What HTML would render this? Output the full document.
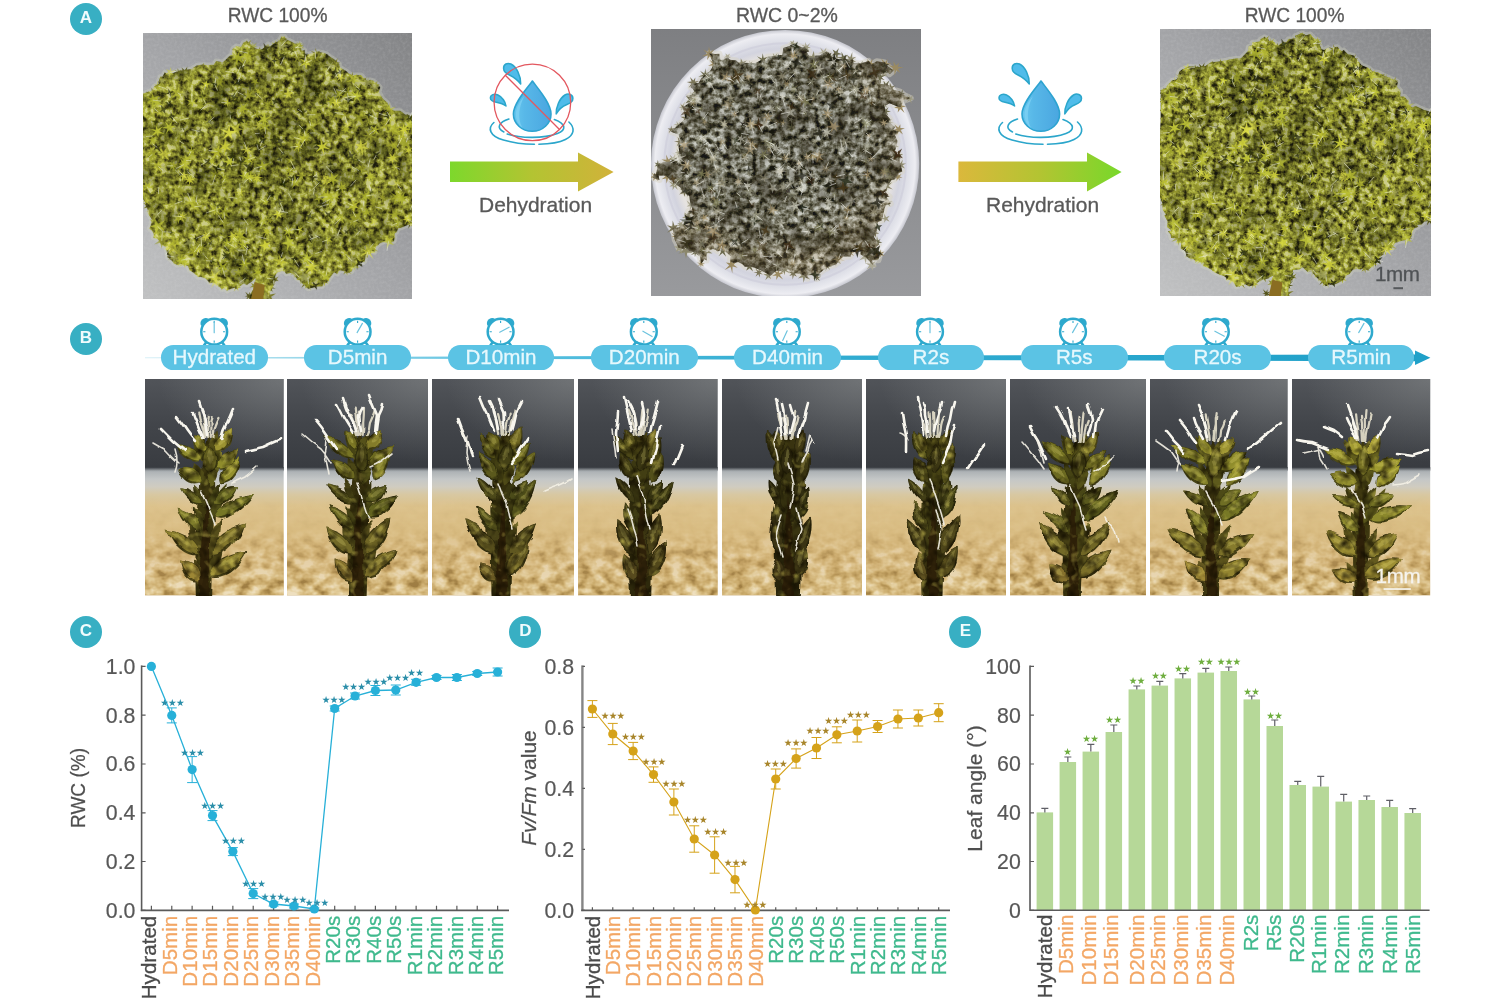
<!DOCTYPE html>
<html lang="en">
<head>
<meta charset="utf-8">
<title>Moss dehydration and rehydration figure</title>
<style>
html,body{margin:0;padding:0;background:#fff;}
body{width:1500px;height:1000px;overflow:hidden;font-family:"Liberation Sans",sans-serif;color:#555;}
#fig{position:relative;width:1500px;height:1000px;overflow:hidden;background:#fff;}
.panel{position:absolute;left:0;top:0;width:1500px;height:0;}
.badge{position:absolute;width:32px;height:32px;border-radius:50%;background:#38afc3;color:#f0fcfd;font-weight:bold;font-size:17px;line-height:30.6px;text-align:center;}
.cap{position:absolute;-webkit-text-stroke:0.3px #595959;font-size:20.6px;line-height:22px;color:#595959;white-space:nowrap;text-align:center;}
.photo{position:absolute;overflow:hidden;}
.photo svg{display:block;position:absolute;left:0;top:0;}
.cap span{display:inline-block;transform-origin:50% 50%;}
.pill{position:absolute;top:345.3px;height:24.6px;width:106.6px;border-radius:12.3px;background:#5bc3e4;color:#e6f8fd;-webkit-text-stroke:0.3px #e6f8fd;font-size:20.6px;line-height:24.4px;text-align:center;white-space:nowrap;}
.layer{position:absolute;left:0;top:0;}
svg text{font-family:"Liberation Sans",sans-serif;}
.star{font-family:"DejaVu Sans","Liberation Sans",sans-serif;}
</style>
</head>
<body>
<div id="fig">
<section class="panel" id="panel-a">
<div class="badge" style="left:69.8px;top:3px">A</div>
<div class="cap" style="left:177.7px;top:3.9px;width:200px"><span style="transform:scaleX(0.93)">RWC 100%</span></div>
<div class="cap" style="left:686.7px;top:3.9px;width:200px"><span style="transform:scaleX(0.945)">RWC 0~2%</span></div>
<div class="cap" style="left:1195px;top:3.9px;width:200px"><span style="transform:scaleX(0.93)">RWC 100%</span></div>
<div class="photo" style="left:143px;top:33px;width:269.4px;height:266px">
<svg width="269.4" height="266" viewBox="0 0 269.4 266" role="img" aria-label="moss cushion photograph">
<defs>
<linearGradient id="m1bg" x1="1" y1="0" x2="0" y2="1"><stop offset="0" stop-color="#838486"/><stop offset="0.5" stop-color="#a3a4a7"/><stop offset="1" stop-color="#c0c1c2"/></linearGradient>
<filter id="m1n" x="0" y="0" width="100%" height="100%" color-interpolation-filters="sRGB"><feTurbulence type="fractalNoise" baseFrequency="0.17 0.17" numOctaves="3" seed="3" result="n"/><feColorMatrix in="n" type="matrix" values="2.1 0 0 0 -0.46  2.1 0 0 0 -0.46  2.1 0 0 0 -0.46  0 0 0 0 1" result="g"/><feComponentTransfer in="g" result="c"><feFuncR type="table" tableValues="0.110 0.212 0.353 0.471 0.573 0.667 0.761 0.847"/><feFuncG type="table" tableValues="0.106 0.204 0.345 0.471 0.580 0.682 0.776 0.847"/><feFuncB type="table" tableValues="0.039 0.071 0.125 0.165 0.196 0.227 0.329 0.565"/></feComponentTransfer><feComposite in="c" in2="SourceAlpha" operator="in"/></filter>
<filter id="m1gr" x="0" y="0" width="100%" height="100%"><feTurbulence type="fractalNoise" baseFrequency="0.35" numOctaves="2" seed="5"/><feColorMatrix type="matrix" values="0 0 0 0 0.85  0 0 0 0 0.85  0 0 0 0 0.86  0.8 0 0 0 -0.3"/></filter>
<filter id="m1bl" x="-5%" y="-5%" width="110%" height="110%"><feGaussianBlur stdDeviation="0.7"/></filter>
<filter id="m1lf" x="0" y="0" width="100%" height="100%" color-interpolation-filters="sRGB"><feTurbulence type="fractalNoise" baseFrequency="0.045" numOctaves="2" seed="10"/><feColorMatrix type="matrix" values="0 0 0 0 0.08  0 0 0 0 0.09  0 0 0 0 0.02  3.2 0 0 0 -1.35"/><feComposite in2="SourceAlpha" operator="in"/></filter>
<radialGradient id="m1sh" cx="0.52" cy="0.42" r="0.6"><stop offset="0" stop-color="#0a0c00" stop-opacity="0.16"/><stop offset="0.55" stop-color="#0a0c00" stop-opacity="0.05"/><stop offset="1" stop-color="#e8ea40" stop-opacity="0.16"/></radialGradient>
</defs>
<rect width="269.4" height="266" fill="url(#m1bg)"/>
<rect width="269.4" height="266" filter="url(#m1gr)" opacity="0.3"/>
<g filter="url(#m1bl)">
<path d="M-0.3 60.8L5.6 58.5L9.4 57.4L11 53.5L15.8 50.8L15.4 48.8L17.3 43.5L19.4 43.8L21.8 39.2L24.3 41.5L29.6 40.3L35.4 37.9L39.7 37.2L42.6 36.7L48.5 36L53.6 32.5L59.5 31.6L63.9 31.9L70.7 31.8L73.1 27.9L79.5 29.2L82.2 27.2L86.4 23.1L88.8 21.8L89.7 15.8L93.4 13.1L98 14L100.4 9.6L103.8 8.1L106.6 11.6L109.9 13.6L113.4 16L117 16L118.8 16.5L125.2 11L126.8 13.7L130.8 10.4L133.1 9L136.2 7.9L138.4 3.4L141.3 3.3L142.8 6L150.1 9.6L151.2 10.6L157 10.7L156.6 11.3L158.5 18.1L161.5 16.8L162.4 22.3L164.2 21.6L169.8 19.9L173.2 19.4L174.9 18.7L180.3 19.8L184.1 21.2L186 23.1L191.3 26.4L196.3 31.1L196.4 33.1L197.8 34.9L203.1 37.9L205.7 40.4L209.4 42L218.1 41.9L220.5 44.8L224.9 48L227.1 46.8L230.4 47.8L233.9 50.8L237.2 54.3L235.9 58.7L238 62.9L240.5 66.6L242.2 67.7L244.4 69.8L247.4 75.8L250.9 77.7L257.2 77.8L262.4 81.7L264.6 81.5L271.4 85.3L270.4 109.5L273.2 138.9L269.6 166.9L271.9 190.6L267.5 193.2L266.3 191.2L257.3 194.9L255.5 194.9L253.4 199.2L251.6 200.6L251.7 205.1L250.9 208.3L245.6 209.1L242.7 207.7L236.4 210.5L234 212.9L233.3 213.2L231.7 219.1L227.6 218.1L225.5 220.2L223 221L221.7 228.5L216.8 229.5L215.8 231.1L213.1 231L210.3 235.1L208.6 238.6L204.4 239.9L202.7 237.9L196.5 237.3L194.4 240.9L191 239.3L187.3 244L187.6 243.9L183.6 249.8L180.8 249.7L179.5 253.2L174.2 253.4L166.8 255.3L165.1 255.8L160.5 251.5L156.8 247.2L153.8 245.5L148.8 239.7L143.1 240.7L141.5 238.6L138.8 238.1L134 239.5L130.2 245.9L130.5 252.4L126.6 259.8L125 268.3L120.4 271L116 270.3L113.4 269.3L105.6 269.1L107.6 260.4L110 256.8L112.2 249.5L112.7 244.8L108.5 248.8L103.8 251.8L100.4 250.6L93.6 256L91.3 254.8L84.9 257.1L84.3 257.7L80.8 254.9L79.1 256.2L73.9 251.4L70.8 249.5L66.4 249.4L62.7 245.4L57.7 243.7L55.1 244.1L50.9 240L46.4 237.2L45.6 234.5L45.1 233.3L39.5 230.8L34.3 232L31.2 230.4L28.4 227.3L26.3 225.4L24.6 224.4L23.9 219.5L22.8 213.7L21.4 213.2L17.7 211.2L16.3 208.1L14.7 206.1L10.4 204.7L10.8 201L9.1 197.7L6.3 195.6L8.5 190.7L8.8 186.5L4.7 179.8L6.3 179L2.5 172L2.3 169.2L-1.3 164.1L-1.7 165.2L-1.8 159L0 134.2L-1.8 108L-2 86.3Z" fill="none" stroke="#d4d6c0" stroke-width="5" stroke-linejoin="round" opacity="0.35"/>
<g><path d="M0.1 60.5L2.6 62.3L3.7 58L3.8 62.3L6.8 61.1L4.9 63.3L7.7 65.1L4.3 64.8L4.6 68.2L2.8 65.2L0.7 67.2L1.6 64.4L-2.6 64.1L1.5 63Z" fill="#55551c"/><path d="M8.8 62.7L8.6 60.2L5.6 59.2L8.7 58.4L8.4 54.5L10.4 57.8L14 56.3L11.3 59.3L13.8 62.1L10.3 60.6Z" fill="#7a7a2a"/><path d="M20.8 56L20.2 52.7L16.7 53.7L19.7 51.4L17 48.8L20.4 50.2L21.2 47.1L21.7 50.3L24.5 49.7L22.3 51.5L25.2 54.1L21.5 52.5Z" fill="#a0a236"/><path d="M31.5 42.2L28 43.8L29.8 46.8L26.9 44.6L25.2 48L25.6 44.3L22.7 44.3L25.5 43L23.3 39.7L26.3 41.8L27.7 39.8L27.8 42.3Z" fill="#6a6a26"/><path d="M38.3 36.4L36.9 38.9L39.6 40L36.8 40.5L37.9 43.6L35.5 41.4L33.4 45.3L34.2 40.7L29.6 41.6L33.8 39.4L31.6 37.3L34.4 38.1L34.8 35.3L35.8 38.1Z" fill="#6a6a26"/><path d="M39.3 45.5L40.3 40.5L36.4 39.9L40.3 38.5L38.4 34.4L41.8 37.2L44.4 33.6L43.5 38L48.1 38.4L44 40L45.6 43.9L42.2 41Z" fill="#55551c"/><path d="M47.5 38.5L51.6 38.4L50.8 34.6L52.9 37.5L55.3 35.8L54.3 38.6L58.1 39.9L53.8 40.1L54.8 44.2L52.5 40.8L49.3 43.6L51.2 39.8Z" fill="#55551c"/><path d="M65 33.7L61.7 35.6L63.1 39.9L59.9 36.6L56.6 39L58.4 35.3L55.1 32.9L59.1 33.3L60.5 29.7L61.2 33.6Z" fill="#8c8c30"/><path d="M70.8 31.1L73 33.1L75 30.3L74.3 33.6L76.7 34.1L74.4 35L75.9 38.5L73.2 35.8L71.4 37.9L71.8 35.2L68.1 34.8L72 33.9Z" fill="#55551c"/><path d="M83.2 29.6L83.5 32.4L86.8 32.5L84 34.3L86.1 37.5L82.7 35.7L81 38.7L80.9 35.2L77.9 35.2L80.5 33.5L78.2 30.2L81.7 32.3Z" fill="#b0b23c"/><path d="M91.8 23.5L92.2 19.6L88.7 20.5L91.7 18.5L88.7 16.3L92 17.2L92.1 13.6L93.5 17.1L96.3 14.8L94.7 17.8L98.4 18.7L94.2 19.2L96 22.4L93.4 20.3Z" fill="#55551c"/><path d="M108.5 6.7L106.6 10.3L109.1 11.6L106 11.8L106.3 14.7L104.6 12.6L101.8 14.7L103.6 11.4L99.4 9.9L103.7 9.9L103.5 7.1L105.2 9.4Z" fill="#8c8c30"/><path d="M122.8 20.9L117.6 19.8L118.2 23.5L116.3 20.9L113.4 23.7L114.7 19.8L111.6 19.3L114.9 18.1L112.9 15.1L115.8 16.7L117 13.7L117.4 17.3L121 15.8L118.6 18.5Z" fill="#7a7a2a"/><path d="M137 14L133.2 13.6L134 17.8L131.8 14.2L129 17.3L130.3 13.5L127.3 13L130.5 11.9L128.4 9L131.4 10.9L132.4 7.6L133.1 10.6L137.3 8.8L133.5 12.2Z" fill="#b0b23c"/><path d="M138.4 3.2L140.7 5.3L141.9 3L141.8 5.6L144.2 5.1L142.3 6.6L144.9 8.5L141.8 7.5L141.7 9.9L140.7 7.7L138.5 9.5L139.8 7.1L136.5 6.4L139.9 6Z" fill="#8c8c30"/><path d="M157.3 9.4L157.9 12.4L161 11.3L158.3 13.8L161.3 15.3L158.1 15L159 18.8L156.9 15.8L154.8 18L155.9 14.8L152.9 14.7L155.6 13.6L152.7 10.1L156.4 12.5Z" fill="#a0a236"/><path d="M156.7 19.1L160.1 23.2L162.3 20.1L161.9 23.9L165.5 23.8L162.1 25.7L166.3 29.5L161.1 26.9L160.6 31L159.6 27.1L154.7 30.5L158.4 25.9L154.8 24.5L158.3 24Z" fill="#8c8c30"/><path d="M167.6 17.8L172.1 19.4L172.6 14.7L173.6 19.1L177.7 17.6L174.3 20.5L177.9 23.3L173.8 22.2L172.9 25L172 22L168.2 23.4L170.9 20.6Z" fill="#7a7a2a"/><path d="M192 35.8L191.2 32.1L187.8 33.6L190.2 30.8L187.2 29.2L190.9 29.4L189.6 24.9L192.1 28.5L194.8 24.9L193.4 29.4L197.3 29.3L193.7 30.8L196.7 34.2L192.8 32Z" fill="#7a7a2a"/><path d="M196.7 41.7L199.8 40.8L199.4 36.9L201.5 40.3L205 38.7L202.2 41.6L204.9 44.4L201.4 42.8L199.7 45.8L199.8 42.6Z" fill="#55551c"/><path d="M204.7 41.7L208.6 43.2L209.2 38.4L210.3 43.4L213.6 41.4L211.7 44.5L214.9 45.8L211.3 46.1L212.3 49.7L209.8 46.9L207.3 51.2L208.3 46.3L203.7 46.9L207.7 44.8Z" fill="#7a7a2a"/><path d="M211.7 50L216.5 48L215.9 43.6L218.9 47L223.8 44.2L220.4 48.9L223.4 51.9L219.2 50.8L217.1 55.8L216.9 50.6Z" fill="#7a7a2a"/><path d="M235.9 55.5L233.1 53.5L231.6 55.5L231.6 53.1L229 52.7L231.7 51.6L230.3 49L232.6 50.8L234.5 47.4L233.8 51.2L236.9 51.3L234.4 52.6Z" fill="#8c8c30"/><path d="M241.5 69.8L237.3 70.1L236.8 73.8L235.2 70.5L230.3 71.5L234.3 68.5L232.6 65.1L235.9 67.1L239.3 62.9L237.6 68.1Z" fill="#6a6a26"/><path d="M238.6 79.1L243.9 78.7L244.6 74.1L246.5 78.5L251.7 77.3L247.7 80.7L250.8 85.8L245.8 82.6L242.9 85.3L243.3 81.4Z" fill="#a0a236"/><path d="M254.5 82.6L256.9 82.2L255.4 79.1L257.8 81.4L259.2 78.5L259 81.7L261.4 81.4L259.3 82.9L262.3 85.2L258.8 83.9L258.6 86.4L257.6 84.2L254.8 86.5L256.7 83.4Z" fill="#55551c"/><path d="M261.7 87.5L266.2 86.1L264.5 83.3L267.5 85.2L268.7 80.9L269.1 85.2L272.8 83.8L269.6 86.6L273.1 88.5L269.2 87.9L269.7 91.5L267.9 88.6L265.2 91.3L266.4 87.8Z" fill="#b0b23c"/><path d="M263.7 99.9L265.8 95.7L262.7 93.8L266.3 94.2L267.2 90.9L268.2 93.9L272.4 93.7L268.5 95.8L269.7 99L267.1 96.9Z" fill="#55551c"/><path d="M270.3 103.5L268.6 106.7L271 107.8L268.2 108L269 111.7L267.1 108.5L264.8 110.3L265.8 107.7L263.1 106.5L266.2 106.4L265.6 102.7L267.5 105.9Z" fill="#b0b23c"/><path d="M271.5 111.2L268.4 114.5L271.4 116.5L268.1 116.1L267.6 119.3L266.2 116.5L263 117.7L265.4 114.9L261.7 112.5L266 113.5L266.1 108.8L267.5 113.2Z" fill="#b0b23c"/><path d="M274 124.6L270.5 126.1L272.6 129.1L269.7 127.2L268.4 129.2L268.4 126.7L265.6 126.8L268.2 125.5L266.3 122.8L268.9 124.3L270.4 122L270.4 124.7Z" fill="#55551c"/><path d="M267 125.1L269.2 130.1L274.5 128.3L270.8 132.1L273.8 136.6L268.9 133.8L265.7 138.2L266.7 132.9L263 131.3L267.2 130.7Z" fill="#8c8c30"/><path d="M267.4 138.8L269.2 142.1L271.9 139.2L270.3 142.9L274 143.2L270.7 144.3L272.4 147.1L269.5 145L268.3 149.4L268.1 145.1L264.9 146.1L267.5 143.8L264.2 141.9L267.9 142.5Z" fill="#7a7a2a"/><path d="M272.4 157L269.7 154.7L268 157.3L268.5 154.2L265.1 154.1L268.3 152.9L267.1 150.4L269.3 152.1L271 149.6L270.7 152.5L273.4 152.8L270.7 153.9Z" fill="#6a6a26"/><path d="M262.2 163.1L265.4 159.9L260.7 156.8L266 158.4L266.5 154.7L267.8 158.1L271.3 156.8L269 159.6L272.1 162.2L267.9 161.2L267.4 164.8L266.1 161.7Z" fill="#a0a236"/><path d="M263.2 173.2L268.1 172L266.3 167.9L269.4 170.4L272.1 167.5L270.9 171.8L275.6 172.3L271.1 173.5L273.2 178.1L269.7 174.4L266.7 178.7L268.2 173.6Z" fill="#b0b23c"/><path d="M268 185.1L265.5 180.5L261.6 183.4L263.9 179.3L259.3 177.2L264.7 177.6L264.2 173.5L266.3 176.8L270.4 173.7L267.4 178.2L271.1 179.8L267.4 180.1Z" fill="#8c8c30"/><path d="M270.4 195.2L267.8 191.8L265.2 195.5L266.3 191.1L261.6 191.5L266.1 189.6L263.5 186.7L267 188.5L267.6 183.9L268.4 188.4L271.6 186.7L269.2 189.6L273.5 191.1L269.2 191Z" fill="#55551c"/><path d="M252.1 190.9L253.3 192.9L256.1 191L254.3 193.8L256.3 195L253.8 194.9L254.1 198.5L252.6 195.4L249.7 197.3L251.5 194.4L249.1 193L251.9 193Z" fill="#55551c"/><path d="M243.9 209.9L246.5 207.3L243.9 205.6L246.9 206.3L247.2 203.9L248.1 206L250.4 205.1L248.6 207.1L250.7 208.5L248.4 208.2L248 211.2L247.2 208.1Z" fill="#7a7a2a"/><path d="M223.4 209.1L229 208.4L226.3 203.5L230.2 207.1L232.3 203.2L232.1 207.6L235.5 207.1L232.9 209.3L236.5 212.3L232.1 211.1L231.7 214.6L230.1 211.6L226.9 213.7L229.1 210Z" fill="#6a6a26"/><path d="M223.1 213L223.5 217.9L227.5 216.1L224.4 219.1L227.4 220.8L224.2 220.8L224.9 224.9L222.5 221.5L220.1 223.9L221.1 220.5L217.1 220.3L220.8 218.9L219.1 216.2L222 217.8Z" fill="#6a6a26"/><path d="M208.9 233L212.4 230L209.9 227.3L213.6 228.5L214.7 223.2L215.3 228.6L219.5 227.4L216 230.2L218.9 232.9L215.2 231.6L214.1 236.9L213.3 231.8Z" fill="#55551c"/><path d="M200.2 241.5L201.8 238.6L198.2 237.5L201.8 236.9L199.8 232.6L203.2 236.2L205.1 232.5L204.5 236.8L209.4 235.5L204.9 238L208.9 241L204.3 239.1L204.3 242.6L203 239.6Z" fill="#8c8c30"/><path d="M185.6 234.7L189 233.6L187.7 229.9L190.6 232.3L193.1 229.7L192.3 233.4L197.6 234.1L192.4 235.3L193.6 239L190.8 236.4L187.6 240.4L189.2 235.4Z" fill="#6a6a26"/><path d="M176.4 250.4L180.1 247.8L176.9 244.6L181.1 246.7L182.2 242.2L182.5 246.8L185.4 246.2L183.2 248.1L185.5 250.7L182.4 249.6L181.2 253.4L180.6 249.5Z" fill="#b0b23c"/><path d="M164.7 254.2L162.2 251.8L158.4 254.7L160.7 250.6L156.5 247.7L161.4 248.6L163 243.9L163.4 249.2L167.1 249.2L163.7 250.8Z" fill="#6a6a26"/><path d="M153.2 246.9L156.3 244.7L154.8 240.7L158.1 243.3L161.2 240.9L159.5 244.8L162.6 246.7L159.4 247L158.1 250.2L156.9 246.9Z" fill="#b0b23c"/><path d="M141 234.4L146.1 233.8L144.5 230.2L147.5 233.1L149.2 229.9L149.2 233.3L154.3 232.1L150 234.9L153.1 237.7L149 236.5L149 241.8L147.2 236.9L143.6 239.5L146.1 235.5Z" fill="#b0b23c"/><path d="M138 235.2L134.9 236L135.9 238.7L133.9 236.7L131.7 239.5L132.7 236.1L129 235.7L132.8 234.9L131.7 232.2L133.7 234.1L135.6 231.9L135 234.6Z" fill="#6a6a26"/><path d="M128.7 246.4L131.2 245.4L130.6 241.9L132.6 245L135.6 243.4L133.6 246L135.8 248.2L132.9 247.5L131.3 250.6L131.3 247Z" fill="#7a7a2a"/><path d="M125.2 259.4L125.7 255.9L120.9 256.3L125.7 254.2L122.9 251.2L126.6 253L127.2 249.5L128.1 253L132.6 250.1L128.9 254.1L132.5 255.5L128.7 255.5L129.7 258.9L127.4 256.4Z" fill="#55551c"/><path d="M133 260.5L128.1 263.7L129.9 267.9L126.2 265.5L122.6 268.4L124.3 263.8L119.8 261.5L124.9 261.7L125.7 256.8L127 261.6Z" fill="#7a7a2a"/><path d="M114.5 258.6L117.7 261.5L119.9 256.1L119.3 261.9L123.6 260.8L120.5 263.4L124.9 266.9L119.2 264.8L119.6 271.1L117.5 265.5L113.9 268.3L116.3 264.1L111.5 263.2L115.8 262.2Z" fill="#a0a236"/><path d="M102.6 267.5L104.7 263.7L101.7 263.2L104.3 262.4L102.3 258.8L105.4 261.4L106.7 258.8L106.8 261.9L110.8 260.5L107.4 263.1L110.6 265.2L106.8 264.2L106.9 266.9L105.6 264.5Z" fill="#55551c"/><path d="M106.6 254.6L109.6 252.5L107.9 249.9L110.8 251.2L112.3 246.9L112.5 251.3L115.6 251.2L113.3 253.1L115.8 256.4L111.9 254.1L110.6 257.4L110.5 253.9Z" fill="#8c8c30"/><path d="M116.5 242.7L113.7 241.6L111.8 245.8L111.6 241.3L107.2 241.6L111.2 239.3L108.3 235.5L112.5 238.2L114.1 234L114.2 238.3L117.7 238L114.9 240Z" fill="#a0a236"/><path d="M101.5 240.7L103.8 244.8L107.1 242.8L105.3 246.2L108.7 248L105 248.2L105 251.9L103 248.4L99.3 251.2L101.8 247.3L96.8 245.3L101.9 245.4Z" fill="#7a7a2a"/><path d="M90.7 258.5L92.4 254.3L88.3 254.3L92.1 253L89.2 249.3L93.2 252.2L94.1 248.4L94.5 252L98.2 250.5L95.2 253.3L98.2 254.9L94.8 254.6L95.3 257.9L93.5 254.9Z" fill="#b0b23c"/><path d="M79.8 245.7L81.2 249.9L84.3 248.1L82.3 251.2L86.6 252.6L82.2 253L84.4 258.2L80.7 254.1L78.6 257.1L79 253.3L74.7 253.9L78.8 251.7L75.8 249L79.6 250.4Z" fill="#8c8c30"/><path d="M62.5 245L66.6 245.2L67.2 241.4L68.4 244.9L72.2 244.4L69.1 246.7L70.4 249.6L67.6 247.8L65.5 249.6L66 246.9Z" fill="#6a6a26"/><path d="M63 242.8L60.4 241.6L58.8 244.5L58.7 241.2L55.5 241.4L58.3 239.6L55.7 236.2L59.4 238.5L60.7 235.9L60.8 239L64.6 238.4L61.4 240.3Z" fill="#55551c"/><path d="M58.4 238L53.4 237.1L51.9 240.8L51 236.9L47.1 236.6L50.4 234.5L49.3 230.2L52.5 233.8L56.4 230.8L54.3 234.9Z" fill="#b0b23c"/><path d="M47.3 229.6L43 229.5L41.7 233.6L40.7 229.1L35.6 229.7L40.2 227.3L38 222.5L41.8 225.7L45.7 222.4L43.5 227.2Z" fill="#a0a236"/><path d="M27.1 221.7L30.8 222.4L31.4 218.3L32.5 222.4L36.3 220.9L33.4 223.8L37.3 226.6L32.8 225.4L32.1 229.8L31 225.5L27.3 226.9L29.9 224.1Z" fill="#a0a236"/><path d="M28.5 203.7L26.7 209.4L32.6 209.9L27 211.2L28.4 215.1L25.3 212.2L22.9 215.2L23.5 211.5L19.1 210.8L23.2 209.4L21.2 204.4L25.1 208.7Z" fill="#6a6a26"/><path d="M13.4 206.6L13 202.8L10.2 203.3L12.5 201.5L10.1 198.9L13.2 200.2L14.2 197.3L14.8 200.3L17.7 199.8L15.5 201.7L17.9 204.4L14.4 202.8Z" fill="#b0b23c"/><path d="M6.9 191.6L9.4 189.6L6.4 185.9L10.7 188.2L12.3 184.2L12.4 188.6L17.4 187.6L13.3 190.2L15.3 193.1L12.1 191.8L10.3 196.5L10.3 191.2Z" fill="#b0b23c"/><path d="M12.6 175.5L10.8 178.9L14.7 180.6L10.4 180.6L11 184.7L8.8 181.5L5.7 183.4L7.1 180.2L3.5 178.4L7.9 178.4L7.3 174.1L9.5 177.5Z" fill="#b0b23c"/><path d="M-0 169.8L4.2 171.3L5.1 167.5L5.9 171.2L10.6 169.6L6.9 172.7L10.5 175.9L5.9 174.2L5 178.3L4.1 174.4L0.4 175.4L3.4 172.7Z" fill="#7a7a2a"/><path d="M-0.7 154.5L0.8 158L4.4 154.5L2.1 158.8L6.1 159.5L2.1 160.3L4.5 164.5L0.9 161.3L-0.6 164.7L-0.7 161.1L-4.7 162.1L-1.4 159.6L-3.9 157.5L-0.7 158.1Z" fill="#8c8c30"/><path d="M-4.3 152.8L-1.8 149.6L-5.5 147L-1.3 147.4L-0.5 143.8L1.1 147.1L5.4 145.5L2.2 149.1L5.7 151.8L1.6 151.4L0.9 155.2L-0.7 151.4Z" fill="#b0b23c"/><path d="M5 135.5L4.9 139.1L7.5 139.3L5.2 140.8L7.3 143.9L4.1 141.6L2.6 144.8L2.5 141.6L-0.5 141.5L2.1 139.9L0.8 137.5L3.3 138.8Z" fill="#a0a236"/><path d="M3.9 122.2L5.1 126.7L9 124.6L6.4 128.1L10 129.9L5.9 130L7.3 134.7L4.2 130.7L2 133.7L2.8 129.9L-2.5 130.5L2.3 128.4L-1.6 124.5L3.2 126.9Z" fill="#7a7a2a"/><path d="M0.3 117.8L3.6 119.7L6.1 117.3L5.1 120.9L8.3 122.3L5.1 122.8L4.4 125.7L3.1 122.9L-0.3 123.5L2.5 121.3Z" fill="#a0a236"/><path d="M6.6 113.4L4.1 112.8L3.3 115.2L2.6 112.8L-0.6 113.7L2 111.4L-0.6 109L2.7 110.2L3.5 106.8L4.1 110.3L6.8 109.6L5 111.5Z" fill="#8c8c30"/><path d="M-0.3 106.4L0.7 102.9L-1.9 101.3L1.4 101.4L1.8 98.4L2.8 101.3L6.3 100.6L3.7 102.7L5.3 105.9L2.3 103.8Z" fill="#6a6a26"/><path d="M5.7 97.1L3.2 94.6L0.5 98.3L1.9 93.9L-2.1 93.4L1.8 92.5L0.8 89.6L3 91.6L5.4 88.6L4.3 92.4L7.9 92.9L4.5 93.8Z" fill="#55551c"/><path d="M-1.1 82.1L3.2 81.8L2.7 78.3L4.8 80.8L8.1 78.2L6 82.2L11.2 83.7L6.1 84L6.9 88.5L4.3 84.6L1.5 86.8L2.5 83.7Z" fill="#7a7a2a"/><path d="M-2 73L1.6 72.2L1 67.8L3.2 71.6L5.9 70.7L4.2 73L5.9 75.3L3.2 74.5L1.1 78.1L1.3 74Z" fill="#8c8c30"/></g>
<path d="M-0.3 60.8L5.6 58.5L9.4 57.4L11 53.5L15.8 50.8L15.4 48.8L17.3 43.5L19.4 43.8L21.8 39.2L24.3 41.5L29.6 40.3L35.4 37.9L39.7 37.2L42.6 36.7L48.5 36L53.6 32.5L59.5 31.6L63.9 31.9L70.7 31.8L73.1 27.9L79.5 29.2L82.2 27.2L86.4 23.1L88.8 21.8L89.7 15.8L93.4 13.1L98 14L100.4 9.6L103.8 8.1L106.6 11.6L109.9 13.6L113.4 16L117 16L118.8 16.5L125.2 11L126.8 13.7L130.8 10.4L133.1 9L136.2 7.9L138.4 3.4L141.3 3.3L142.8 6L150.1 9.6L151.2 10.6L157 10.7L156.6 11.3L158.5 18.1L161.5 16.8L162.4 22.3L164.2 21.6L169.8 19.9L173.2 19.4L174.9 18.7L180.3 19.8L184.1 21.2L186 23.1L191.3 26.4L196.3 31.1L196.4 33.1L197.8 34.9L203.1 37.9L205.7 40.4L209.4 42L218.1 41.9L220.5 44.8L224.9 48L227.1 46.8L230.4 47.8L233.9 50.8L237.2 54.3L235.9 58.7L238 62.9L240.5 66.6L242.2 67.7L244.4 69.8L247.4 75.8L250.9 77.7L257.2 77.8L262.4 81.7L264.6 81.5L271.4 85.3L270.4 109.5L273.2 138.9L269.6 166.9L271.9 190.6L267.5 193.2L266.3 191.2L257.3 194.9L255.5 194.9L253.4 199.2L251.6 200.6L251.7 205.1L250.9 208.3L245.6 209.1L242.7 207.7L236.4 210.5L234 212.9L233.3 213.2L231.7 219.1L227.6 218.1L225.5 220.2L223 221L221.7 228.5L216.8 229.5L215.8 231.1L213.1 231L210.3 235.1L208.6 238.6L204.4 239.9L202.7 237.9L196.5 237.3L194.4 240.9L191 239.3L187.3 244L187.6 243.9L183.6 249.8L180.8 249.7L179.5 253.2L174.2 253.4L166.8 255.3L165.1 255.8L160.5 251.5L156.8 247.2L153.8 245.5L148.8 239.7L143.1 240.7L141.5 238.6L138.8 238.1L134 239.5L130.2 245.9L130.5 252.4L126.6 259.8L125 268.3L120.4 271L116 270.3L113.4 269.3L105.6 269.1L107.6 260.4L110 256.8L112.2 249.5L112.7 244.8L108.5 248.8L103.8 251.8L100.4 250.6L93.6 256L91.3 254.8L84.9 257.1L84.3 257.7L80.8 254.9L79.1 256.2L73.9 251.4L70.8 249.5L66.4 249.4L62.7 245.4L57.7 243.7L55.1 244.1L50.9 240L46.4 237.2L45.6 234.5L45.1 233.3L39.5 230.8L34.3 232L31.2 230.4L28.4 227.3L26.3 225.4L24.6 224.4L23.9 219.5L22.8 213.7L21.4 213.2L17.7 211.2L16.3 208.1L14.7 206.1L10.4 204.7L10.8 201L9.1 197.7L6.3 195.6L8.5 190.7L8.8 186.5L4.7 179.8L6.3 179L2.5 172L2.3 169.2L-1.3 164.1L-1.7 165.2L-1.8 159L0 134.2L-1.8 108L-2 86.3Z" fill="#6d7420" filter="url(#m1n)"/>
<path d="M-0.3 60.8L5.6 58.5L9.4 57.4L11 53.5L15.8 50.8L15.4 48.8L17.3 43.5L19.4 43.8L21.8 39.2L24.3 41.5L29.6 40.3L35.4 37.9L39.7 37.2L42.6 36.7L48.5 36L53.6 32.5L59.5 31.6L63.9 31.9L70.7 31.8L73.1 27.9L79.5 29.2L82.2 27.2L86.4 23.1L88.8 21.8L89.7 15.8L93.4 13.1L98 14L100.4 9.6L103.8 8.1L106.6 11.6L109.9 13.6L113.4 16L117 16L118.8 16.5L125.2 11L126.8 13.7L130.8 10.4L133.1 9L136.2 7.9L138.4 3.4L141.3 3.3L142.8 6L150.1 9.6L151.2 10.6L157 10.7L156.6 11.3L158.5 18.1L161.5 16.8L162.4 22.3L164.2 21.6L169.8 19.9L173.2 19.4L174.9 18.7L180.3 19.8L184.1 21.2L186 23.1L191.3 26.4L196.3 31.1L196.4 33.1L197.8 34.9L203.1 37.9L205.7 40.4L209.4 42L218.1 41.9L220.5 44.8L224.9 48L227.1 46.8L230.4 47.8L233.9 50.8L237.2 54.3L235.9 58.7L238 62.9L240.5 66.6L242.2 67.7L244.4 69.8L247.4 75.8L250.9 77.7L257.2 77.8L262.4 81.7L264.6 81.5L271.4 85.3L270.4 109.5L273.2 138.9L269.6 166.9L271.9 190.6L267.5 193.2L266.3 191.2L257.3 194.9L255.5 194.9L253.4 199.2L251.6 200.6L251.7 205.1L250.9 208.3L245.6 209.1L242.7 207.7L236.4 210.5L234 212.9L233.3 213.2L231.7 219.1L227.6 218.1L225.5 220.2L223 221L221.7 228.5L216.8 229.5L215.8 231.1L213.1 231L210.3 235.1L208.6 238.6L204.4 239.9L202.7 237.9L196.5 237.3L194.4 240.9L191 239.3L187.3 244L187.6 243.9L183.6 249.8L180.8 249.7L179.5 253.2L174.2 253.4L166.8 255.3L165.1 255.8L160.5 251.5L156.8 247.2L153.8 245.5L148.8 239.7L143.1 240.7L141.5 238.6L138.8 238.1L134 239.5L130.2 245.9L130.5 252.4L126.6 259.8L125 268.3L120.4 271L116 270.3L113.4 269.3L105.6 269.1L107.6 260.4L110 256.8L112.2 249.5L112.7 244.8L108.5 248.8L103.8 251.8L100.4 250.6L93.6 256L91.3 254.8L84.9 257.1L84.3 257.7L80.8 254.9L79.1 256.2L73.9 251.4L70.8 249.5L66.4 249.4L62.7 245.4L57.7 243.7L55.1 244.1L50.9 240L46.4 237.2L45.6 234.5L45.1 233.3L39.5 230.8L34.3 232L31.2 230.4L28.4 227.3L26.3 225.4L24.6 224.4L23.9 219.5L22.8 213.7L21.4 213.2L17.7 211.2L16.3 208.1L14.7 206.1L10.4 204.7L10.8 201L9.1 197.7L6.3 195.6L8.5 190.7L8.8 186.5L4.7 179.8L6.3 179L2.5 172L2.3 169.2L-1.3 164.1L-1.7 165.2L-1.8 159L0 134.2L-1.8 108L-2 86.3Z" fill="url(#m1sh)"/>
<path d="M-0.3 60.8L5.6 58.5L9.4 57.4L11 53.5L15.8 50.8L15.4 48.8L17.3 43.5L19.4 43.8L21.8 39.2L24.3 41.5L29.6 40.3L35.4 37.9L39.7 37.2L42.6 36.7L48.5 36L53.6 32.5L59.5 31.6L63.9 31.9L70.7 31.8L73.1 27.9L79.5 29.2L82.2 27.2L86.4 23.1L88.8 21.8L89.7 15.8L93.4 13.1L98 14L100.4 9.6L103.8 8.1L106.6 11.6L109.9 13.6L113.4 16L117 16L118.8 16.5L125.2 11L126.8 13.7L130.8 10.4L133.1 9L136.2 7.9L138.4 3.4L141.3 3.3L142.8 6L150.1 9.6L151.2 10.6L157 10.7L156.6 11.3L158.5 18.1L161.5 16.8L162.4 22.3L164.2 21.6L169.8 19.9L173.2 19.4L174.9 18.7L180.3 19.8L184.1 21.2L186 23.1L191.3 26.4L196.3 31.1L196.4 33.1L197.8 34.9L203.1 37.9L205.7 40.4L209.4 42L218.1 41.9L220.5 44.8L224.9 48L227.1 46.8L230.4 47.8L233.9 50.8L237.2 54.3L235.9 58.7L238 62.9L240.5 66.6L242.2 67.7L244.4 69.8L247.4 75.8L250.9 77.7L257.2 77.8L262.4 81.7L264.6 81.5L271.4 85.3L270.4 109.5L273.2 138.9L269.6 166.9L271.9 190.6L267.5 193.2L266.3 191.2L257.3 194.9L255.5 194.9L253.4 199.2L251.6 200.6L251.7 205.1L250.9 208.3L245.6 209.1L242.7 207.7L236.4 210.5L234 212.9L233.3 213.2L231.7 219.1L227.6 218.1L225.5 220.2L223 221L221.7 228.5L216.8 229.5L215.8 231.1L213.1 231L210.3 235.1L208.6 238.6L204.4 239.9L202.7 237.9L196.5 237.3L194.4 240.9L191 239.3L187.3 244L187.6 243.9L183.6 249.8L180.8 249.7L179.5 253.2L174.2 253.4L166.8 255.3L165.1 255.8L160.5 251.5L156.8 247.2L153.8 245.5L148.8 239.7L143.1 240.7L141.5 238.6L138.8 238.1L134 239.5L130.2 245.9L130.5 252.4L126.6 259.8L125 268.3L120.4 271L116 270.3L113.4 269.3L105.6 269.1L107.6 260.4L110 256.8L112.2 249.5L112.7 244.8L108.5 248.8L103.8 251.8L100.4 250.6L93.6 256L91.3 254.8L84.9 257.1L84.3 257.7L80.8 254.9L79.1 256.2L73.9 251.4L70.8 249.5L66.4 249.4L62.7 245.4L57.7 243.7L55.1 244.1L50.9 240L46.4 237.2L45.6 234.5L45.1 233.3L39.5 230.8L34.3 232L31.2 230.4L28.4 227.3L26.3 225.4L24.6 224.4L23.9 219.5L22.8 213.7L21.4 213.2L17.7 211.2L16.3 208.1L14.7 206.1L10.4 204.7L10.8 201L9.1 197.7L6.3 195.6L8.5 190.7L8.8 186.5L4.7 179.8L6.3 179L2.5 172L2.3 169.2L-1.3 164.1L-1.7 165.2L-1.8 159L0 134.2L-1.8 108L-2 86.3Z" fill="#000" filter="url(#m1lf)" opacity="0.4"/>
<g filter="url(#m1bl)">
<g><path d="M177.7 67.3L180.9 68.3L182.9 66.6L182.3 69.2L184.9 71.7L181.5 70.7L179 73.1L180 69.7Z" fill="#3a3d14" opacity="0.9"/><path d="M81.9 218.6L83.2 216.4L82.7 213.8L84.9 215.5L88.3 214L85.8 216.8L87.1 219.9L84.5 218.1Z" fill="#2a2c10" opacity="0.7"/><path d="M190.7 152.8L189 150.2L186 150.4L188.2 148.6L188.2 145.6L189.9 148.3L192.8 148.1L190.6 149.8Z" fill="#1c1f08" opacity="0.7"/><path d="M130.1 188.7L126.8 187.2L124.6 188.4L125.2 186L123.9 183.6L126.6 184.8L128.9 183.1L127.7 185.8Z" fill="#1c1f08" opacity="0.8"/><path d="M190.2 84.8L190.3 80.1L186.4 78.1L190.7 78.1L192.5 75.2L192.9 78.5L196.5 80.6L192.4 80.8Z" fill="#3a3d14" opacity="0.8"/><path d="M53.3 173.1L52.2 169.8L48.7 169.3L52.1 168.2L52.6 165.3L53.7 168L56.7 168.6L54.1 169.9Z" fill="#1c1f08" opacity="0.6"/><path d="M11.4 110.3L14.5 112.7L18.2 111.4L15.9 114.6L17.6 119L13.9 115.7L9.7 117.5L12.5 114Z" fill="#2a2c10" opacity="0.8"/><path d="M92.1 156.4L93.9 153.1L91.4 149.2L95.3 151.3L99 149.4L96.9 153.1L98.6 156.3L95.4 154.9Z" fill="#3a3d14" opacity="0.5"/><path d="M111.1 118.6L114.1 116.3L114.1 113L116.2 115.6L120.9 115.1L116.8 117.6L117 121.1L114.8 118.6Z" fill="#1c1f08" opacity="0.7"/><path d="M136 122.7L137.4 124.9L139.7 124.8L137.9 126.1L138.2 129.5L136.4 126.7L133.3 126.9L135.9 125.1Z" fill="#2e3210" opacity="0.8"/><path d="M153.3 92.3L153.6 94.9L157 96.1L153.6 96.5L152.3 99.2L151.8 96.3L149.1 95L152.1 94.6Z" fill="#2a2c10" opacity="0.5"/><path d="M128.4 66.8L131.5 66.9L134.1 63.5L133.4 67.8L136.8 70.3L132.7 69.9L130.2 72.6L130.6 68.9Z" fill="#3a3d14" opacity="0.9"/><path d="M173.9 108.4L176.2 111.5L181.1 111.2L177.2 114L177.4 119.1L174.7 114.5L170.1 114.8L173.5 112.1Z" fill="#23260a" opacity="0.8"/><path d="M102.3 214.6L103.7 212.6L102.3 209.6L104.9 211.6L107.9 210.3L106 212.8L106.7 215.1L104.6 213.8Z" fill="#2a2c10" opacity="0.7"/><path d="M92 120.2L92.1 124.5L95.1 126.6L91.4 126.7L89.4 130L89.1 126.3L85.3 124L89.9 124.1Z" fill="#23260a" opacity="0.5"/><path d="M169.6 248.4L172.3 251L176.6 250.1L173.5 253.1L174 256.7L171.4 254.1L167.7 254.8L170.4 252.2Z" fill="#2a2c10" opacity="0.9"/><path d="M101.2 38.1L99 35.2L95.7 35.9L98.2 33.7L97.9 31L99.8 33L103 32.5L100.4 34.5Z" fill="#2a2c10" opacity="0.8"/><path d="M170.5 100.6L167.7 100.9L166.6 103.6L166.5 100.7L164.4 99.7L166.6 99.4L167.6 97.2L167.8 99.6Z" fill="#23260a" opacity="0.6"/><path d="M207.2 56.4L204.4 59.2L204.8 63.1L202.1 60.2L197.8 60.8L201.1 58L200.7 54.3L203.2 57.1Z" fill="#2a2c10" opacity="0.8"/><path d="M173.7 172.6L177.6 169.7L177.4 165.6L179.9 169.1L184.2 168.6L181 171.3L181.4 176.1L178.6 172Z" fill="#2a2c10" opacity="0.8"/><path d="M164.7 77.2L160.7 79.8L160.2 83.4L158.1 80.3L153 80.4L157.5 77.9L157.4 73L159.7 77.5Z" fill="#23260a" opacity="0.7"/><path d="M192.6 99.6L188.5 100.7L187 105L186 100.6L182.5 99.2L186.2 98.2L187.5 95.1L188.6 98.2Z" fill="#3a3d14" opacity="0.8"/><path d="M42 91.6L40.7 94.9L42.2 97.8L39.1 96.3L35.9 98.4L37.3 95.1L35.3 91.6L38.9 93.6Z" fill="#3a3d14" opacity="0.6"/><path d="M113.4 57L114.3 59.9L117.7 60.4L114.4 61.4L113.8 63.9L112.7 61.6L109.3 60.9L112.8 59.9Z" fill="#2a2c10" opacity="0.6"/><path d="M50.3 210.1L46.4 210.7L45 214.5L44.5 210.4L40.5 209.2L44.5 208.5L45.8 205.3L46.4 208.8Z" fill="#2a2c10" opacity="0.7"/><path d="M131.3 165.1L127.5 163.3L124 166.1L125.8 162.1L123.5 158.8L127.3 160.6L130.8 157.7L128.8 161.8Z" fill="#2e3210" opacity="0.8"/><path d="M102.4 90.4L102.2 87L98.2 84.9L102.8 85L104.6 82.2L105.1 85.4L108.3 87.6L104.2 87.5Z" fill="#2a2c10" opacity="0.7"/><path d="M60.5 79.2L57.9 78.4L55.4 80.6L56.4 77.5L55 75.5L57.4 76.1L59.9 74L58.7 77.1Z" fill="#23260a" opacity="0.7"/><path d="M151.7 94.9L153 91L149.8 87L154.5 88.8L158.5 85.8L156.7 90.5L160.1 94.8L155.1 92.5Z" fill="#2a2c10" opacity="0.5"/><path d="M175.9 64L174 62.6L171 63.9L173.1 61.5L172.4 59.4L174.2 60.6L176.9 59.6L175.2 61.8Z" fill="#2e3210" opacity="0.9"/><path d="M85.1 225.4L82.3 224.5L80 226.2L81 223.5L78.6 221L81.8 222.1L83.9 220.6L83.1 223.1Z" fill="#2e3210" opacity="0.9"/><path d="M123.8 104.9L121 108.1L121.8 111.8L118.9 109.5L114.9 110.4L117.9 107.4L116.1 102.6L119.6 106.3Z" fill="#23260a" opacity="0.8"/><path d="M83.7 204.1L82.4 206.6L83.8 209.4L81.1 207.8L78.2 209.2L79.8 206.5L78.9 204.1L81.2 205.5Z" fill="#2a2c10" opacity="0.6"/><path d="M221.2 57.9L217.4 57.7L215.2 61L215.1 57.2L212.1 54.9L216 55.1L218.5 50.8L218.1 55.7Z" fill="#23260a" opacity="0.7"/><path d="M169.2 210.7L166.4 208.1L163.4 208.8L165.4 206.5L163.9 202.4L167 205.3L170.4 204.3L168 207Z" fill="#2a2c10" opacity="0.8"/><path d="M154.6 147.3L150.3 147.2L147.5 150.4L147.9 146L144.2 143.1L149 143.9L151.3 140.9L151.5 144.5Z" fill="#3a3d14" opacity="0.9"/><path d="M103.4 139.3L104 134.5L100 131.1L105.1 131.8L108 129.1L107.4 133.2L111 136.1L106.5 135.5Z" fill="#1c1f08" opacity="0.7"/><path d="M93.3 231.5L91.2 228.2L88.5 228.4L90.4 226.7L90 223.2L92.1 226L95.1 225.8L92.8 227.8Z" fill="#2e3210" opacity="0.6"/><path d="M114.5 115.3L113.2 112.4L110.1 111.9L112.9 110.5L113.4 106.8L114.8 110.3L117.8 110.8L115.2 112.3Z" fill="#23260a" opacity="0.6"/><path d="M69.4 207.2L68.4 210L69.8 212L67.4 211.2L65.5 212.7L66.3 210.3L64.3 208L67.1 209Z" fill="#3a3d14" opacity="0.8"/><path d="M178.8 174.5L176 176.9L177 180.6L174.6 177.7L171.7 178.3L173.8 176.3L173 173L175.2 175.5Z" fill="#23260a" opacity="0.6"/><path d="M17.5 89.5L13.6 90L12 92.7L11.4 89.6L7.6 87.8L12 87.7L13.5 84L13.9 87.8Z" fill="#23260a" opacity="0.6"/><path d="M205.6 201.2L203.6 200.1L201.4 201.1L202.5 199L201.3 196.7L203.6 197.9L205.9 196.8L204.7 199.1Z" fill="#1c1f08" opacity="0.7"/><path d="M194.6 40.2L196.1 38.5L195.1 35.7L197.2 37.8L199.7 37L198.3 39L198.7 41.3L196.8 39.9Z" fill="#23260a" opacity="0.9"/><path d="M222.8 94.4L224.9 92.7L225.1 90L226.8 92.1L229.3 92.3L227.2 93.9L227.3 97.1L225.6 94.5Z" fill="#1c1f08" opacity="0.7"/><path d="M110.5 102.6L114.7 99.5L114.5 94.8L117.3 98.9L122.2 98.2L118 101L118.6 105.9L115.7 102.2Z" fill="#3a3d14" opacity="0.6"/><path d="M155.6 193.4L154.5 196.9L156.6 199.7L153.2 198.4L150.3 201L151.5 197.4L149.8 194.9L152.8 196Z" fill="#23260a" opacity="0.6"/><path d="M142.3 155L139.6 152.2L135.2 152.5L138.7 149.7L137.9 144.5L141.1 148.6L145.4 148.2L142 151Z" fill="#1c1f08" opacity="0.8"/><path d="M143.5 20.9L142.6 23.4L144.1 25.9L141.4 24.6L138.9 26.2L140.4 23.6L139 21.6L141.2 22.3Z" fill="#1c1f08" opacity="0.7"/><path d="M99.4 65.4L99.6 62.5L96.8 60.7L100.1 60.9L101.8 58.6L101.8 61.4L104.6 63.4L101.1 63.2Z" fill="#3a3d14" opacity="0.6"/><path d="M163.6 26.7L162.7 28.9L163.5 31.1L161.3 30.2L158.9 31.3L160.2 28.8L158.7 26.1L161.4 27.6Z" fill="#1c1f08" opacity="0.9"/><path d="M98.1 53.5L94.8 50.9L90.2 52.5L93.6 48.8L92.4 45L95.5 47.5L99.6 46.1L96.6 49.4Z" fill="#23260a" opacity="0.8"/><path d="M229.9 81.9L226.9 82.8L225.7 85.8L224.7 82.7L221.3 81.5L225 80.8L226 77.4L226.8 80.8Z" fill="#23260a" opacity="0.8"/><path d="M61.8 91L65.1 87.9L64.1 84.1L66.9 86.8L71.3 85.4L68.1 88.6L68.8 92L66.2 89.7Z" fill="#2e3210" opacity="0.5"/><path d="M55.2 70.5L59.3 69L59.6 64.2L61.1 68.7L65.5 69L61.5 70.6L61 74.9L59.5 70.9Z" fill="#2a2c10" opacity="0.6"/><path d="M76.1 53.2L72.6 52.6L70.3 54.9L70.4 51.8L68.4 49.4L71.7 50L74.3 46.7L73.4 50.8Z" fill="#1c1f08" opacity="0.8"/><path d="M52.3 201.6L53.8 204.4L56.5 204.8L54.1 206.1L53.8 209.2L52.4 206.5L49.7 206.1L52.1 204.8Z" fill="#23260a" opacity="0.8"/><path d="M95.1 30.6L97.5 31.9L100.3 31.1L98.6 33.6L100.1 36.9L97.2 34.7L93.5 36.6L95.8 33.3Z" fill="#3a3d14" opacity="0.7"/><path d="M202.5 113.9L200.1 114.5L199.5 116.9L198.5 114.8L195.4 113.9L198.7 113.1L199.4 109.9L200.1 113.2Z" fill="#2e3210" opacity="0.5"/><path d="M162.8 91.4L161.5 95.7L163.7 98.3L160.4 97.7L157.2 100.6L158.6 96.4L155.6 93.4L159.6 94.5Z" fill="#23260a" opacity="0.6"/><path d="M245.7 87L243.8 84.2L239.6 84L243.4 82L243.5 78.1L245.4 81.5L248.4 81.9L246 83.6Z" fill="#2e3210" opacity="0.9"/><path d="M89.6 128.4L88.1 124.7L83.8 123.5L88.1 122L89.2 117.4L90.5 122.1L94 123.1L90.8 124.6Z" fill="#2e3210" opacity="0.9"/><path d="M31.1 200L28.6 200.1L27.5 202L27.1 199.9L24.5 198.5L27.5 198.5L28.7 196.6L28.8 198.8Z" fill="#2e3210" opacity="0.6"/><path d="M201.1 65.6L204.9 65.2L206.7 62L207.3 65.5L211.4 67.7L206.9 68.2L204.7 71.8L204.1 67.7Z" fill="#23260a" opacity="0.8"/><path d="M20.6 94.8L23.7 95.7L26.7 93.5L25.3 97L27.2 99.6L24.1 98.4L21.2 101L22.6 97.5Z" fill="#2a2c10" opacity="0.7"/><path d="M22.7 81.6L19.8 78.3L15 79.4L18.5 76.1L17.8 71.5L20.9 75.1L24.6 74.7L21.9 77.3Z" fill="#3a3d14" opacity="0.8"/><path d="M269.7 88.9L266.3 86.3L262.5 87.6L265.2 84.4L263.9 81.1L266.7 83.3L270.3 81.7L267.8 84.8Z" fill="#3a3d14" opacity="0.9"/><path d="M136.4 117.9L139.4 118.7L141.6 116.5L140.8 119.5L143.3 122L140 121.1L137.4 123.6L138.3 120.1Z" fill="#2a2c10" opacity="0.6"/><path d="M160.5 181L165.6 181.9L168.5 178.4L167.6 182.9L171.5 185.8L166.9 185.2L163.7 189.3L164.9 184Z" fill="#2e3210" opacity="0.7"/><path d="M132.2 112.3L130.7 108L126.1 106.8L130.6 105.3L131.8 101.8L133.4 105L138.3 106.3L133.1 107.6Z" fill="#3a3d14" opacity="0.9"/><path d="M227 162.8L226.9 159.3L224.9 157.8L227.4 157.6L229.1 154.2L229.2 157.9L231.4 159.4L228.7 159.6Z" fill="#2e3210" opacity="0.5"/><path d="M173.9 106.7L175.2 109.3L179.4 110L175.5 111.5L174.6 114.2L173.3 111.6L170.3 110.9L173 109.4Z" fill="#1c1f08" opacity="0.8"/><path d="M85.3 130.6L82.8 132.7L83.2 135.9L81.1 133.5L77.4 134.1L80.1 131.7L79.4 127.4L82.2 130.6Z" fill="#2a2c10" opacity="0.6"/><path d="M212.2 120.4L209.6 123.3L211.2 128.2L207.6 124.7L203.7 125.5L206.5 122.5L204.8 117.6L208.4 121.3Z" fill="#2e3210" opacity="0.7"/><path d="M61.7 100.6L57.3 100.2L54.4 103.9L54.8 99.2L51.3 96.4L55.9 97L58.1 94.5L57.9 97.9Z" fill="#3a3d14" opacity="0.6"/><path d="M121.4 210.9L123.6 211.4L125.6 209.7L124.8 212.3L127 214.5L124 213.3L122.2 215L122.7 212.7Z" fill="#3a3d14" opacity="0.6"/><path d="M177.6 52.4L176.7 56.5L178.9 59.7L175 58.7L171.6 61.6L173.1 57.2L170.1 53.9L174.2 54.9Z" fill="#23260a" opacity="0.7"/><path d="M39.7 136.1L43.8 137.2L46.2 135.2L45.8 138.3L48.3 140.9L44.7 140.2L42 142.7L42.8 139.1Z" fill="#3a3d14" opacity="0.7"/><path d="M210 130.8L210 127.8L207.5 126.3L210.4 126.2L211.9 123.9L211.9 126.7L215.1 128.3L211.5 128.2Z" fill="#23260a" opacity="0.5"/><path d="M269.8 178.9L267.3 178.3L265.5 179.8L266 177.5L263.9 175.4L266.8 176.3L268.8 174.2L267.9 177Z" fill="#2e3210" opacity="0.5"/><path d="M31.1 73.2L26.8 72.7L24.3 75L24.7 71.4L21.5 68.7L25.7 69.5L28 67L27.5 70.4Z" fill="#2e3210" opacity="0.7"/><path d="M24.9 84.4L27.3 82.6L27.8 79L29.6 82.3L32.8 82.7L30.3 84.5L29.7 87.8L27.9 85Z" fill="#2a2c10" opacity="0.8"/><path d="M214.8 193.5L212.6 196.2L213.2 199L210.9 197.3L207.4 198.4L209.9 195.7L208.6 192.2L211.3 194.8Z" fill="#3a3d14" opacity="0.8"/><path d="M64.3 62.9L60.7 64.2L59.9 68.2L58.6 64.4L55 63.6L58.5 62.3L59.2 58.3L60.5 62.1Z" fill="#23260a" opacity="0.6"/><path d="M85.2 78.3L87.5 80.2L91.9 78.9L88.6 82.1L89.5 85.9L86.7 83.2L82.7 84.2L85.9 81.3Z" fill="#23260a" opacity="0.6"/><path d="M187.9 135.6L186.5 132.5L183.6 131.8L186.5 130.7L186.9 127.1L188.2 130.4L190.5 131L188.4 132.1Z" fill="#2a2c10" opacity="0.8"/><path d="M95.1 62.9L94.5 68.1L98.1 70.5L93.9 70.5L90.9 74.7L91.6 69.4L87.4 66.7L92.2 66.9Z" fill="#23260a" opacity="0.7"/><path d="M154.9 226.9L152 227.1L150.4 230.5L150.2 226.9L147.6 225.4L150.5 224.9L152.2 221.9L152.6 225.3Z" fill="#1c1f08" opacity="0.8"/><path d="M151 52L154 54.9L157.5 54.6L154.9 57.2L156 61.8L152.9 58.3L148.9 59L152 56.3Z" fill="#2e3210" opacity="0.6"/><path d="M107.4 46.8L108.7 51.4L112.6 52.9L108.4 54L107.1 59L106 54L101.7 52.6L105.8 51.2Z" fill="#2e3210" opacity="0.7"/><path d="M197.9 40.3L193.4 41.1L191.6 44.3L190.9 40.6L186.1 38.8L191 38L193 33.8L193.6 38.5Z" fill="#2e3210" opacity="0.7"/><path d="M172.7 204.5L169.8 206.6L169.8 209.2L168 207.2L164.5 207.6L167.2 205.4L167 201.9L169.1 204.9Z" fill="#1c1f08" opacity="0.5"/><path d="M210.5 153.4L208 154.1L207.2 156.8L206.5 154.1L204 153.3L206.6 152.6L207.3 150.2L208 152.6Z" fill="#2e3210" opacity="0.7"/><path d="M32.8 170.7L32.7 168.4L30.6 167L33.2 167L34.7 164.6L34.8 167.4L36.8 168.9L34.3 169Z" fill="#1c1f08" opacity="0.5"/><path d="M169.4 91.6L167 90.8L165.3 91.9L165.8 89.9L164.3 87.9L166.7 88.7L168.7 87.1L167.7 89.6Z" fill="#3a3d14" opacity="0.5"/><path d="M212.8 128.7L214 126.7L212.9 124.4L215 125.9L217.4 124.6L216 126.8L217.2 129.3L214.9 127.8Z" fill="#1c1f08" opacity="0.5"/><path d="M147.2 21.2L147.8 18L145.1 16.1L148.2 16.5L150.1 14.2L149.7 17.2L151.6 18.9L149.2 18.9Z" fill="#23260a" opacity="0.6"/><path d="M135.6 27.7L132.1 28.4L131.2 31.6L130.5 28.4L128 27.5L130.4 26.7L131.5 23.5L132.2 26.8Z" fill="#23260a" opacity="0.8"/><path d="M128 250.1L128.8 246.4L126.6 243.9L129.9 244.6L132.9 241.3L131.6 245.6L133.9 247.9L130.7 247.3Z" fill="#1c1f08" opacity="0.6"/><path d="M59.7 124.6L64.1 126.9L67.4 124.6L66 128.2L68.5 131.9L64.4 130.3L61.3 131.9L62.8 128.5Z" fill="#2a2c10" opacity="0.7"/><path d="M181.2 177.5L185.3 180.2L188.8 178.5L186.9 181.9L188.8 185.7L185.2 183.2L181.5 185.2L183.8 181.8Z" fill="#23260a" opacity="0.7"/><path d="M117.2 17.3L121.2 14.7L120.5 9.7L123.4 13.5L127.1 13.7L124.1 16L124.3 20.1L122 16.7Z" fill="#23260a" opacity="0.7"/><path d="M88.7 40.5L91 41.2L93.1 39.5L92.5 42L94 44.1L91.4 43.3L89.3 45.1L90 42.4Z" fill="#2a2c10" opacity="0.7"/><path d="M92.4 45.3L95.2 46.8L97.5 45.5L96.5 47.8L98.2 50.6L95.3 49.1L92.7 50.7L94.1 47.9Z" fill="#2a2c10" opacity="0.9"/><path d="M85.8 62.2L90 62.1L92 58.8L92.2 62.7L95.8 64.8L91.8 65.2L89.4 68.6L89.2 64.4Z" fill="#2a2c10" opacity="0.6"/><path d="M236.5 126.2L233 124L229.7 125.1L231.4 122.1L229.4 117.9L233.2 120.4L237.2 118.7L234.4 122.3Z" fill="#23260a" opacity="0.9"/><path d="M217.8 134.8L217.1 137.4L218.6 139.5L216.1 138.6L214 140.5L214.6 137.9L212.5 135.4L215.6 136.5Z" fill="#3a3d14" opacity="0.9"/><path d="M136.7 217.1L139.6 218.4L141.7 216.6L140.8 219.1L142.2 221.2L139.9 220.6L137.6 222.2L138.6 219.5Z" fill="#2e3210" opacity="0.6"/><path d="M135.7 19.2L138.4 21.3L141.8 20.3L139.3 23.1L140.6 26.6L137.8 24.3L134.9 25L136.9 22.6Z" fill="#2e3210" opacity="0.7"/><path d="M173.7 153.5L175.1 149.8L172.3 146.7L176.1 148L178.8 146.2L177.8 149.3L180 152.1L176.6 150.8Z" fill="#3a3d14" opacity="0.8"/><path d="M88 219.5L85.4 223.1L87.4 228L83.3 224.4L78.9 226.3L81.6 222.5L79.7 217.7L83.8 220.9Z" fill="#3a3d14" opacity="0.9"/><path d="M85.7 128.4L88.3 131.2L92.4 130.6L89.3 133.4L90.2 138.3L87.1 134.3L82.1 135.4L85.7 132Z" fill="#3a3d14" opacity="0.5"/><path d="M103.8 67.1L106.2 65.3L105.7 62.5L107.5 64.7L111 64L108.3 66.1L108.4 68.6L106.7 66.7Z" fill="#1c1f08" opacity="0.7"/><path d="M31.1 58.3L27.8 60.4L28 64.4L25.8 61L22.8 60.9L25.4 59.2L25.2 55.4L27.2 58.4Z" fill="#2a2c10" opacity="0.8"/><path d="M78.9 137.4L74.7 136.7L71.6 140.5L72.2 135.8L68.2 132.3L73.6 133.7L76.3 130.5L76.1 134.4Z" fill="#1c1f08" opacity="0.8"/><path d="M62.2 52.6L63.5 49.3L61.7 46.9L64.6 47.9L67.1 45.8L66.2 48.9L67.6 51.2L64.9 50.2Z" fill="#2e3210" opacity="0.9"/><path d="M190.7 56.7L193.6 59.6L197.8 58.2L194.8 61.3L196.2 65.7L192.9 62.4L188.5 63.9L192 60.6Z" fill="#3a3d14" opacity="0.5"/><path d="M94 127.5L97.2 126.9L98.7 123.4L99.1 127.3L102.9 128.7L99 129.2L97.5 132L96.9 128.9Z" fill="#2e3210" opacity="0.8"/><path d="M75.7 54.7L75.5 57.1L77.5 58.7L75 58.5L73.5 60.1L73.7 57.8L71.3 56.1L74.1 56.3Z" fill="#23260a" opacity="0.7"/><path d="M211.3 233.6L214.7 229.6L213.5 225.4L216.9 228.5L221.3 226.8L218.6 230.3L219.4 234.1L216.3 231.7Z" fill="#23260a" opacity="0.8"/><path d="M131.1 169.2L134.5 167.5L135.3 163L136.8 167.5L141.9 167.9L137.2 169.6L136.5 173.3L135 169.8Z" fill="#3a3d14" opacity="0.7"/><path d="M77.9 170.2L75.4 173.8L76.8 177.3L73.6 175.2L69.7 177L72.2 173.5L70.3 169.5L73.8 172.3Z" fill="#3a3d14" opacity="0.7"/><path d="M153.8 36.5L155.1 39.2L159.2 39.7L155.5 41.2L154.7 44.3L153.5 41.2L150.4 40.7L153.1 39.3Z" fill="#23260a" opacity="0.5"/><path d="M65.8 226.7L68.5 226.6L70.7 224L70.2 227.5L73.4 229.8L69.5 229.1L67.4 232.2L67.7 228.6Z" fill="#1c1f08" opacity="0.7"/><path d="M169.5 149.7L168.6 145.1L164.9 143.5L168.8 142.4L170.4 137.8L171 143L175.6 144.3L171.1 145.2Z" fill="#1c1f08" opacity="0.7"/><path d="M103.7 241L103.5 244.5L106.7 246.2L103.1 246L101.2 249.7L101.6 245.5L99.2 244L102 243.9Z" fill="#2e3210" opacity="0.8"/><path d="M99.6 83.3L99 87L101.5 90.2L97.4 89L94.3 91.9L95.2 87.9L92.1 84.4L96.6 85.6Z" fill="#2a2c10" opacity="0.9"/><path d="M164.6 24.8L162.4 23.3L159.8 24.7L161.4 22.3L160.1 19.7L162.5 21.1L164.7 20.3L163.6 22.4Z" fill="#1c1f08" opacity="0.6"/><path d="M42 142.1L39.2 143.4L38.9 146.5L37.5 143.8L34.3 143.4L37.4 142.1L37.7 139.1L39 141.7Z" fill="#1c1f08" opacity="0.8"/><path d="M139.3 114.2L136.1 110L131.4 110.9L135 107.9L134 102.8L137.4 106.5L141.9 106.1L138.5 109.2Z" fill="#2a2c10" opacity="0.7"/><path d="M80.4 56.4L81.8 60.4L84.6 61.1L82.1 62.5L81.3 65.7L80 62.6L76.3 62L80 60.8Z" fill="#1c1f08" opacity="0.7"/><path d="M195.8 160.9L195.2 157.2L191.3 155L195.9 154.8L198.1 149.7L198.2 155.2L202.5 157.3L198 157.9Z" fill="#1c1f08" opacity="0.7"/><path d="M139.8 182.1L139.8 179.2L136.4 177.5L140.1 177.5L141.9 174.1L141.7 178L144.1 179.5L141.4 179.8Z" fill="#23260a" opacity="0.8"/></g>
<g><path d="M257.2 109.9L255.4 103.7L250.2 106.5L253.9 102.2L250.3 99.6L254.7 100.1L255.2 95L257.1 99.5L262.5 97L258.5 101.6L263.6 105L257.7 104Z" fill="#a0a42c" opacity="0.8"/><path d="M156.9 19.6L155.8 23.6L161 24.2L156.1 25.4L157.4 29.2L154.4 26.5L151.7 29.6L152.7 25.6L148.5 24.8L152.8 23.7L150.6 18.8L154.2 22.4Z" fill="#9a9c30" opacity="0.8"/><path d="M215.7 175.1L219.1 173L216.3 169.3L220.5 172L222 168.1L222.2 171.9L226.2 171.6L222.6 173.7L225.3 177.3L221.4 174.7L219.8 179L219.8 174.7Z" fill="#9a9c30" opacity="0.6"/><path d="M189.3 241.6L185 243.7L186.3 248.9L182.6 245.4L178.2 247.7L180.9 243.1L175.3 239L182 240.8L184.2 233.7L184.7 241Z" fill="#b2b82e" opacity="0.8"/><path d="M76.4 174.6L80.4 177.2L83.3 171L83 177.3L89.5 177.1L83.7 180L86.6 185L81.7 182L78.7 187.3L79.1 181.1L73.6 181.2L79 178.7Z" fill="#b2b82e" opacity="0.6"/><path d="M235.3 170.3L230.9 168.7L229.2 174.1L228.4 168.5L224.8 168.8L227.8 166.2L223.7 162.1L229 164.4L230.6 158.8L231 164.9L235.1 164L232 166.6Z" fill="#a0a42c" opacity="0.6"/><path d="M255.5 118.7L251.2 114.3L247.3 119.8L249.1 113.4L242.9 112.6L248.7 110.9L246.4 105.2L250.9 109.9L254.2 105.6L253.3 110.6L258.1 111.6L253.4 113.2Z" fill="#b2b82e" opacity="0.6"/><path d="M167.7 257.3L165.1 253.3L161.4 256.1L163.4 251.9L158.2 249.9L163.7 249.7L163.1 244.5L165.8 249.4L169.9 245.9L167.5 250.5L172.8 252.5L166.8 252.3Z" fill="#a0a42c" opacity="0.7"/><path d="M210.4 196.1L215.8 196.4L214.3 191.5L217.3 195.5L220.3 191.3L219.1 196.1L222.6 196.3L219.7 198.1L222.6 201.7L218.2 199.3L217.4 203.9L216.6 199.2L212.9 201.3L215.1 198.1Z" fill="#a0a25a" opacity="0.5"/><path d="M98.2 226.9L101.2 229L104.1 224.5L103.3 229.6L108.5 230L103.5 231.8L105.1 235.6L101.7 232.6L99.3 236.4L100.2 232L94.7 232L99.8 230.4Z" fill="#bcc032" opacity="0.8"/><path d="M3.6 63.7L8.3 64.7L9.6 60.3L11.1 64.5L16.2 63.1L12.7 67L17.9 71.6L10.8 69L9.8 75L8.6 69.1L2 71.7L7.4 67.1Z" fill="#b2b82e" opacity="0.8"/><path d="M81.9 213.8L82.8 210.6L80.3 208.9L83.5 209L84 204.8L85 208.8L89.2 208.1L85.9 210.4L87.1 213.3L84.4 211.3Z" fill="#b2b82e" opacity="0.9"/><path d="M88.8 19.1L93.9 22.4L96.6 17.3L96.2 23.3L103.3 22.5L97.4 25.7L100.5 30.8L95.2 27.2L92.2 33.9L92.9 26.5L87.7 26.8L91.9 24.2Z" fill="#b2b82e" opacity="0.8"/><path d="M232.1 193L230.8 189.8L227.6 192.1L229.5 188.8L225.6 187.6L229.9 187.2L228.8 184.4L231 186.4L232.6 183.7L232.5 186.8L235.3 186.5L232.7 188.2L235.9 190.7L232.1 189.2Z" fill="#d4d63c" opacity="0.6"/><path d="M44.2 115.3L47.5 116.5L48.6 112.5L49.1 116.8L53 115.7L49.9 118.1L51.9 120.5L49 119.7L47.9 122.2L47.3 119.3L43.4 120.4L46.5 117.9Z" fill="#c4ca38" opacity="0.7"/><path d="M114.4 201.1L108.8 198.7L108.6 205L106.7 199.6L102.1 202.4L105.4 197.7L99.4 196L105.3 195.5L104 191.3L107.3 194.6L110 189.7L109.4 195.1L114.4 194.4L110.2 197.2Z" fill="#9a9c30" opacity="0.5"/><path d="M39.3 212.5L44.2 209L42 203.9L46.5 207.8L50.1 204.4L48.7 209L52.6 211.4L47.9 211.3L46.9 215.8L45.6 211.4Z" fill="#a0a25a" opacity="0.7"/><path d="M175.4 207.9L171.9 203.9L167.9 209L170.1 203L164.6 201.9L170.1 200.8L168.2 195.4L172 200L175.7 195.5L173.7 200.9L180.4 202L173.7 202.9Z" fill="#a0a25a" opacity="0.8"/><path d="M124.1 172.7L122.1 170.5L119.2 171.8L121.1 169.1L118.7 166.8L121.8 167.6L123.3 164.6L123.4 168L126.7 168.5L123.5 169.6Z" fill="#c4ca38" opacity="0.7"/><path d="M40.7 181.7L37.3 185.1L41.4 188.2L36.4 186.8L35.7 191.3L34.5 186.9L29.9 188.7L33.3 185.3L30.6 182.8L34.5 183.8L35 179.4L36.2 183.5Z" fill="#bcc032" opacity="0.7"/><path d="M232.4 61.7L230.9 56.3L227.2 58.8L229.4 55.2L224.7 53.6L229.8 53.3L227.8 48.4L231.3 52L233.8 48.1L233.3 52.7L237.2 52.4L234.1 54.7L236.4 57.4L232.8 56.3Z" fill="#a0a25a" opacity="0.6"/><path d="M181.2 183.1L181.5 187.1L183.9 186.2L182.1 188.2L184.4 189.5L181.8 189.3L182.5 192.8L180.7 189.7L178.7 192L179.7 189.1L176.5 189L179.4 187.9L177.3 185.1L180.2 186.8Z" fill="#b2b82e" opacity="0.7"/><path d="M99.3 148L99.5 143.9L95.7 142.4L99.8 141.4L100 137.5L102 141L106.7 139.3L103.6 142.8L106.1 146.6L101.8 144.3Z" fill="#bcc032" opacity="0.8"/><path d="M163.6 218.5L165.5 224L170.2 222.1L166.3 226.1L171.8 229.5L165.7 228L165.1 232.4L163.6 228.1L158.9 230.3L162 226.5L158.4 223.6L163.2 224.6Z" fill="#c4ca38" opacity="0.8"/><path d="M128.7 67L126.9 70.5L131.3 71.2L126.9 72.1L128.5 75.2L125.8 73.4L124 77.4L124.2 72.8L120.3 73.9L123.4 71.4L120.6 69.1L124.3 70.1L123.9 65.8L125.7 69.3Z" fill="#b2b82e" opacity="0.5"/><path d="M73.7 235.6L77.5 233.7L76.4 228.9L79.7 232.6L84.3 229.4L81.8 234.1L86.3 237.9L80.3 236.2L78.6 240.7L77.7 236.3Z" fill="#b2b82e" opacity="0.8"/><path d="M167.1 242.9L164.1 245.6L166.6 247.9L163.4 247L162.7 250.3L161.8 247.1L158.8 248L161.2 245.7L157.3 242.9L161.6 244.1L162.4 239.9L163.3 244.3Z" fill="#a0a25a" opacity="0.6"/><path d="M117.5 184.1L119.8 187L124 185L121.1 188.7L124.7 192.2L120 190.4L117.9 194.3L117.9 190L113.6 189.2L118 188Z" fill="#b2b82e" opacity="0.7"/><path d="M109.7 148.2L111.8 145.6L108 143.7L112.5 144.1L111.4 139.8L113.8 143.7L116.7 139.8L115.4 144L120.2 144L115.3 145.7L118.3 149.2L114.5 147.1L113.6 150.2L112.9 146.9Z" fill="#d4d63c" opacity="0.8"/><path d="M178.8 80.5L174.8 82.9L176.5 89.2L172.1 84.2L167.6 86.9L170.3 82.1L165.7 78.6L171.3 79.7L173.2 75L174.1 79.9Z" fill="#a0a42c" opacity="0.6"/><path d="M190.9 153.6L188.8 148.3L182.3 152.2L186.7 146.6L180.5 142.8L187.7 143.9L188.2 138.4L190.6 143.4L195.6 141L192 145.7L197.2 148.8L191.4 148.3Z" fill="#bcc032" opacity="0.8"/><path d="M110.7 193.5L106.4 193.2L106.7 197.2L104.9 193.5L101.4 195.9L103.5 192.5L99.4 190.4L104.1 190.8L104.1 187.5L105.8 190.1L109 188.3L106.7 191.7Z" fill="#9a9c30" opacity="0.6"/><path d="M56.6 71.9L58.8 67.2L53.8 65.6L58.9 65.1L58.5 61.4L60.9 64.3L64.2 61.8L62.4 65.7L67.4 67.2L62.1 67.5L62.8 71.4L60.5 68.2Z" fill="#b2b82e" opacity="0.5"/><path d="M78.2 35.9L81.5 36.8L82.4 33.8L83.4 36.8L87 35.8L84.3 38.5L87.2 41.3L83.1 39.7L82.3 43.2L81.6 39.8L77.7 41.1L80.4 38.4Z" fill="#9a9c30" opacity="0.6"/><path d="M187.6 175L185.7 172.4L182.7 173.9L184.3 171.2L182.1 168.7L185.4 169.7L187.1 166.1L187.1 170.1L191.3 170.6L187.4 171.9Z" fill="#c4ca38" opacity="0.6"/><path d="M249.6 147L253.7 149.2L255.4 144.7L255.7 149.2L259.7 148.9L256.2 151.2L259.2 154.9L255 152.8L253.5 156L253.2 152.2L248.7 153L252.2 150.5Z" fill="#e0e048" opacity="0.5"/><path d="M37.1 203.4L34.9 209.1L38.8 212.2L33.4 211.7L32.1 218.7L30.5 212.2L24.9 212.2L29.8 209.1L28.4 204.4L32.3 207.3Z" fill="#bcc032" opacity="0.7"/><path d="M254.3 185.1L254.9 189L258.7 186.8L255.9 189.9L259.3 191.4L255.4 191.1L256.7 195.2L254.3 191.7L252.1 194.7L252.9 191.3L249.1 191.4L253 189.9L251.1 187.6L253.7 189Z" fill="#b2b82e" opacity="0.7"/><path d="M22.6 43.6L20.5 46.8L23.7 47.5L20.7 48L21.7 50.8L19.5 48.7L18.1 51.1L18.2 48.4L15.4 48.8L17.9 47.1L14.9 44.8L18.6 46.2L18.7 43.6L19.7 45.9Z" fill="#a0a25a" opacity="0.7"/><path d="M106.8 76.8L101.4 77.1L101.6 81.1L99.2 77.9L95.3 80.6L97.4 76.3L93.6 74.4L97.7 73.9L97.4 69.3L100 73.1L104.4 69.8L101.7 74.8Z" fill="#b2b82e" opacity="0.8"/><path d="M78.1 124.7L73.8 121.1L70.4 125.8L71.4 120.2L66.5 119.4L71.3 117.6L69 112.5L73.3 116.5L76.9 110.8L75.8 116.9L81.3 117.7L75.7 119.6Z" fill="#bcc032" opacity="0.9"/><path d="M94.8 155.3L97.1 157.4L99.7 154.2L98.8 158L102.1 158.7L98.5 159.6L100.6 164.2L97.3 160.4L94.9 163.6L95.8 159.9L91 159.3L95.8 158.2Z" fill="#d4d63c" opacity="0.6"/><path d="M44.9 146.6L40.9 144.2L39 148.4L38.9 143.8L35.4 143.8L38.9 142L36 138.3L39.9 140.7L41.5 137.3L41.6 141L45.1 140.9L42 142.7Z" fill="#e0e048" opacity="0.8"/><path d="M226.7 156.6L225.4 161.4L229 162L225.2 163.6L229 168.2L224 164.9L222.8 171L222.1 165L218.3 166.5L220.9 163.4L217 161.3L221.6 161.6L220.9 157.4L223.3 161.1Z" fill="#b2b82e" opacity="0.8"/><path d="M209.7 177.4L213.3 181.3L219.4 177.7L215.6 183.6L219.2 187.3L213.8 185.9L211.2 193.3L210.9 185.9L205.5 185L210.4 182.7Z" fill="#a0a42c" opacity="0.7"/><path d="M233.8 219L227.4 220.3L230.5 225.9L225.4 221.1L223.5 225.4L223.6 220.7L217.5 222.8L222.6 219.1L218.7 216.2L223.6 217.4L223 211.3L225.5 216.4L230.3 212.1L227.2 218Z" fill="#e0e048" opacity="0.7"/><path d="M123 77.2L121.9 79.9L125.2 81L121.7 81.2L122.6 85.1L120.4 82L118.1 83.8L119.3 80.9L115.8 79.8L119.5 79.5L118.8 76.1L120.8 79.1Z" fill="#c4ca38" opacity="0.6"/><path d="M19.2 76L17.1 79L20.2 82.1L16.1 80.9L14.1 84L14 80.2L9.4 79.4L14.1 78.2L13.4 74L15.8 77.6Z" fill="#d4d63c" opacity="0.5"/><path d="M28.8 223.7L32.9 219.2L29.6 215.3L34.3 217L36.9 213.5L36.7 217.9L43.3 219.1L36.7 220.4L37.4 226.6L34.4 220.9Z" fill="#9a9c30" opacity="0.8"/><path d="M183.2 139.4L182.7 143.1L185.6 142.6L183.5 144.2L186.4 146.6L182.7 145.4L182.6 148.6L181.5 145.5L178.7 147.6L180.4 144.7L176.8 143.8L180.5 143.4L179.2 140.4L181.6 142.7Z" fill="#e0e048" opacity="0.5"/><path d="M114.8 243.3L114.3 240.2L110 241.4L113.3 238.9L110.6 235.9L114.5 237.7L115.5 234.6L115.9 237.8L120.4 236.5L116.5 239.1L119.4 241.9L115.8 240.4Z" fill="#b2b82e" opacity="0.9"/><path d="M99.8 123.2L104.1 124.5L105.6 120.3L106.3 125.1L110.3 124.1L107.5 126.8L110.5 130.1L106.1 128.4L104.9 132.4L103.9 128.7L99.7 129.5L102.8 126.5Z" fill="#bcc032" opacity="0.8"/><path d="M79.8 106.6L83.7 100.3L77.4 96.3L84.5 97.8L86.4 92.1L87.2 98L93 98.1L88.1 100.8L89.3 105.9L85.5 102.5Z" fill="#e0e048" opacity="0.9"/><path d="M160.7 99.5L162.9 104.2L167.4 101.1L164.2 105.6L168.8 107.8L163.6 107.3L164.2 113.1L161.8 108.1L158 110.3L160.5 106.5L156.7 104.5L161 104.7Z" fill="#c4ca38" opacity="0.6"/><path d="M28.2 65.5L32.1 60.1L27.9 55.8L33.7 57.6L36 53.9L36.5 58.3L42.2 59.2L36.4 60.9L37.4 66.3L34.2 61.9Z" fill="#c4ca38" opacity="0.6"/><path d="M18.7 127.1L19.1 122.6L14.1 122L19 120.1L16.9 115.5L20.8 118.4L24.2 113.5L22.8 119.7L27.7 120.1L23.4 121.9L26.3 127.6L21.5 123.6Z" fill="#e0e048" opacity="0.6"/><path d="M35.9 187.7L37.3 184.4L33.8 183.6L37.4 182.7L35.9 179.6L38.6 181.5L40.3 177.9L40.4 181.9L44 181.1L41.2 183.5L44.2 185.9L40.4 185.1L40.7 190.1L38.7 185.7Z" fill="#e0e048" opacity="0.7"/><path d="M56.2 176L57.6 173.2L54.7 170.8L58.3 171.4L59.9 167.6L60.4 171.6L63.1 172.2L60.7 173.6L61.3 176.8L59 174.4Z" fill="#a0a42c" opacity="0.5"/><path d="M161.5 90L166.7 90.7L168.6 85.3L169.8 90.6L177.2 90.6L170.5 93.8L172.9 100.9L167.7 95.3L163.2 98.2L165.1 93.4Z" fill="#bcc032" opacity="0.5"/><path d="M89.8 124L88.4 127.8L93.9 129.3L88.2 129.8L89.3 134.4L86.4 130.7L83.2 133.5L84.4 129.7L79 128L84.9 127.5L83.6 122.2L86.7 126.9Z" fill="#c4ca38" opacity="0.9"/><path d="M156.2 234L154.1 238.5L159.9 239.4L154.3 240.6L156.7 245.1L152.7 242.1L150.6 246.8L150.8 241.3L146.9 242.3L149.7 239.7L146.3 237.1L150.8 238.1L150.2 232.8L152.4 237.6Z" fill="#a0a25a" opacity="0.5"/><path d="M39.2 54.4L42.2 58.8L46.1 55.2L44.1 59.9L49.3 61.6L43.6 62L44.4 66.3L41.8 62.8L38.7 65.3L39.8 61.8L34.5 60L40.5 59.7Z" fill="#a0a25a" opacity="0.6"/><path d="M149.2 193.8L146.9 197.6L151.3 199.5L146.5 199.4L147.2 204.7L144.7 200.3L141.1 202.5L143.2 198.8L140.2 197.1L143.5 196.7L143.3 192.3L145.5 196.6Z" fill="#c4ca38" opacity="0.8"/><path d="M59.9 217.9L56.7 217.6L57.8 221.9L55.6 218.5L53 221.7L54.4 217.6L51.2 217.5L54.4 216.4L52.3 213.8L55.1 215.4L55.9 212L56.4 215.4L60 213.6L57.4 216.4Z" fill="#e0e048" opacity="0.8"/><path d="M175.8 238.8L169.7 236.2L169.2 241.5L167.4 236.8L162.2 240.2L165.7 235L160.9 233.3L166.5 232.9L164.4 227.8L168.1 231.3L171.3 225.7L170.1 232.4L176.5 231.3L170.7 234.4Z" fill="#d4d63c" opacity="0.8"/><path d="M208.9 182.7L211.1 186.3L215.3 184L212.2 188.3L218 191L211.8 190.2L212 195.4L209.8 190.6L205.3 193.6L208.2 189.3L202.9 186.5L208.6 186.8Z" fill="#9a9c30" opacity="0.8"/><path d="M82 155.8L83.2 151.1L79.1 148.9L83.8 148.8L84.6 145.1L86.1 148.5L89.6 148.2L87.3 150.7L88.4 153.8L85.3 151.8Z" fill="#9a9c30" opacity="0.5"/><path d="M254 129.8L253.3 133.3L257.5 133.5L253.6 134.8L255.4 138.6L252.3 135.7L250.3 138.2L250.8 135.1L247.4 134.7L251 133.6L249.7 130.8L251.9 132.4Z" fill="#c4ca38" opacity="0.6"/><path d="M175.3 185.5L171.8 190.8L175.4 194.5L170.2 193L167.8 199L167.4 192.9L162.9 191.9L167.2 189.9L166.5 185.1L169.7 189.2Z" fill="#a0a25a" opacity="0.6"/><path d="M134.3 20L136.4 14.1L129.7 12.9L136.6 11.9L134.2 5.5L138.4 10.1L142.5 6L140.7 11.6L147.6 13L140.3 14.1L141.7 18.8L138.4 15.5Z" fill="#a0a25a" opacity="0.8"/><path d="M197.8 56.1L197.5 59.8L201.6 59.1L198.3 61.4L201.1 64.1L197.2 62.7L197 66.9L195.7 62.8L191.7 66L194.6 61.8L191.2 60.8L194.8 60.4L192.8 56.1L195.9 59.1Z" fill="#a0a42c" opacity="0.9"/><path d="M66.7 138.3L71.5 139.9L72.7 135.8L73.6 140.2L77.7 139L74.9 141.9L77.7 145L73.7 143.9L72.4 148.2L71.4 143.7L67.9 144.4L70.5 141.8Z" fill="#b2b82e" opacity="0.5"/><path d="M210.3 53.6L208.8 48.6L203.3 49L208 45.9L205.9 41L210.1 44.3L214.3 40.6L212.2 45.8L217.1 48.6L211.9 48.8Z" fill="#c4ca38" opacity="0.7"/><path d="M121.4 89.6L118.4 92.2L121.8 94.7L117.6 93.8L117.6 97.4L116 93.9L112.3 97.5L114.8 93L109.4 92.4L114.3 91.3L112.7 87.9L115.8 90.2L117.6 86.2L117.3 90.9Z" fill="#e0e048" opacity="0.5"/><path d="M34.5 209.9L30.1 215.5L35.1 220.6L28.2 217.7L25.8 222.1L25.7 217.1L20.5 216L25 214.1L24.9 209L28.2 212.9Z" fill="#e0e048" opacity="0.5"/><path d="M142.2 136.7L145.3 136.6L144.3 132.5L146.8 136L149.5 132.4L148 136.9L152 136.7L148.2 138.2L151.3 141.5L147.6 139.5L146.7 142.7L146.1 139.2L142.7 141L144.9 138.2Z" fill="#bcc032" opacity="0.7"/><path d="M168.4 98L164.3 102.9L169.9 104.7L164.1 104.7L166.4 110.9L162.5 106.1L158.9 111.7L160.3 105.2L153.9 105.9L160.1 103L156.4 99.2L161.2 101.4L161.9 96.1L163.2 101.3Z" fill="#b2b82e" opacity="0.6"/><path d="M212.6 112.2L215.4 111.9L214.3 109.1L216.4 111.2L217.9 108.4L217.7 111.4L221.2 110.9L218.2 112.8L220.1 114.7L217.3 113.8L217.1 116.8L216.1 113.9L213.9 115.3L215.1 113.1Z" fill="#9a9c30" opacity="0.8"/><path d="M185.9 76.1L186.9 69.6L182.1 69.3L186.9 67.4L184.3 63L188.3 65.6L190.8 62.2L190.8 66.3L195.9 66.7L190.9 68.8L194.3 74.5L189.1 70.1Z" fill="#b2b82e" opacity="0.8"/><path d="M75.7 117L79.5 113.5L76.1 109.9L81 111.8L82.2 106.3L83.4 111.4L87.8 110.5L84.1 113.7L89.1 118.1L83 115.4L81.7 122.1L80.8 115.5Z" fill="#d4d63c" opacity="0.8"/><path d="M34.7 164.8L35.7 159.8L30.1 160.2L35.1 157.7L30.8 153.2L36.6 156.3L37.2 149.7L38.5 155.9L42.7 153.7L40 157.5L44.2 159.4L39.4 159.5L41.4 165.3L37.7 160.7Z" fill="#9a9c30" opacity="0.8"/><path d="M98 15.7L103.5 17.8L104.2 13.1L105.7 17.9L110.8 14.3L107.6 19.2L113 21.1L107.4 21.7L108.6 26.2L105.1 22.3L102.3 27.2L102.9 22L97.3 22.7L102.5 19.8Z" fill="#b2b82e" opacity="0.6"/><path d="M34.8 130.4L31.6 132.8L34.5 134.9L31.1 134.1L31.5 139L29.6 134.4L26.2 137.8L28.6 133.5L23.5 132.9L28.2 132L26.2 128.2L29.6 131.2L31.1 127.5L30.9 131.6Z" fill="#b2b82e" opacity="0.8"/><path d="M175 223.5L172.8 222L171.6 224.9L171.5 221.8L168.7 222.6L170.8 220.7L167.5 218.5L171.6 219.6L171.1 216L172.6 219.3L175.4 216.4L173.7 219.9L176.3 220.4L173.7 221.1Z" fill="#9a9c30" opacity="0.6"/><path d="M160.5 13.2L157.8 13.1L158.2 16.1L156.5 13.3L154 16.3L155.2 12.9L151.7 12.7L155.4 11.6L153.5 9.1L156 10.4L156.9 7.7L157.2 10.9L159.8 9.8L157.8 11.8Z" fill="#a0a42c" opacity="0.7"/><path d="M265.3 112.4L266.4 115.8L269.8 114.3L267.6 117L270.2 119.2L266.6 118.3L266.3 122.5L265 118.8L261.4 120.3L264.1 117.4L261.4 115.2L264.7 115.8Z" fill="#d4d63c" opacity="0.8"/><path d="M97.5 104.4L93.6 99.1L88.7 101.4L91.5 96.8L87.1 92.4L93.1 94.1L95.6 90L95.8 95.1L100.9 95.9L96.1 97.7Z" fill="#e0e048" opacity="0.6"/><path d="M77.6 115L75.7 118L79.7 119.6L75.5 119.4L75.7 122.3L74.1 119.8L71.1 122L73.2 118.8L70.4 117.5L73.5 117.6L73 113.9L74.8 117Z" fill="#a0a42c" opacity="0.8"/><path d="M155.2 10.6L153.3 13.8L156.4 15.2L153.1 15.4L153.3 18.4L151.6 15.6L148.2 18.5L150.2 14.9L147 13.3L150.6 13.2L150.6 10.6L152.2 12.7Z" fill="#9a9c30" opacity="0.7"/><path d="M126.3 130.3L122 133.8L123.7 138.3L119.5 135.5L115.6 139.2L117.4 134L112.9 131.6L117.9 131.5L118.7 126.4L120.7 130.9Z" fill="#b2b82e" opacity="0.8"/><path d="M244.2 98L241.5 94.9L237.4 96.1L239.9 92.4L236.7 88.5L241.4 89.9L244.5 85.3L244.3 90.9L250.2 92.2L244.1 93.7Z" fill="#d4d63c" opacity="0.5"/><path d="M55.1 169.7L50 170.2L49.1 174.7L47.1 170.5L41.4 171.7L46 168L43 162.9L47.9 165.6L52.4 160.8L50.3 167.4Z" fill="#bcc032" opacity="0.6"/><path d="M108.3 93.2L103.9 94.7L105.3 98.3L102.3 95.7L99.5 99.8L100.4 95.1L96.6 94.5L100.4 93.2L99.1 89.8L101.9 92L104.1 89.3L103.7 92.8Z" fill="#a0a42c" opacity="0.5"/><path d="M198.2 86L195.4 82.8L190.9 84.9L194 80.7L190.6 77.4L195 78.5L197.6 72.6L197.7 79L202.8 79.9L197.7 81.7Z" fill="#9a9c30" opacity="0.8"/><path d="M194.2 33.3L188.9 33.9L190.2 38.8L187.1 34.7L183.6 38.1L185.5 33.6L180.1 32.2L185.6 31.7L184.3 26.7L187.4 31.1L190.4 28.2L188.9 32Z" fill="#a0a25a" opacity="0.8"/><path d="M221.1 145.3L225.5 143.2L222.8 140.3L226.5 142.1L226.9 137.6L227.9 141.9L231.3 139.9L228.9 143L232.9 144.5L229.1 144.8L230.2 148.8L227.4 145.3L225 149L225.9 144.8Z" fill="#c4ca38" opacity="0.7"/><path d="M262.2 109.4L259 106.8L256 111.7L257.4 106.1L252.5 105.9L257.1 104.4L255.1 100.4L258.5 103.3L261 99.5L260.2 103.9L265.5 104.1L261 105.9Z" fill="#d4d63c" opacity="0.5"/><path d="M179.5 142.1L183.1 146L185.2 142.6L184.5 146.8L188.4 146.1L185.3 148.2L188.1 150.8L184.5 149.7L184.1 153.2L182.8 149.9L178.5 153.1L181.4 148.7L177 147.4L181.6 146.9Z" fill="#e0e048" opacity="0.6"/><path d="M68.1 50.6L64.6 52.1L64.9 55L62.7 52.9L59.4 54.8L61.4 51.5L58.2 48.7L62.4 50L63.7 47.2L64.1 50.2Z" fill="#d4d63c" opacity="0.9"/><path d="M30.2 91.7L34.6 87.4L28.9 84.8L34.6 85.1L34.1 80.5L36.9 84.9L40.2 80.9L38.9 85.6L45.3 85.7L39.6 87.9L43 92.6L37.8 89.6L36.3 96.1L35.5 89.5Z" fill="#9a9c30" opacity="0.5"/><path d="M104.6 140.7L106.4 143L108.5 140.8L107.5 143.9L111.6 143.9L107.5 145.1L110.4 148.5L106.8 146.1L106 148.7L105.6 146L102.8 147.1L104.9 145L101.7 143.4L105.1 143.7Z" fill="#d4d63c" opacity="0.8"/><path d="M35.8 175L32 172.6L30.3 176L30.2 172.4L26.3 172.6L29.7 170.6L27.1 166.9L30.8 168.8L32.9 164.9L32.8 169.6L36.8 169.4L33.3 171.4Z" fill="#9a9c30" opacity="0.6"/><path d="M18.2 138.9L15.4 136.2L12.3 140.3L13.3 135.1L7.4 135.6L12.7 133L10.3 129.8L14.3 131.6L15 126.5L16.3 131L21.3 128.3L17.3 132.9L21.5 134.6L17.4 135Z" fill="#d4d63c" opacity="0.5"/><path d="M1.7 106.1L2.8 103.5L-0.2 102L3.2 101.8L2.9 97.9L4.8 101.6L7.9 99.2L6.1 102.5L10.4 104.2L5.6 104L6.1 107.7L4.2 104.5Z" fill="#a0a42c" opacity="0.7"/><path d="M204.6 156.6L200.2 155.9L199.6 160.2L198 156L193.6 158.2L196.6 154.4L193.4 151.9L197.6 152.5L197.9 147.3L199.6 152.2L203.2 150.8L201.1 153.8Z" fill="#bcc032" opacity="0.7"/><path d="M178.4 166.7L182.1 163.7L178.4 159.5L183.5 161.5L185.3 156.7L185.9 162.1L192.6 160.3L187.3 164.2L191.3 168.7L185.7 166.2L183.9 171.7L183.2 165.9Z" fill="#bcc032" opacity="0.8"/><path d="M137.2 183.6L140.6 182.6L138.9 179.2L141.6 181.7L143.8 178.5L142.9 182.3L147.1 182.5L143.1 183.7L144.8 187.3L141.9 184.6L140 187L140.6 183.9Z" fill="#9a9c30" opacity="0.6"/><path d="M7 66.8L13 68.1L13.6 63.1L15.3 67.9L20.8 65.2L16.3 69.8L20.8 72.8L15.6 71.6L15.3 77.4L13.7 71.8L8.7 74.2L12.4 70.3Z" fill="#bcc032" opacity="0.7"/><path d="M139.7 235.2L137.2 230.3L132.7 233.5L135.4 228.9L129.8 226.3L136.1 226.6L135.6 220.6L138.4 225.6L142.8 223L140.4 227.5L146.1 230.4L139.8 230.3Z" fill="#d4d63c" opacity="0.7"/><path d="M225.3 44.3L225.7 48.1L230.9 47.3L226.2 50.1L229.3 53.9L225.1 51.8L223.3 55.3L223 51.3L219.2 51.6L222.6 49.4L220.1 46.2L223.6 47.6Z" fill="#a0a25a" opacity="0.6"/><path d="M40.9 94.7L37.4 96.9L41 101.4L36.1 98.4L34.2 102.7L34 98.2L28.2 98.8L33.5 96L30.2 91.6L34.9 94.5L36.9 90L37 94.8Z" fill="#a0a25a" opacity="0.6"/><path d="M8.1 180L12.8 179.9L13.8 175.7L15.3 179.8L19.1 179.5L15.8 181.9L17.9 185.9L14.3 183L11.1 186.6L12.4 182.3Z" fill="#a0a25a" opacity="0.9"/><path d="M115.3 205.6L120.2 206.2L121.5 200.6L122.4 206.3L126.5 206.2L123 208.4L125.3 213.6L121.2 209.8L117.7 212.4L119.6 208.2Z" fill="#b2b82e" opacity="0.5"/><path d="M125.9 90.6L121.7 88.7L120 92.7L119.7 88.1L113.9 89.4L118.8 86.3L116 82.8L120 84.3L122 78.7L122.3 84.7L127.7 83.8L122.9 86.9Z" fill="#c4ca38" opacity="0.8"/><path d="M148.7 65.4L145.3 63.2L142.2 65.7L143.5 61.8L139.1 59.5L143.9 59.6L144.8 54.2L146.4 59.2L151.1 58.8L147.2 61.7Z" fill="#e0e048" opacity="0.7"/><path d="M170.1 32.1L171 26.7L166.1 25.5L171.1 24.8L170.8 20.4L172.9 24.2L176.8 22.7L174.2 25.8L176.9 29.2L172.9 27.6Z" fill="#a0a42c" opacity="0.5"/><path d="M18.2 215.5L17.7 209.5L11.1 211.5L16.1 207.6L11.8 203.1L17.7 205.6L19.2 201.4L20.2 205.8L25.6 204.5L21.4 208L24.8 212L19.9 210.2Z" fill="#9a9c30" opacity="0.7"/><path d="M71.9 227.3L66.4 227.3L68.3 232L65.1 228.3L62.5 232.6L63.3 227.8L58.5 228.3L63 226L59.6 222.6L64.1 224.7L64.4 219.2L65.6 224.6L69.2 222.2L66.8 225.7Z" fill="#9a9c30" opacity="0.7"/><path d="M94.6 223.9L94.1 218.4L90.4 218.4L93.1 216.4L92 212.2L95.3 215.4L99.2 212.5L96.7 216.9L101.1 219.8L96 218.7Z" fill="#a0a25a" opacity="0.6"/><path d="M-1 168.7L2 167.4L-0.2 163.9L3 166.5L4.8 163.1L4.4 166.8L8.8 166.6L4.8 168.2L6.6 171.4L3.7 169.4L2 172L2.1 168.8Z" fill="#d4d63c" opacity="0.6"/><path d="M241.5 79.3L244.4 76.7L241.7 73.7L245.3 74.6L246.8 69.3L247.4 75.2L252.8 73.5L248.9 76.9L252.4 80.6L247.5 78.8L246.1 83.5L245.3 78.5Z" fill="#bcc032" opacity="0.6"/><path d="M162.1 103L159.4 105.2L162.5 107.9L158.8 106.5L157.9 109.2L157.5 106.1L154.5 107L156.6 105.1L154.5 102.9L157.4 103.9L158.2 101.4L158.9 103.7Z" fill="#a0a42c" opacity="0.8"/><path d="M6.4 153.7L3.5 150.8L1.3 154L2.1 149.8L-3.2 150.8L1.2 148.4L-1.7 145.4L2.3 147L2.8 143.5L4 146.7L8.1 144L4.8 148.1L9.4 149.4L5.1 149.8Z" fill="#a0a25a" opacity="0.6"/><path d="M161 148L158.1 144.7L155.1 147.4L156.7 143.3L152 142.3L156.7 141.6L156 138.4L158.3 140.5L160.8 138.4L159.9 141.7L163.2 142.8L159.7 143.5Z" fill="#c4ca38" opacity="0.6"/><path d="M195.7 80.3L200 80.6L199.8 76.5L201.6 80.4L204.5 78.4L202.8 81.3L206.9 83.3L202.3 82.9L202.5 86.8L200.8 83.3L198 84.9L199.7 82.2Z" fill="#a0a42c" opacity="0.6"/><path d="M214.9 228.4L213.4 232.7L216.8 234.7L212.8 234.7L211.9 237.8L210.7 234.8L206 235.5L210 232.9L208.3 229L211.6 231.5Z" fill="#b2b82e" opacity="0.5"/><path d="M220.3 62.3L215.3 64.2L217.4 68.9L213.4 65.4L210.8 69L211.5 64.5L205.8 64.3L211 62.4L208.4 57.2L212.8 61L216 56.2L214.9 61.9Z" fill="#c4ca38" opacity="0.8"/><path d="M53.6 172.5L52.5 169.3L49.7 170.9L51.8 168L47.9 166.9L51.8 166.7L50.4 163.1L53 166L54.7 163.3L54.1 166.7L57.6 166.1L54.7 167.8L57.5 170.5L53.9 168.8Z" fill="#9a9c30" opacity="0.5"/><path d="M128.1 191L126.3 188.9L123.6 190.9L125.2 187.7L122.2 186.6L125.2 186.1L124.7 182.8L126.7 185.7L129.6 183.2L127.8 186.6L131 187.8L127.9 188.2Z" fill="#bcc032" opacity="0.6"/><path d="M212.7 119.5L215.6 122.2L217.2 118.5L216.8 122.6L221.4 121.3L217.4 123.7L220.2 126L216.9 125L217 129.4L215.4 125.5L212.7 127.5L214.4 124.3L210.5 123.5L214.4 123Z" fill="#a0a25a" opacity="0.5"/><path d="M261 165.7L255.9 165.6L257.6 170.9L254.2 166.5L250.3 172.9L252.2 166L246.1 166.5L251.6 163.9L247.2 159.2L253 162.3L253.8 156.1L255.3 161.6L260 159.3L256.2 163.8Z" fill="#b2b82e" opacity="0.7"/><path d="M75.1 192.7L77.9 189.4L76 185.9L79.7 187.3L83.2 182.7L82.3 188.3L87.2 190.1L81.8 190.9L81.8 195.9L79.5 191.3Z" fill="#9a9c30" opacity="0.8"/><path d="M69.9 49.9L73.4 47.6L69.2 43L75.3 46.2L76 39.2L77.5 45.5L81.9 43.3L78.8 47.5L82.8 49.4L78.3 49.6L79.7 54.5L76.4 51.1L72.9 56.1L74.6 49.7Z" fill="#b2b82e" opacity="0.5"/><path d="M187.4 165.4L190.8 163L188.2 159.5L192.2 161.7L193.7 157.8L194.1 161.8L197.7 161.4L194.6 163.6L197.1 166.7L193.5 164.9L192.1 168.3L191.6 164.9Z" fill="#bcc032" opacity="0.6"/><path d="M78.8 142.5L81.4 143.8L83 141.2L83 144.4L86.1 144.4L83.2 145.9L85.2 148.9L82.3 147.1L80.4 151L80.9 146.5L78 146.6L80.6 145.2Z" fill="#b2b82e" opacity="0.8"/><path d="M107.8 49.7L110.7 48.1L109.3 44L112.3 46.9L115 45.4L113.7 48.3L116.1 50.3L113 49.9L111.8 53.6L111.3 49.8Z" fill="#a0a42c" opacity="0.8"/><path d="M185.5 127L184.8 131.9L191.2 132.2L185.3 134.3L188.6 140.5L183.3 135.7L180.5 139.6L180.8 135.1L175.3 134.5L180.6 132.4L178.6 127.8L182.6 130.4Z" fill="#a0a25a" opacity="0.6"/><path d="M35.8 113L35.1 109.2L31.9 109.9L34.1 107.6L31.8 105L35.2 106.2L36.3 101.6L36.9 106.4L39.8 105.7L37.6 107.7L39.8 110L36.7 108.9Z" fill="#a0a42c" opacity="0.7"/><path d="M110 114L106 116.6L109.6 119.4L105.4 118.2L105.1 122L103.6 118.3L99.6 121.7L102.1 117.4L97.4 116.2L102.2 115.5L99.9 110.7L103.8 114.5L105.6 111.2L105.4 115Z" fill="#e0e048" opacity="0.7"/><path d="M115.8 143.4L112.7 139.6L109.6 143.2L111.3 138.7L108.2 137.9L111.4 137.2L110 133.2L112.7 136L115.6 133.1L114 137.2L118.6 138L114.2 138.9Z" fill="#a0a25a" opacity="0.5"/><path d="M103.4 144.7L102.5 148.4L104.8 149.1L102.3 149.9L104.1 153.5L101.3 150.5L99.6 152.8L100.2 150.1L97.4 149.7L99.7 148.7L98.8 145.9L101.1 148Z" fill="#a0a25a" opacity="0.8"/><path d="M228.7 166.9L232.1 171.8L234.7 168.2L233.6 172.6L238.6 172.2L234.5 174.3L238.6 178.7L233.2 175.8L232.3 181.5L231.1 176.1L227.2 177.9L229.9 174.3L224.3 172.2L230.5 172.5Z" fill="#a0a42c" opacity="0.6"/><path d="M210.8 89.1L214.7 84.6L210.8 79.8L216.5 82.5L219.7 77.4L219.4 83.1L224.3 84.7L219.1 86.1L219.7 92.7L216.3 87.1Z" fill="#b2b82e" opacity="0.5"/><path d="M32.6 93.5L28.6 95.2L30.7 100.4L26.4 96.5L23.1 101L24.4 95.5L17.8 95L24.2 93.3L21.7 87.9L26 92.2L29 87.8L28.2 92.7Z" fill="#c4ca38" opacity="0.8"/><path d="M8.3 102L10.4 105.1L14 102.6L11.7 106.6L15.1 108.1L11.3 108.2L12 112.8L9.7 109L5.5 112.3L8.3 107.7L4 106L8.4 105.7Z" fill="#b2b82e" opacity="0.8"/><path d="M227.9 183.2L224.2 180.7L223.4 183.7L222.8 180.9L219.6 182.1L221.9 179.6L218.2 177.7L222.6 178.3L221.6 174.3L223.8 177.4L226.1 175L224.9 178.4L228.6 178.5L225.5 179.8Z" fill="#b2b82e" opacity="0.8"/><path d="M20.2 53.2L16.8 53.9L18.2 56.9L15.6 55L14.1 57.8L14.2 54.4L11 55.2L13.6 53.1L10.8 51L14.1 51.7L14 47.5L15.6 51.7L18.3 49.3L17 52.3Z" fill="#bcc032" opacity="0.6"/><path d="M123.6 269.7L122.4 265.6L118.7 266.9L121.7 264L118.9 261.8L122.3 262.5L122.8 258.4L124 262.2L127.3 261.1L125 263.7L128.3 266.4L124.1 265.2Z" fill="#a0a25a" opacity="0.6"/><path d="M67.4 208.3L63.8 204.7L61.7 209.3L62.2 204.2L56.8 205.7L61.2 202.7L58.4 200.2L62.3 201.3L62.4 197.4L64 200.7L67.8 197.7L65.1 202.1L69.8 203.1L65.1 203.7Z" fill="#e0e048" opacity="0.7"/><path d="M161 198.9L157.5 198.2L155.7 201.9L155.8 197.5L152.4 197.1L155.4 195.8L155 192.9L157 195.1L160.3 193.2L158.1 196.4Z" fill="#bcc032" opacity="0.9"/><path d="M240.3 160.1L240.1 163.2L243.6 162.5L240.3 164.4L243.7 166.9L239.8 165.4L239.9 169.4L238.6 165.9L236.2 167.5L237.5 165L233.9 164L237.8 163.6L236 159.9L238.8 163Z" fill="#a0a42c" opacity="0.8"/><path d="M22.2 59L20.8 56.3L18.1 57.8L19.7 55.2L16.3 53.4L20.2 53.8L20.1 50.5L21.6 53.4L24.2 51.9L22.7 54.4L25.6 56L22.1 55.7Z" fill="#a0a42c" opacity="0.6"/><path d="M89.2 170.2L91.3 166.1L86.3 163.2L92.2 163.4L91.6 156.1L94.7 163L100.2 159.3L96.4 164.7L103.3 167.9L96.3 167.5L96.1 172.9L93.3 168.3Z" fill="#a0a42c" opacity="0.7"/><path d="M171.2 168.5L169.4 164L165 165.8L168.4 162L164.6 159.4L169.1 160.3L169.4 155.6L171.1 159.6L175.9 157.3L172.3 161.4L175.4 163.8L171.6 163.5Z" fill="#a0a25a" opacity="0.5"/><path d="M4.3 116.5L7.6 117.2L7.4 113.9L9 116.5L12.5 113.2L10.4 117.5L14.1 118.2L10.4 119.2L12.3 122.8L9 119.8L7.7 123L7.4 119.9L3.6 121L6.7 118.4Z" fill="#e0e048" opacity="0.5"/><path d="M204.3 87.3L205.4 90L208.5 89.1L206.2 91.6L208.9 93.8L205.4 92.9L204.9 96.1L204 93L200.2 94.6L203.1 91.8L199.7 89.3L203.6 90.3Z" fill="#e0e048" opacity="0.6"/><path d="M140.2 172.7L137.6 177.1L144.2 179.9L137.3 179.5L137.7 185.6L134.7 180.6L129.5 183.9L133.3 178.3L126.7 175.6L133.7 176.1L132.9 169.1L136 175.1Z" fill="#a0a25a" opacity="0.9"/><path d="M146.2 165.3L144.8 161.5L141.9 162.6L144 160.1L140.3 157.7L144.7 158.8L144.8 154.1L146.2 158.3L149.2 157.1L147.4 159.7L150 161.8L146.6 161.3Z" fill="#a0a25a" opacity="0.8"/><path d="M90.5 199.3L95.6 200.4L96.4 193.7L98 200.6L102.5 198.7L99.5 202.3L104.2 205.9L98.6 204.7L97.7 210L95.9 205L89.8 207.5L94.3 202.7Z" fill="#bcc032" opacity="0.8"/><path d="M177.3 104.7L179.8 111.7L184.6 108.8L181.9 113.1L187.8 116.4L180.7 115.3L181 122.1L178.5 115.7L172.7 119.5L176.8 114.1L172.5 111.5L177.8 112Z" fill="#d4d63c" opacity="0.9"/><path d="M91.7 243.7L93.5 240.2L90.3 237.8L94 238L95.5 234.7L96.3 238.4L100.1 238.6L96.5 240.4L97.9 244.5L94.9 241.7Z" fill="#bcc032" opacity="0.5"/><path d="M41.9 120.4L43.7 125.1L48.3 121.6L45.4 126.4L48.9 127.8L44.9 128.4L46.9 133L43.3 129.4L41 134.2L41.5 129L35.8 130.3L40.8 127.2L36 123.4L41.6 125.3Z" fill="#bcc032" opacity="0.6"/><path d="M76.5 231.3L75.1 236.6L79.1 236.9L75.4 238.7L78.6 242.7L74.1 240.3L73 244.3L72.2 240.1L67.8 242.3L70.9 238.6L65.5 236.4L71.1 236.5L70.2 231.9L73.1 236.2Z" fill="#a0a25a" opacity="0.7"/><path d="M48.8 142L47.9 145.8L53.3 145.3L48.4 147.4L51.1 150.7L47.3 148.7L46.5 153L45.8 148.5L42 150.6L44.3 147.5L39.8 145.5L45.1 145.9L43.6 141.2L46.4 144.8Z" fill="#d4d63c" opacity="0.8"/><path d="M265.5 163.5L261 165.6L264.1 169.3L259.8 167.4L258.7 171.9L257.5 167.5L251.9 170.5L256.6 165.6L250.9 163.4L257.1 163.9L255.9 159.5L258.6 163L261.8 158.4L260.7 163.4Z" fill="#b2b82e" opacity="0.8"/><path d="M199.4 57L203.8 58L206.1 52.7L206 58.7L210.9 59.2L206.3 60.9L207.7 66.5L204.3 61.8L199.1 65.1L202.5 60.2Z" fill="#b2b82e" opacity="0.6"/><path d="M235.4 218.5L228.6 216.8L227.8 222.1L226.1 216.8L220.7 219.1L224.8 214.8L220.8 211.7L225.7 212.6L226.5 207.3L228.4 212.1L233.6 210.1L229.7 214.4Z" fill="#a0a42c" opacity="0.7"/><path d="M243.2 202.5L246.1 206.1L251.3 203.7L247.6 208.3L250.9 211.9L246.4 210.8L243.6 215.8L244 209.7L238.6 208.8L243.7 207.2Z" fill="#bcc032" opacity="0.7"/><path d="M151.7 142.1L153.4 147.7L159.3 146.5L154.4 149.9L156 153.6L152.6 151.6L148.7 155.7L150.4 150.3L145.5 148L150.9 147.8Z" fill="#bcc032" opacity="0.7"/><path d="M206 217.6L204.4 220.7L207.3 223.5L203.3 222.6L201.7 226L201.2 222.3L197.9 221.7L201.1 220.3L199.7 215.5L202.8 219.1Z" fill="#b2b82e" opacity="0.6"/><path d="M265.6 102L261.6 98.1L259.3 103.6L259.8 97.9L253.7 99.6L259.2 96.2L254.8 92.9L260 94.7L259.7 89.1L261.6 94.4L265.3 91.2L263.3 95.3L267.8 96.4L262.9 97.1Z" fill="#d4d63c" opacity="0.9"/><path d="M113 141L109.2 143.7L112.1 147L108.3 145.5L106.8 149.9L106.3 145.1L101.6 146.2L105.5 143.4L101.7 139.5L106.7 142L108.1 137L108.4 142.2Z" fill="#bcc032" opacity="0.8"/><path d="M42.4 192.8L46.2 189.1L42.8 186.8L46.8 187.7L47 182.5L48.5 187.2L52.5 185.4L49.5 188.7L52.5 191L48.6 190.1L48.3 194.3L47 190.5Z" fill="#a0a25a" opacity="0.7"/><path d="M265.4 99.4L265.4 94L261.6 94.2L264.6 92L261.1 87.4L266.1 90.4L268 86.1L268.2 90.8L274.1 89.9L269 92.8L272.3 97.3L267.5 94.6Z" fill="#c4ca38" opacity="0.7"/><path d="M97.5 213.5L92.4 216.2L95.9 219.7L91.2 217.5L90.7 221.9L89.3 218.2L84.6 221.2L87.9 216.6L82 214.7L88.5 214.7L86.1 208.8L90 213.4L92.3 210.4L91.9 214.3Z" fill="#b2b82e" opacity="0.6"/><path d="M115.2 97L119.5 93.7L116.6 90.2L121.1 92.2L122.6 86.4L123 92.3L128.3 91.1L124.1 94.2L126.3 97.1L122.8 96.1L121.3 99.4L120.8 95.4Z" fill="#b2b82e" opacity="0.7"/><path d="M268.9 106.4L264.4 110.6L268.6 116L262.8 113L259.6 116.4L260.1 111.6L254.3 109.7L260.4 108.8L260.4 102.6L262.9 108.7Z" fill="#a0a42c" opacity="0.9"/><path d="M246.5 186.1L249.2 182.5L243.7 180.3L249.9 180.7L248.7 176.4L251.4 179.4L254.3 175.8L253.5 180.3L258.3 180.3L253.4 182.4L257.8 186.9L252.3 183.6L251.6 189L250.4 184.2Z" fill="#b2b82e" opacity="0.6"/><path d="M201.7 101L201.5 97.6L197.4 98L201.4 96L198.9 92.8L202.2 94.8L203.7 91.8L203.7 95.2L206.9 95L204.4 96.7L207 100.2L203.2 97.8Z" fill="#bcc032" opacity="0.8"/><path d="M220.3 130.9L220.5 134.1L225.6 133.6L221 135.9L222.9 138.9L219.7 137.1L217.8 141.5L218 136.7L213.8 137.1L217.6 135.1L214.6 131L218.7 133.7Z" fill="#b2b82e" opacity="0.6"/><path d="M2.1 148.1L4.5 151.4L8.4 148.3L6.3 152.7L11.3 154.7L5.8 154.9L6.1 158.9L3.8 155.6L-0.1 158.6L2.5 154.1L-1.7 152.5L2.4 152.1Z" fill="#bcc032" opacity="0.8"/><path d="M144.5 130.5L145.8 127.8L142.8 125L146.9 126.3L148.4 122.4L148.8 126.2L152.2 126.8L148.9 128.2L150 132.4L147.2 129.2Z" fill="#bcc032" opacity="0.6"/><path d="M101.1 217.8L99.5 214.7L95.7 216.1L98.7 212.7L95.3 210.2L99.1 210.7L99.6 205.5L101.3 210.6L105.6 208.6L102.4 212.2L107.4 215.4L101.5 213.9Z" fill="#b2b82e" opacity="0.8"/><path d="M44.2 123.7L42.6 130.1L48.7 129.4L43.6 132.1L48.1 136.7L42.3 134L41.4 138.8L39.9 134.2L35.4 136.6L38.4 132.4L34.7 130.6L38.9 130.2L37 124.6L40.8 128.9Z" fill="#bcc032" opacity="0.8"/><path d="M62 73.8L58.7 72.9L58 76.2L57 73L53.2 74.3L56.2 71.5L53.9 69.3L56.9 69.9L57.7 65.8L58.7 69.9L62.4 68.7L59.5 71.5Z" fill="#a0a42c" opacity="0.7"/><path d="M238.7 159.8L235.9 162.8L240 166.5L234.5 164.5L233.6 169.7L232.4 164.7L227.6 166.2L231.6 162.8L228.6 160L232.7 161.3L233.5 157.3L234.7 160.8Z" fill="#a0a25a" opacity="0.6"/><path d="M224.9 108.4L221.4 113L226 116.6L219.8 115.2L219.5 122.3L217.5 115.4L212 118.2L215.7 113.7L211.4 110.4L216.9 111.4L217.4 105.8L219.3 111.3Z" fill="#e0e048" opacity="0.7"/><path d="M142.8 201.4L146.8 207.1L151.4 205.6L148.3 209.8L153.6 214.8L146.9 212.1L143.6 218.8L144 211.5L137.9 210.2L144 208.5Z" fill="#c4ca38" opacity="0.8"/><path d="M233.4 91.6L233.4 95.6L236.9 95.8L233.4 97.6L236.6 101.9L232.5 99.3L230.5 102.5L230.6 98.5L225.9 98.9L230 96.7L227.4 92.8L231.3 95Z" fill="#c4ca38" opacity="0.8"/><path d="M4 121.6L7.5 120.1L6.8 114.6L9.9 119.5L14.8 117L11.7 121.2L14.4 124.5L10.1 123.2L7.5 128.4L7.5 122.8Z" fill="#a0a42c" opacity="0.9"/><path d="M73.5 170.9L73.6 175.3L79.4 174.5L74.5 177.3L77.4 181.4L72.9 178.7L70.9 183.2L70.8 178.5L64.7 179.2L69.8 176.3L66.6 171.7L71.6 174.6Z" fill="#c4ca38" opacity="0.7"/><path d="M111.5 16.8L110 14.5L106.9 16.5L108.8 13.5L105.6 11.8L109.5 12.1L109.3 9.1L110.7 11.7L113.8 9.5L112 12.6L114.6 14.1L111.6 14.2Z" fill="#a0a42c" opacity="0.6"/><path d="M104.4 240.3L100.7 237.9L99.2 241.8L98.6 238L94.1 239.4L98 236L93.1 233.3L98.6 234.4L97.7 229.2L100.3 233.3L104.2 229.2L102.2 234.5L107.8 235L102 236.5Z" fill="#9a9c30" opacity="0.7"/><path d="M52.4 212.6L52.5 217.5L58.1 216.4L53 219.3L55.9 222.8L52.1 221.1L50.3 225L50 220.5L44.2 221.6L49 218.6L46.1 214.6L50.5 216.8Z" fill="#bcc032" opacity="0.7"/><path d="M252.2 89.3L248.7 87.2L246.7 91.4L247.2 86.5L242.5 87.1L246.7 85.1L244.7 82.2L247.7 83.9L249.3 80.8L249.2 84.4L252.7 84.1L249.8 85.8Z" fill="#bcc032" opacity="0.6"/><path d="M92.4 202.3L94.4 206.8L98.5 205.1L95.5 208.8L100 211.6L95 211L94.4 215L92.8 211L87.5 214L91.5 209.4L87.7 206.8L92.1 207.4Z" fill="#c4ca38" opacity="0.5"/><path d="M208 234.4L207.4 228.7L202.9 229.6L206.3 226.7L203.4 223.2L207.7 224.9L209.2 220.3L209.9 225.1L214.1 224.3L210.7 227.1L214.4 230.9L209.7 229.1Z" fill="#a0a25a" opacity="0.8"/><path d="M192.3 43.3L195.6 42.9L195.7 39.9L197.5 42.6L200.2 40.9L198.6 43.9L203 45.6L198.5 45.5L198.8 49.3L196.8 46.2L194.1 47.7L195.6 44.8Z" fill="#e0e048" opacity="0.8"/><path d="M99.9 18.2L103.4 22.1L106.2 16.7L105.3 22.4L110.4 21.7L106.2 24.4L109.9 27.9L105.1 26.4L104.4 30.5L103 26L98.5 29.2L101.6 24.8L95 23.1L101.5 22.7Z" fill="#bcc032" opacity="0.6"/><path d="M86.8 210L88.4 204.8L84 203.6L88.6 202.5L87.3 198L90.5 201.6L93.3 198.8L92.6 202.4L96.4 203.6L92.1 204.5L93.7 209.1L90.5 205.5Z" fill="#d4d63c" opacity="0.7"/><path d="M171.5 159.9L175.8 163.4L178.7 161L177.4 164.7L182.3 167.1L176.9 166.6L176.1 171.1L174.8 166.9L170.6 167.3L173.7 164.7Z" fill="#b2b82e" opacity="0.7"/><path d="M109.4 268.7L111.9 265.9L109.1 262.7L113 264.6L115 261.4L114.5 265.2L118 266.1L114.7 267L114.6 270.1L112.8 267.5Z" fill="#9a9c30" opacity="0.7"/><path d="M157 25.7L162 27.4L163.4 23.6L164.4 27.8L168.4 26.9L165.4 29.7L168.4 32.9L164.3 31.7L162.9 37.4L162.1 31.3L156.5 33.2L160.7 29.6Z" fill="#d4d63c" opacity="0.8"/><path d="M57.3 178L53.1 174.9L51.3 179.5L50.9 174.8L45.3 176.5L49.7 172.7L46.1 169.9L50.5 170.3L50.6 165.8L53 169.6L57.5 165.5L54.6 171.4L60.5 172.1L55.2 173.7Z" fill="#bcc032" opacity="0.6"/><path d="M131.9 64.9L134.8 61.3L132.1 59.1L135.9 59.7L136.1 55.4L137.6 59.2L140.6 58.1L139 60.8L141.3 62.8L137.9 62.3L137.8 67.3L136.2 62.8Z" fill="#a0a42c" opacity="0.6"/><path d="M119.4 206.2L116.2 205.1L116 209.2L114.8 205.3L112.4 206.7L113.9 204.3L110.2 203.2L114 202.9L112.8 199.8L115.2 202.2L117.2 198.2L116.5 202.6L120.7 201.8L116.9 203.9Z" fill="#a0a25a" opacity="0.8"/><path d="M71 118.9L69.4 114.9L65.2 116.6L68.4 113.1L65.3 110.7L69.2 111.4L69.8 107.9L71.2 110.9L74.4 109.9L72.4 112.6L75.1 114.9L71.5 114.4Z" fill="#a0a25a" opacity="0.7"/><path d="M120.9 206.8L123.5 210.3L127.7 208.8L124.9 212.4L127.6 215.9L123.4 214.4L120.9 218.1L120.7 213.9L115.5 212.4L120.8 211Z" fill="#d4d63c" opacity="0.9"/><path d="M177.8 156L183.3 160.3L185.3 153.4L185.2 160.8L190.8 158.4L187 162.2L191.6 165.3L185.8 164.3L186.3 169.2L183.7 165.2L179.6 169.4L182.1 163.7L175.1 163.4L182 161.8Z" fill="#bcc032" opacity="0.8"/><path d="M182.5 202.5L185.1 205.4L188.3 203.2L186.5 206.5L190.2 209.3L185.7 208.3L184.2 212.4L183.9 207.9L180.3 207.7L183.4 206.2Z" fill="#bcc032" opacity="0.8"/><path d="M27.5 129.8L30.3 131.1L31.3 128.1L31.8 131L34.8 130.6L32.2 132.5L34.5 135.2L31.3 133.7L30.2 136.2L30 133.3L26.5 134L29.1 132.1Z" fill="#9a9c30" opacity="0.8"/><path d="M255.1 129L250.4 126.8L250 131.8L248.6 127.4L244.9 129.4L247.5 125.8L243.2 124.2L247.7 123.9L245.9 118.9L249.4 123.2L251.9 119.1L251.2 123.6L255.9 123.2L251.5 125.5Z" fill="#d4d63c" opacity="0.8"/><path d="M110.8 57L107.6 61.7L112.8 63.9L107.3 63.6L107.4 67.6L105.2 64.6L101.4 66.8L104.1 62.7L99.5 60.6L104.2 60.6L103.7 54.8L106.3 60.4Z" fill="#a0a42c" opacity="0.8"/><path d="M7.8 103.8L12.3 98.6L7.1 95.9L12.7 96.7L12.9 92.2L14.9 96.1L19.8 93.3L16.1 97.9L21.8 100.9L15.7 100.1L15.4 104.7L13.4 100.3Z" fill="#c4ca38" opacity="0.9"/><path d="M5.7 107.6L2.9 105L0.2 107L1.6 103.9L-2.2 101.6L2.2 102.3L3.2 98.9L3.8 102.5L8.2 102.1L4.3 104Z" fill="#9a9c30" opacity="0.5"/><path d="M150.2 105L156.8 105.1L156.2 100.6L158.8 103.8L162.5 101.4L160.9 105.5L164.8 107.5L160.4 108.1L161.3 114.1L158.1 108.4L153.1 112.8L156.2 107.2Z" fill="#d4d63c" opacity="0.5"/><path d="M194.7 191.5L196 186.6L191.6 185.8L196.1 184.6L194.1 179.8L197.7 183.7L200.4 180.3L199.8 184.2L203.7 185.1L199.6 186.4L201.8 191.7L197.9 187.3Z" fill="#c4ca38" opacity="0.6"/><path d="M110.2 129.8L108.9 127.1L105.1 129.1L108 125.7L105.7 124L108.7 124.4L108.9 121.2L110.1 124.1L113 122.7L111.4 125.2L114.2 127.3L110.4 126.6Z" fill="#bcc032" opacity="0.6"/><path d="M44.3 223.3L40.6 226.9L44.4 229.1L40.2 228.9L40.6 232.9L38.2 229.3L34.9 233.1L36.6 228.3L31.1 228.2L36.3 226.5L34 222.9L37.7 225.1L39 221.1L39.6 225.2Z" fill="#b2b82e" opacity="0.8"/><path d="M15.9 196.5L18.5 198.1L20.7 196.3L20.2 199L22.6 200.6L19.4 200.6L19 205.1L17.8 200.9L14.9 201.1L17.3 199.3Z" fill="#a0a42c" opacity="0.5"/><path d="M11.2 184.7L15.2 190.5L21.8 187.3L17.5 193.1L21.6 197.8L15.4 195.5L12.2 201.9L12.3 195L6.9 193.7L12.2 191.7Z" fill="#c4ca38" opacity="0.7"/><path d="M41.4 125.4L46.5 122.8L43.8 118.1L48.5 121.4L50.9 116.9L50.8 121.8L55.8 121.8L51.4 124.2L53.4 128L49.6 125.8L47 130.6L47.3 125.2Z" fill="#b2b82e" opacity="0.6"/><path d="M53 65.9L50.9 68.7L53.6 70.9L50.2 70.6L49.6 73.8L48.3 70.6L43.7 73L47 69.2L42.7 66.3L47.8 67.4L48.3 63.2L49.7 67.4Z" fill="#c4ca38" opacity="0.7"/><path d="M32.8 37.2L28.6 39.5L30.6 42.1L27.8 40.9L26.2 45.2L26 40.8L21.6 41.4L25.4 39L23.1 36L26.5 37.5L28 33.9L28.3 38Z" fill="#d4d63c" opacity="0.6"/><path d="M72.1 131.8L69.4 129.7L67.5 133.1L68.2 129.2L64.6 129.2L67.7 127.9L66.4 125.1L68.9 126.8L70.9 123.4L70.1 127.6L74 127.5L70.7 128.9Z" fill="#bcc032" opacity="0.8"/><path d="M58.6 219.9L57.5 215L52.8 216.7L56.9 213.3L52.5 209.9L57.4 211.5L58.4 208.3L59.4 211.6L63.4 210.4L60.2 213.2L63.1 215.8L59.6 215.2Z" fill="#b2b82e" opacity="0.5"/><path d="M118.9 200L121.9 198.5L120.2 196L123 197.1L123.9 194.5L124.7 197.2L128.3 195.4L125.3 198.6L129 200.1L125.1 200L126.1 203.6L123.9 200.4L121.4 204.1L122.7 199.8Z" fill="#bcc032" opacity="0.9"/><path d="M159.7 111.4L156.6 113.5L160.9 116.7L156 114.9L156 119.4L154.4 115.3L150.4 118.4L152.9 114.2L148.1 113L153.4 112.5L151.8 109L154.6 111.7L156.8 106.8L156.3 111.8Z" fill="#d4d63c" opacity="0.7"/><path d="M203.7 177.3L208 172.8L202.6 169L209.2 170.9L209.7 164.8L211.3 170.7L217.2 167.9L212.4 172.5L217 175.8L211.8 174.8L211 180.4L209.4 174.6Z" fill="#bcc032" opacity="0.9"/><path d="M249.4 103.8L249.1 98.4L243 99.2L248 95.9L244.5 91L249.8 93.7L252.1 89.2L252.4 94.5L259.2 93.4L253 96.8L256.6 101.4L251.7 99.1Z" fill="#bcc032" opacity="0.7"/><path d="M42 235.3L40.5 231.8L35.8 233.8L39.7 230L34.7 226.8L40 227.9L40.8 224.3L42.1 228.1L46.1 226.4L43.6 229.6L48 232.7L42.6 231.4Z" fill="#c4ca38" opacity="0.5"/><path d="M80.7 245.5L73.2 245.8L74.3 251.8L70.9 246.6L66 250.9L68.4 245.4L63 243.1L69.2 242.7L67.7 235.5L71.5 242L76.2 237.8L74 243.1Z" fill="#e0e048" opacity="0.6"/><path d="M115.9 85.7L113.1 83.2L111.1 85.9L112 82.4L109 82L111.6 81L110.5 78.1L112.8 80.1L114.8 77.6L114.2 80.7L117.6 81.2L114.5 82.3Z" fill="#a0a42c" opacity="0.9"/><path d="M65.8 248.7L70.3 248L69.5 244.4L72 247.1L75.4 243.6L73.6 248.2L78.1 249.3L73.8 250.2L74.3 253.8L71.8 251.1L68 255.1L69.9 250Z" fill="#e0e048" opacity="0.5"/><path d="M188 69.7L191.5 68.6L190.7 65.4L193.2 67.9L196.1 64.2L194.6 68.7L198.9 69.3L195.1 70.5L196.2 74.1L193.4 71.1L190.8 74.2L191.6 70.6Z" fill="#e0e048" opacity="0.8"/><path d="M11.8 157.9L15.1 159.4L16.6 154.7L17 159.3L20.2 159.1L17.9 161.2L20.5 164.6L16.4 162.5L14.8 167.7L14.5 162.5L10 163.3L13.8 160.7Z" fill="#9a9c30" opacity="0.7"/><path d="M132.5 176.8L135.4 178.9L138 175.8L136.9 180.2L142 180.5L137.4 181.9L138.5 185.1L135.8 182.9L132.9 187.2L133.8 182.4L129.3 181.8L133.6 180.3Z" fill="#d4d63c" opacity="0.9"/><path d="M225.5 142.3L223.9 136.4L219.9 137.4L223.2 134.1L219.1 130.9L223.9 132L224.8 126.3L226.2 131.9L231.5 129.9L227.7 133.9L232.3 137.7L226.2 135.6Z" fill="#a0a25a" opacity="0.8"/><path d="M107.9 199.1L104.2 196.5L101.5 201L102.3 195.7L96.7 195.8L101.8 193.7L99.5 189.5L103.4 192.6L106.1 187.5L105.4 193L109.4 193.2L105.8 195.1Z" fill="#a0a25a" opacity="0.5"/><path d="M80.8 67.5L83.4 68.5L85.6 65L84.9 69.1L88.6 70L85.1 70.8L85.1 74.2L83.4 71.1L79.9 72.6L82.7 69.8Z" fill="#d4d63c" opacity="0.7"/><path d="M159.2 236.4L161.7 241.3L167 240.3L163.4 244.1L167.2 250.1L161 246.4L157 251.2L158.2 245L153.3 242.8L158.9 242.2Z" fill="#a0a25a" opacity="0.7"/><path d="M190.3 206.9L192.4 203.3L187.7 201.9L192.7 201.5L191.4 197.8L194.2 200.5L196.4 196.8L195.6 201.4L199.7 200.7L196.1 202.8L199.2 205.5L195.6 204.4L195.2 208.5L193.7 204.8Z" fill="#a0a25a" opacity="0.9"/><path d="M261.7 191.8L263 187.1L258.8 186.7L262.6 185.4L261.5 182.3L264.1 184.4L266.8 180.7L265.5 185.4L269.8 185.7L265.8 186.9L267.3 190.6L264.4 187.8Z" fill="#d4d63c" opacity="0.8"/><path d="M232.6 99.2L229 102.3L234.4 105.7L228.3 104.3L228.8 109.9L226.3 104.8L222.1 108.8L224.6 103.6L218.9 102.8L224.5 101.5L222.1 97.2L225.9 99.5L227.9 95.9L228.1 100.6Z" fill="#9a9c30" opacity="0.8"/><path d="M36 227.2L32.3 226L30.7 231.3L29.9 226L24.2 227.3L28.9 223.8L25 219.6L30.4 221.9L32 216.3L32.7 222.1L37.4 221.1L33.2 224.1Z" fill="#a0a25a" opacity="0.6"/><path d="M260.4 105.9L263.4 104.5L260.7 101.7L264.1 103.5L264.6 100.3L265.4 103.5L268.4 101.6L266.3 104.4L269 105.6L266 105.6L267.2 109.3L264.8 106.4L263 108.8L263.7 105.7Z" fill="#a0a25a" opacity="0.8"/><path d="M112.3 55L114.8 56.7L116.7 54.1L116 57.5L118.7 57.7L116.6 58.9L118.4 62.3L115.3 59.7L113.7 61.9L113.9 59.3L110.1 59.1L113.8 57.9Z" fill="#d4d63c" opacity="0.6"/></g>
</g>
<path d="M256.2 101.9l-0.2 6.3M154.3 24.5l-2.2 -6M220.9 173.3l-0.2 -4.8M84.7 216.6l-3.5 -4.2M183 242.7l1.4 -6.3M81 179.3l0.6 6.4M165.5 251.2l-0.5 -6.5M217.3 197.6l-5.1 4.8M191.5 79.4l8.5 0.8M101.5 231l-2.3 -9.6M9.7 67.1l8.1 0.9M84.3 210l7.8 4.6M52.9 168.9l1.2 -6.5M48.2 118l-2.3 4.7M171.9 201.9l4.9 2.9M14.2 114.3l-4.5 -3.4M122.4 168.9l-4.9 -3.1M115.6 117l7.3 -4.2M101.4 142.7l2 -4M164.5 226.3l5.6 4.5M104.8 212.7l-2.1 9.4M90.6 125.4l-0.8 5.3M99.4 34.2l3.1 -7.1M79.4 234.6l2.6 9M167.1 100.1l4.6 -0.3M119.3 188.8l-1.7 4.6M202.7 58.6l-9.2 -1.9M172.4 81.7l-8.3 0.1M179.3 170.5l7.4 -4M158.9 78.8l-3.7 -2.5M105.3 192l-4.5 -6.7M60.7 66.4l2.4 4.9M82.4 38.4l8.7 1.3M186 171l-9.5 2.9M254.3 150.9l4.1 6.7M254.3 190.2l-4.2 1.6M39 95l1.4 3.8M113.6 60.6l5.9 5.5M97.2 159l-0.4 -9M40.3 142.3l-3.2 -2.8M223.2 163l7.3 -1.3M127.4 161.9l-3.6 6M212.9 184l-3.1 -5.5M224.9 219.1l-1.7 3.9M57.7 77.3l4.2 -4.2M15.4 79.1l-4.1 -3.5M105.2 126.7l7.2 -2.7M162.4 106.1l-5.1 8.3M34.7 59.8l3.4 2.4M39.1 183.5l-9.7 -0.6M82 223.3l-2.2 3.4M59.2 172.9l-7.7 0.8M167.9 92.8l-1.4 -4.9M119.3 107.7l-2.1 5.3M152 239.6l4 4.5M216.7 56.4l-7.3 -6.4M145.1 198.2l-2.3 -3.7M55.7 216.7l-1.6 5.6M166.7 206.7l8.4 -3.5M210.4 188.7l5 -2M149.6 145.3l-0.4 7.2M252.1 134.1l4.8 2.2M169.3 191.1l-5.7 -2.4M138.4 12.9l5.7 -6.6M196.2 61.2l6.5 -5.7M114 111.3l1.3 5.2M72.6 141.8l-2.9 9M27.5 215.6l-4.9 5.8M197 38.7l-5.3 5.1M146.8 137.8l4 -3.3M162.3 103.4l-1.2 -6M116.6 100.3l-4.7 0.2M140.3 150.4l1.9 -4.9M104.9 20.1l-8.6 -2M30 132.8l-6.1 0.1M172.4 220.6l6.4 -2.2M156.6 12l-4 3.2M141.3 23.5l-3.8 8.4M100.6 62l-6.1 -2.9M161.4 28.9l1 -4.6M74.5 118.4l-8.9 -0.9M151.9 14.3l7.2 0M119.3 133.2l-8.1 2.2M242.3 92.4l4.2 -6.5M95.2 49.1l1.5 -4.6M225.9 81.7l8.2 4.2M48.2 168.4l-3.6 -8.5M66.6 88.2l4.7 -4.2M187.3 32.8l-3.6 5.3M258.8 105l-4.5 8.7M63 51.3l-1.7 5.4M72.1 51.2l0.6 -6.2M36.8 87.1l9.3 -2.2M106.3 144.7l2.7 3.4M31.5 171l8.1 -2.8M15.3 133.5l5 4.2M53.1 205.4l8.2 -3.4M184.6 163.9l-9.6 0.2M137.7 228.3l4 -3.2M97.4 33.5l-3.2 7.1M160 96.1l-4.3 -4.3M244.6 82.8l-8.6 -2.5M14.2 181.5l4.6 -4.2M172.4 25.7l0 -8M18.8 207.8l0.5 -9.2M65 226.3l-3.2 -3.7M95.1 217.3l7.5 -0.2M28.1 199.3l-7.7 -0.6M205.8 66.5l6.3 -3.1M266.5 84.6l2.7 -5.9M139.7 119.8l-4.2 -5.1M201.2 81.8l-7.5 -1.2M213.1 63.3l-8 0.3M53.1 167.6l2 4.3M228 158.6l-1.6 -6.1M80.3 189.6l-4.9 -7.2M81.9 145.6l-2.4 4M183 133.4l7 6.9M36 107.7l4.7 3M104.1 116.5l-3.1 -7.7M112.7 138l4.3 0.4M101.2 149.4l4 -3.4M232.2 173.8l6.7 1.8M56.5 98.5l-7.8 -1.9M15.2 53.1l7.5 2.4M63.4 202.8l3.1 -2.9M156.7 196.6l-8.3 -0.7M44.3 138.7l7.1 5.6M267 177.3l2.5 -5.9M94.1 165.3l-8 -1M170.3 161.7l1.3 -6.1M26.2 70.9l-2.4 -3.4M204.6 91.7l-2.5 -8.4M135.4 177.7l9.6 1.8M145.5 159.9l4.4 8.6M28.8 83.5l5.4 6.7M87.1 81.6l0.4 4.1M43 127.4l5.2 0.3M151.3 226.1l4.7 7.5M204.7 60l0.3 8.5M227.2 214.6l3.3 -4.2M192.3 39.6l2.3 5.2M168.6 206l-2.3 -3.8M245.5 208.4l-1.5 9.3M152.4 149.5l2.9 -5.2M202.5 221l6.7 7M207.3 153.3l5.9 -6.5M121.9 94l0.8 6.9M4.1 153.5l3.6 6.4M147.5 127.5l4.6 8.8M100.5 212.5l4.2 4.2M215 126.7l5.7 3.3M40.9 131.6l-8 4M231.9 97.2l-5.6 4.3M9.4 121.3l-3.9 3.2M72.3 176.8l-9 3M130.3 245.9l-6.4 -0.8M64.2 128.3l-6.5 3.9M51.3 219l5.8 -8M248.2 85.4l-4.1 -6.4M93.5 209.1l-3.7 -4.1M197.2 44.3l-0.2 -9.6M90.8 63.5l3.9 -6.1M233.1 122.2l-2.3 4.5M90.5 203.6l3.2 3.5M215.9 137.6l-7.1 -4.1M139.7 219.3l-1.9 5.2M176.4 149.6l-7.1 6.8M163.2 29.7l5.5 -2.2M115.4 203.7l8.1 2M87.7 132.8l7.8 -1M26.5 59.8l0.8 4.9M184.9 206.8l-5.8 2M74.1 135.1l7.8 1.7M193.3 60.9l-2.6 -6.2M98.1 128l-1.8 -4.2M3 103.5l6.7 -0.6M158.4 106.4l-7.2 -2M197.8 185.5l-6.1 5.5M38.4 227.2l8.3 -1.7M14.5 193.2l5.8 5.7M74.6 57.5l-3 -6.2M216.7 230l5 1.3M73.7 173.7l0.5 5.5M49 69l-0.2 -9.2M27.2 39.3l7.7 -1.3M58.5 213.3l-0.4 -9M154.9 113.4l-7.5 0.7M210.4 172.6l-5.7 -2.2M71.2 244.2l-6.9 -0.2M69.1 228l-6.1 -0.3M170 143.9l3.9 -2.7M113 81.6l-4.4 1.7M193.3 69.5l0.1 -4.1M15.7 161l-0.5 -7M135.6 181.1l2.6 -5.9M225.1 134l2.2 -8.5M103.7 194.4l-0.6 7M102.6 245l-6 4.5M83.8 69.8l-5.5 -0.4M162.5 22.3l0.5 6M38.2 142.7l-5.8 -5.6M194.5 202.6l3.2 -8.1M264.3 186.2l8.9 4.3M31.3 224l-7.6 -1.5M196.8 156.1l-3.8 1.4M264.8 104.8l-1.5 4.5M140.8 178.6l-3.2 -8.4" stroke="#eceee0" stroke-width="0.9" fill="none" opacity="0.6"/>
<path d="M107.8 267l4 -18l10 3l-2 16z" fill="#8a6d22"/>
</g>
</svg>
</div>
<div class="photo" style="left:651px;top:28.7px;width:270px;height:267.6px">
<svg width="270" height="267.6" viewBox="0 0 270 267.6" role="img" aria-label="dehydrated moss in dish photograph">
<defs>
<filter id="d1n" x="0" y="0" width="100%" height="100%" color-interpolation-filters="sRGB"><feTurbulence type="fractalNoise" baseFrequency="0.16 0.16" numOctaves="3" seed="11" result="n"/><feColorMatrix in="n" type="matrix" values="2.1 0 0 0 -0.53  2.1 0 0 0 -0.53  2.1 0 0 0 -0.53  0 0 0 0 1" result="g"/><feComponentTransfer in="g" result="c"><feFuncR type="table" tableValues="0.094 0.173 0.275 0.376 0.471 0.557 0.651 0.753 0.839"/><feFuncG type="table" tableValues="0.098 0.169 0.267 0.369 0.463 0.557 0.655 0.757 0.843"/><feFuncB type="table" tableValues="0.078 0.125 0.196 0.290 0.392 0.494 0.604 0.714 0.808"/></feComponentTransfer><feComposite in="c" in2="SourceAlpha" operator="in"/></filter>
<radialGradient id="d1d" cx="0.5" cy="0.5" r="0.5"><stop offset="0" stop-color="#e4e1da"/><stop offset="0.80" stop-color="#e6e3e0"/><stop offset="0.86" stop-color="#d2d3de"/><stop offset="0.93" stop-color="#e2e3ea"/><stop offset="0.97" stop-color="#ededf2"/><stop offset="1" stop-color="#c4c5cd"/></radialGradient>
<filter id="d1bl" x="-5%" y="-5%" width="110%" height="110%"><feGaussianBlur stdDeviation="0.7"/></filter>
<filter id="d1lf" x="0" y="0" width="100%" height="100%" color-interpolation-filters="sRGB"><feTurbulence type="fractalNoise" baseFrequency="0.04" numOctaves="2" seed="14"/><feColorMatrix type="matrix" values="0 0 0 0 0.16  0 0 0 0 0.14  0 0 0 0 0.08  3.4 0 0 0 -1.4"/><feComposite in2="SourceAlpha" operator="in"/></filter>
<radialGradient id="d1sh" cx="0.48" cy="0.42" r="0.5"><stop offset="0" stop-color="#000" stop-opacity="0.12"/><stop offset="0.6" stop-color="#000" stop-opacity="0.04"/><stop offset="1" stop-color="#a08050" stop-opacity="0.2"/></radialGradient>
</defs>
<linearGradient id="d1bg" x1="0" y1="0" x2="0" y2="1"><stop offset="0" stop-color="#7e7f82"/><stop offset="1" stop-color="#999a9d"/></linearGradient>
<rect width="270" height="267.6" fill="url(#d1bg)"/>
<g filter="url(#d1bl)">
<circle cx="134.1" cy="135" r="134.1" fill="url(#d1d)"/>
<circle cx="134.1" cy="135" r="120.7" fill="none" stroke="#cfd0dc" stroke-width="2" opacity="0.8"/>
<path d="M58.1 24.1L64 25.1L68.4 24.7L69.7 30.9L77 28.3L78.8 30.7L85.1 31.4L89.4 35.4L91.4 34L93.1 33.7L103 34.3L104.2 34L110.7 31.1L115 31.5L116.5 27.7L124 27.2L126.2 26.3L131.4 25.9L132.3 19L138.6 17.1L140.1 15.4L143 15.6L144.7 15.6L151.1 18.5L153.6 17.7L158.2 22.4L155.8 23L158.8 28.2L164.3 28.8L163.3 26.7L169.3 26.5L170.2 25.4L175.6 22.6L177.3 23.4L182 28L188.3 30.2L191.1 29.9L199.2 30.7L202 30.6L202.4 33.7L208.6 34.8L217.7 31.9L220.4 35.7L225.6 32.2L233.9 33.4L234.2 35.4L238.9 38.8L242.1 41.4L243 41.5L238.5 45.2L235.8 42.1L228.9 46.1L227.6 49.4L229.3 55.2L235.1 54.9L236.8 55.5L241.9 61.2L244.9 61.4L249.1 62.6L253.5 66.3L259.7 69.3L255.8 70.7L253.4 70.4L252.2 72.4L249.3 78L247.9 78.1L238.7 74.3L234.6 76.4L233 75.1L234.1 82.5L235.7 85.9L239.5 90.4L237.6 92.6L243.3 97.4L244.7 97.4L242.2 100.8L247.7 102.6L244 105.9L245 108.5L246.5 112L245.6 117.1L243.6 122.6L248.8 125.9L248.6 133.4L250.3 136.2L249.8 136.6L251.3 142.4L247.8 143.9L246.3 147L243.4 150.5L240.5 151L239.4 152.7L235.7 156.9L233.8 163.9L238.7 167.9L235.6 168L239.7 174.9L235 175.5L233.4 180L232.9 183.2L231.7 188.3L230.8 191.4L226.7 193.1L225.9 199.5L225.2 202.6L222.9 207.9L227.8 215.6L224.8 218.4L227.4 224.4L229.5 223.8L227.5 231.2L221.1 231.3L222.3 236.3L216.6 230.3L214.9 228.6L209.7 225.4L209.5 220.6L202.8 223L201.1 222.4L199.3 227.8L192.3 227.6L187.8 231.3L186.1 234.3L184 236.1L177 237.4L176.4 239L172.4 241.1L167.6 245.3L165.7 250L161.3 246L156.2 246.5L156.5 249.7L152.2 246.1L144.6 243.9L142.1 244.5L137.2 240.2L133.2 240L129.9 241.9L125.4 241.6L118.8 247.6L117.8 245.8L113.2 243L107.9 240.6L103.1 238.6L99.6 237.7L93.9 237.8L91.5 235.2L87.2 233L82.1 234L78.9 232.1L79.7 227.2L74 221.9L74.1 221.3L66.4 222.3L64.2 220.4L61.8 219.9L54.6 223.8L55.8 229.4L55.5 231.6L53.5 230.2L50.4 234.4L49.6 232.1L48.7 226.7L44.3 223.6L44.8 223.4L38.2 222.3L33.1 218L34.1 220.1L27.4 218.8L25.4 213.9L23.8 211L22.4 202.3L21.6 199.1L27.3 198.6L29.9 197L32.8 194.4L35.4 189.6L36.5 183.7L37.5 182.1L41.8 182.3L40.3 176.9L39.4 176.3L38.5 167.4L37.7 166.6L31.5 162L29.9 159L24.1 154.4L20.1 152.2L17.9 149.2L14.5 146.4L7.6 146.6L8.4 151L2 148.7L3.5 144.3L4.9 145.8L6.6 137.4L7.2 135.8L12.5 132.7L16.5 132.8L18.2 132.8L23.6 130.6L27.7 126.5L28.3 123.6L27.5 116.4L28.9 113.3L28.4 109.8L27.6 105.6L26 104.9L20 102.8L27.1 96.3L28.9 94.4L32.4 91.2L34.4 90.7L34 88L33 81.9L32.1 81.5L31.7 78.1L34.4 76.7L39.4 72.4L38.4 66.7L45.2 63.9L43.6 63.1L41.9 60.1L39.6 58.5L40.9 54.6L47.6 54.1L50.5 49.1L53.7 46L55 45.5L58.7 42.6L60.8 38.9L60.6 39.6L62.6 35.2L60.1 29.8L60.5 27.3L58.8 25.6Z" fill="none" stroke="#d8d4c4" stroke-width="6" stroke-linejoin="round" opacity="0.5"/>
<g><path d="M50.9 27.3L56.5 24.6L52 20.5L57.3 23L57.9 17.6L59.2 23L63.5 20.2L60.3 24.3L65.5 25.9L60.6 26.4L62.2 31.3L58.6 27.2L56 31.3L56.8 26.4Z" fill="#9a8a62"/><path d="M79.8 28.9L77.1 28.6L76.3 30.9L75.7 28.6L72.8 28.6L75.2 27.1L74.4 24.3L76.6 26.3L79 24.6L77.8 27.3Z" fill="#aca994"/><path d="M89.8 29.3L91.8 32.9L95.7 31.5L92.8 34.5L96.1 38.4L91.7 36.2L88.9 40.5L89.7 35.4L84.5 34.2L89.6 33.2Z" fill="#8b876c"/><path d="M103.5 34.6L100.6 35.4L102.7 38.1L100.1 36.4L99.2 38.8L99 36L96.4 37.2L98.1 35.3L95.4 33.7L98.8 34.3L98.3 31.6L99.7 34L101.4 32.2L100.8 34.3Z" fill="#9d9a80"/><path d="M106.9 33.3L109.9 30.7L105.9 27.3L110.9 29.4L111.7 24.3L112.7 28.9L116.7 27.9L113.8 30.7L115.6 33.1L112.4 32.1L111.5 37.3L110.7 32.3Z" fill="#6c6a4e"/><path d="M128.6 28.4L125.2 29L125.8 32.1L123.7 29.3L121.5 31.5L122.4 28.8L120 27.9L122.6 27.3L121.7 23.8L123.9 26.8L126.5 24.1L125.3 27.3Z" fill="#9d9a80"/><path d="M143.1 11L142.4 14L146.2 14.2L142.9 15.4L143.7 17.9L141.6 16.3L139.3 19.3L140.2 15.6L137.1 15.1L140.3 14.2L139.2 11.7L141.2 13.1Z" fill="#9d9a80"/><path d="M154.1 23L154.2 19.8L151.3 20.2L153.9 18.4L150.6 15.8L154.3 16.9L154.4 13L155.8 16.9L159.5 13.8L156.8 17.8L159.8 18.6L156.8 19.2L158.5 22.7L155.7 19.9Z" fill="#9d9a80"/><path d="M157 35.4L159.7 29.8L155.2 26.3L161 27.1L162.8 21.7L163.6 27.6L168.1 27.7L164.1 29.9L166.6 36.2L162.1 31.6Z" fill="#8b876c"/><path d="M170.1 29.7L171.6 24.6L167.2 24.3L171.1 23L169.2 18.6L172.7 21.9L175.4 18.4L174.5 22.6L179.2 23.2L174.4 24.5L176.3 28.6L173 25.8Z" fill="#aca994"/><path d="M181.5 20.5L185 22.4L187.9 19.1L186.6 23.6L191.1 25.2L186.8 25.7L186.3 30.5L184.4 26L180.5 26.7L183.3 24Z" fill="#6c6a4e"/><path d="M190.2 33.4L190.7 29.7L185.3 28.5L190.8 27.9L190.5 22.8L192.7 27.1L196.9 25.8L194.1 29L196.2 32.4L192.4 30.4Z" fill="#6c6a4e"/><path d="M193.4 30.7L197.8 29.7L195.7 25.7L199.2 28.3L201.3 23L201.2 28.7L205.3 27.8L201.7 30.6L205.4 33.3L201.3 32.6L201.2 36.7L199.3 32.5L195.7 35.8L197.4 31.8Z" fill="#8b876c"/><path d="M214.1 39.8L211.1 38.3L209.5 42L209.5 37.8L205.9 38.3L208.8 36.3L206.5 33.2L209.9 35L211.4 31.7L211.4 35.5L215.6 34.8L211.9 36.9Z" fill="#6c6a4e"/><path d="M215.8 30.1L219.2 33L221.7 29.8L220.7 34L225.8 34.2L221 35.6L223.2 40.1L219.6 37L216.6 41.2L218.1 35.9L214.4 35.5L217.7 34.2Z" fill="#9a8a62"/><path d="M236.6 30.1L235.9 34L240.9 34.8L235.9 36.1L236.9 39.6L234.2 37L231 41.4L232.4 36.3L226.8 35.7L232.3 34.3L230 29.1L234 33.5Z" fill="#9a8a62"/><path d="M249.4 44.1L245.3 41.3L243.5 47L243.4 40.8L238.4 42.7L242.1 39.2L237.3 36.2L242.8 37.1L242.5 32.3L245 36.6L248.2 33.7L246.7 37.8L252.5 38.3L246.8 39.8Z" fill="#9a8a62"/><path d="M238.8 43.2L235.1 44.8L235.7 48.4L233.2 45.9L229.3 48.1L231.9 44.2L229.6 41.9L232.8 42.5L234.4 38.7L234.8 42.7Z" fill="#aca994"/><path d="M230.6 42.5L230.1 46.7L235.8 45.5L230.6 48.4L233.9 51.3L229.9 50.1L229.7 55.6L228 50.6L223.7 53.5L226.3 49.1L221.9 47.6L226.5 46.9L225.5 43.4L228.4 46.3Z" fill="#6c6a4e"/><path d="M228.1 55.6L233 55.3L232.5 51.5L234.8 54.7L238.6 51.3L236.5 55.7L239.7 57.2L236.2 57.8L237.1 62.8L234.3 58.3L230.8 61.2L233 57.1Z" fill="#6c6a4e"/><path d="M235 58.5L238.6 57.8L238.9 53.8L240.7 57.5L244.8 56.2L241.4 59.1L243.9 62.5L240.3 60.6L237.6 64.5L238.4 60Z" fill="#7a7458"/><path d="M245.7 64.6L248.7 64.4L247.9 61.6L249.9 63.8L252 60.3L251.4 64L254 64.1L251.4 65.5L253.4 67.7L250.7 66.6L250.3 70.7L249.4 66.7L246.2 68.7L248.4 65.8Z" fill="#6c6a4e"/><path d="M257.3 64.6L259.2 68.5L262.3 66L260.5 69.2L263.7 70.8L260.1 70.8L260.5 74.8L258.6 71.2L256 72.9L257.6 70.1L254.2 68.7L257.8 68.7Z" fill="#9d9a80"/><path d="M246.7 83.6L247.2 79.4L243.2 78.6L246.9 76.9L244.7 71.8L249 76.1L251.6 72.4L251 76.5L255.2 77.2L250.9 78.6L253.6 83.9L249.4 80Z" fill="#9a8a62"/><path d="M236.6 78.7L232 76.9L229.4 81.8L229.8 76.2L224.6 75.3L229.6 73.9L229.4 69.5L232 72.8L236.9 70.8L233.6 75Z" fill="#aca994"/><path d="M237.3 86.4L234.5 84L232.6 88.6L232.8 84L228.1 85.1L232.6 82.3L229.8 80.1L232.9 80.6L233 76.8L234.7 80.4L237.6 78.2L235.8 81.6L240 82.5L235.8 83.2Z" fill="#6c6a4e"/><path d="M239.8 97L238 94.8L235.9 96.6L237.1 93.9L234.6 93.1L237.1 92.7L236.7 90.4L238.3 92L240.7 89.8L239.4 92.9L242.7 93.9L239.2 94.2Z" fill="#aca994"/><path d="M249.4 95.3L249.3 99L253.9 99.2L249.6 101.1L251.9 105.4L248 102.2L245.4 106.7L246 101.8L241.4 101.5L245.7 99.7L243.4 95.5L247.3 98.6Z" fill="#9a8a62"/><path d="M247.9 117.6L244.5 118.4L244.5 122.3L242.7 118.6L238.4 120.4L241.5 117.2L239.6 114.3L242.8 115.7L245.1 112.6L244.5 116.5Z" fill="#aca994"/><path d="M247.8 120.9L248.2 125.3L252.1 125.1L248.9 126.9L249.6 129.9L247.3 127.7L244.9 129.2L246.1 126.6L243.3 124.6L246.7 125.2Z" fill="#7a7458"/><path d="M255.1 134.6L251.5 136.3L254 139.6L250.2 137.7L249.3 140.7L248.5 137.5L244.4 139.7L247.9 136.1L242.9 134.2L248.1 134.8L247 130.7L249.4 134.2L251.9 130.7L250.9 134.6Z" fill="#8b876c"/><path d="M243.3 145.4L246.4 146.8L246.8 142.9L247.7 146.6L250.4 145L248.7 147.6L251.5 148.8L248.1 148.8L249.2 151.9L247.2 149.3L245.5 152L245.8 149.2L242.6 149.4L245.3 147.8Z" fill="#9a8a62"/><path d="M241.9 160.4L236.4 158.8L235.7 163.4L234.3 159.2L230.5 160.3L233.3 157.2L228.7 153.8L234.1 155.3L234.9 150.8L236.4 155L241.2 153.2L237.4 157Z" fill="#8b876c"/><path d="M234.5 176.8L235.6 174.2L233.3 172.6L236.1 172.8L237 169.4L237.7 172.7L241.3 172.6L238.1 174.3L239.4 177.8L236.8 175.4Z" fill="#9d9a80"/><path d="M230.3 189.6L233.4 188.7L233.1 184.6L235.1 188.3L238.7 186.8L236.3 189.7L238.7 192.7L235 190.9L233.2 193.8L233.5 190.4Z" fill="#9d9a80"/><path d="M221.5 201.1L224 202.5L225.9 200.5L225.2 203.3L228.2 204.6L225.1 204.8L224.8 208.8L223.3 205.3L220.5 205.6L222.8 203.6Z" fill="#7a7458"/><path d="M226 207.1L226.8 211.5L229.6 210L228 212.3L231.4 213.8L227.7 213.9L228.4 216.8L226.3 214.4L224.4 217L224.9 214L221.6 214L224.6 212.5L221.5 209.3L225.5 211.5Z" fill="#6c6a4e"/><path d="M225.6 222.7L228.8 223.7L229.4 220.3L230.2 223.6L233.5 222.5L231.1 224.8L233.4 227L230.4 226.2L229.6 228.6L228.9 226L225.1 227.5L228 224.9Z" fill="#9a8a62"/><path d="M224.6 232.2L222.5 235.6L226.1 237.8L222 237.7L221.7 241.8L219.9 237.9L215.7 240.5L218.2 236.6L214.1 234.1L219.2 234.7L219 229.9L221.1 233.8Z" fill="#aca994"/><path d="M221.5 231.5L215.6 229.1L214.6 235L213.5 229.5L207.9 231.4L212.2 227.5L208.9 224.1L213.6 225.6L214.7 221.3L215.9 225.5L220.1 224.4L216.6 227.5Z" fill="#aca994"/><path d="M207.2 218.7L210.2 218.6L211 215.6L211.9 218.6L214.3 218.6L212.4 220.1L213.8 223.2L211.2 220.9L209.3 222.6L209.8 220.2Z" fill="#7a7458"/><path d="M199.4 228L198.6 225.5L195.9 226.9L197.8 224.5L195.1 223.3L198.2 223.3L196.9 219.5L199.2 222.6L201 220.1L200.3 223.2L203.8 222.9L200.7 224.4L203.3 227.1L199.9 225.3Z" fill="#9a8a62"/><path d="M196.2 220.6L193.3 224.3L196 227.2L192.3 226.1L190.2 230.1L190.4 225.5L186.6 224.8L190.4 223.7L189.5 219.2L192.1 222.6Z" fill="#aca994"/><path d="M184.8 237.4L184.6 232.8L180.4 233.6L184.1 231.3L182.1 228.7L185 229.7L186.6 225.6L186.8 230.1L189.7 230L187.3 231.8L190.2 235.2L186.2 233Z" fill="#9d9a80"/><path d="M172.9 234.6L175.7 235.8L176.1 232.6L176.9 235.7L180.2 233.4L177.8 236.5L181.2 237.6L177.8 237.9L178.8 241L176.5 238.3L174.5 241.9L175.2 238.1L172.2 238.3L174.9 236.7Z" fill="#8b876c"/><path d="M167.2 244.9L167 247.7L170 247.7L167.1 248.9L169.2 252.1L166.3 249.9L164.8 252.1L165.2 249.3L162 249.4L164.8 248.2L163 245.2L165.7 247.2Z" fill="#6c6a4e"/><path d="M152.6 253.8L151.9 248.2L146.9 249.5L150.6 246.3L148 243.1L152.1 244.5L153.4 240.7L154.3 244.5L157.8 244L155.4 246.6L159.2 250.5L154.1 248.5Z" fill="#8b876c"/><path d="M140.6 239.8L142.4 242.4L145.2 239.4L143.8 243.3L146.9 243.7L143.8 244.8L145.9 247.8L142.9 246.2L141.7 250.6L141.3 245.9L138.3 246.9L140.5 244.6L136.8 242.6L140.7 242.9Z" fill="#7a7458"/><path d="M130.9 236.3L133.3 239L135.2 235.9L134.8 239.3L139.3 238.8L135.4 240.9L138.7 244.2L134.2 242L133.8 246.3L132.6 242.5L128.8 244.8L131.6 241.1L128.1 239.8L132.1 239.7Z" fill="#8b876c"/><path d="M125.3 251.1L125.4 246.7L121.2 246.8L125 244.8L122.5 241L126.3 243.2L128.3 239.6L128.1 244L133.5 243.4L128.7 245.7L132.1 250.4L127.4 247.3Z" fill="#9a8a62"/><path d="M120.1 250L117.4 248.3L114.3 251.3L115.9 247.1L112.4 245.3L116.1 245.1L117 241.2L118 245.4L121.6 244.9L118.7 246.9Z" fill="#8b876c"/><path d="M111.7 241.5L109.2 243.5L111.7 245.4L108.8 244.8L108.9 248.4L107.3 245.3L104.5 247.7L106.2 244.3L102.5 243.6L106.4 242.9L104.2 239.2L107.4 242.1L109 237.7L108.7 242.2Z" fill="#7a7458"/><path d="M93.5 235.5L97.6 235.9L98.9 231.8L99.7 236.1L105 235.7L100.3 238.1L102 242.6L98.5 239.2L95.2 241.8L96.7 238Z" fill="#6c6a4e"/><path d="M74.9 233.5L79 234L79.6 228.1L81.3 234.2L86.3 231.8L82.7 235.8L86.7 238.8L81.6 237.6L81.3 244.2L79.6 238L73.7 240.9L78.2 236.2Z" fill="#9a8a62"/><path d="M66.8 220.3L70.6 220.5L72.1 215.5L73 220.7L77.5 220.8L73.2 222.8L75.1 227.7L71.6 224L67.5 227.3L70.1 222.7Z" fill="#6c6a4e"/><path d="M49.7 223.8L53.2 221.5L51.3 216.6L55.3 220L58.3 218.1L57.2 221.6L61.5 224.4L56.4 224L55 228.4L54 223.8Z" fill="#8b876c"/><path d="M52.9 237.4L50.5 235.9L49.8 238.3L49.4 235.8L46.2 237.4L49 235L45.8 233.5L49 233.9L48.4 230.7L50.1 233.6L52 231.3L50.9 234.2L53.8 234.2L51.4 235.2Z" fill="#9a8a62"/><path d="M47.3 218.5L45.7 222.4L49.1 222.6L45.9 223.7L48.4 227.1L44.9 224.7L43.9 228.1L43.6 224.5L39.7 226.2L42.9 223.4L40.5 221.9L43.2 222L42.5 217.9L44.6 221.5Z" fill="#6c6a4e"/><path d="M35 229.6L33.6 223.5L27.3 224.5L32.2 221.1L30.5 216.4L34.6 219.9L39.1 215.2L36.8 221L41.7 223.8L36.3 223.8Z" fill="#8b876c"/><path d="M33.2 213.7L31 217.9L34.8 219.9L30.5 220.3L30.9 225.4L28.2 221.1L24.8 223.1L26.4 219.4L22.9 217.5L27 217.2L26.2 211.1L29.1 216.9Z" fill="#9d9a80"/><path d="M28.7 204.1L26.1 206.8L28.9 208.1L25.9 208.1L26.3 210.5L24.7 208.3L22.4 211.7L23.7 207.9L20.3 208.1L23.1 206.7L20.6 203.8L24.1 205.8L24.8 203.1L25.3 205.9Z" fill="#9a8a62"/><path d="M27 195.8L24.7 198.9L29.1 202L23.8 200.9L23.3 205.9L21.7 200.9L16.2 203.8L20 199.4L16 196.3L21.3 197.5L21.7 191.6L23.5 196.8Z" fill="#7a7458"/><path d="M26.3 197.3L28.1 195.5L26.1 194L28.6 194.3L28.4 191.6L29.8 193.9L32.1 191.7L30.8 194.7L33.6 195L31.1 195.9L32.7 198.6L30 196.5L29 199.7L28.7 196.7Z" fill="#9d9a80"/><path d="M31.1 189L34 187L33.4 183.4L36.3 185.6L39.3 184L38 187.3L41.8 190.2L37.1 189.4L35.6 194L35 189.1Z" fill="#9d9a80"/><path d="M41.5 171.3L41.7 174.7L46 174.6L42.3 176.7L44.5 180.4L40.6 177.7L38.6 182.6L39.1 177.3L35.5 177.5L38.2 175.7L35.5 171.6L39.7 174.5Z" fill="#aca994"/><path d="M28.5 159.2L33 161.3L34 157.2L34.7 161.1L38.8 160.1L35.3 162.8L38.7 166L34.5 164.4L33.3 167.8L32.6 164.2L28 165.5L31.8 162.5Z" fill="#7a7458"/><path d="M27.3 151.7L25.1 155.1L28.6 156.2L25.1 156.8L26.8 160.9L23.7 157.7L21.6 161.2L21.8 157.3L18.4 157.6L21.1 155.5L17.8 152.3L22.3 154L22.5 148.8L24 154Z" fill="#9d9a80"/><path d="M16.8 141.5L17.4 146L21.9 145.1L18.1 147.9L20.9 151.1L17.1 149.6L15.6 154.4L15 149.5L10.6 150.3L14.3 147.6L11.2 144.2L15.3 145.8Z" fill="#9a8a62"/><path d="M7.3 152L4.2 149.6L2.2 152L2.6 148.7L-2.4 148.6L2.5 147.1L0.6 143.5L3.7 146L5.9 142.7L5.1 146.8L8.5 147L5.9 148.5Z" fill="#9a8a62"/><path d="M3.6 137.4L5.6 135.6L3.4 133.6L6.1 134.2L6.9 130.7L7.5 134.6L10.1 133.8L8.3 135.6L11.2 138.2L7.6 136.9L6.8 140L6 137Z" fill="#6c6a4e"/><path d="M11.3 137.4L14.9 132.7L10.6 130.4L15.5 130.8L15.2 125.5L17.4 130.4L21.3 128.1L18.7 131.8L23.2 134.2L18.2 133.8L18.3 138.8L16 134.7Z" fill="#9a8a62"/><path d="M28 133.3L23.6 132L23.7 135.7L22.2 132.1L19.3 134.5L21 131.3L17 130.5L20.6 129.7L18.7 125.7L22.2 128.9L23.8 125.3L23.5 129.3L28.5 127.8L24.3 130.6Z" fill="#9d9a80"/><path d="M29.7 120.3L28.9 122.9L31.4 123.7L28.6 124.2L29.7 127.5L27.6 124.9L25.7 126.7L26.4 124.2L23.7 123.4L26.6 123L25.7 120L27.6 122.5Z" fill="#9d9a80"/><path d="M23 112.3L27.5 111.9L26.6 107.8L29 111.2L32.7 107.6L30.7 112.1L34.7 113.5L30.3 114L30.9 117.5L28.7 114.8L25.7 117.3L27.4 113.6Z" fill="#7a7458"/><path d="M20.2 96.5L20.9 99.6L24.5 99L21.6 100.9L22.9 103.9L20.3 101.6L17.7 104.2L19 100.9L16.6 99.4L19.6 99.6Z" fill="#7a7458"/><path d="M30.2 99.2L27.6 97.6L26.7 101.2L26.5 97.4L23.4 98.9L25.9 96.5L22.5 94.9L26.2 95.5L25.4 92L27.2 95.1L29.4 92.4L28.2 95.6L31.6 95.7L28.6 96.8Z" fill="#9d9a80"/><path d="M33.6 83.7L35.8 87L39.7 84.2L37.1 88.5L41.8 90.4L36.7 90.3L37.4 95.5L34.9 91.2L30.8 94L33.4 89.7L29.3 87.7L34 87.8Z" fill="#7a7458"/><path d="M28.9 74.2L31.6 76.4L33.8 72.6L32.8 77.1L37 77.1L33.1 78.4L34.4 81.1L32 79.2L30 82.5L30.5 78.9L27.7 78.5L30.6 77.4Z" fill="#aca994"/><path d="M42.3 63.6L41.5 69.5L46.8 70.8L41.6 72L41.5 76.2L39.1 72.9L34.6 74.3L37.8 70.6L34.8 66.8L39.2 68.5Z" fill="#6c6a4e"/><path d="M41.9 57.7L45.7 59.8L49.1 55.9L47.6 61.1L51.4 62.7L47.5 63.4L46.9 67.2L45.2 63.7L40.6 64.7L44.1 61.6Z" fill="#9d9a80"/><path d="M44.4 48.5L43.9 52.5L47.9 51.9L44.6 54L47.6 57L43.6 55.5L43.1 59.5L41.8 55.7L37.6 58.7L40.5 54.5L35.7 53L40.6 52.6L39 48.1L42.3 51.6Z" fill="#7a7458"/><path d="M60.8 48L55.7 47.6L56.8 52.2L54.1 48.2L51.3 51.8L52.4 47.6L47.3 47.6L52.3 45.8L49 41.8L53.4 44.4L54.4 39.3L55 44.6L60.1 41.8L56 45.9Z" fill="#6c6a4e"/><path d="M58.6 30.9L62.3 33.3L64 30.6L64 33.9L68.3 33.6L64.4 35.5L66.3 38.4L63.2 36.5L61.5 40.4L61.5 36.5L56.9 36.8L61.4 34.7Z" fill="#9a8a62"/></g>
<path d="M58.1 24.1L64 25.1L68.4 24.7L69.7 30.9L77 28.3L78.8 30.7L85.1 31.4L89.4 35.4L91.4 34L93.1 33.7L103 34.3L104.2 34L110.7 31.1L115 31.5L116.5 27.7L124 27.2L126.2 26.3L131.4 25.9L132.3 19L138.6 17.1L140.1 15.4L143 15.6L144.7 15.6L151.1 18.5L153.6 17.7L158.2 22.4L155.8 23L158.8 28.2L164.3 28.8L163.3 26.7L169.3 26.5L170.2 25.4L175.6 22.6L177.3 23.4L182 28L188.3 30.2L191.1 29.9L199.2 30.7L202 30.6L202.4 33.7L208.6 34.8L217.7 31.9L220.4 35.7L225.6 32.2L233.9 33.4L234.2 35.4L238.9 38.8L242.1 41.4L243 41.5L238.5 45.2L235.8 42.1L228.9 46.1L227.6 49.4L229.3 55.2L235.1 54.9L236.8 55.5L241.9 61.2L244.9 61.4L249.1 62.6L253.5 66.3L259.7 69.3L255.8 70.7L253.4 70.4L252.2 72.4L249.3 78L247.9 78.1L238.7 74.3L234.6 76.4L233 75.1L234.1 82.5L235.7 85.9L239.5 90.4L237.6 92.6L243.3 97.4L244.7 97.4L242.2 100.8L247.7 102.6L244 105.9L245 108.5L246.5 112L245.6 117.1L243.6 122.6L248.8 125.9L248.6 133.4L250.3 136.2L249.8 136.6L251.3 142.4L247.8 143.9L246.3 147L243.4 150.5L240.5 151L239.4 152.7L235.7 156.9L233.8 163.9L238.7 167.9L235.6 168L239.7 174.9L235 175.5L233.4 180L232.9 183.2L231.7 188.3L230.8 191.4L226.7 193.1L225.9 199.5L225.2 202.6L222.9 207.9L227.8 215.6L224.8 218.4L227.4 224.4L229.5 223.8L227.5 231.2L221.1 231.3L222.3 236.3L216.6 230.3L214.9 228.6L209.7 225.4L209.5 220.6L202.8 223L201.1 222.4L199.3 227.8L192.3 227.6L187.8 231.3L186.1 234.3L184 236.1L177 237.4L176.4 239L172.4 241.1L167.6 245.3L165.7 250L161.3 246L156.2 246.5L156.5 249.7L152.2 246.1L144.6 243.9L142.1 244.5L137.2 240.2L133.2 240L129.9 241.9L125.4 241.6L118.8 247.6L117.8 245.8L113.2 243L107.9 240.6L103.1 238.6L99.6 237.7L93.9 237.8L91.5 235.2L87.2 233L82.1 234L78.9 232.1L79.7 227.2L74 221.9L74.1 221.3L66.4 222.3L64.2 220.4L61.8 219.9L54.6 223.8L55.8 229.4L55.5 231.6L53.5 230.2L50.4 234.4L49.6 232.1L48.7 226.7L44.3 223.6L44.8 223.4L38.2 222.3L33.1 218L34.1 220.1L27.4 218.8L25.4 213.9L23.8 211L22.4 202.3L21.6 199.1L27.3 198.6L29.9 197L32.8 194.4L35.4 189.6L36.5 183.7L37.5 182.1L41.8 182.3L40.3 176.9L39.4 176.3L38.5 167.4L37.7 166.6L31.5 162L29.9 159L24.1 154.4L20.1 152.2L17.9 149.2L14.5 146.4L7.6 146.6L8.4 151L2 148.7L3.5 144.3L4.9 145.8L6.6 137.4L7.2 135.8L12.5 132.7L16.5 132.8L18.2 132.8L23.6 130.6L27.7 126.5L28.3 123.6L27.5 116.4L28.9 113.3L28.4 109.8L27.6 105.6L26 104.9L20 102.8L27.1 96.3L28.9 94.4L32.4 91.2L34.4 90.7L34 88L33 81.9L32.1 81.5L31.7 78.1L34.4 76.7L39.4 72.4L38.4 66.7L45.2 63.9L43.6 63.1L41.9 60.1L39.6 58.5L40.9 54.6L47.6 54.1L50.5 49.1L53.7 46L55 45.5L58.7 42.6L60.8 38.9L60.6 39.6L62.6 35.2L60.1 29.8L60.5 27.3L58.8 25.6Z" fill="#77705a" filter="url(#d1n)"/>
<path d="M58.1 24.1L64 25.1L68.4 24.7L69.7 30.9L77 28.3L78.8 30.7L85.1 31.4L89.4 35.4L91.4 34L93.1 33.7L103 34.3L104.2 34L110.7 31.1L115 31.5L116.5 27.7L124 27.2L126.2 26.3L131.4 25.9L132.3 19L138.6 17.1L140.1 15.4L143 15.6L144.7 15.6L151.1 18.5L153.6 17.7L158.2 22.4L155.8 23L158.8 28.2L164.3 28.8L163.3 26.7L169.3 26.5L170.2 25.4L175.6 22.6L177.3 23.4L182 28L188.3 30.2L191.1 29.9L199.2 30.7L202 30.6L202.4 33.7L208.6 34.8L217.7 31.9L220.4 35.7L225.6 32.2L233.9 33.4L234.2 35.4L238.9 38.8L242.1 41.4L243 41.5L238.5 45.2L235.8 42.1L228.9 46.1L227.6 49.4L229.3 55.2L235.1 54.9L236.8 55.5L241.9 61.2L244.9 61.4L249.1 62.6L253.5 66.3L259.7 69.3L255.8 70.7L253.4 70.4L252.2 72.4L249.3 78L247.9 78.1L238.7 74.3L234.6 76.4L233 75.1L234.1 82.5L235.7 85.9L239.5 90.4L237.6 92.6L243.3 97.4L244.7 97.4L242.2 100.8L247.7 102.6L244 105.9L245 108.5L246.5 112L245.6 117.1L243.6 122.6L248.8 125.9L248.6 133.4L250.3 136.2L249.8 136.6L251.3 142.4L247.8 143.9L246.3 147L243.4 150.5L240.5 151L239.4 152.7L235.7 156.9L233.8 163.9L238.7 167.9L235.6 168L239.7 174.9L235 175.5L233.4 180L232.9 183.2L231.7 188.3L230.8 191.4L226.7 193.1L225.9 199.5L225.2 202.6L222.9 207.9L227.8 215.6L224.8 218.4L227.4 224.4L229.5 223.8L227.5 231.2L221.1 231.3L222.3 236.3L216.6 230.3L214.9 228.6L209.7 225.4L209.5 220.6L202.8 223L201.1 222.4L199.3 227.8L192.3 227.6L187.8 231.3L186.1 234.3L184 236.1L177 237.4L176.4 239L172.4 241.1L167.6 245.3L165.7 250L161.3 246L156.2 246.5L156.5 249.7L152.2 246.1L144.6 243.9L142.1 244.5L137.2 240.2L133.2 240L129.9 241.9L125.4 241.6L118.8 247.6L117.8 245.8L113.2 243L107.9 240.6L103.1 238.6L99.6 237.7L93.9 237.8L91.5 235.2L87.2 233L82.1 234L78.9 232.1L79.7 227.2L74 221.9L74.1 221.3L66.4 222.3L64.2 220.4L61.8 219.9L54.6 223.8L55.8 229.4L55.5 231.6L53.5 230.2L50.4 234.4L49.6 232.1L48.7 226.7L44.3 223.6L44.8 223.4L38.2 222.3L33.1 218L34.1 220.1L27.4 218.8L25.4 213.9L23.8 211L22.4 202.3L21.6 199.1L27.3 198.6L29.9 197L32.8 194.4L35.4 189.6L36.5 183.7L37.5 182.1L41.8 182.3L40.3 176.9L39.4 176.3L38.5 167.4L37.7 166.6L31.5 162L29.9 159L24.1 154.4L20.1 152.2L17.9 149.2L14.5 146.4L7.6 146.6L8.4 151L2 148.7L3.5 144.3L4.9 145.8L6.6 137.4L7.2 135.8L12.5 132.7L16.5 132.8L18.2 132.8L23.6 130.6L27.7 126.5L28.3 123.6L27.5 116.4L28.9 113.3L28.4 109.8L27.6 105.6L26 104.9L20 102.8L27.1 96.3L28.9 94.4L32.4 91.2L34.4 90.7L34 88L33 81.9L32.1 81.5L31.7 78.1L34.4 76.7L39.4 72.4L38.4 66.7L45.2 63.9L43.6 63.1L41.9 60.1L39.6 58.5L40.9 54.6L47.6 54.1L50.5 49.1L53.7 46L55 45.5L58.7 42.6L60.8 38.9L60.6 39.6L62.6 35.2L60.1 29.8L60.5 27.3L58.8 25.6Z" fill="url(#d1sh)"/>
<path d="M58.1 24.1L64 25.1L68.4 24.7L69.7 30.9L77 28.3L78.8 30.7L85.1 31.4L89.4 35.4L91.4 34L93.1 33.7L103 34.3L104.2 34L110.7 31.1L115 31.5L116.5 27.7L124 27.2L126.2 26.3L131.4 25.9L132.3 19L138.6 17.1L140.1 15.4L143 15.6L144.7 15.6L151.1 18.5L153.6 17.7L158.2 22.4L155.8 23L158.8 28.2L164.3 28.8L163.3 26.7L169.3 26.5L170.2 25.4L175.6 22.6L177.3 23.4L182 28L188.3 30.2L191.1 29.9L199.2 30.7L202 30.6L202.4 33.7L208.6 34.8L217.7 31.9L220.4 35.7L225.6 32.2L233.9 33.4L234.2 35.4L238.9 38.8L242.1 41.4L243 41.5L238.5 45.2L235.8 42.1L228.9 46.1L227.6 49.4L229.3 55.2L235.1 54.9L236.8 55.5L241.9 61.2L244.9 61.4L249.1 62.6L253.5 66.3L259.7 69.3L255.8 70.7L253.4 70.4L252.2 72.4L249.3 78L247.9 78.1L238.7 74.3L234.6 76.4L233 75.1L234.1 82.5L235.7 85.9L239.5 90.4L237.6 92.6L243.3 97.4L244.7 97.4L242.2 100.8L247.7 102.6L244 105.9L245 108.5L246.5 112L245.6 117.1L243.6 122.6L248.8 125.9L248.6 133.4L250.3 136.2L249.8 136.6L251.3 142.4L247.8 143.9L246.3 147L243.4 150.5L240.5 151L239.4 152.7L235.7 156.9L233.8 163.9L238.7 167.9L235.6 168L239.7 174.9L235 175.5L233.4 180L232.9 183.2L231.7 188.3L230.8 191.4L226.7 193.1L225.9 199.5L225.2 202.6L222.9 207.9L227.8 215.6L224.8 218.4L227.4 224.4L229.5 223.8L227.5 231.2L221.1 231.3L222.3 236.3L216.6 230.3L214.9 228.6L209.7 225.4L209.5 220.6L202.8 223L201.1 222.4L199.3 227.8L192.3 227.6L187.8 231.3L186.1 234.3L184 236.1L177 237.4L176.4 239L172.4 241.1L167.6 245.3L165.7 250L161.3 246L156.2 246.5L156.5 249.7L152.2 246.1L144.6 243.9L142.1 244.5L137.2 240.2L133.2 240L129.9 241.9L125.4 241.6L118.8 247.6L117.8 245.8L113.2 243L107.9 240.6L103.1 238.6L99.6 237.7L93.9 237.8L91.5 235.2L87.2 233L82.1 234L78.9 232.1L79.7 227.2L74 221.9L74.1 221.3L66.4 222.3L64.2 220.4L61.8 219.9L54.6 223.8L55.8 229.4L55.5 231.6L53.5 230.2L50.4 234.4L49.6 232.1L48.7 226.7L44.3 223.6L44.8 223.4L38.2 222.3L33.1 218L34.1 220.1L27.4 218.8L25.4 213.9L23.8 211L22.4 202.3L21.6 199.1L27.3 198.6L29.9 197L32.8 194.4L35.4 189.6L36.5 183.7L37.5 182.1L41.8 182.3L40.3 176.9L39.4 176.3L38.5 167.4L37.7 166.6L31.5 162L29.9 159L24.1 154.4L20.1 152.2L17.9 149.2L14.5 146.4L7.6 146.6L8.4 151L2 148.7L3.5 144.3L4.9 145.8L6.6 137.4L7.2 135.8L12.5 132.7L16.5 132.8L18.2 132.8L23.6 130.6L27.7 126.5L28.3 123.6L27.5 116.4L28.9 113.3L28.4 109.8L27.6 105.6L26 104.9L20 102.8L27.1 96.3L28.9 94.4L32.4 91.2L34.4 90.7L34 88L33 81.9L32.1 81.5L31.7 78.1L34.4 76.7L39.4 72.4L38.4 66.7L45.2 63.9L43.6 63.1L41.9 60.1L39.6 58.5L40.9 54.6L47.6 54.1L50.5 49.1L53.7 46L55 45.5L58.7 42.6L60.8 38.9L60.6 39.6L62.6 35.2L60.1 29.8L60.5 27.3L58.8 25.6Z" fill="#000" filter="url(#d1lf)" opacity="0.55"/>
<g filter="url(#d1bl)">
<g><path d="M184.6 78.9L180.9 78.6L177.2 82.7L178.7 77.2L175.3 74.1L179.7 74.7L183 71.4L181.9 76.2Z" fill="#1d1c12" opacity="0.7"/><path d="M102.4 65.7L105.3 61.9L104.2 58.9L106.9 60.6L110.9 58.7L108.4 62.3L109.7 65.7L106.6 63.8Z" fill="#3f2f18" opacity="0.6"/><path d="M43.6 197.3L38.1 194L32.1 196.6L35.5 191L33.4 185.6L38.4 188.9L43.2 186.9L40.5 191.4Z" fill="#1d1c12" opacity="0.9"/><path d="M104.4 172.5L102.3 175.9L103.7 178.4L101.1 177L98.7 178.4L99.7 175.9L97.9 172.8L101.1 174.7Z" fill="#3f2f18" opacity="0.5"/><path d="M91.4 161.9L90.9 166.5L94.2 169.2L89.8 168.4L87.1 172.5L87.6 167.9L85 165.4L88.6 165.7Z" fill="#33301c" opacity="0.6"/><path d="M165.9 231.3L162.7 231.6L161.6 234.1L161 231.5L158.1 230.2L161.4 229.9L162.5 227.1L162.9 230.1Z" fill="#262a1c" opacity="0.5"/><path d="M100.2 114.5L98 112.8L95.2 113.4L97 111.1L95.9 107.4L98.7 110L102.3 109L99.6 111.8Z" fill="#4a3a1c" opacity="0.7"/><path d="M196.5 199.9L196.4 202.4L198.4 203.8L196 203.8L194.5 206.4L194.3 203.6L192.2 201.9L195 202Z" fill="#4a3a1c" opacity="0.6"/><path d="M98.1 192.2L102.1 190.8L103.2 187.3L104.4 190.9L110 191.6L104.7 193.1L103.7 197.2L102.4 193.1Z" fill="#262a1c" opacity="0.8"/><path d="M132.3 166.2L134.7 162L133.2 158.4L136.7 160.1L141.1 157.9L138.6 162.1L140.6 166.2L136.6 163.9Z" fill="#1d1c12" opacity="0.5"/><path d="M242.5 126.5L240.2 129.3L241.9 132.5L239.1 130.4L236.1 131.7L237.8 129.1L237 126.7L239.3 127.8Z" fill="#33301c" opacity="0.8"/><path d="M199.2 221.9L204.4 220.1L205.8 213.6L208 219.7L213.3 221.5L207.7 223.1L206.4 229L204.7 223.2Z" fill="#1d1c12" opacity="0.8"/><path d="M56.3 162.2L59.7 161.1L61 157.3L62 161.2L65.8 162.5L61.8 163.3L60.7 166.4L59.6 163.5Z" fill="#3f2f18" opacity="0.8"/><path d="M149.9 78.5L150 72.7L145.5 70.4L150.4 70L153.2 64.5L153 70.9L158.6 73.5L152.6 73.6Z" fill="#4a3a1c" opacity="0.5"/><path d="M121.7 207L126.6 206.4L129 201.4L129.5 206.9L134.1 209.3L129 210L126.4 215.1L126.3 209.1Z" fill="#2a2819" opacity="0.8"/><path d="M180.6 23.8L179 26.7L180.3 29.2L177.8 28.1L174.9 29.6L176.7 26.7L175.1 24.1L177.7 25.2Z" fill="#33301c" opacity="0.9"/><path d="M192.5 197.4L190.4 199.2L190.2 201.8L188.6 199.5L185 199.8L188 198L187.8 194.5L189.7 197.4Z" fill="#4a3a1c" opacity="0.5"/><path d="M225.2 220.6L226.5 223.2L229.9 223.7L226.6 224.9L226.1 228L224.9 225.2L221.8 224.7L224.8 223.5Z" fill="#4a3a1c" opacity="0.9"/><path d="M44.3 79L47 80.5L50.5 79L48.2 82.2L49.1 84.7L46.7 83.4L43.7 84.7L45.7 82Z" fill="#3f2f18" opacity="0.7"/><path d="M235.6 159.2L234.8 163.3L237.6 166.3L233.5 165.5L230.4 168.6L231.2 164.3L228.7 161.4L232.5 162.1Z" fill="#3f2f18" opacity="0.8"/><path d="M146.6 12.5L146 16.9L149.1 19.5L145.1 19.2L142.3 22.4L143.2 18L140.5 15.8L143.8 15.9Z" fill="#262a1c" opacity="0.8"/><path d="M35.5 187.3L36.1 190.9L40.4 193.6L35.2 193.5L32.8 197.3L32.9 192.7L28.3 190.3L33.5 190.6Z" fill="#262a1c" opacity="0.5"/><path d="M95.8 107.6L90.9 107L86.7 110.2L87.7 104.9L83.7 100.5L89.6 101.8L94.7 96.7L92.5 103.7Z" fill="#2a2819" opacity="0.7"/><path d="M65 99.1L61.1 97.6L58.5 99.5L59.3 96.4L56.6 93.1L60.7 94.8L63.7 92.2L62.3 95.9Z" fill="#2a2819" opacity="0.8"/><path d="M222.1 226.7L223 222.3L219.7 218L224.9 219.3L229 216.6L227.6 221.5L231.9 226.3L225.9 224.4Z" fill="#2a2819" opacity="0.9"/><path d="M196.6 52.4L194.9 47.5L189.8 47L194.5 45.2L195.1 39.3L197.1 44.8L201.1 45.7L197.6 47.6Z" fill="#4a3a1c" opacity="0.5"/><path d="M217 73.9L220.3 73.1L220.9 70.6L221.6 73.1L224 73.7L221.8 74.5L221.1 77.3L220.1 74.7Z" fill="#4a3a1c" opacity="0.8"/><path d="M216.9 71.4L212.1 68.4L207.1 71.3L210.1 66.4L206.6 60.7L212.2 64.3L217.6 61.2L214.7 66.5Z" fill="#3f2f18" opacity="0.6"/><path d="M55.4 208L61.4 206.7L63.3 201.6L64.4 207.1L68.7 208.7L64.2 209.8L62.6 215.2L61.3 209.9Z" fill="#3f2f18" opacity="0.7"/><path d="M31.6 122.2L36.9 123.7L39.9 119.9L39.3 124.4L42.5 127.7L37.9 126.7L34.6 130.4L35.6 125.6Z" fill="#33301c" opacity="0.6"/><path d="M193.1 159.2L193 153.3L186.9 149.9L193.8 150L196.7 146.2L197.4 150.8L202 154L196.1 153.9Z" fill="#262a1c" opacity="0.8"/><path d="M56.5 118.9L52.9 117.5L49.8 119.5L51.2 116L49.1 112.9L52.6 114.4L56.2 111.7L54.3 115.7Z" fill="#33301c" opacity="0.6"/><path d="M121.9 39.4L117.8 37.6L114.4 40.4L116.2 36.3L114.7 33.8L117.5 34.7L120.7 32.1L119.1 36Z" fill="#33301c" opacity="0.6"/><path d="M144.5 79.3L141.3 79.5L138.4 83.1L139 78.4L135 75.5L139.9 76.2L142.6 72.6L141.9 77.2Z" fill="#3f2f18" opacity="0.8"/><path d="M223.1 199.5L225.7 197.2L225.5 193.8L227.8 196.4L231.2 196.1L228.8 198.5L229.2 202.6L226.5 199.4Z" fill="#262a1c" opacity="0.8"/><path d="M218.4 174.7L224.9 171.9L225.9 166.3L228.4 171.5L233.7 172.4L229 175L228.1 181.3L225.5 175.4Z" fill="#1d1c12" opacity="0.7"/><path d="M165.7 192.5L169.9 195.2L173.5 193.4L171.3 196.9L173 200.2L169.8 198.5L165.9 200.6L167.8 196.8Z" fill="#262a1c" opacity="0.6"/><path d="M143.8 52.2L146.3 55.1L150.9 55.2L146.8 57.7L146.9 62.2L144.3 58.7L140.4 58.5L143.3 55.9Z" fill="#2a2819" opacity="0.8"/><path d="M223 218.8L218.9 219.3L217 222.1L216.5 218.7L213.4 216.8L217 216.4L218.9 212.6L219.1 217Z" fill="#3f2f18" opacity="0.9"/><path d="M79.7 45.1L81.8 49.6L85.9 49.7L82.6 51.9L82.2 56.1L80 52.5L75.6 52.1L79.7 50.1Z" fill="#4a3a1c" opacity="0.7"/><path d="M221 36.6L224.3 41.6L230.1 40.7L225.4 44L226.2 49.9L222.7 45.3L216.8 45.9L222.1 42.6Z" fill="#3f2f18" opacity="0.8"/><path d="M195.7 78.9L195 75.7L192.5 74.8L195.2 74.2L196.1 70.9L196.9 74.1L199.2 75.2L196.7 75.9Z" fill="#33301c" opacity="0.6"/><path d="M89.5 113.2L85.5 112.7L82.6 115.5L83.2 111.5L81.1 109L84.4 109.4L87 106.8L86.6 110.4Z" fill="#262a1c" opacity="0.8"/><path d="M47.1 181.2L42.8 182.2L42.2 186.4L41 182.5L37.7 181.6L40.9 180.5L41.8 177.6L42.8 180.5Z" fill="#3f2f18" opacity="0.5"/><path d="M188.3 30.4L192.4 29.9L194.5 25.5L195.1 30.3L199.8 32.6L194.7 33.3L192.3 37.1L191.9 32.5Z" fill="#2a2819" opacity="0.6"/><path d="M211 42.7L206.3 43.5L203.4 48.3L203.2 42.5L196.7 39.5L203.9 39.7L206.4 35.3L207.3 39.9Z" fill="#2a2819" opacity="0.7"/><path d="M80.1 49.2L84.1 46L82.9 39L87 44.5L93.2 43.9L88 47.7L89.1 54.6L85 49.2Z" fill="#4a3a1c" opacity="0.8"/><path d="M90.4 218.5L89.6 215.1L86.6 213.8L89.7 213L91.1 209.5L91.6 213.4L95.2 214.5L91.6 215.2Z" fill="#1d1c12" opacity="0.6"/><path d="M69.1 198.1L65.9 195.3L61.2 196.4L64.7 192.9L63 187.6L66.9 191.3L71.9 190.1L68.2 193.8Z" fill="#2a2819" opacity="0.9"/><path d="M242 131.2L244.7 125.4L240.8 120.6L246.4 122.9L251.1 119.4L248.5 124.9L251.9 129.2L247 127.7Z" fill="#3f2f18" opacity="0.9"/><path d="M36.8 138.9L35.4 143.4L37.7 146.3L34 145.3L30.6 148.6L32.1 144.1L28.7 140.6L33.3 142.1Z" fill="#2a2819" opacity="0.8"/><path d="M97 130.7L93.3 128.8L89.8 130.8L92.1 127.2L90.5 124.5L93.2 125.6L95.8 124.6L94.5 127.1Z" fill="#4a3a1c" opacity="0.7"/><path d="M21 144.9L22.8 148.5L25.9 149.1L23.3 150.8L22.9 155.4L21 151.1L17.9 150.5L20.7 149Z" fill="#4a3a1c" opacity="0.8"/><path d="M107.4 114.6L106 117.3L107.5 119.6L105 118.6L102.9 119.6L103.9 117.4L102.2 114.8L104.9 116.2Z" fill="#4a3a1c" opacity="0.8"/><path d="M174 49.5L173.5 45.7L170.1 43.8L174.1 43.4L175.9 39.6L176.2 43.9L179.5 45.6L175.8 46Z" fill="#2a2819" opacity="0.5"/><path d="M93 142L96.8 140.3L97.1 136.1L98.9 139.8L103.1 140.3L99.4 142.2L98.7 146.1L97.1 142.3Z" fill="#1d1c12" opacity="0.7"/><path d="M185.1 156.6L180.1 158.2L178.6 165.6L176.8 158.5L170.9 156.7L176.6 154.7L178.5 148.1L180.6 154.6Z" fill="#1d1c12" opacity="0.8"/><path d="M182.7 44.5L182.2 48.6L186.3 52.5L180.7 50.9L177.5 54.1L178.1 49.8L175.3 46.6L179.5 47.1Z" fill="#3f2f18" opacity="0.7"/><path d="M190.6 207.5L188 212L189.7 215.6L186.1 213.8L181.7 216.3L184.4 211.9L182.1 207.9L186.1 210.3Z" fill="#33301c" opacity="0.8"/><path d="M129.1 122.9L128.1 126.4L130.5 129.3L126.8 128L124.1 130.4L125.3 126.9L122.7 124.1L126.3 125.3Z" fill="#33301c" opacity="0.7"/><path d="M105.7 211.1L111.4 215.4L117.5 212.6L113.2 218L115.7 223.5L110.9 220L105.4 222.4L108.4 217.5Z" fill="#4a3a1c" opacity="0.6"/><path d="M182.3 67.4L185.9 65.1L185.9 62.1L187.8 64.5L191.3 64.3L188.3 66.3L188.8 70.5L186.4 67.2Z" fill="#1d1c12" opacity="0.9"/><path d="M183.1 24.1L184.9 29.8L191.5 30.7L185.3 32.7L184.2 39.9L182.2 32.9L175.6 31.8L181.8 29.7Z" fill="#1d1c12" opacity="0.9"/><path d="M204.2 225.1L205.5 219.5L202.2 215.7L207.2 216.7L211.7 211.9L210 218.2L213.7 222.2L208.3 220.8Z" fill="#4a3a1c" opacity="0.7"/><path d="M103.1 56.5L100.4 57.9L100 61L98.6 58.3L94.5 58L98.3 56.4L98.6 52.8L100.1 56.1Z" fill="#1d1c12" opacity="0.8"/><path d="M36.4 203.5L36.8 198.9L32.8 195.6L38 196.5L40.8 193.1L40.6 197.4L44 200.4L39.5 200.1Z" fill="#2a2819" opacity="0.8"/><path d="M30.3 75.7L35.5 79.8L40.6 78.3L37.3 82.6L40 89L34.8 84.7L29.5 86.4L33.2 82Z" fill="#3f2f18" opacity="0.6"/><path d="M201.7 40.4L199.1 39.9L196.9 42L197.6 39L195.1 36.4L198.6 37.5L201.2 34.9L199.9 38.5Z" fill="#262a1c" opacity="0.9"/><path d="M233.2 32.6L235.2 35.1L238.2 35.1L235.9 37L236 40.1L234.1 37.6L230.5 38L233.2 35.8Z" fill="#2a2819" opacity="0.7"/><path d="M235 37.5L234.6 41.7L237.5 44L233.8 43.7L231.8 45.9L231.7 43L228.4 40.6L232.6 41Z" fill="#2a2819" opacity="0.5"/><path d="M32.8 207.5L35.7 211L41.6 211.1L36.7 214.4L36.6 219.9L33.6 215.1L29.2 214.9L32.7 212.3Z" fill="#33301c" opacity="0.8"/><path d="M156.9 178.5L152.5 180L151.8 184.8L150.1 180.5L146.1 179.5L149.9 177.9L150.9 174.1L152.7 177.4Z" fill="#262a1c" opacity="0.9"/><path d="M113.4 95.9L109.5 97.7L108 102.4L106.6 97.4L101.5 96.3L106.1 94.6L107.5 88.6L109.1 94.6Z" fill="#3f2f18" opacity="0.9"/><path d="M40.7 160.3L36.4 162.6L36.9 167.8L34.3 163.5L29.4 163.6L33.5 161L33.8 157.4L35.9 160.5Z" fill="#2a2819" opacity="0.7"/><path d="M66.8 117.9L68.8 120.2L71.8 120L69.5 121.9L70 125.7L67.7 122.5L64.5 122.9L67.1 120.9Z" fill="#1d1c12" opacity="0.5"/><path d="M149.9 139.1L151.9 145L156.6 145.9L152.7 148.1L151.5 153.3L149.3 148.4L143.4 147.4L149.3 145.4Z" fill="#1d1c12" opacity="0.7"/><path d="M161 105.6L167.1 102.8L167.4 97.2L169.8 102.3L174.7 102.6L170.8 105.2L170.4 111.8L167.5 105.9Z" fill="#1d1c12" opacity="0.7"/><path d="M130.1 93.2L126.8 94L126.2 97.5L125.2 94.2L123.1 93.5L125.1 92.5L125.9 90.2L126.7 92.6Z" fill="#4a3a1c" opacity="0.6"/><path d="M216 217.1L220.8 220.4L225.3 218.4L222.9 222.6L224.8 227.1L220.6 224.5L214.8 227.7L218.4 222.3Z" fill="#2a2819" opacity="0.7"/><path d="M203.7 121L199.6 124L199.5 128.5L196.7 124.8L191.4 125.1L195.9 122.2L195.5 116.7L198.4 121.4Z" fill="#262a1c" opacity="0.6"/><path d="M160.5 121.2L159.6 124.9L161.8 128.4L157.8 127L153.9 129.9L155.8 125.4L152.7 121.6L157.3 123.6Z" fill="#33301c" opacity="0.5"/><path d="M202.4 43.4L203.8 48.7L208.4 49.8L203.8 51.1L202.8 56.2L201.3 51.4L197.7 50.1L201.2 48.6Z" fill="#2a2819" opacity="0.7"/><path d="M184.4 152.9L184 148.5L179.5 146.8L184.1 146.2L185.7 143.4L186.1 146.9L190.5 148.4L185.9 148.7Z" fill="#4a3a1c" opacity="0.5"/><path d="M148.9 134.9L146.7 138.1L147.6 140.8L145.1 139.3L142.5 140.3L144 137.9L142.4 134.5L145.4 136.5Z" fill="#1d1c12" opacity="0.8"/><path d="M116.3 196.6L115.9 201L119.3 203.8L115 203.5L111.8 207.6L112.9 202.2L108.8 199.4L113.6 200Z" fill="#4a3a1c" opacity="0.8"/><path d="M53.9 56L54.6 51.7L51.5 48.2L56.2 49.4L59.9 45.6L58.7 50.6L62.4 54.4L57.1 52.6Z" fill="#262a1c" opacity="0.8"/><path d="M172.1 131.1L168.1 130.9L165.5 133.9L165.5 130L162.5 127.2L166.8 127.8L169.7 123.6L169.2 128.4Z" fill="#4a3a1c" opacity="0.8"/><path d="M123.5 28.9L126.7 27.9L127.1 24.6L128.1 27.8L131.6 28.2L128.4 29.3L127.7 31.6L126.6 29.6Z" fill="#262a1c" opacity="0.7"/><path d="M149.5 141.5L150.9 138.6L149.2 136L152 137.3L155 135.2L153.5 138.4L155.7 141.6L152.2 140Z" fill="#2a2819" opacity="0.9"/><path d="M143.4 219.8L137.6 218.2L133.6 222.4L134.8 216.9L132 213.4L136.6 214.5L140 210.9L139.4 215.6Z" fill="#3f2f18" opacity="0.9"/><path d="M79 209.3L83.3 211.6L87.4 209L85.3 213.3L87.3 217L83.5 215.2L79.5 217.5L81.9 213.4Z" fill="#262a1c" opacity="0.7"/><path d="M187.3 37L184.5 39.3L184.7 42.5L182.6 39.9L179.3 40.2L181.7 38.1L181.3 34.3L183.7 37.4Z" fill="#1d1c12" opacity="0.8"/><path d="M59.3 170.1L64.1 167.8L65 162.1L67.3 167.6L74.4 168.1L67.9 170.7L67 177L64.6 171.1Z" fill="#2a2819" opacity="0.6"/><path d="M158.3 245.3L162.4 243.9L164.2 238.9L165.1 244.4L170.2 245.9L165.2 247.1L163.5 252.2L162.6 246.7Z" fill="#262a1c" opacity="0.8"/><path d="M165.7 148.5L161.4 152.2L163.1 158.5L159 153.6L153.5 154.8L157.5 151L156.2 145.1L160.2 149.8Z" fill="#3f2f18" opacity="0.6"/><path d="M89.6 177.2L87.4 179.5L87.9 182.3L85.7 180.4L82.6 181.2L84.8 178.9L84.2 176.1L86.4 178.1Z" fill="#262a1c" opacity="0.7"/><path d="M89.8 98L91 95.4L89.4 93.1L91.9 94.1L94.2 92.9L93.3 95.3L95.1 97.9L92.1 96.4Z" fill="#1d1c12" opacity="0.8"/><path d="M166.6 50.8L160.9 47.4L155.9 50L158.9 45L155.1 39.2L160.9 42.6L166.7 39.4L163.1 45.1Z" fill="#3f2f18" opacity="0.8"/><path d="M198.8 158.3L193.9 160.3L192.8 164.6L191.1 160.4L184.5 159.8L190.8 157.8L191.6 152.2L193.8 157.2Z" fill="#4a3a1c" opacity="0.8"/><path d="M163.6 41.4L166.3 40.4L167.1 38.3L168 40.4L171.4 41.2L168.1 42.1L167.3 44.4L166.4 42.1Z" fill="#33301c" opacity="0.6"/><path d="M152 35.8L146.5 35.7L143.2 40.6L143.3 34.8L140 31.9L144.3 31.5L147.8 26.5L147.5 32.6Z" fill="#1d1c12" opacity="0.8"/></g>
<g opacity="0.8"><path d="M72 70.5L76.2 73.1L77.9 68.2L78.1 74L83.9 71.2L79.5 75.3L83.9 77.9L78.4 76.9L79.6 82.7L76.8 77.7L73.1 81.9L74.9 77L69.1 76.5L75.3 74.9Z" fill="#b8a070" opacity="0.4"/><path d="M35.2 208.2L36.6 203.5L33 203.7L35.8 202.1L33 198.8L37 200.9L37.8 197.6L38.5 201.1L42 199.2L39.9 202.1L43.5 203.8L39.5 203.9L40.1 207.2L37.8 204.3Z" fill="#a9a78e" opacity="0.5"/><path d="M43.4 78.1L41.7 74.8L39.3 77.1L40.4 74.2L37.2 73.7L40.5 72.8L38.6 69.9L41.4 71.7L42.6 68.2L42.6 72.2L45.2 71.4L43.5 73.2L46.5 75.1L42.9 74.4Z" fill="#b8a070" opacity="0.6"/><path d="M100.9 158.9L97.5 157.7L96.5 160.9L95.9 157.5L93 158.1L94.9 156.2L92.1 153.3L96.1 154.9L96.9 151.7L97.5 155L101.8 153.6L98.1 156.3Z" fill="#dcdacc" opacity="0.8"/><path d="M121.3 126.7L123.3 129.2L126.5 127L124.3 130.1L126.1 131.9L123.6 131.4L122.3 134.2L122.2 131.1L118.4 130.9L122 129.7Z" fill="#bdb79a" opacity="0.4"/><path d="M61.4 57.3L58.9 54.8L55 58L57.5 53.7L54.5 51.4L58.3 52.1L59.5 47.6L60.2 51.9L64.2 52.1L60.7 54Z" fill="#bdb79a" opacity="0.4"/><path d="M142.1 182.7L142.5 178.1L137.4 177.8L142.3 175.8L140.1 171.5L143.9 174.3L146.5 170.7L145.8 175.4L151.3 175.4L146.2 177.3L149 182.2L144.7 179Z" fill="#cfcdbd" opacity="0.8"/><path d="M25.7 153.8L26.3 151.8L23.8 150.8L26.8 150.7L26.2 148.1L27.7 150.3L30 148.1L28.8 150.8L31.7 151.8L28.6 152.1L28.9 154.6L27.4 152.4Z" fill="#8b8a5e" opacity="0.5"/><path d="M52 185L53.8 187L57.6 185.3L54.6 188.6L57.8 191.7L53.8 190L52.2 192.8L52.2 189.5L49.2 188.9L52.1 187.8Z" fill="#b8a070" opacity="0.8"/><path d="M136.7 156L134.1 158.2L137.7 162L132.8 159.5L131.7 163L131 159.8L126.1 160.8L130.7 157.9L128.3 155.2L131.4 156.2L132.8 151.9L133.3 156.5Z" fill="#a9a78e" opacity="0.7"/><path d="M208.2 86.8L211 87.9L211.8 85.8L212.3 88.1L214.6 87.6L212.9 89.2L215.2 91.5L212.1 90.1L211.3 92.4L210.9 90L208.5 90.6L210.2 89Z" fill="#a9a78e" opacity="0.5"/><path d="M106.6 95.4L102.1 96.4L103.9 100.1L100.7 97.8L98.8 101.2L98.6 97.3L94 98.4L97.6 95.4L95 93L98.5 93.4L98.4 87.9L100.5 93.6L103.5 91L102.3 94.3Z" fill="#c9b48a" opacity="0.8"/><path d="M178.3 32.2L181.5 32L181 28.5L182.8 31.6L185.8 29.1L183.7 32.5L186.5 33.6L183.5 33.7L184 36.7L182.4 34.4L179.4 36.8L181.3 33.4Z" fill="#dcdacc" opacity="0.8"/><path d="M22.4 125L27.5 127.5L29 123.6L29.8 127.5L35.4 126.4L30 129.6L34.1 133.8L29.1 131.3L27.6 134.9L27.2 130.9L22.9 131.7L26 129.1Z" fill="#dcdacc" opacity="0.8"/><path d="M87.4 223.4L90.5 225.4L92.4 221.1L92.1 225.7L95.8 225.5L92.5 227.3L94.6 230.6L91.3 228.4L89.4 232.8L89.8 228L85 228.5L89 226.4Z" fill="#8b8a5e" opacity="0.5"/><path d="M45 190L46.5 192.3L49 190.5L47.2 193.3L50 194.4L47 194.3L47.5 197.7L45.8 195L43.3 196.7L44.9 194L42 192.7L45.3 192.7Z" fill="#c9b48a" opacity="0.6"/><path d="M129.8 127.8L133.1 127.8L133 124.4L134.8 127.1L138.1 125L135.8 128.5L139.2 130.1L135.7 130.2L135.7 133.5L133.9 130.6L131.1 132.3L132.9 129.4Z" fill="#b8a070" opacity="0.6"/><path d="M96.9 52L93.7 53.1L95.1 56L92.7 53.9L90.8 56.6L91.4 53.4L89 53.1L91.2 52.1L90.2 49.7L92.3 51.5L94.2 48.4L93.3 51.9Z" fill="#a9a78e" opacity="0.7"/><path d="M44.9 73.6L43 71L40.2 73.4L41.8 70L39.5 69.1L42 68.6L41.7 66.2L43.3 68L45.9 65.8L44.5 68.9L47.9 70.1L44.2 70.3Z" fill="#c9b48a" opacity="0.7"/><path d="M209.6 60.7L213.5 60.2L212.8 56.6L215 59.3L218.3 56.3L216.7 60.3L220.1 61.7L216.5 62.4L217.5 67.1L214.7 62.9L211 66.5L213.1 62Z" fill="#c9b48a" opacity="0.7"/><path d="M231.5 148.8L231.8 144.4L228.2 144.6L231.4 142.9L229.5 140.1L232.4 141.5L234 138.8L234.1 142L238.2 141.7L234.4 143.7L236.1 146.4L233.4 145Z" fill="#b8a070" opacity="0.6"/><path d="M28.1 113L32.2 114.5L33 110.9L33.8 114.5L38.9 112.6L34.9 115.9L37.3 118.5L34 117.8L32.8 122.2L31.9 117.5L27.1 119.1L31.2 115.8Z" fill="#b8a070" opacity="0.7"/><path d="M125.5 113.8L124.2 115.6L126.3 116.8L124.1 116.6L123.9 119.1L123 116.6L120.7 117.9L122.2 115.9L119.7 114.4L122.6 114.9L122.6 112.1L123.7 114.6Z" fill="#a9a78e" opacity="0.6"/><path d="M151 105L153.5 106.5L154.3 102.8L154.8 106.3L158.3 104.8L155.7 107.5L158.6 109.2L155 108.7L155.4 111.3L153.9 109.4L151.5 112L152.7 108.6L149.1 108.5L152.4 107.3Z" fill="#dcdacc" opacity="0.5"/><path d="M187.5 121.6L190 119.9L186.7 117.6L190.3 118.8L190.5 116.2L191.6 118.5L194.3 116.4L192.5 119.4L196 120.2L192.5 120.7L193.9 123.6L191.5 121.6L189.8 125L190.1 121.2Z" fill="#cfcdbd" opacity="0.7"/><path d="M173.8 176.6L176.4 177.5L177.6 173.8L178 177.7L181.3 177.1L178.8 179.2L180.7 181.6L177.7 180.3L176.6 183L176.2 180.2L172.1 181.2L175.6 178.8Z" fill="#dcdacc" opacity="0.7"/><path d="M58.1 171.1L58.6 173.7L61.2 172.7L59.3 174.5L61.1 176.2L58.8 175.6L58.2 177.4L57.6 175.6L55.5 176.2L57 174.6L54.8 172.7L57.7 173.7Z" fill="#a9a78e" opacity="0.5"/><path d="M212.3 128.5L214.2 131L216.3 127.8L215.5 131.3L219 131.1L215.5 132.6L217.9 135.1L214.9 133.7L214.3 136.5L213.7 133.5L210.3 135.6L212.9 132.7L209.6 131.3L213.1 131.4Z" fill="#8b8a5e" opacity="0.5"/><path d="M112.3 116.5L117 114.7L114.4 110L118.5 113.5L121.3 108.7L120.4 114.1L124.1 114.5L120.7 116.1L123.1 120.5L119.2 117.6L116.4 121.9L117.1 116.8Z" fill="#8b8a5e" opacity="0.6"/><path d="M125.5 146.2L125.4 142.7L121.3 143.2L125.2 141.2L122.8 138.1L126 139.9L127.6 136.7L127.8 140.1L131.6 140L128.1 141.9L130.2 144.9L127.1 143.4Z" fill="#cfcdbd" opacity="0.6"/><path d="M133.5 81.8L137.4 81.2L138.2 75.8L140.1 81L145.4 80L141 83.3L144.2 88.5L139.3 85.3L135.7 88.7L137.1 83.8Z" fill="#cfcdbd" opacity="0.6"/><path d="M187.6 57.6L183.5 58.7L184.3 61.3L182.1 59.7L179.6 63L180.7 58.9L177.7 58.3L180.7 57.4L179.6 54.5L181.9 56.3L184.2 53.6L183.5 57Z" fill="#dcdacc" opacity="0.5"/><path d="M99.7 222.6L102.3 220.4L99.7 218.3L102.8 219.4L103.3 216.8L103.9 219.4L106.6 218.5L104.8 220.4L106.8 222.3L104.1 221.7L103.4 224.7L102.8 221.4Z" fill="#8b8a5e" opacity="0.7"/><path d="M176.9 167.8L178.3 170.5L180.8 169L179.2 171.8L183.2 172.7L179.4 173.4L181 177.1L178 174.3L176 178.2L176.4 173.8L173.4 174.1L175.7 172.3L173.5 170L176.8 171.1Z" fill="#cfcdbd" opacity="0.8"/><path d="M189.2 34.9L192.1 36L193.7 32.9L193.7 36.3L196.3 36.9L193.8 37.9L193.9 40.6L192.2 38.6L188.8 40.2L191.2 37.2Z" fill="#c9b48a" opacity="0.6"/><path d="M51.5 92.6L51.5 90.7L49.7 91L51.1 89.8L49.1 88.2L51.5 88.9L51.7 87.2L52.5 88.8L54 87.7L53.1 89.5L55 89.9L53.3 90.4L53.8 92L52.4 90.9Z" fill="#8b8a5e" opacity="0.5"/><path d="M105.5 161.9L99.8 163.2L101.8 168.9L97.8 163.9L94.5 167.8L95.8 163.2L91.8 162.1L95.7 160.8L94.8 157L97.7 159.7L100.9 156.5L99.5 161Z" fill="#a9a78e" opacity="0.6"/><path d="M62.1 134.9L61.8 130.3L57.3 132.3L60.7 129.1L57.1 126.9L61.4 127.5L60.5 122.4L63 126.9L66.4 123L64.2 128L68.9 128.2L64.7 129.5L66.8 132.9L63.5 130.9Z" fill="#a9a78e" opacity="0.7"/><path d="M226.7 181.4L224.4 183.2L226.7 186.2L223.1 184.3L221.8 188.3L221.4 184.5L218.3 184.7L221 182.7L219.1 180.2L222 181.3L223.5 177.1L223.8 181.5Z" fill="#bdb79a" opacity="0.7"/><path d="M237.3 154L237.4 149.6L233.6 149.8L237.3 148L234.8 144.6L238.2 146.8L240 142.9L239.9 147L243.8 146.7L240.1 148.6L242.1 151.5L239.2 150Z" fill="#8b8a5e" opacity="0.4"/><path d="M168.3 110.5L165.8 112.4L167.5 113.9L165 113.3L165.3 116.8L164 113.7L161.2 116.2L162.9 113.1L160.2 112.4L163.1 111.8L162.1 109.6L164 111.2L165.1 108.8L165.2 111.3Z" fill="#bdb79a" opacity="0.5"/><path d="M136.1 42.8L135.3 38.8L132.1 39.8L134.3 37.5L131.1 34.6L135.3 36.1L136.1 32.4L137 35.9L141 34.6L137.8 37.4L140 39.7L136.8 38.7Z" fill="#dcdacc" opacity="0.5"/><path d="M211.7 57.9L207.4 60.6L211.2 64.1L206 62.1L205.9 66.9L204.4 62.2L200.4 65.3L202.8 61.3L198.5 59.9L203.5 59.6L201.4 55.2L204.7 58.7L207.1 53.7L206.4 58.9Z" fill="#dcdacc" opacity="0.6"/><path d="M119.1 100.1L114 96.5L110.4 100.9L112 95.5L107.8 93.7L112.2 93.1L112.8 88.6L114.9 92.3L120 91.4L116.2 95Z" fill="#cfcdbd" opacity="0.7"/><path d="M49.1 148.5L47 153.1L51 155.2L46.5 154.8L45.8 159.9L44.8 154.9L40.8 155.3L43.7 153.1L42.1 149.1L45.6 151.7Z" fill="#c9b48a" opacity="0.5"/><path d="M154.2 159.7L149.6 160.5L151 163.6L148.2 161.1L146.5 165.3L146.6 161.1L143.7 161.6L146.1 159.6L142.6 156.9L146.7 158L146.9 154.9L148.3 158.2L150.9 156L149.3 159Z" fill="#cfcdbd" opacity="0.8"/><path d="M69.9 172.3L67.2 173.9L70.3 177.4L66 175.2L65.3 180.4L64.2 175.5L59.8 178L63.1 174L60 172.5L63.6 172.4L62.3 168.1L65 171.3L67.6 168L66.8 172.1Z" fill="#8b8a5e" opacity="0.8"/><path d="M97.9 86L98.6 83.9L96 83.7L98.3 82.9L97.2 81L99.1 82L99.9 79.1L100.1 82.4L102.4 81.4L100.7 83.1L102.5 84.2L100.5 84.2L100.6 86.1L99.4 84.4Z" fill="#cfcdbd" opacity="0.6"/><path d="M74.4 223.8L70.4 218.8L65.5 222.3L68.8 217.2L65 214.2L69.7 215L71.7 209.4L72.2 215.2L76.6 215.8L72.9 217.9Z" fill="#b8a070" opacity="0.7"/><path d="M220.5 108L218.5 107.6L218.5 109.8L217.6 107.6L216 108.9L217 107.1L214.5 106.7L216.8 106.2L215.7 104.1L217.5 105.6L218.5 103.6L218.3 106L221 105.1L218.8 106.7Z" fill="#c9b48a" opacity="0.7"/><path d="M204.4 38.7L205.3 41.1L208.5 40.4L205.8 42.3L207.3 44.9L204.9 43.3L202.5 45.9L203.5 42.6L201.4 41.3L203.9 41.1Z" fill="#bdb79a" opacity="0.6"/><path d="M198.7 175.6L197.4 179.7L200.9 181.4L197.2 181.7L196.5 185.4L195.3 181.5L192.3 182L194.4 180L192.2 176.2L195.8 178.9Z" fill="#b8a070" opacity="0.7"/><path d="M122.7 86.2L118.5 88.4L121.8 93.3L117 89.9L114.6 94.6L115.2 89.1L110.2 89.4L114.6 87.3L112.4 83.7L115.9 85.7L118.2 81.7L118 86.4Z" fill="#b8a070" opacity="0.6"/><path d="M95.3 107.7L91.8 110.1L94.4 113.2L90.6 111.1L89.4 114.2L89.1 111L85.2 111.7L88.4 109.6L86.4 106.9L89.4 108.1L90.7 105.2L90.9 108.8Z" fill="#cfcdbd" opacity="0.8"/><path d="M97.5 193L100.8 191.2L99.3 188.8L101.9 190.3L103.2 187.1L103.2 190.5L106.3 190.2L103.6 191.8L105.6 194.5L102.8 193L101.1 196.7L101.2 192.7Z" fill="#cfcdbd" opacity="0.7"/><path d="M153.7 81L154.3 83.8L156.7 82.9L154.9 84.6L156.3 85.9L154.5 85.6L154 88.2L153.4 85.6L151.3 86.3L152.9 84.7L150.9 83.1L153.3 83.8Z" fill="#8b8a5e" opacity="0.5"/><path d="M169.5 38.4L164.8 37.9L164.4 43.4L162.6 37.7L158.7 39.7L161.3 36.3L156.9 33.5L161.9 34.3L162.1 28.3L164.2 33.6L168.8 31.6L165.2 35.7Z" fill="#8b8a5e" opacity="0.8"/><path d="M42.5 114L45.9 111L42.8 108.3L46.5 109.1L47.5 105.3L48.6 109.1L52.4 108L49.3 110.9L51.9 113.3L48.8 112.8L47.7 117.4L46.5 112.9Z" fill="#a9a78e" opacity="0.6"/><path d="M189.7 67.3L188.5 64.1L183.9 65.7L187.4 62.3L184.4 59.5L188.7 60.9L189.4 56.7L190.6 60.3L193.7 59.6L191.3 62.2L193.8 64.5L190.7 64Z" fill="#bdb79a" opacity="0.7"/><path d="M188.3 64.3L187.1 61L184.7 62.1L186.1 60.1L183.9 58.5L186.9 59L186.8 55.8L187.9 58.7L190.7 57.2L188.9 59.6L190.8 61L188.2 60.6Z" fill="#c9b48a" opacity="0.8"/><path d="M163 130.3L163 128.3L159.8 128.7L162.4 127.2L160.9 125L163.3 126.4L164.4 124.1L164.4 126.7L167 126.4L164.8 127.7L166 129.6L164.1 128.7Z" fill="#8b8a5e" opacity="0.6"/><path d="M70.2 163.9L72.7 164.3L72.6 161.2L73.7 164L75.9 162.9L74.3 164.9L76 166L74 165.8L73.9 168.3L72.9 166.2L70.4 167.5L72.4 165.2Z" fill="#a9a78e" opacity="0.6"/><path d="M109.5 34.9L113.4 35.4L112.4 30L115 34.7L118.3 31.1L116.5 35.6L120 36.1L116.4 37.3L119.1 41.1L115.5 38.9L113.9 44L113.6 38.5L109.8 39.8L113 36.9Z" fill="#a9a78e" opacity="0.5"/><path d="M139.8 121.5L139.2 125L141.5 125.8L139.3 126.4L139.2 129L137.8 126.8L134.5 128.1L136.9 125.6L135.5 123.4L137.9 124.4Z" fill="#bdb79a" opacity="0.5"/><path d="M56.9 151.1L56.4 148.1L54 148.1L56.2 146.8L55 144L57.2 146.1L59.1 144.7L58.4 146.9L60.2 148.3L57.8 148.3Z" fill="#bdb79a" opacity="0.5"/><path d="M142.5 136.6L146.7 137.4L146.9 133.9L148.3 137L152.5 134.7L149.7 138.3L152.4 140.4L148.8 140L148.6 144L147.1 140.2L144 141.7L145.8 138.9Z" fill="#cfcdbd" opacity="0.7"/><path d="M173.5 48.9L176.7 47.4L174 44L177.8 46.2L178.7 42.5L179.3 46.5L184 43.9L180.2 47.6L183.7 49.4L180.1 49.3L180.6 52.8L178.4 49.7L175.5 53.6L177 49Z" fill="#8b8a5e" opacity="0.6"/><path d="M143.8 91L141 91.5L140.8 94.4L139.5 91.8L136.9 92.4L138.8 90.5L137.2 88L139.8 89.4L141.6 87.2L141.1 90Z" fill="#a9a78e" opacity="0.5"/><path d="M128.1 199.3L128.4 195.7L123.1 196.1L128 194.1L125.4 190.1L129.2 192.9L131.3 189.3L131.1 193.2L135.4 193.3L131.5 195.2L133.3 198.5L130.1 196.7Z" fill="#cfcdbd" opacity="0.7"/><path d="M120.3 230.1L120 232L122.4 231.9L120.1 232.9L122.4 235.2L119.7 233.8L119.2 236.1L118.6 233.8L116.3 235.1L117.8 233.1L116 232.1L118.3 232.1L117.5 229.6L119.1 231.6Z" fill="#dcdacc" opacity="0.6"/><path d="M162.6 122.2L166.8 124.6L168.7 120.9L168.7 125.3L174.4 124.5L169.3 127.1L172.8 131.7L168 128.7L166 133L166.1 128.1L160.4 128.8L165.5 126.3Z" fill="#c9b48a" opacity="0.6"/><path d="M165.6 125.2L162.9 127.2L165.8 129L162.7 128.4L162.7 131.2L161.4 128.7L159.4 130.3L160.5 127.8L157.7 127.3L160.3 126.6L158.5 123.6L161.3 126L162.6 122.5L162.5 126Z" fill="#b8a070" opacity="0.8"/><path d="M55.1 165L54 167.5L56.1 168.9L53.8 169L52.8 172.3L52.1 168.8L49.3 168.8L51.8 167.3L50.4 164L53 166.4Z" fill="#dcdacc" opacity="0.6"/><path d="M105.3 206L108.4 205.7L108.6 201.9L109.9 205.6L113.2 204.7L110.8 206.9L112.1 209.4L109.6 208.2L107.6 210.2L108.2 207.3Z" fill="#dcdacc" opacity="0.5"/><path d="M140.7 92.9L141.5 97L144.9 96.3L142.3 98.7L145.6 101.9L141.5 100.6L140.3 104.3L139.4 100.5L134.8 101.7L138.8 98.6L135.4 95.5L139.6 97.1Z" fill="#8b8a5e" opacity="0.4"/><path d="M160.4 124.1L157.9 127.7L161.4 129.6L157.4 129.3L157.4 132.9L155.8 129.4L153.2 130.9L154.6 128.4L152 126.8L155.1 126.9L155.1 123.2L156.7 126.5Z" fill="#c9b48a" opacity="0.8"/><path d="M114.8 144L114.2 148.1L118.5 149.4L113.9 149.9L114.3 154.9L112.3 150.3L108.2 152L111 148.9L108.6 145.6L112.5 147.6Z" fill="#bdb79a" opacity="0.5"/><path d="M141.5 159.6L142.5 164.2L148.4 163.7L143.5 166.6L145.7 172.3L141.2 167.9L136.7 171.7L138.8 166.5L134.6 163.4L140 163.9Z" fill="#a9a78e" opacity="0.6"/><path d="M144.3 66.9L147.7 67.1L148 64.1L149.3 66.9L152.7 64.9L150.4 68.1L153.9 70.1L150 69.7L149.7 72.6L148.4 69.8L145.4 71.4L147.2 68.7Z" fill="#bdb79a" opacity="0.7"/><path d="M24.5 134.9L27.1 132.8L24.5 131.3L27.3 131.8L26.8 128.6L28.3 131.6L30.6 128.9L29.1 132.1L32.2 132.3L29.4 133.1L31.4 136L28.6 134L27.7 136.3L27.4 133.9Z" fill="#dcdacc" opacity="0.7"/><path d="M65.8 147.7L64.5 143.2L59.3 145.2L63.8 141.3L60.2 138.4L64.3 139.4L65.2 134.8L66.5 139.3L71.3 137.5L67.3 141.1L70.3 143.7L66.5 142.8Z" fill="#bdb79a" opacity="0.5"/><path d="M188.2 204.8L184.3 203.8L184.2 208.2L182.5 204.3L178.7 207.1L181.1 202.9L176.7 201.7L181.5 201.2L178.7 196L182.7 200L185.1 194.8L184.3 200.7L189.1 199.5L185.3 202.1Z" fill="#dcdacc" opacity="0.7"/><path d="M116.1 179.9L119.9 179.6L118.9 174.4L121.6 179L125.3 175.9L123.6 179.9L127.8 181.8L123 182.2L123.8 187.3L121 183.1L117.5 185.5L119.5 181.5Z" fill="#b8a070" opacity="0.6"/><path d="M192.4 41.8L189.9 41.1L189.8 43.6L188.9 41.2L187 42.7L188.2 40.5L186.2 40L188.4 39.7L187 37.1L189 39.1L190 37.4L190 39.3L192.7 38.6L190.4 40.2Z" fill="#dcdacc" opacity="0.6"/><path d="M62 123.8L58.1 123.6L58.1 126.8L56.4 124.2L53.5 125.9L55.4 122.8L51.3 120.9L55.7 121.2L55.6 117.6L57.4 120.7L60.8 118.5L58.4 122Z" fill="#cfcdbd" opacity="0.5"/><path d="M47.8 77.5L49.4 78.6L50.7 76.3L50.2 79L52.2 79.1L50.5 79.9L51.9 82.3L49.8 80.6L48.6 82.3L48.9 80.1L46 80.2L48.5 79.2Z" fill="#8b8a5e" opacity="0.7"/><path d="M129.5 117.5L126.7 119.5L130.2 122.5L125.6 120.8L125.4 124L124.1 121.1L120.7 123.6L122.8 120.1L119 118.9L123 118.4L121.2 114.3L124.5 117.8L126.4 113.7L125.9 118.1Z" fill="#dcdacc" opacity="0.7"/><path d="M151.6 156.5L149.9 153.9L147.1 156.4L148.7 153.2L146.1 152L149.2 151.9L148.6 148.7L150.4 151.3L153 149.2L151.3 152.3L153.9 153.3L151 153.4Z" fill="#bdb79a" opacity="0.7"/><path d="M172.4 108.9L174.2 104.6L170 104.2L173.4 102.8L171.4 99.2L175.2 101.9L176.7 95.8L176.8 101.9L182 99.7L177.8 103.4L183.1 106.3L177 104.9L177.9 109.9L175.5 105.9Z" fill="#cfcdbd" opacity="0.8"/><path d="M60.6 153.9L60.7 157.8L63.6 158L61 159.6L63.6 163.2L59.7 160.6L58 164.7L58.3 160.3L54 160.8L57.7 158.8L55.6 155.7L58.9 157.8Z" fill="#8b8a5e" opacity="0.6"/><path d="M169 44.9L171.7 47.1L174 43.3L173.2 47.6L176.5 47.9L173.8 49.3L176 53.4L172.3 50.5L169.9 54.4L170.8 49.6L167 49.5L170.3 48Z" fill="#a9a78e" opacity="0.6"/><path d="M134.6 67.1L132.6 68.4L134.2 71.1L131.3 69.1L130 71.9L130.2 68.9L127.3 69L130 67.7L128.4 65.3L130.8 66.9L132.1 64L132 67.1Z" fill="#dcdacc" opacity="0.7"/><path d="M66.2 132.2L62 131.5L60.6 135.3L59.7 131.5L54.7 131.3L59.3 129.1L58.2 124.9L61.3 128.1L65.5 125L63.4 129.4Z" fill="#bdb79a" opacity="0.7"/><path d="M193.2 91.5L197.3 90.6L197.3 86.3L199.4 90.3L203.7 88.5L200.1 91.9L202.3 94.6L199.2 93.2L197 96.5L197.4 92.7Z" fill="#cfcdbd" opacity="0.6"/><path d="M88.6 130.1L92.8 128.5L90.8 124.9L94 127.2L95.9 124.6L95.7 127.9L99.3 128.2L95.9 129.6L97.7 133.1L94.6 130.6L92.4 134.5L93.2 130Z" fill="#dcdacc" opacity="0.7"/><path d="M80.9 47.3L76.4 48.6L77.2 52.4L74.7 49.9L70.6 51.9L73.2 48L70.1 44.9L74.6 46.5L76.5 41.6L76.4 46.7Z" fill="#b8a070" opacity="0.7"/><path d="M167 59.6L167.2 64.9L171.9 65.9L167.5 67.6L167.7 71.8L164.9 68.8L159.9 71.2L163 66.6L158.9 62.5L164.6 64.5Z" fill="#a9a78e" opacity="0.6"/><path d="M217.6 112.1L217.8 116.3L222.1 117.6L217.7 119L217.9 123.2L215.3 119.7L210.4 122L213.5 117.8L210.5 114.1L215.2 115.8Z" fill="#a9a78e" opacity="0.6"/><path d="M99.1 94.6L100.3 97L103.2 94.8L101.4 97.6L104.2 99.1L100.9 98.9L101.1 101.8L99.7 99.4L97.7 100.5L98.7 98.4L95.9 97L99.2 97.2Z" fill="#bdb79a" opacity="0.7"/><path d="M55.4 105.3L53.8 108.6L57 109.8L53.4 109.9L54.1 113L52.3 110.5L50.3 112.1L51 109.8L48.4 108.7L51.5 108.5L51 105.9L52.6 107.8Z" fill="#bdb79a" opacity="0.5"/><path d="M122.9 75.5L125.9 77L127.5 73L127.5 77.3L132.3 76.6L128.4 79L131.2 82.8L126.9 80L125.2 84.1L125 80.1L121.4 80.2L124.8 78.2Z" fill="#8b8a5e" opacity="0.4"/><path d="M199.5 61.8L202.6 59.6L201 56.1L204.1 58.4L207.5 54.9L205.7 59.4L210.1 61.6L205.2 61.3L204.5 66.6L203.3 61.3Z" fill="#8b8a5e" opacity="0.4"/><path d="M239.6 136.6L237.2 141.4L240.3 143.5L236.8 143.6L235.5 148.6L234.6 143.3L229.1 143.9L233.6 141.2L232.6 137.6L235.6 140.2Z" fill="#8b8a5e" opacity="0.5"/><path d="M136.3 171L134.6 172.5L136.3 173.6L134.4 173.4L134.5 175.4L133.5 173.8L132.2 174.8L132.7 173.2L131 172.8L132.6 172.2L131.1 170L133.4 171.7L134.1 169.4L134.2 171.8Z" fill="#cfcdbd" opacity="0.6"/><path d="M95.1 123.6L94.3 125.7L96.2 127.3L93.8 127.1L92.9 129.8L92.5 126.8L89.7 127L92.1 125.7L91.2 123.1L93.1 124.9Z" fill="#8b8a5e" opacity="0.5"/><path d="M61.4 145.8L57.5 146.1L57.7 149.4L55.7 146.4L52 149.5L54.5 145.3L51.3 144L54.8 143.8L54.2 139.8L56.3 143.2L59.4 140.7L57.3 144.3Z" fill="#b8a070" opacity="0.6"/><path d="M146 40.6L144.8 43.7L147.2 43.9L144.8 44.7L146.3 46.7L144.3 45.5L143.5 48.6L143.3 45.3L140.4 46.7L142.6 44.6L140 43.2L142.9 43.5L142.5 41L143.9 43.3Z" fill="#a9a78e" opacity="0.7"/><path d="M92.8 154.5L88.7 154.9L90.3 158.9L87.3 155.7L84.9 160.1L85.9 155L82 155.6L85.2 153.6L83.2 151.3L86.2 152.3L86.6 148.5L87.9 151.9L91.4 149.7L89.1 153.2Z" fill="#cfcdbd" opacity="0.6"/><path d="M216.8 139.4L217 144.1L221.1 143.4L217.5 145.7L220.1 148.7L216.7 147.3L215.2 150.9L215 146.8L211.3 147.3L214.4 145.2L211.8 142.2L215.4 144.1Z" fill="#b8a070" opacity="0.7"/><path d="M171.8 144.2L173.1 140.9L168.9 140.3L173 139.2L170.8 135.6L174.2 138.1L175.8 133.6L175.9 138.3L180.2 136.8L176.9 139.8L180.1 142.1L176.1 141.4L176.2 144.7L174.5 141.5Z" fill="#c9b48a" opacity="0.4"/><path d="M138.1 58.5L135.8 56.4L133.5 59L134.6 55.5L132 55L134.4 54.1L133.5 51.3L135.6 53.3L137.8 50.7L136.7 54.1L139.7 54.6L136.8 55.4Z" fill="#b8a070" opacity="0.6"/><path d="M105.3 180.2L106.2 184.5L110.7 183.5L106.7 186.5L111 190.4L106 188.4L104.5 193.6L103.9 187.9L98.7 189.5L103.2 186.3L99.6 182.9L104.1 184.7Z" fill="#a9a78e" opacity="0.8"/><path d="M59.4 195.8L57.3 198L60.1 200L56.9 199.3L56.4 202.1L55.5 199.3L52.1 200.7L54.5 198.2L52 196.1L55.3 196.9L55.8 193.8L56.6 197Z" fill="#c9b48a" opacity="0.8"/><path d="M67.7 202.1L64.9 199.4L62 202.8L63.1 198.5L59.3 197.6L63 196.4L61.6 192.1L64.9 195.4L67.9 192L66.4 196.5L71 197.3L66.9 198.5Z" fill="#cfcdbd" opacity="0.7"/><path d="M131.2 240.4L126.6 238.3L125.1 242.9L124.7 237.8L119.2 239.3L124.2 236.3L120.9 232.9L125.1 234.9L126.4 230.7L127 234.7L130.8 234.2L127.6 236.6Z" fill="#a9a78e" opacity="0.7"/><path d="M128.4 138.9L130 141L132.1 139.3L131 141.8L133.4 142.8L130.8 143.1L131.4 146.2L129.6 143.8L127.5 145.2L128.6 142.8L125.7 141.8L128.6 141.4Z" fill="#c9b48a" opacity="0.6"/><path d="M136.4 25.7L140.9 25.5L139.4 21.8L142.1 24.9L144.3 20.6L143.7 25L148.1 24.4L144.4 26.6L147.5 29.7L143.1 27.7L142.9 31.6L141.6 28.3L138.9 29.8L140.4 27.1Z" fill="#b8a070" opacity="0.8"/><path d="M113.3 236.7L115.6 236.6L115.5 234.3L116.8 236L119.5 234.1L117.7 237L119.6 238.1L117.5 238.4L117.5 240.8L116.1 238.7L113.5 240.5L115.2 237.8Z" fill="#cfcdbd" opacity="0.7"/><path d="M214.2 210.1L219 211.7L220.1 207.8L221 211.9L226.6 209.9L222 213.6L225.4 216.9L220.8 215.1L219.8 220.3L219 215.1L215.1 216.2L217.8 213.5Z" fill="#a9a78e" opacity="0.4"/><path d="M73 204.9L69.8 206.4L70.9 208.8L68.6 207.1L66.8 210.4L67.3 206.7L63.4 206.8L67 205.4L65.5 202.6L68.1 204.6L69.9 201.2L69.3 205Z" fill="#c9b48a" opacity="0.4"/><path d="M195.5 185.8L195.8 188.9L199.9 189.4L196 190.7L196.5 194L194.4 191.2L191.2 193.1L193.2 190.1L191.1 187.9L194 188.6Z" fill="#a9a78e" opacity="0.5"/><path d="M231.7 89L233.5 92.4L236.8 90.2L234.2 93.6L238 95.3L233.9 94.8L234 97.8L232.7 95.3L230.2 96.7L231.8 94.3L228 92.6L231.9 92.8Z" fill="#c9b48a" opacity="0.8"/><path d="M162 197.2L166.1 197.1L165.8 192.7L168 196.5L172.7 192.9L169.7 197.8L173.8 199.9L169.3 200.2L169.3 204.2L167.1 200.3L162.8 203.5L165.3 199.1Z" fill="#8b8a5e" opacity="0.6"/><path d="M172.1 203.7L177.4 201.4L175.7 195.9L179.4 200.4L183.5 197.7L181.2 201.9L185 204.9L180.3 204.2L178.4 209.2L178 203.6Z" fill="#8b8a5e" opacity="0.5"/><path d="M125.1 46L129.5 46L129.4 41.9L131.4 45.8L135.1 43.1L133.1 46.8L137.3 48.9L132.2 48.5L133 53.8L130.7 49L126.9 51.8L129.4 47.9Z" fill="#bdb79a" opacity="0.5"/><path d="M156.5 77.3L154.8 80.2L158.4 81.4L154.6 81.9L156.3 85.8L153.3 82.7L151 87.1L151.9 82L148.5 82.6L151.4 80.7L149 78.5L152 79.4L152.2 74.6L153.6 79.3Z" fill="#dcdacc" opacity="0.5"/><path d="M49.1 224.5L50.1 221.9L47.1 221.7L50.1 220.8L48.4 218.5L50.8 220.1L51.7 216.8L51.9 220.1L54.9 218.9L52.7 221.1L54.9 222.5L52.2 222.3L52.8 225.7L51.1 222.4Z" fill="#8b8a5e" opacity="0.6"/><path d="M55.1 90.4L54.7 92.4L57.2 93.6L54.3 93.6L54.1 97L53.1 93.9L50.9 94.2L52.5 92.7L51.7 90.8L53.5 91.7Z" fill="#b8a070" opacity="0.6"/><path d="M147.1 71.4L142.6 68.7L141.2 72.6L141 68.6L137.2 69.2L140.2 67L138.2 64.3L141.2 65.3L142.8 62.2L143.2 65.7L147.1 65.3L144.1 67.6Z" fill="#a9a78e" opacity="0.4"/><path d="M189.5 97.1L184.9 98.7L186.1 102.7L182.9 99.8L179.5 104.2L181 98.8L174.5 98.3L180.3 96.5L178.6 91.6L182.5 95.3L185.5 91.9L184.7 96.3Z" fill="#b8a070" opacity="0.7"/><path d="M179.5 143.1L180 149.3L185.9 149.8L180.5 152.2L181.1 156.5L178 153L173.1 156.4L176.4 151.4L171.1 147.5L177.2 149Z" fill="#dcdacc" opacity="0.5"/><path d="M105 118.8L101.8 117.2L100.2 121.9L100.3 116.9L96.3 117.5L99.5 115.4L97.8 112.8L100.6 114L102 111.2L102.3 114.5L106 114L103.3 116.1Z" fill="#c9b48a" opacity="0.8"/><path d="M119.2 122.7L117.8 119.1L114.5 119.7L117.3 117.5L114.9 113.8L118.4 116.3L121.1 113.2L120 117.1L122.6 118.5L119.5 118.8Z" fill="#a9a78e" opacity="0.7"/><path d="M55.8 53.8L55.8 49.5L52.5 48.5L55.5 47.1L55 42.2L57.8 46.4L61.5 44.9L59.4 48.2L62.4 51.6L58 50.1Z" fill="#a9a78e" opacity="0.7"/><path d="M163.5 34.1L167.7 37.7L170.6 33.6L169.6 38.8L173.2 39.2L170.2 40.8L171.3 44.1L168.3 41.6L165.6 46L166.2 41.4L161.9 40.8L166.4 39.3Z" fill="#cfcdbd" opacity="0.8"/><path d="M186.1 163.1L184.7 165L187.4 166.2L184.5 166.3L185.2 168.9L183.4 166.6L181.5 169.5L182.4 166.1L178.9 166.5L182.2 165.1L180.3 163.1L182.7 164.1L183.2 161L183.8 164.3Z" fill="#8b8a5e" opacity="0.5"/><path d="M118 223.6L121.2 225.3L123.5 223.2L123.1 226.3L126 227.8L122.8 228.4L122.4 232.9L120.8 228.5L117.5 229.1L120 226.8Z" fill="#dcdacc" opacity="0.6"/><path d="M115.8 123.2L117.3 121.1L115.5 119.2L118 120L119.1 118L119.3 120.3L121.7 120.8L119.5 121.7L120 124.9L118.2 122Z" fill="#b8a070" opacity="0.6"/><path d="M154.9 53.2L158.5 52L157.3 48.4L160.2 51L162.9 47.7L161.8 51.9L165 52.6L161.6 53.6L163 57.1L160.3 54.4L158.2 56.9L158.6 54Z" fill="#a9a78e" opacity="0.6"/><path d="M126.9 149L127.7 143.5L123.8 143.9L127.3 141.7L122.8 138.1L127.9 139.9L128.4 136.2L129.8 140.2L133.5 137.4L131 141.3L136.4 142.6L130.7 142.8L132.3 146.7L129.5 144.4Z" fill="#dcdacc" opacity="0.8"/><path d="M103.3 146.4L100 145.3L99.9 148.2L98.7 145.8L95.8 147.9L97.8 144.7L93.7 143.8L97.9 143.5L96.2 139.9L98.9 142.7L100.4 139.8L100.3 142.9L103.6 142.3L100.9 144.3Z" fill="#a9a78e" opacity="0.6"/><path d="M51.9 53.7L52.2 51.1L49.5 50.9L52.1 49.9L50.5 47L52.9 48.9L54.4 46.9L54.1 49.5L57.1 49.6L54.5 50.8L56 53.7L53.4 51.7Z" fill="#cfcdbd" opacity="0.7"/><path d="M92.6 46.9L96 47L95.8 43.6L97.4 46.5L100.6 44.4L98.9 47.5L101.6 49.1L98.1 49L98.6 53.3L96.6 49.8L93.9 51.3L95.6 48.4Z" fill="#c9b48a" opacity="0.7"/><path d="M123.2 59.5L123 55.6L119.6 55.9L122.6 54L120 50.8L123.6 52.8L125 49.3L125.3 52.9L129 52.5L125.5 54.5L128.1 57.6L124.6 55.6Z" fill="#cfcdbd" opacity="0.4"/><path d="M121.2 164.5L120.5 160.6L116.1 160.2L120.2 158.4L118.6 153.2L122.1 157.3L126.5 154.2L123.6 158.8L127.9 162L122.9 161.1Z" fill="#cfcdbd" opacity="0.6"/><path d="M191.9 193.4L196.2 191.6L194.3 187.6L197.8 190.1L200.6 186.1L199.8 191.1L204.7 191.3L200.3 193.2L202.9 198.1L198.6 194.7L195.7 199L196.7 193.6Z" fill="#cfcdbd" opacity="0.4"/><path d="M38.9 74.1L43.9 71L40.8 67.2L45.2 69.5L46.8 65.6L47.3 69.6L51.3 69.2L47.8 71.6L50.8 75.2L46.8 73.5L44.8 79L44.8 72.8Z" fill="#dcdacc" opacity="0.6"/><path d="M104.7 70.4L107.2 68.4L105.6 66L108.6 67.4L109.9 63L109.9 67.7L113.3 67.1L110.7 69L112.7 71.6L109.7 70.2L108.5 72.9L108 70.1Z" fill="#cfcdbd" opacity="0.5"/><path d="M118.3 125L114.9 126.7L118.5 131.1L113.4 127.8L112.4 131.6L111.5 128.1L108 129.5L110.6 126.4L106.4 124.4L111.3 124.9L109.8 119.6L112.7 123.8L116.1 119.5L114.2 124.9Z" fill="#8b8a5e" opacity="0.7"/><path d="M199.7 177.5L200.1 172.7L195.2 171.7L199.8 170.5L199.6 166L202.1 170L206.7 167.9L203.1 171.7L206 174.8L202.1 173.2Z" fill="#cfcdbd" opacity="0.5"/><path d="M47.5 212.5L46.8 215.1L49.7 216.4L46.7 216.7L46.3 219.5L45.2 216.6L42.7 217.1L44.7 215.4L43.1 212.8L45.6 214.4Z" fill="#dcdacc" opacity="0.6"/><path d="M87.4 107.4L84.3 111.1L87.3 112.5L84.1 112.7L85 116.3L82.6 113.6L80 117.4L81.4 112.5L78.1 112.7L81.1 111.3L77.9 108.1L81.7 110L82.3 105.8L83.2 110.1Z" fill="#a9a78e" opacity="0.5"/><path d="M193.4 226.4L189.8 229.7L194.4 232.3L188.9 231.1L189.4 234.7L187.5 231.7L185 234.4L185.8 231.2L180.9 230.7L185.8 229.3L183.1 225.3L187 228L188.3 224.7L188.8 228.3Z" fill="#b8a070" opacity="0.5"/><path d="M43.8 195.9L46.6 198L48.2 195.3L48 198.4L50.7 198.5L48.2 199.8L50.2 202.9L47.3 201L45.7 203.4L45.8 200.5L43 200.3L45.7 199Z" fill="#8b8a5e" opacity="0.7"/><path d="M34 65.6L39.8 66.8L38.9 61.4L41.4 65.9L45 62.3L43.1 67.1L47.9 67.6L43.2 69L46.4 73.8L41.8 70.2L40.1 76.2L40.1 69.8L35.4 71.7L39 68.5Z" fill="#a9a78e" opacity="0.7"/><path d="M218.7 123.9L215.1 122.6L214.6 125.5L214 122.6L210.6 123.9L213.3 121.6L211.5 119.9L213.9 120.5L214.5 116.8L215.3 120.3L218 119.5L215.9 121.6Z" fill="#cfcdbd" opacity="0.7"/><path d="M47.2 142L50.1 143.2L52 139.1L51.9 143.9L56.7 143.1L52.4 145.4L54.4 148.2L51.4 146.9L49.9 150L49.6 146.5L45.2 147.1L48.7 144.7Z" fill="#8b8a5e" opacity="0.8"/><path d="M191.5 106.4L194.5 110.5L198.5 106.7L196.6 111.5L201.4 113.3L196.1 113.9L197.2 119.1L194.1 114.4L190.8 117.4L192.3 113.5L187.2 111.9L192.3 111.2Z" fill="#a9a78e" opacity="0.7"/><path d="M58.7 172.9L61 170L58.2 168.1L61.6 168.6L61.8 165.6L62.9 168.6L65.8 167L63.7 169.5L67 171.3L63.5 170.8L63.2 173.6L62.1 170.9Z" fill="#b8a070" opacity="0.5"/><path d="M54.2 204.4L59.8 201.6L58.7 196.9L62.3 200.2L66.9 197.2L64.1 202.1L69.3 205.7L63.2 204.5L61.5 209.1L60.8 204.1Z" fill="#b8a070" opacity="0.7"/><path d="M66.4 112.9L69.7 112L69.3 108L71.3 111.5L75 109.8L72.6 112.9L74.4 115.3L71.3 114.2L69.2 118.4L69.5 114Z" fill="#b8a070" opacity="0.5"/><path d="M147.1 156.8L151 157.2L150.8 152.2L152.7 156.7L156.2 154.8L153.6 158.1L157.6 160.2L153.1 159.5L153.3 163.7L151.7 159.9L148.3 161.9L150.6 158.8Z" fill="#dcdacc" opacity="0.6"/><path d="M74 90.2L74.3 94L77.4 93.6L74.8 95.5L78.2 99.1L74 96.9L72.6 100.5L72.2 96.7L69 97L71.8 95.1L68.5 91.5L72.6 93.6Z" fill="#bdb79a" opacity="0.8"/><path d="M118.8 47.3L116.9 48.4L118.2 50L116.4 49.2L115.5 51.5L115.4 49L113.4 49.2L115.1 48.1L113.3 45.9L115.8 47.4L116.7 44.7L116.7 47.5Z" fill="#dcdacc" opacity="0.5"/><path d="M129.6 96.2L130.8 94.1L129.3 92.4L131.5 92.9L132.8 90.2L132.9 93.2L135.3 93.6L133 94.5L133.4 97L131.8 95.1Z" fill="#b8a070" opacity="0.6"/><path d="M142.8 145L143.9 142.4L141 141.8L143.6 141.3L143.3 139.2L144.8 141L146.6 139.1L145.8 141.4L148.6 142.2L145.9 142.7L146.2 144.9L144.7 143.3Z" fill="#dcdacc" opacity="0.4"/><path d="M164.8 72.5L162.6 71L161.4 73.7L161.5 70.9L158.9 70.9L161.2 69.7L159.5 67.1L162.1 68.8L163.5 66.2L163.2 69.3L165.5 69.2L163.7 70.4Z" fill="#b8a070" opacity="0.5"/><path d="M182.2 41.9L184.9 39.9L181 37.2L185.2 38.3L185.3 34.2L186.9 38.3L189.8 35.9L188.1 39.2L192.7 40.1L188.3 40.9L189.5 43.8L186.9 41.7L185 46L185.5 41.2Z" fill="#a9a78e" opacity="0.5"/><path d="M55.2 220L51.1 216.8L47.9 221.4L49.3 215.5L45.3 215.1L49.2 213.7L47.4 210L50.5 212.5L53.6 207.4L52.5 213L56.4 213.6L52.6 215.1Z" fill="#a9a78e" opacity="0.6"/><path d="M38.7 71.7L41.1 70.7L39.6 68L42 70L43.6 67.2L43.2 70.3L45.4 70.5L43.3 71.5L44.9 74.3L42.4 72.2L40.7 75.1L41.3 71.9Z" fill="#8b8a5e" opacity="0.6"/><path d="M66.1 193.1L66.6 190.1L63.5 189.8L66.6 188.8L65.5 186.4L67.5 188L69.1 185.8L68.6 188.5L71.6 188.8L68.9 189.8L69.7 191.9L67.8 190.4Z" fill="#dcdacc" opacity="0.5"/><path d="M134.8 160.3L137.2 155.3L133.6 153.1L137.7 153.2L138.8 149.2L139.8 153.3L143.6 153.2L140.6 155.3L142.6 159.9L138.8 156.5Z" fill="#cfcdbd" opacity="0.6"/><path d="M31 125.5L27 127.1L28.2 131.3L25.4 128.1L22 130L23.8 126.6L20.3 123.6L24.8 124.6L26.6 120.3L27 125.1Z" fill="#cfcdbd" opacity="0.6"/><path d="M87.6 84.9L85 85.5L86.9 88.6L84.2 86.4L82.8 90L82.9 86.1L79.5 87.1L82.4 85L79.5 82.9L83 83.9L83 81.3L84.2 83.4L86.2 82L85 84.4Z" fill="#c9b48a" opacity="0.7"/><path d="M138.1 232.7L140.9 233.3L140.7 229.7L142.1 232.8L144.3 231.2L143.4 233.6L145.8 234.4L143 235L144.8 238L142.1 235.7L140.6 239.8L140.9 235.5L137.9 236.3L140.3 234.4Z" fill="#b8a070" opacity="0.5"/><path d="M122 86L119.9 82.6L116.5 84.7L118.6 81.2L114.9 79.3L119 79.4L118.8 75.4L120.8 78.7L124.5 76.3L122.1 80.1L125.9 81.9L121.8 82Z" fill="#cfcdbd" opacity="0.7"/><path d="M114.8 106.8L115.6 110.3L118.5 108.7L116.5 111.4L119.7 112.7L116.2 112.8L117 115.8L115 113.2L113.2 115.7L113.7 112.9L110.5 113L113.3 111.5L111.9 109.5L114.2 110.4Z" fill="#8b8a5e" opacity="0.5"/><path d="M159.4 151.3L159.2 147.7L155.2 148.6L158.8 146.4L155.7 143.3L159.5 145.3L160.7 141.3L161.1 145.2L165.2 144.4L161.6 146.8L163.6 149.3L160.6 147.9Z" fill="#cfcdbd" opacity="0.6"/><path d="M184.3 53.5L179.6 55.8L182.9 60.3L178.3 57.2L176.5 60.9L176.2 57.1L170.6 57.5L175.9 55L172.8 50.7L177.1 53L179.5 48.3L179.1 54.1Z" fill="#c9b48a" opacity="0.7"/><path d="M90.7 151.1L88.6 152.7L91 155.5L87.8 154L86.5 157.2L86.4 153.5L83.7 153.9L85.9 152.3L83.6 149.7L86.6 151L87.9 147.9L88.1 151.3Z" fill="#c9b48a" opacity="0.6"/><path d="M67.6 176L67.5 180.9L72.5 180.1L68.5 182.7L71.8 186.9L67 183.8L65.1 188.9L65.1 183.8L59.6 184.7L64.3 181.9L61.3 177.9L65.7 180.2Z" fill="#bdb79a" opacity="0.5"/><path d="M219.7 74.2L219 71.1L215.9 72.4L218.2 70.2L216.4 68.5L219 69.2L219.4 67L220.1 69L222.6 68.2L220.7 70.1L223.1 72L220.2 71.2Z" fill="#a9a78e" opacity="0.7"/><path d="M172.1 80.9L175.8 83.1L177.2 78.2L177.7 83.5L181.6 81.9L178.3 85L182.3 87L178 86.5L178.8 91.2L176.4 87.1L173.8 89.9L175.2 86.1L170.1 86.1L174.7 84.6Z" fill="#b8a070" opacity="0.7"/><path d="M117.3 214.9L114.6 212.9L112.5 215.7L113.2 212.1L110.1 211.6L112.9 210.5L110.7 206.1L114.2 209.5L116.3 206.7L115.7 210.1L119.9 210.5L115.7 211.7Z" fill="#dcdacc" opacity="0.6"/><path d="M94.5 126.4L97.4 121.1L92.4 117.8L98.1 118.7L99.8 113.7L100.6 119.1L105.9 119L101 121.3L103 126.5L99.2 122.8Z" fill="#c9b48a" opacity="0.6"/><path d="M150.6 136.6L148.1 135.3L146.5 137.9L147.1 134.8L144.4 134.1L147.2 133.7L146.9 130.5L148.4 133.1L151.2 132.3L149 134.4Z" fill="#c9b48a" opacity="0.6"/><path d="M75.1 158.9L70.6 155.9L68.2 160.8L68.6 155.4L62.8 155.8L67.9 153.3L66.1 149.9L69.6 151.9L72.1 146.6L71.6 152.4L77.5 152L72.5 154.6Z" fill="#bdb79a" opacity="0.7"/><path d="M79.9 64L80.6 68.4L84.8 67.6L81.1 70.2L84.6 73.7L80.4 72.1L78.9 76.3L78.1 72L74 72.6L77.6 69.9L74.9 67L78.6 68.3Z" fill="#bdb79a" opacity="0.6"/><path d="M56 154.6L53.4 153L52.1 156.2L52.1 153L48.9 153.1L52 151.6L50.2 149.1L52.8 150.8L54.1 147.6L54.1 150.8L56.7 150.8L54.5 152.2Z" fill="#cfcdbd" opacity="0.5"/><path d="M157.8 207.7L156.6 204.1L153.1 206.8L155.7 203.2L151.5 202.2L155.6 201.8L154.4 198.9L156.8 201L158.8 197.2L158 201.6L162.6 200.5L158.9 202.8L160.7 204.8L158 204.2Z" fill="#dcdacc" opacity="0.5"/><path d="M122.6 220.7L126.2 222.4L126.6 219.6L127.3 222.4L130.5 220.2L128 223.2L130.9 224.2L128.2 224.5L128.7 226.8L127 225.1L125.3 227.6L125.9 224.4L121.9 225.1L125.3 223.3Z" fill="#dcdacc" opacity="0.6"/><path d="M216.5 128.8L219 128.9L220 126L220.6 128.9L224.2 128.9L221 130.6L221.8 133.4L219.6 131.3L217 133.3L218.5 130.4Z" fill="#c9b48a" opacity="0.6"/><path d="M209.6 93.7L213.1 93.1L211.9 89.5L214.7 92.5L216.8 88.9L216.3 92.9L221.9 91.8L217.3 94.5L220.5 97.7L216.2 96.3L215.7 101.4L214.2 96.4L209.9 99.3L213 94.9Z" fill="#8b8a5e" opacity="0.6"/><path d="M147.7 61.5L144 61.3L144.4 65.8L142.4 61.9L138.6 64.5L140.9 60.8L137.5 58.8L141.5 58.9L141 53.6L143.3 58.2L147.5 55.4L144.5 59.7Z" fill="#8b8a5e" opacity="0.5"/><path d="M168.1 151.6L165.9 155.9L168.9 156.7L165.7 157.5L167.1 160.5L164.6 158.7L163 161.9L163.1 158L158.4 159.6L162.1 156.8L159.2 154.5L163.1 155.6L163 152.2L164.5 155.1Z" fill="#cfcdbd" opacity="0.6"/><path d="M39.2 131.8L37.6 135.5L41.5 137.1L37.3 137.5L38.4 143L35.4 138.5L31.6 141.5L33.7 137.1L29 135.3L34.2 135.1L33.5 130.6L36 134.5Z" fill="#c9b48a" opacity="0.8"/><path d="M195.1 191.8L194.8 189.7L192.1 190.6L194.3 188.9L192.3 187L194.8 187.9L195.4 185.7L195.8 188.2L198.3 187.4L196.5 189L198.1 190.7L195.7 189.8Z" fill="#b8a070" opacity="0.8"/><path d="M152.5 66.1L155.5 70.9L159.9 68.8L157.1 72.6L161.5 76.9L155.8 74.8L153.4 78.8L153.3 74.1L148.7 73L152.9 71.3Z" fill="#8b8a5e" opacity="0.7"/><path d="M123.1 69.2L121.6 71.7L123.7 72.4L121.4 72.8L122.4 75L120.6 73.3L119.4 76.1L119.7 73.1L116.8 73.8L119.3 72.2L117.3 70.6L119.6 71.2L119.6 67.7L120.8 71Z" fill="#a9a78e" opacity="0.8"/></g>
</g>
<path d="M41.9 73.3l-8.1 -4.1M59 53.3l4.4 8.2M144.3 176.6l7.4 -2.9M27.5 151.3l-4.3 5.6M106.8 62.1l-0.1 6.9M211.6 89.1l-8.5 5.1M100.1 95.4l2.6 8.9M28.3 129.4l-8.7 4.5M90.9 226.9l5.7 -0.6M134.3 128.9l3.8 -5.9M92.5 52.6l-5 -6.3M43.1 69.5l-4.6 4.1M214.8 61.2l-1.3 7M123.3 115.7l-5 -2.1M191.2 120l-1.6 -9.6M177.1 179l-4.3 0.1M214.2 132.3l-4 -1M101.1 175.9l-2.9 -5M89.3 167.2l-3.6 -3.3M118.8 115.4l3.5 2.4M162 230.7l9.5 0.2M98.3 111.4l-5.4 4.5M126.5 141.5l7.3 -6.8M139 82.9l-9.2 2.1M177.7 172.4l-2.9 -3.9M192.6 37.1l-5.2 4.4M52.2 89.9l5.2 -6.9M97.8 162l-4.5 -8M62.8 128.9l-4.5 -8.7M239.2 129.2l6.5 3.3M136.1 37.4l3.9 -5.7M60.8 162.3l-0 6.8M151.5 71.8l-6.1 -7.1M205 60.4l-1.8 3.8M147.9 159.6l4.3 4.4M70.7 216.9l-2.7 9.1M217.8 106.7l-2.9 -2.8M196 180.3l-6 -6.6M116.5 87.8l-2.2 -4.1M46.9 82.1l-5.9 -5.1M233 163.8l3.8 -2.2M153.9 84.6l-5.5 -0.8M144.4 17.5l-7.1 -3.2M163.3 36l2 -4.1M34.2 191.9l6 -0M47.6 110.9l6.8 -4.6M90.2 104.3l7.5 1.4M187.5 59.8l4.8 0.1M73.3 165l-4.2 1.1M138.3 125.6l-0.4 -8.9M195.9 46.3l-8.3 3.7M178.5 47.9l4.3 5.6M129.6 194.6l3.2 5.3M119.1 232.7l-4.5 -3.3M167.4 126.7l-7 -2.2M221 73.7l3.3 2.6M161.7 127.2l0.4 6.9M53 167.8l-2.7 -8.6M212.1 66.4l5.5 -0.6M109.4 206.7l-1.6 -7.1M156.2 128.1l3.3 -2.3M52.8 115.9l4.6 -2.4M28.2 132.7l-7.5 -3.9M65.5 141.2l-2.1 -5.9M183.1 202l3.2 -4.6M189.2 40.1l3.3 -3.8M56.9 122.4l-1.7 -4M49.6 79.6l-8.9 1.1M227 173.4l4.1 2.5M150.1 152.7l2 4.1M169.8 196.9l-5.2 2.4M59.3 159.2l4.6 5.4M172 48.6l6 -2.3M131.1 68l3.1 9.5M217.9 217.7l-3.9 -6.2M81 50.9l-6.4 -1.7M195.9 75l1.5 -3.8M205 41.4l-2.8 3.9M86 46.8l-3.8 2.6M75.2 47.8l8 5M165.4 66.4l2.7 -5.4M52.5 109.2l6.6 6.8M90.7 214.2l6.8 -4.2M66.4 193.4l6.8 -4.5M126.4 78.6l5 3.6M246.7 125.2l-2 -8.7M33.7 143.8l-4.1 -0.3M204.2 60l-7.1 5.1M133.6 172.6l2.2 -5.6M143.8 44.4l-5.5 5.2M216 145.4l-5.7 -0.3M174.8 139.9l2.8 -7.2M178.6 156.7l6.5 -2.4M104.9 186.4l6.8 5.1M56.1 198l4.6 0.5M64.9 197.4l0.2 -10M125.8 236.4l-4 -1.5M142.3 26.4l-1.4 -8.4M126.6 126.7l5.6 -5.1M194.7 190l2.1 -3.5M179.2 202.3l7 -6M207.8 218.8l-5.9 1.9M99.3 57.2l-4.2 -0M51.2 221.2l5.5 1.1M38.7 198.2l-5.3 3.6M35.1 82.3l-5 -0.7M178.2 151.1l4.5 1.6M101.3 115.7l4.1 5.1M118.6 117.8l4.4 8.9M57.3 48.3l-3.1 -3.1M168 39.9l-0.2 4.5M198.9 38.7l-4.3 -7.4M183.3 165.4l-0.1 5.7M121.5 227.1l-9.1 0.4M118.4 121l3.7 3M160.3 52.9l-3.6 3.1M53.2 50.3l7.1 -2.9M34.6 213.3l-8.1 -2.6M124.1 54.3l-3.6 -4.8M151.3 179l9.3 2.5M107.8 96.1l3.8 7.3M109.1 68.7l1.3 -3.9M68.2 121.4l-4.1 -6.9M112.6 126.1l6.3 5M187.7 230l1.9 -5.3M47 199.4l-6.2 -1.5M41.1 68.3l4.3 -0.2M126 93.3l-8.6 3.8M214.5 121.6l6.2 3.8M197.6 123l4 5M194.3 112.6l1.7 6.9M70.9 112.9l5.4 7.6M152.1 158.4l-2.1 8.1M116.1 48.2l5 -2M132 94l-0.2 4.1M144.7 142l-8.3 -5.3M162.4 70.1l-7.4 1.4M186.5 40l3.9 5M185.1 147.6l9.3 -2.4M67.7 189.3l0.5 8.9M138.8 154.7l-3.8 4.2M25.7 126.4l1.3 5M83.9 84.9l4.2 -2.4M141.8 234.4l2.1 -8.9M114.9 111.8l8.9 4.5M160 146.6l-3.2 -5.7M177.8 55.4l-8 1.5M152.1 138.5l-5.2 -8M137 216.2l-1.6 7.6M66.4 182.3l7.5 2.7M219.5 70.1l-1.1 -8.9M176.6 85.2l4.8 5M83.4 213.3l-4.5 5.3M114.4 211.1l-5.3 4.5M66 169.2l3.3 -9.1M99.3 120.6l-0.3 -8.1M70.1 153.9l-4.5 0.6M53.1 151.9l-7.6 4.4M157 202.7l-6.5 -0.5M126.8 223.6l4.8 4.8M219.7 130l7 -6.2M159.6 151.7l-3.6 -3.8M86.1 179.2l-1.8 -6.7M214.9 94.3l5.6 -3.3M92 95.4l4.1 1.6M35.7 136.3l2.2 -5.3M195.3 188.9l2.5 -7.2" stroke="#ecece6" stroke-width="0.9" fill="none" opacity="0.65"/>
</g>
</svg>
</div>
<div class="photo" style="left:1159.7px;top:28.7px;width:271px;height:267.5px">
<svg width="271" height="267.5" viewBox="0 0 271 267.5" role="img" aria-label="moss cushion photograph">
<defs>
<linearGradient id="m2bg" x1="1" y1="0" x2="0" y2="1"><stop offset="0" stop-color="#838486"/><stop offset="0.5" stop-color="#a3a4a7"/><stop offset="1" stop-color="#c0c1c2"/></linearGradient>
<filter id="m2n" x="0" y="0" width="100%" height="100%" color-interpolation-filters="sRGB"><feTurbulence type="fractalNoise" baseFrequency="0.17 0.17" numOctaves="3" seed="3" result="n"/><feColorMatrix in="n" type="matrix" values="2.1 0 0 0 -0.46  2.1 0 0 0 -0.46  2.1 0 0 0 -0.46  0 0 0 0 1" result="g"/><feComponentTransfer in="g" result="c"><feFuncR type="table" tableValues="0.110 0.212 0.353 0.471 0.573 0.667 0.761 0.847"/><feFuncG type="table" tableValues="0.106 0.204 0.345 0.471 0.580 0.682 0.776 0.847"/><feFuncB type="table" tableValues="0.039 0.071 0.125 0.165 0.196 0.227 0.329 0.565"/></feComponentTransfer><feComposite in="c" in2="SourceAlpha" operator="in"/></filter>
<filter id="m2gr" x="0" y="0" width="100%" height="100%"><feTurbulence type="fractalNoise" baseFrequency="0.35" numOctaves="2" seed="5"/><feColorMatrix type="matrix" values="0 0 0 0 0.85  0 0 0 0 0.85  0 0 0 0 0.86  0.8 0 0 0 -0.3"/></filter>
<filter id="m2bl" x="-5%" y="-5%" width="110%" height="110%"><feGaussianBlur stdDeviation="0.7"/></filter>
<filter id="m2lf" x="0" y="0" width="100%" height="100%" color-interpolation-filters="sRGB"><feTurbulence type="fractalNoise" baseFrequency="0.045" numOctaves="2" seed="10"/><feColorMatrix type="matrix" values="0 0 0 0 0.08  0 0 0 0 0.09  0 0 0 0 0.02  3.2 0 0 0 -1.35"/><feComposite in2="SourceAlpha" operator="in"/></filter>
<radialGradient id="m2sh" cx="0.52" cy="0.42" r="0.6"><stop offset="0" stop-color="#0a0c00" stop-opacity="0.16"/><stop offset="0.55" stop-color="#0a0c00" stop-opacity="0.05"/><stop offset="1" stop-color="#e8ea40" stop-opacity="0.16"/></radialGradient>
</defs>
<rect width="271" height="267.5" fill="url(#m2bg)"/>
<rect width="271" height="267.5" filter="url(#m2gr)" opacity="0.3"/>
<g filter="url(#m2bl)">
<path d="M0.9 61.1L5.8 58.9L8 55.5L12.1 51.4L16.4 50.5L18.8 47.8L18 47.7L19.2 42.7L21.7 40.7L27.4 38L28.8 37.6L35.4 37.7L40.7 37.9L45.4 36.9L52.1 32.5L53.8 32.9L58.6 32.4L66.4 31.2L69.4 30.4L75.4 29.5L81.1 29.2L84.7 25.6L87.8 22.2L88.6 17.6L91.9 16.6L92.1 13.6L99.6 12.6L100.7 9.9L104.5 8.1L108.5 9.9L109 12.3L112.9 11.7L118.1 16.4L123.6 12.7L126.2 12.9L128.1 10.1L130.6 10.1L136.1 9.3L134.8 7L141.8 4L142.4 4.3L146.1 6.3L150.2 5L154.4 9.5L157.8 10.8L158.1 11.5L159.3 14.6L161.6 20.5L164.3 21.1L168.1 18.7L170.5 21.4L175.2 17.9L177.4 17.7L181.7 22.3L183.7 21L187.9 25.2L193.6 26.4L194.6 28.6L196.9 30.6L201.7 36.2L203.6 37L208.6 38.9L213.5 43.1L217.9 43.2L221.9 45.2L223.8 46.4L230.5 49.2L234 50.9L235.4 51.3L237.8 52.9L236.9 58L240.4 61.5L240.3 67.4L244.5 67.4L248.6 72.5L246.9 74.6L252.4 78.6L255.7 77.1L264.1 80.9L269.8 82.5L274.1 85L273.2 112.2L274.4 140.3L275.6 165L273.5 192.7L266.9 191.1L264.4 192.6L261.5 195.4L256.7 195.7L258.3 197.7L254 199.5L251.9 204.5L251 208.9L250.4 208.3L244.6 211.3L239.1 212.6L234.9 213.9L233.5 216.8L233.1 216.1L231.2 220.8L227.2 221.2L223.1 223.9L224 225.1L219.5 228.2L217.9 233.2L213.6 234.5L214.2 235.8L208.2 241L207.1 241.2L203.8 238.3L201 240.4L197.4 240L193 240.6L190.2 244L189.7 245.1L185.6 246.7L182.8 251.5L177.4 254.3L172.9 256.2L170.4 254.4L165.9 257.3L160.5 252.2L156.6 248.2L153.1 244.5L151 240.8L147.7 242.9L142.7 238.3L139.2 240.5L133.1 241L132.2 249.7L128.8 257.4L128.2 264L126.5 270.7L123 272.7L114.5 271.1L113.5 271.6L107 269.5L110.3 265.2L112.2 260.2L110.1 254.6L113.5 246.4L106.6 249.7L101.3 250.8L97 254.2L93 256.5L89.5 257.3L89.2 257.5L85.2 255.2L80.3 256.9L76.1 257.9L73.6 252.8L68.9 250.5L67.8 250.6L64.6 247.2L58.8 245.2L53.3 242.7L51.6 240.7L48.3 238.9L43.1 237L43.8 233.8L40.3 232.8L36.1 232.8L32.8 229.4L29.9 229.6L26.6 227.3L25 221.6L24.9 222.1L20.7 219.4L21.3 213.7L16.3 214.3L17.6 209.5L11.1 208.9L10.6 205.5L7.9 202.3L11.6 201.5L7.1 198L7.7 192.4L4.3 186.6L5.9 185.6L2.7 180.8L2.4 174.3L0.3 168.8L-0.7 168.4L-2.6 162.1L-3.2 159.8L-0.1 138.2L-0 111.2L0.9 86Z" fill="none" stroke="#d4d6c0" stroke-width="5" stroke-linejoin="round" opacity="0.35"/>
<g><path d="M0.1 60.9L2.6 62.6L3.7 58.3L3.8 62.6L6.9 61.5L4.9 63.7L7.7 65.5L4.3 65.1L4.7 68.5L2.9 65.5L0.7 67.5L1.6 64.7L-2.6 64.5L1.5 63.3Z" fill="#55551c"/><path d="M8.8 63L8.7 60.5L5.7 59.5L8.8 58.7L8.5 54.9L10.5 58.2L14.1 56.7L11.3 59.6L13.9 62.4L10.4 60.9Z" fill="#7a7a2a"/><path d="M20.9 56.3L20.3 53L16.8 54L19.8 51.7L17.1 49.1L20.5 50.5L21.4 47.4L21.9 50.6L24.6 50L22.4 51.8L25.3 54.4L21.7 52.8Z" fill="#a0a236"/><path d="M31.7 42.5L28.1 44L30 47.1L27.1 44.8L25.3 48.3L25.7 44.6L22.8 44.5L25.6 43.3L23.4 40L26.4 42L27.9 40L27.9 42.5Z" fill="#6a6a26"/><path d="M38.5 36.7L37.1 39.2L39.8 40.2L37 40.7L38.1 43.8L35.7 41.6L33.6 45.5L34.4 41L29.8 41.9L34 39.6L31.8 37.5L34.6 38.3L35 35.5L36 38.4Z" fill="#6a6a26"/><path d="M39.6 45.8L40.5 40.7L36.6 40.1L40.5 38.7L38.7 34.7L42 37.4L44.6 33.8L43.8 38.3L48.4 38.7L44.3 40.3L45.8 44.2L42.5 41.3Z" fill="#55551c"/><path d="M47.8 38.7L51.9 38.6L51.1 34.8L53.2 37.7L55.6 36L54.6 38.8L58.4 40.1L54.1 40.3L55.1 44.4L52.8 41.1L49.6 43.8L51.6 40Z" fill="#55551c"/><path d="M65.4 33.9L62 35.8L63.4 40.1L60.3 36.8L56.9 39.2L58.8 35.5L55.5 33L59.4 33.5L60.8 29.9L61.5 33.8Z" fill="#8c8c30"/><path d="M71.3 31.3L73.4 33.3L75.4 30.4L74.7 33.7L77.1 34.3L74.8 35.2L76.3 38.7L73.6 36L71.9 38.1L72.2 35.4L68.5 35L72.4 34.1Z" fill="#55551c"/><path d="M83.6 29.8L84 32.6L87.3 32.6L84.5 34.5L86.6 37.7L83.2 35.9L81.5 38.8L81.4 35.4L78.4 35.3L81 33.7L78.7 30.4L82.2 32.5Z" fill="#b0b23c"/><path d="M92.3 23.6L92.8 19.7L89.3 20.6L92.2 18.7L89.3 16.5L92.6 17.3L92.6 13.7L94 17.2L96.8 14.9L95.3 17.9L98.9 18.8L94.8 19.3L96.5 22.6L93.9 20.4Z" fill="#55551c"/><path d="M109.1 6.7L107.3 10.4L109.7 11.7L106.6 11.9L106.9 14.8L105.2 12.7L102.4 14.7L104.2 11.5L100.1 10L104.4 10L104.1 7.1L105.8 9.4Z" fill="#8c8c30"/><path d="M123.5 21L118.3 19.9L118.9 23.6L117 21L114.1 23.8L115.4 19.9L112.3 19.4L115.6 18.3L113.6 15.2L116.5 16.8L117.7 13.8L118.1 17.4L121.7 15.9L119.3 18.6Z" fill="#7a7a2a"/><path d="M137.7 14.1L133.9 13.6L134.8 17.9L132.6 14.3L129.8 17.4L131 13.6L128.1 13.1L131.3 12L129.1 9L132.2 11L133.2 7.7L133.8 10.6L138.1 8.9L134.3 12.3Z" fill="#b0b23c"/><path d="M139.3 3.2L141.6 5.3L142.7 3L142.6 5.6L145.1 5.1L143.2 6.6L145.8 8.6L142.6 7.6L142.5 10L141.5 7.7L139.3 9.6L140.6 7.1L137.3 6.5L140.7 6Z" fill="#8c8c30"/><path d="M158.2 9.5L158.9 12.5L161.9 11.3L159.3 13.9L162.3 15.4L159 15.1L159.9 18.9L157.8 15.9L155.8 18.1L156.8 14.9L153.9 14.8L156.5 13.7L153.6 10.2L157.3 12.6Z" fill="#a0a236"/><path d="M157.6 19.3L161 23.3L163.3 20.2L162.8 24L166.4 23.9L163 25.8L167.2 29.6L162.1 27.1L161.6 31.2L160.5 27.2L155.6 30.6L159.4 26.1L155.8 24.7L159.2 24.2Z" fill="#8c8c30"/><path d="M168.7 17.9L173.1 19.5L173.7 14.9L174.6 19.2L178.7 17.7L175.3 20.6L178.9 23.4L174.9 22.4L174 25.2L173.1 22.1L169.2 23.5L171.9 20.7Z" fill="#7a7a2a"/><path d="M193.1 35.9L192.3 32.3L189 33.8L191.3 30.9L188.4 29.3L192 29.6L190.7 25L193.2 28.6L195.9 25.1L194.5 29.5L198.4 29.4L194.9 30.9L197.8 34.4L194 32.1Z" fill="#7a7a2a"/><path d="M197.9 41.9L201 41L200.6 37.1L202.6 40.5L206.1 38.9L203.4 41.9L206.1 44.6L202.6 43L200.9 46L200.9 42.8Z" fill="#55551c"/><path d="M205.9 41.9L209.8 43.4L210.4 38.7L211.6 43.7L214.9 41.7L212.9 44.7L216.1 46.1L212.5 46.4L213.6 49.9L211.1 47.2L208.5 51.5L209.6 46.6L204.9 47.2L208.9 45Z" fill="#7a7a2a"/><path d="M213 50.2L217.8 48.3L217.2 43.9L220.2 47.3L225.1 44.4L221.7 49.2L224.7 52.2L220.5 51.1L218.4 56.1L218.2 50.9Z" fill="#7a7a2a"/><path d="M237.3 55.8L234.5 53.8L233 55.8L233 53.4L230.4 53L233.1 51.9L231.7 49.3L234 51.1L235.9 47.7L235.2 51.5L238.3 51.6L235.8 52.9Z" fill="#8c8c30"/><path d="M242.9 70.2L238.8 70.5L238.2 74.1L236.6 70.9L231.7 71.9L235.7 68.8L234 65.5L237.3 67.4L240.7 63.3L239 68.5Z" fill="#6a6a26"/><path d="M240 79.6L245.4 79.2L246.1 74.6L247.9 78.9L253.2 77.7L249.2 81.1L252.3 86.2L247.3 83.1L244.3 85.7L244.8 81.8Z" fill="#a0a236"/><path d="M256 83.1L258.4 82.7L256.9 79.6L259.3 81.8L260.8 79L260.5 82.2L263 81.9L260.8 83.4L263.8 85.6L260.3 84.4L260.2 86.9L259.2 84.6L256.3 86.9L258.2 83.8Z" fill="#55551c"/><path d="M263.3 88L267.8 86.6L266.1 83.7L269.1 85.7L270.3 81.4L270.7 85.6L274.4 84.3L271.2 87.1L274.7 89L270.8 88.4L271.3 92L269.4 89.1L266.8 91.8L268 88.3Z" fill="#b0b23c"/><path d="M265.3 100.4L267.4 96.2L264.3 94.3L267.9 94.7L268.8 91.5L269.8 94.4L274 94.2L270.1 96.3L271.3 99.5L268.7 97.4Z" fill="#55551c"/><path d="M271.8 104.1L270.2 107.3L272.6 108.4L269.8 108.6L270.6 112.3L268.6 109.1L266.3 110.9L267.4 108.3L264.7 107.1L267.8 107L267.2 103.3L269.1 106.5Z" fill="#b0b23c"/><path d="M273.1 111.8L270 115.1L273 117.2L269.7 116.8L269.2 120L267.8 117.1L264.6 118.4L267 115.5L263.3 113.2L267.6 114.1L267.7 109.4L269.1 113.9Z" fill="#b0b23c"/><path d="M275.6 125.3L272.1 126.8L274.2 129.8L271.3 127.9L270 129.9L270 127.4L267.2 127.5L269.8 126.2L267.9 123.5L270.5 125L272 122.7L272 125.4Z" fill="#55551c"/><path d="M268.5 125.9L270.8 130.8L276.1 129L272.4 132.8L275.4 137.4L270.5 134.5L267.2 139L268.3 133.6L264.6 132.1L268.8 131.5Z" fill="#8c8c30"/><path d="M269 139.6L270.8 142.9L273.5 140L271.9 143.7L275.6 144L272.3 145.1L274 148L271.1 145.8L269.9 150.2L269.7 145.9L266.5 146.9L269.1 144.6L265.8 142.7L269.5 143.3Z" fill="#7a7a2a"/><path d="M273.9 157.9L271.3 155.6L269.6 158.2L270.1 155.1L266.6 154.9L269.9 153.8L268.7 151.2L270.9 153L272.6 150.5L272.3 153.4L275 153.7L272.2 154.7Z" fill="#6a6a26"/><path d="M263.8 164L267 160.9L262.2 157.7L267.6 159.3L268.1 155.6L269.4 159L272.9 157.7L270.6 160.5L273.7 163.1L269.5 162.1L269 165.7L267.7 162.6Z" fill="#a0a236"/><path d="M264.8 174.1L269.7 173L267.9 168.8L271 171.3L273.7 168.5L272.5 172.7L277.2 173.2L272.7 174.4L274.8 179L271.3 175.4L268.3 179.6L269.8 174.6Z" fill="#b0b23c"/><path d="M269.6 186.1L267.1 181.5L263.1 184.4L265.4 180.3L260.9 178.2L266.3 178.6L265.8 174.5L267.9 177.8L272 174.7L269 179.2L272.7 180.8L269 181.1Z" fill="#8c8c30"/><path d="M272 196.3L269.4 192.9L266.8 196.6L267.9 192.2L263.2 192.6L267.7 190.7L265.1 187.8L268.6 189.6L269.2 185L270 189.4L273.1 187.8L270.8 190.6L275.1 192.2L270.8 192.1Z" fill="#55551c"/><path d="M253.6 191.9L254.8 193.9L257.6 192.1L255.8 194.8L257.8 196.1L255.3 196L255.6 199.6L254.1 196.5L251.2 198.4L253 195.5L250.6 194.1L253.4 194.1Z" fill="#55551c"/><path d="M245.4 211L248 208.4L245.4 206.7L248.4 207.5L248.7 205L249.6 207.1L251.9 206.2L250.1 208.2L252.2 209.7L249.8 209.4L249.5 212.3L248.6 209.3Z" fill="#7a7a2a"/><path d="M224.7 210.2L230.4 209.6L227.7 204.7L231.6 208.3L233.6 204.4L233.4 208.8L236.9 208.3L234.3 210.5L237.9 213.5L233.4 212.3L233.1 215.8L231.5 212.8L228.3 214.9L230.4 211.2Z" fill="#6a6a26"/><path d="M224.4 214.2L224.9 219.2L228.9 217.3L225.8 220.4L228.7 222.1L225.5 222L226.2 226.1L223.9 222.7L221.5 225.1L222.5 221.7L218.4 221.5L222.1 220.1L220.4 217.4L223.4 219.1Z" fill="#6a6a26"/><path d="M210.2 234.3L213.7 231.3L211.2 228.6L214.8 229.8L215.9 224.4L216.6 229.9L220.8 228.7L217.3 231.5L220.2 234.2L216.4 232.9L215.4 238.2L214.6 233.1Z" fill="#55551c"/><path d="M201.4 242.8L203 239.9L199.4 238.9L203 238.2L201 233.9L204.4 237.5L206.3 233.8L205.7 238.1L210.6 236.8L206.2 239.3L210.1 242.3L205.5 240.4L205.5 243.9L204.2 240.9Z" fill="#8c8c30"/><path d="M186.7 236L190.1 234.9L188.9 231.2L191.7 233.6L194.2 231L193.4 234.7L198.8 235.4L193.5 236.6L194.8 240.3L191.9 237.7L188.8 241.8L190.3 236.7Z" fill="#6a6a26"/><path d="M177.5 251.8L181.2 249.2L177.9 246L182.1 248.1L183.3 243.6L183.6 248.2L186.5 247.6L184.3 249.5L186.6 252.1L183.5 251L182.2 254.8L181.7 250.9Z" fill="#b0b23c"/><path d="M165.7 255.6L163.2 253.2L159.4 256.1L161.7 252L157.5 249.1L162.4 250L164 245.3L164.3 250.6L168.1 250.6L164.7 252.3Z" fill="#6a6a26"/><path d="M154.1 248.2L157.2 246L155.7 242L159 244.7L162.2 242.3L160.5 246.2L163.5 248.1L160.3 248.4L159 251.6L157.9 248.2Z" fill="#b0b23c"/><path d="M141.9 235.8L146.9 235.2L145.4 231.5L148.4 234.4L150.1 231.3L150.1 234.6L155.1 233.4L150.9 236.2L154 239L149.9 237.8L149.9 243.1L148.1 238.2L144.5 240.9L146.9 236.9Z" fill="#b0b23c"/><path d="M138.8 236.5L135.7 237.3L136.7 240L134.7 238L132.5 240.8L133.5 237.4L129.8 237L133.6 236.2L132.5 233.5L134.5 235.4L136.4 233.2L135.8 235.9Z" fill="#6a6a26"/><path d="M129.5 247.8L132 246.8L131.4 243.3L133.4 246.4L136.4 244.7L134.4 247.4L136.6 249.6L133.7 248.8L132.1 252L132.1 248.4Z" fill="#7a7a2a"/><path d="M126 260.9L126.5 257.4L121.6 257.7L126.4 255.6L123.7 252.6L127.3 254.5L128 250.9L128.8 254.4L133.3 251.5L129.7 255.6L133.3 257L129.5 257L130.4 260.3L128.2 257.8Z" fill="#55551c"/><path d="M133.7 262L128.9 265.2L130.7 269.4L126.9 267L123.4 269.9L125 265.3L120.5 262.9L125.7 263.2L126.5 258.3L127.8 263.1Z" fill="#7a7a2a"/><path d="M115.2 260.1L118.4 263L120.6 257.6L120 263.4L124.2 262.3L121.2 264.9L125.6 268.3L119.8 266.3L120.3 272.6L118.2 267L114.6 269.8L117 265.6L112.2 264.7L116.5 263.7Z" fill="#a0a236"/><path d="M103.3 269L105.4 265.2L102.3 264.7L104.9 263.9L102.9 260.3L106.1 262.9L107.4 260.3L107.4 263.4L111.4 262L108 264.5L111.2 266.7L107.5 265.7L107.5 268.4L106.3 266Z" fill="#55551c"/><path d="M107.2 256L110.2 253.9L108.5 251.3L111.4 252.6L113 248.4L113.2 252.8L116.3 252.6L113.9 254.5L116.5 257.8L112.6 255.5L111.3 258.8L111.1 255.3Z" fill="#8c8c30"/><path d="M117.2 244.1L114.3 243L112.4 247.2L112.3 242.6L107.9 243L111.9 240.7L109 236.9L113.2 239.5L114.8 235.3L114.8 239.7L118.4 239.4L115.5 241.4Z" fill="#a0a236"/><path d="M102.1 242.1L104.4 246.2L107.7 244.2L105.9 247.6L109.3 249.4L105.6 249.6L105.6 253.3L103.6 249.8L99.9 252.6L102.4 248.7L97.4 246.7L102.5 246.8Z" fill="#7a7a2a"/><path d="M91.3 259.9L93 255.7L88.8 255.7L92.6 254.4L89.7 250.7L93.7 253.6L94.6 249.9L95.1 253.5L98.7 251.9L95.8 254.7L98.7 256.3L95.4 256L95.9 259.3L94.1 256.3Z" fill="#b0b23c"/><path d="M80.3 247.1L81.7 251.3L84.7 249.5L82.8 252.6L87.1 254L82.7 254.4L84.9 259.6L81.2 255.5L79.1 258.6L79.5 254.8L75.2 255.3L79.3 253.1L76.3 250.4L80.1 251.9Z" fill="#8c8c30"/><path d="M62.9 246.4L67 246.6L67.6 242.8L68.8 246.3L72.6 245.8L69.5 248.1L70.8 251L68 249.2L65.9 251L66.4 248.3Z" fill="#6a6a26"/><path d="M63.3 244.2L60.7 243L59.2 245.9L59.1 242.6L55.8 242.7L58.7 241L56 237.5L59.7 239.9L61.1 237.2L61.1 240.3L65 239.8L61.7 241.7Z" fill="#55551c"/><path d="M58.7 239.3L53.7 238.4L52.2 242.1L51.3 238.3L47.4 237.9L50.7 235.9L49.6 231.5L52.8 235.1L56.7 232.1L54.6 236.3Z" fill="#b0b23c"/><path d="M47.5 230.9L43.2 230.8L41.9 234.9L41 230.4L35.8 231L40.4 228.5L38.3 223.8L42 227L46 223.7L43.7 228.5Z" fill="#a0a236"/><path d="M27.3 222.9L30.9 223.7L31.6 219.6L32.7 223.7L36.5 222.1L33.6 225.1L37.5 227.9L32.9 226.7L32.3 231.1L31.2 226.8L27.5 228.2L30.1 225.3Z" fill="#a0a236"/><path d="M28.6 204.9L26.8 210.6L32.7 211.1L27.1 212.4L28.6 216.3L25.5 213.4L23 216.4L23.7 212.7L19.3 212L23.3 210.6L21.4 205.6L25.3 209.8Z" fill="#6a6a26"/><path d="M13.5 207.8L13.1 203.9L10.3 204.5L12.6 202.6L10.1 200.1L13.3 201.3L14.3 198.4L14.9 201.4L17.8 200.9L15.6 202.9L18 205.5L14.5 203.9Z" fill="#b0b23c"/><path d="M7 192.7L9.5 190.7L6.5 187L10.8 189.3L12.4 185.3L12.5 189.7L17.5 188.7L13.4 191.3L15.4 194.2L12.2 192.9L10.4 197.5L10.4 192.3Z" fill="#b0b23c"/><path d="M12.6 176.6L10.9 179.9L14.8 181.6L10.5 181.6L11 185.8L8.8 182.5L5.8 184.5L7.1 181.2L3.6 179.4L8 179.5L7.4 175.1L9.6 178.5Z" fill="#b0b23c"/><path d="M0 170.7L4.3 172.3L5.1 168.5L5.9 172.2L10.6 170.5L6.9 173.7L10.6 176.9L5.9 175.2L5.1 179.3L4.1 175.4L0.4 176.4L3.4 173.7Z" fill="#7a7a2a"/><path d="M-0.7 155.4L0.8 158.9L4.4 155.4L2.1 159.7L6.1 160.4L2.1 161.2L4.5 165.4L0.9 162.2L-0.6 165.6L-0.7 162L-4.7 163L-1.4 160.5L-3.9 158.4L-0.7 159Z" fill="#8c8c30"/><path d="M-4.3 154.5L-1.8 151.4L-5.5 148.7L-1.3 149.2L-0.5 145.5L1.1 148.9L5.4 147.2L2.2 150.9L5.7 153.5L1.6 153.1L0.9 156.9L-0.7 153.1Z" fill="#b0b23c"/><path d="M4.9 138L4.9 141.7L7.5 141.8L5.2 143.3L7.3 146.4L4 144.2L2.5 147.3L2.5 144.1L-0.5 144L2.1 142.5L0.8 140L3.3 141.4Z" fill="#a0a236"/><path d="M3.9 125.6L5 130L8.9 128L6.3 131.5L10 133.2L5.8 133.4L7.2 138.1L4.2 134.1L1.9 137.1L2.7 133.3L-2.5 133.8L2.3 131.7L-1.6 127.8L3.1 130.2Z" fill="#7a7a2a"/><path d="M0.2 122L3.5 123.8L6 121.5L5 125.1L8.2 126.5L5 127L4.3 129.9L3 127L-0.4 127.7L2.4 125.4Z" fill="#a0a236"/><path d="M6.5 118.4L4 117.8L3.2 120.2L2.5 117.7L-0.7 118.7L1.9 116.4L-0.7 114L2.6 115.2L3.4 111.8L4 115.3L6.7 114.6L4.9 116.5Z" fill="#8c8c30"/><path d="M-0.4 112.2L0.6 108.7L-2 107.2L1.3 107.2L1.7 104.2L2.6 107.1L6.1 106.4L3.6 108.5L5.1 111.7L2.2 109.6Z" fill="#6a6a26"/><path d="M5.5 103.7L3 101.3L0.3 104.9L1.8 100.5L-2.3 100.1L1.7 99.1L0.6 96.3L2.8 98.3L5.2 95.2L4.1 99L7.8 99.5L4.3 100.5Z" fill="#55551c"/><path d="M-1.3 89.5L3 89.2L2.5 85.7L4.6 88.2L7.9 85.6L5.9 89.7L11 91.2L5.9 91.4L6.7 95.9L4.1 92.1L1.3 94.3L2.3 91.1Z" fill="#7a7a2a"/><path d="M-2.2 81.3L1.4 80.4L0.8 76L3 79.8L5.7 78.9L4 81.2L5.7 83.5L3 82.8L0.9 86.4L1.1 82.3Z" fill="#8c8c30"/><path d="M1.4 77.2L2 72.9L-2.9 73.9L1.5 71.5L-3.1 67.9L2.3 70.2L2.3 64.4L3.8 69.9L6.9 67.8L5.3 70.9L9.6 72.2L5.1 72.8L6.7 76.9L3.5 73.7Z" fill="#8c8c30"/></g>
<path d="M0.9 61.1L5.8 58.9L8 55.5L12.1 51.4L16.4 50.5L18.8 47.8L18 47.7L19.2 42.7L21.7 40.7L27.4 38L28.8 37.6L35.4 37.7L40.7 37.9L45.4 36.9L52.1 32.5L53.8 32.9L58.6 32.4L66.4 31.2L69.4 30.4L75.4 29.5L81.1 29.2L84.7 25.6L87.8 22.2L88.6 17.6L91.9 16.6L92.1 13.6L99.6 12.6L100.7 9.9L104.5 8.1L108.5 9.9L109 12.3L112.9 11.7L118.1 16.4L123.6 12.7L126.2 12.9L128.1 10.1L130.6 10.1L136.1 9.3L134.8 7L141.8 4L142.4 4.3L146.1 6.3L150.2 5L154.4 9.5L157.8 10.8L158.1 11.5L159.3 14.6L161.6 20.5L164.3 21.1L168.1 18.7L170.5 21.4L175.2 17.9L177.4 17.7L181.7 22.3L183.7 21L187.9 25.2L193.6 26.4L194.6 28.6L196.9 30.6L201.7 36.2L203.6 37L208.6 38.9L213.5 43.1L217.9 43.2L221.9 45.2L223.8 46.4L230.5 49.2L234 50.9L235.4 51.3L237.8 52.9L236.9 58L240.4 61.5L240.3 67.4L244.5 67.4L248.6 72.5L246.9 74.6L252.4 78.6L255.7 77.1L264.1 80.9L269.8 82.5L274.1 85L273.2 112.2L274.4 140.3L275.6 165L273.5 192.7L266.9 191.1L264.4 192.6L261.5 195.4L256.7 195.7L258.3 197.7L254 199.5L251.9 204.5L251 208.9L250.4 208.3L244.6 211.3L239.1 212.6L234.9 213.9L233.5 216.8L233.1 216.1L231.2 220.8L227.2 221.2L223.1 223.9L224 225.1L219.5 228.2L217.9 233.2L213.6 234.5L214.2 235.8L208.2 241L207.1 241.2L203.8 238.3L201 240.4L197.4 240L193 240.6L190.2 244L189.7 245.1L185.6 246.7L182.8 251.5L177.4 254.3L172.9 256.2L170.4 254.4L165.9 257.3L160.5 252.2L156.6 248.2L153.1 244.5L151 240.8L147.7 242.9L142.7 238.3L139.2 240.5L133.1 241L132.2 249.7L128.8 257.4L128.2 264L126.5 270.7L123 272.7L114.5 271.1L113.5 271.6L107 269.5L110.3 265.2L112.2 260.2L110.1 254.6L113.5 246.4L106.6 249.7L101.3 250.8L97 254.2L93 256.5L89.5 257.3L89.2 257.5L85.2 255.2L80.3 256.9L76.1 257.9L73.6 252.8L68.9 250.5L67.8 250.6L64.6 247.2L58.8 245.2L53.3 242.7L51.6 240.7L48.3 238.9L43.1 237L43.8 233.8L40.3 232.8L36.1 232.8L32.8 229.4L29.9 229.6L26.6 227.3L25 221.6L24.9 222.1L20.7 219.4L21.3 213.7L16.3 214.3L17.6 209.5L11.1 208.9L10.6 205.5L7.9 202.3L11.6 201.5L7.1 198L7.7 192.4L4.3 186.6L5.9 185.6L2.7 180.8L2.4 174.3L0.3 168.8L-0.7 168.4L-2.6 162.1L-3.2 159.8L-0.1 138.2L-0 111.2L0.9 86Z" fill="#6d7420" filter="url(#m2n)"/>
<path d="M0.9 61.1L5.8 58.9L8 55.5L12.1 51.4L16.4 50.5L18.8 47.8L18 47.7L19.2 42.7L21.7 40.7L27.4 38L28.8 37.6L35.4 37.7L40.7 37.9L45.4 36.9L52.1 32.5L53.8 32.9L58.6 32.4L66.4 31.2L69.4 30.4L75.4 29.5L81.1 29.2L84.7 25.6L87.8 22.2L88.6 17.6L91.9 16.6L92.1 13.6L99.6 12.6L100.7 9.9L104.5 8.1L108.5 9.9L109 12.3L112.9 11.7L118.1 16.4L123.6 12.7L126.2 12.9L128.1 10.1L130.6 10.1L136.1 9.3L134.8 7L141.8 4L142.4 4.3L146.1 6.3L150.2 5L154.4 9.5L157.8 10.8L158.1 11.5L159.3 14.6L161.6 20.5L164.3 21.1L168.1 18.7L170.5 21.4L175.2 17.9L177.4 17.7L181.7 22.3L183.7 21L187.9 25.2L193.6 26.4L194.6 28.6L196.9 30.6L201.7 36.2L203.6 37L208.6 38.9L213.5 43.1L217.9 43.2L221.9 45.2L223.8 46.4L230.5 49.2L234 50.9L235.4 51.3L237.8 52.9L236.9 58L240.4 61.5L240.3 67.4L244.5 67.4L248.6 72.5L246.9 74.6L252.4 78.6L255.7 77.1L264.1 80.9L269.8 82.5L274.1 85L273.2 112.2L274.4 140.3L275.6 165L273.5 192.7L266.9 191.1L264.4 192.6L261.5 195.4L256.7 195.7L258.3 197.7L254 199.5L251.9 204.5L251 208.9L250.4 208.3L244.6 211.3L239.1 212.6L234.9 213.9L233.5 216.8L233.1 216.1L231.2 220.8L227.2 221.2L223.1 223.9L224 225.1L219.5 228.2L217.9 233.2L213.6 234.5L214.2 235.8L208.2 241L207.1 241.2L203.8 238.3L201 240.4L197.4 240L193 240.6L190.2 244L189.7 245.1L185.6 246.7L182.8 251.5L177.4 254.3L172.9 256.2L170.4 254.4L165.9 257.3L160.5 252.2L156.6 248.2L153.1 244.5L151 240.8L147.7 242.9L142.7 238.3L139.2 240.5L133.1 241L132.2 249.7L128.8 257.4L128.2 264L126.5 270.7L123 272.7L114.5 271.1L113.5 271.6L107 269.5L110.3 265.2L112.2 260.2L110.1 254.6L113.5 246.4L106.6 249.7L101.3 250.8L97 254.2L93 256.5L89.5 257.3L89.2 257.5L85.2 255.2L80.3 256.9L76.1 257.9L73.6 252.8L68.9 250.5L67.8 250.6L64.6 247.2L58.8 245.2L53.3 242.7L51.6 240.7L48.3 238.9L43.1 237L43.8 233.8L40.3 232.8L36.1 232.8L32.8 229.4L29.9 229.6L26.6 227.3L25 221.6L24.9 222.1L20.7 219.4L21.3 213.7L16.3 214.3L17.6 209.5L11.1 208.9L10.6 205.5L7.9 202.3L11.6 201.5L7.1 198L7.7 192.4L4.3 186.6L5.9 185.6L2.7 180.8L2.4 174.3L0.3 168.8L-0.7 168.4L-2.6 162.1L-3.2 159.8L-0.1 138.2L-0 111.2L0.9 86Z" fill="url(#m2sh)"/>
<path d="M0.9 61.1L5.8 58.9L8 55.5L12.1 51.4L16.4 50.5L18.8 47.8L18 47.7L19.2 42.7L21.7 40.7L27.4 38L28.8 37.6L35.4 37.7L40.7 37.9L45.4 36.9L52.1 32.5L53.8 32.9L58.6 32.4L66.4 31.2L69.4 30.4L75.4 29.5L81.1 29.2L84.7 25.6L87.8 22.2L88.6 17.6L91.9 16.6L92.1 13.6L99.6 12.6L100.7 9.9L104.5 8.1L108.5 9.9L109 12.3L112.9 11.7L118.1 16.4L123.6 12.7L126.2 12.9L128.1 10.1L130.6 10.1L136.1 9.3L134.8 7L141.8 4L142.4 4.3L146.1 6.3L150.2 5L154.4 9.5L157.8 10.8L158.1 11.5L159.3 14.6L161.6 20.5L164.3 21.1L168.1 18.7L170.5 21.4L175.2 17.9L177.4 17.7L181.7 22.3L183.7 21L187.9 25.2L193.6 26.4L194.6 28.6L196.9 30.6L201.7 36.2L203.6 37L208.6 38.9L213.5 43.1L217.9 43.2L221.9 45.2L223.8 46.4L230.5 49.2L234 50.9L235.4 51.3L237.8 52.9L236.9 58L240.4 61.5L240.3 67.4L244.5 67.4L248.6 72.5L246.9 74.6L252.4 78.6L255.7 77.1L264.1 80.9L269.8 82.5L274.1 85L273.2 112.2L274.4 140.3L275.6 165L273.5 192.7L266.9 191.1L264.4 192.6L261.5 195.4L256.7 195.7L258.3 197.7L254 199.5L251.9 204.5L251 208.9L250.4 208.3L244.6 211.3L239.1 212.6L234.9 213.9L233.5 216.8L233.1 216.1L231.2 220.8L227.2 221.2L223.1 223.9L224 225.1L219.5 228.2L217.9 233.2L213.6 234.5L214.2 235.8L208.2 241L207.1 241.2L203.8 238.3L201 240.4L197.4 240L193 240.6L190.2 244L189.7 245.1L185.6 246.7L182.8 251.5L177.4 254.3L172.9 256.2L170.4 254.4L165.9 257.3L160.5 252.2L156.6 248.2L153.1 244.5L151 240.8L147.7 242.9L142.7 238.3L139.2 240.5L133.1 241L132.2 249.7L128.8 257.4L128.2 264L126.5 270.7L123 272.7L114.5 271.1L113.5 271.6L107 269.5L110.3 265.2L112.2 260.2L110.1 254.6L113.5 246.4L106.6 249.7L101.3 250.8L97 254.2L93 256.5L89.5 257.3L89.2 257.5L85.2 255.2L80.3 256.9L76.1 257.9L73.6 252.8L68.9 250.5L67.8 250.6L64.6 247.2L58.8 245.2L53.3 242.7L51.6 240.7L48.3 238.9L43.1 237L43.8 233.8L40.3 232.8L36.1 232.8L32.8 229.4L29.9 229.6L26.6 227.3L25 221.6L24.9 222.1L20.7 219.4L21.3 213.7L16.3 214.3L17.6 209.5L11.1 208.9L10.6 205.5L7.9 202.3L11.6 201.5L7.1 198L7.7 192.4L4.3 186.6L5.9 185.6L2.7 180.8L2.4 174.3L0.3 168.8L-0.7 168.4L-2.6 162.1L-3.2 159.8L-0.1 138.2L-0 111.2L0.9 86Z" fill="#000" filter="url(#m2lf)" opacity="0.4"/>
<g filter="url(#m2bl)">
<g><path d="M207.3 71L206.6 74.1L209.1 76.1L206 75.5L204.1 77.5L204.5 74.8L202.4 72.9L205.2 73.3Z" fill="#23260a" opacity="0.9"/><path d="M191.8 153.7L190.1 151L187.1 151.3L189.3 149.5L189.3 146.4L191 149.1L193.9 148.9L191.7 150.7Z" fill="#1c1f08" opacity="0.7"/><path d="M130.8 189.7L127.6 188.2L125.4 189.5L126 187.1L124.6 184.6L127.3 185.9L129.7 184.2L128.4 186.8Z" fill="#1c1f08" opacity="0.8"/><path d="M191.3 85.2L191.5 80.5L187.5 78.5L191.9 78.6L193.7 75.7L194 79L197.6 81L193.5 81.2Z" fill="#3a3d14" opacity="0.8"/><path d="M53.6 174L52.5 170.7L49 170.2L52.4 169.1L53 166.2L54 169L57 169.6L54.4 170.8Z" fill="#1c1f08" opacity="0.6"/><path d="M11.5 111L14.5 113.3L18.3 112L15.9 115.2L17.7 119.7L14 116.4L9.8 118.1L12.6 114.6Z" fill="#2a2c10" opacity="0.8"/><path d="M92.7 157.2L94.5 154L92 150.1L95.9 152.2L99.6 150.3L97.4 154L99.2 157.2L95.9 155.7Z" fill="#3a3d14" opacity="0.5"/><path d="M111.8 119.3L114.8 117L114.8 113.7L116.9 116.3L121.6 115.7L117.5 118.2L117.7 121.7L115.5 119.3Z" fill="#1c1f08" opacity="0.7"/><path d="M136.8 123.4L138.2 125.6L140.5 125.5L138.7 126.8L139 130.2L137.2 127.4L134.1 127.6L136.7 125.8Z" fill="#2e3210" opacity="0.8"/><path d="M154.2 92.9L154.5 95.4L157.9 96.6L154.5 97.1L153.2 99.7L152.7 96.8L150 95.6L153 95.2Z" fill="#2a2c10" opacity="0.5"/><path d="M129.1 67.1L132.3 67.3L134.9 63.9L134.2 68.2L137.5 70.7L133.5 70.3L131 73L131.4 69.3Z" fill="#3a3d14" opacity="0.9"/><path d="M174.9 109.1L177.2 112.1L182.1 111.8L178.3 114.6L178.4 119.8L175.7 115.2L171.1 115.5L174.6 112.8Z" fill="#23260a" opacity="0.8"/><path d="M103 215.8L104.3 213.8L103 210.8L105.5 212.8L108.5 211.5L106.6 214L107.3 216.3L105.2 215Z" fill="#2a2c10" opacity="0.7"/><path d="M92.5 120.9L92.7 125.2L95.6 127.3L92 127.5L90 130.7L89.6 127L85.8 124.7L90.4 124.8Z" fill="#23260a" opacity="0.5"/><path d="M170.6 249.8L173.3 252.4L177.6 251.5L174.5 254.6L175 258.2L172.4 255.5L168.7 256.2L171.4 253.6Z" fill="#2a2c10" opacity="0.9"/><path d="M101.8 38.3L99.6 35.4L96.3 36.1L98.7 33.9L98.5 31.2L100.4 33.2L103.6 32.7L101 34.7Z" fill="#2a2c10" opacity="0.8"/><path d="M171.5 101.2L168.7 101.5L167.6 104.2L167.4 101.2L165.4 100.3L167.6 100L168.6 97.7L168.8 100.2Z" fill="#23260a" opacity="0.6"/><path d="M208.4 56.8L205.6 59.6L206 63.5L203.3 60.6L199.1 61.2L202.3 58.3L201.9 54.7L204.4 57.4Z" fill="#2a2c10" opacity="0.8"/><path d="M174.7 173.6L178.6 170.7L178.5 166.6L181 170L185.3 169.6L182.1 172.2L182.5 177.1L179.7 172.9Z" fill="#2a2c10" opacity="0.8"/><path d="M165.6 77.6L161.7 80.2L161.2 83.8L159 80.7L153.9 80.9L158.4 78.4L158.3 73.5L160.6 77.9Z" fill="#23260a" opacity="0.7"/><path d="M193.7 100.2L189.6 101.3L188.1 105.5L187.1 101.2L183.6 99.7L187.3 98.7L188.6 95.7L189.7 98.8Z" fill="#3a3d14" opacity="0.8"/><path d="M42.2 92.1L40.9 95.4L42.4 98.3L39.3 96.9L36.1 99L37.6 95.6L35.5 92.2L39.2 94.1Z" fill="#3a3d14" opacity="0.6"/><path d="M114.1 57.3L114.9 60.2L118.4 60.8L115.1 61.7L114.4 64.2L113.4 62L110 61.2L113.5 60.2Z" fill="#2a2c10" opacity="0.6"/><path d="M50.6 211.2L46.6 211.9L45.2 215.7L44.7 211.6L40.7 210.3L44.7 209.7L46.1 206.4L46.7 210Z" fill="#2a2c10" opacity="0.7"/><path d="M132.1 166L128.3 164.2L124.7 167L126.6 163L124.3 159.7L128 161.5L131.5 158.7L129.5 162.7Z" fill="#2e3210" opacity="0.8"/><path d="M103 90.9L102.9 87.5L98.8 85.3L103.4 85.4L105.2 82.7L105.7 85.9L108.9 88L104.8 88Z" fill="#2a2c10" opacity="0.7"/><path d="M60.8 79.6L58.2 78.9L55.8 81L56.8 77.9L55.4 75.9L57.8 76.6L60.3 74.4L59 77.5Z" fill="#23260a" opacity="0.7"/><path d="M152.7 95.4L153.9 91.5L150.7 87.5L155.5 89.3L159.5 86.3L157.6 91L161.1 95.3L156 93.1Z" fill="#2a2c10" opacity="0.5"/><path d="M176.9 64.4L175 62.9L172.1 64.3L174.1 61.8L173.4 59.7L175.3 61L177.9 59.9L176.2 62.1Z" fill="#2e3210" opacity="0.9"/><path d="M85.6 226.6L82.7 225.8L80.5 227.5L81.5 224.8L79.1 222.2L82.3 223.3L84.4 221.8L83.6 224.4Z" fill="#2e3210" opacity="0.9"/><path d="M124.5 105.5L121.7 108.7L122.5 112.4L119.6 110.1L115.7 111L118.6 108L116.8 103.2L120.3 107Z" fill="#23260a" opacity="0.8"/><path d="M84.2 205.3L82.9 207.8L84.3 210.6L81.5 209L78.7 210.4L80.2 207.7L79.3 205.3L81.6 206.6Z" fill="#2a2c10" opacity="0.6"/><path d="M222.5 58.2L218.7 58L216.5 61.4L216.4 57.5L213.4 55.2L217.3 55.4L219.8 51.2L219.4 56Z" fill="#23260a" opacity="0.7"/><path d="M170.2 211.8L167.3 209.3L164.4 210L166.4 207.6L164.9 203.6L168 206.4L171.3 205.5L169 208.2Z" fill="#2a2c10" opacity="0.8"/><path d="M155.5 148.2L151.2 148L148.4 151.2L148.8 146.8L145.1 143.9L149.9 144.7L152.2 141.7L152.4 145.3Z" fill="#3a3d14" opacity="0.9"/><path d="M104 140.1L104.6 135.3L100.6 131.9L105.8 132.6L108.6 129.9L108 134L111.6 136.9L107.2 136.3Z" fill="#1c1f08" opacity="0.7"/><path d="M93.8 232.7L91.7 229.5L89.1 229.7L91 228L90.6 224.5L92.7 227.3L95.7 227.1L93.4 229Z" fill="#2e3210" opacity="0.6"/><path d="M115.2 115.9L113.9 113L110.8 112.5L113.6 111.1L114 107.4L115.4 110.9L118.5 111.4L115.9 112.9Z" fill="#23260a" opacity="0.6"/><path d="M69.8 208.4L68.8 211.2L70.2 213.2L67.8 212.4L65.9 213.9L66.7 211.5L64.7 209.2L67.5 210.2Z" fill="#3a3d14" opacity="0.8"/><path d="M179.9 175.5L177 177.9L178 181.6L175.6 178.7L172.8 179.3L174.9 177.3L174.1 174L176.3 176.5Z" fill="#23260a" opacity="0.6"/><path d="M17.5 90L13.7 90.5L12.1 93.2L11.5 90.1L7.7 88.3L12.1 88.2L13.6 84.5L13.9 88.3Z" fill="#23260a" opacity="0.6"/><path d="M206.8 202.3L204.8 201.3L202.6 202.2L203.8 200.1L202.6 197.8L204.8 199.1L207.1 197.9L205.9 200.2Z" fill="#1c1f08" opacity="0.7"/><path d="M195.8 40.5L197.3 38.7L196.3 35.9L198.4 38L200.8 37.2L199.4 39.2L199.9 41.5L198 40.1Z" fill="#23260a" opacity="0.9"/><path d="M224.1 94.9L226.2 93.2L226.4 90.5L228.1 92.6L230.7 92.9L228.6 94.4L228.7 97.6L226.9 95Z" fill="#1c1f08" opacity="0.7"/><path d="M111.2 103.2L115.4 100L115.2 95.4L117.9 99.4L122.9 98.8L118.7 101.5L119.3 106.4L116.4 102.8Z" fill="#3a3d14" opacity="0.6"/><path d="M156.5 194.5L155.4 198L157.6 200.8L154.1 199.5L151.2 202.1L152.4 198.5L150.7 196L153.7 197.1Z" fill="#23260a" opacity="0.6"/><path d="M143.1 155.8L140.4 153.1L136 153.4L139.5 150.5L138.7 145.3L141.9 149.4L146.3 149.1L142.8 151.9Z" fill="#1c1f08" opacity="0.8"/><path d="M144.4 21L143.4 23.5L145 26.1L142.2 24.8L139.8 26.4L141.2 23.7L139.9 21.7L142 22.4Z" fill="#1c1f08" opacity="0.7"/><path d="M100 65.7L100.2 62.9L97.4 61L100.7 61.3L102.4 58.9L102.4 61.8L105.2 63.8L101.7 63.5Z" fill="#3a3d14" opacity="0.6"/><path d="M164.5 26.9L163.7 29.1L164.5 31.3L162.3 30.4L159.8 31.4L161.2 29L159.7 26.3L162.3 27.8Z" fill="#1c1f08" opacity="0.9"/><path d="M98.7 53.7L95.4 51.2L90.8 52.7L94.2 49.1L92.9 45.3L96 47.8L100.1 46.3L97.2 49.6Z" fill="#23260a" opacity="0.8"/><path d="M231.2 82.3L228.2 83.3L227 86.3L226.1 83.2L222.6 82L226.4 81.2L227.4 77.9L228.2 81.3Z" fill="#23260a" opacity="0.8"/><path d="M62.2 91.5L65.5 88.4L64.5 84.6L67.3 87.2L71.7 85.9L68.5 89.1L69.2 92.5L66.6 90.2Z" fill="#2e3210" opacity="0.5"/><path d="M55.6 70.9L59.6 69.4L59.9 64.6L61.5 69.1L65.8 69.4L61.8 71L61.4 75.3L59.9 71.3Z" fill="#2a2c10" opacity="0.6"/><path d="M76.5 53.5L73 52.9L70.7 55.1L70.8 52.1L68.8 49.7L72.1 50.3L74.8 47L73.9 51.1Z" fill="#1c1f08" opacity="0.8"/><path d="M52.7 202.7L54.1 205.5L56.8 206L54.4 207.3L54.1 210.3L52.7 207.6L50 207.2L52.5 205.9Z" fill="#23260a" opacity="0.8"/><path d="M95.6 30.8L98.1 32.1L100.9 31.3L99.2 33.8L100.7 37.1L97.8 34.8L94.1 36.8L96.4 33.5Z" fill="#3a3d14" opacity="0.7"/><path d="M203.7 114.5L201.3 115.2L200.7 117.5L199.7 115.5L196.6 114.6L199.9 113.8L200.6 110.6L201.3 113.9Z" fill="#2e3210" opacity="0.5"/><path d="M163.7 92L162.5 96.2L164.6 98.8L161.3 98.2L158.2 101.2L159.5 96.9L156.6 93.9L160.6 95Z" fill="#23260a" opacity="0.6"/><path d="M247.1 87.5L245.2 84.6L241 84.4L244.9 82.5L245 78.5L246.9 82L249.8 82.3L247.5 84.1Z" fill="#2e3210" opacity="0.9"/><path d="M90.2 129.1L88.6 125.4L84.4 124.2L88.6 122.7L89.7 118.1L91.1 122.8L94.5 123.8L91.4 125.3Z" fill="#2e3210" opacity="0.9"/><path d="M31.3 201.1L28.7 201.2L27.6 203.1L27.3 201L24.7 199.6L27.7 199.6L28.8 197.7L28.9 200Z" fill="#2e3210" opacity="0.6"/><path d="M202.3 66L206.1 65.5L208 62.4L208.6 65.9L212.7 68.1L208.1 68.5L206 72.1L205.3 68Z" fill="#23260a" opacity="0.8"/><path d="M20.8 95.3L23.9 96.3L26.8 94L25.4 97.6L27.3 100.1L24.3 99L21.4 101.5L22.7 98Z" fill="#2a2c10" opacity="0.7"/><path d="M22.8 82L19.9 78.7L15.1 79.8L18.6 76.6L17.9 71.9L21 75.6L24.7 75.1L22.1 77.8Z" fill="#3a3d14" opacity="0.8"/><path d="M271.3 89.4L267.8 86.8L264.1 88.1L266.8 84.9L265.5 81.6L268.3 83.7L271.9 82.2L269.4 85.3Z" fill="#3a3d14" opacity="0.9"/><path d="M137.2 118.5L140.2 119.3L142.5 117.2L141.6 120.2L144.1 122.6L140.8 121.8L138.2 124.2L139.2 120.8Z" fill="#2a2c10" opacity="0.6"/><path d="M161.5 182L166.6 182.9L169.5 179.4L168.6 184L172.5 186.8L167.9 186.2L164.7 190.3L165.9 185.1Z" fill="#2e3210" opacity="0.7"/><path d="M133 112.9L131.4 108.6L126.9 107.4L131.4 105.9L132.6 102.4L134.2 105.6L139.1 106.9L133.9 108.2Z" fill="#3a3d14" opacity="0.9"/><path d="M228.4 163.7L228.2 160.2L226.3 158.7L228.8 158.5L230.4 155.1L230.5 158.8L232.7 160.3L230 160.5Z" fill="#2e3210" opacity="0.5"/><path d="M174.9 107.3L176.2 110L180.5 110.6L176.6 112.1L175.7 114.8L174.4 112.2L171.3 111.5L174 110Z" fill="#1c1f08" opacity="0.8"/><path d="M85.7 131.3L83.3 133.4L83.7 136.7L81.6 134.2L77.8 134.8L80.6 132.4L79.9 128.1L82.7 131.3Z" fill="#2a2c10" opacity="0.6"/><path d="M213.4 121.1L210.8 124L212.4 128.9L208.8 125.4L205 126.2L207.7 123.2L206 118.2L209.6 122Z" fill="#2e3210" opacity="0.7"/><path d="M62 101.1L57.6 100.8L54.7 104.5L55.2 99.8L51.6 97L56.2 97.5L58.5 95L58.2 98.5Z" fill="#3a3d14" opacity="0.6"/><path d="M122.1 212.1L124.3 212.6L126.4 210.9L125.5 213.5L127.8 215.7L124.7 214.5L122.9 216.2L123.4 213.9Z" fill="#3a3d14" opacity="0.6"/><path d="M178.7 52.7L177.7 56.8L179.9 60L176.1 59L172.6 61.9L174.1 57.6L171.1 54.2L175.3 55.2Z" fill="#23260a" opacity="0.7"/><path d="M39.9 136.9L44.1 137.9L46.5 136L46.1 139L48.6 141.7L45 140.9L42.3 143.5L43.1 139.9Z" fill="#3a3d14" opacity="0.7"/><path d="M211.3 131.5L211.3 128.5L208.8 127L211.7 126.9L213.2 124.6L213.1 127.4L216.3 129.1L212.8 128.9Z" fill="#23260a" opacity="0.5"/><path d="M271.4 179.9L268.9 179.3L267.1 180.8L267.6 178.5L265.5 176.4L268.4 177.3L270.4 175.2L269.5 178Z" fill="#2e3210" opacity="0.5"/><path d="M31.2 73.6L27 73.1L24.4 75.4L24.9 71.8L21.6 69.1L25.8 69.9L28.2 67.4L27.6 70.8Z" fill="#2e3210" opacity="0.7"/><path d="M25.1 84.8L27.5 83.1L28 79.4L29.8 82.8L33 83.1L30.4 85L29.9 88.3L28 85.4Z" fill="#2a2c10" opacity="0.8"/><path d="M216.1 194.6L213.8 197.3L214.4 200.1L212.1 198.4L208.7 199.5L211.2 196.8L209.9 193.3L212.6 195.9Z" fill="#3a3d14" opacity="0.8"/><path d="M64.6 63.3L61.1 64.6L60.3 68.5L58.9 64.8L55.3 63.9L58.8 62.6L59.6 58.7L60.9 62.5Z" fill="#23260a" opacity="0.6"/><path d="M85.7 78.7L88 80.7L92.4 79.4L89.1 82.5L90 86.3L87.2 83.7L83.2 84.7L86.4 81.8Z" fill="#23260a" opacity="0.6"/><path d="M189 136.4L187.6 133.2L184.7 132.6L187.6 131.4L188 127.9L189.3 131.1L191.6 131.8L189.5 132.9Z" fill="#2a2c10" opacity="0.8"/><path d="M95.7 63.3L95 68.4L98.6 70.9L94.5 70.9L91.5 75.1L92.1 69.8L88 67.1L92.8 67.3Z" fill="#23260a" opacity="0.7"/><path d="M155.8 228.2L152.9 228.4L151.3 231.8L151 228.2L148.5 226.6L151.4 226.2L153.1 223.2L153.5 226.6Z" fill="#1c1f08" opacity="0.8"/><path d="M151.9 52.3L154.9 55.2L158.5 54.9L155.8 57.5L156.9 62.1L153.8 58.6L149.9 59.3L152.9 56.6Z" fill="#2e3210" opacity="0.6"/><path d="M108.1 47.1L109.3 51.7L113.3 53.2L109.1 54.3L107.7 59.3L106.6 54.3L102.3 52.9L106.5 51.5Z" fill="#2e3210" opacity="0.7"/><path d="M199.1 40.6L194.6 41.3L192.8 44.5L192.1 40.8L187.2 39L192.2 38.2L194.1 34L194.8 38.8Z" fill="#2e3210" opacity="0.7"/><path d="M173.7 205.6L170.8 207.7L170.8 210.4L169 208.4L165.5 208.7L168.2 206.6L168 203L170.1 206.1Z" fill="#1c1f08" opacity="0.5"/><path d="M211.8 154.3L209.2 154.9L208.4 157.6L207.7 155L205.3 154.1L207.8 153.5L208.5 151.1L209.3 153.5Z" fill="#2e3210" opacity="0.7"/><path d="M33 171.7L32.9 169.4L30.8 167.9L33.4 168L34.9 165.6L35 168.3L37 169.8L34.5 170Z" fill="#1c1f08" opacity="0.5"/><path d="M170.4 92.1L168 91.3L166.3 92.4L166.8 90.4L165.3 88.4L167.7 89.2L169.7 87.6L168.7 90.1Z" fill="#3a3d14" opacity="0.5"/><path d="M214.1 129.4L215.2 127.4L214.2 125.2L216.3 126.6L218.6 125.3L217.3 127.5L218.5 130L216.2 128.5Z" fill="#1c1f08" opacity="0.5"/><path d="M148.1 21.3L148.7 18.1L145.9 16.2L149.1 16.6L151 14.3L150.6 17.3L152.5 19L150.1 19Z" fill="#23260a" opacity="0.6"/><path d="M136.4 27.9L132.9 28.6L132 31.8L131.3 28.6L128.7 27.7L131.2 26.8L132.2 23.6L132.9 27Z" fill="#23260a" opacity="0.8"/><path d="M128.8 251.4L129.5 247.8L127.4 245.2L130.7 246L133.7 242.7L132.4 247L134.6 249.3L131.5 248.7Z" fill="#1c1f08" opacity="0.6"/><path d="M60.1 125.3L64.5 127.6L67.7 125.3L66.4 128.9L68.9 132.6L64.8 131L61.7 132.6L63.2 129.2Z" fill="#2a2c10" opacity="0.7"/><path d="M182.3 178.5L186.4 181.2L189.9 179.6L188 182.9L189.9 186.8L186.3 184.3L182.6 186.3L184.9 182.8Z" fill="#23260a" opacity="0.7"/><path d="M117.9 17.4L121.9 14.7L121.3 9.8L124.2 13.6L127.8 13.8L124.8 16.1L125.1 20.1L122.7 16.7Z" fill="#23260a" opacity="0.7"/><path d="M89.3 40.7L91.6 41.5L93.6 39.7L93 42.2L94.6 44.3L92 43.5L89.8 45.3L90.5 42.7Z" fill="#2a2c10" opacity="0.7"/><path d="M93 45.5L95.8 47.1L98.1 45.8L97.1 48.1L98.8 50.8L95.9 49.3L93.2 51L94.6 48.2Z" fill="#2a2c10" opacity="0.9"/><path d="M86.3 62.5L90.5 62.5L92.5 59.2L92.7 63L96.3 65.2L92.3 65.6L89.9 69L89.7 64.7Z" fill="#2a2c10" opacity="0.6"/><path d="M237.9 126.9L234.3 124.7L231 125.8L232.7 122.7L230.8 118.6L234.6 121.1L238.5 119.4L235.8 123Z" fill="#23260a" opacity="0.9"/><path d="M219 135.6L218.4 138.2L219.9 140.2L217.4 139.4L215.2 141.3L215.8 138.7L213.8 136.2L216.9 137.2Z" fill="#3a3d14" opacity="0.9"/><path d="M137.6 218.4L140.4 219.6L142.6 217.8L141.6 220.4L143 222.4L140.7 221.8L138.4 223.4L139.5 220.7Z" fill="#2e3210" opacity="0.6"/><path d="M136.5 19.3L139.2 21.4L142.7 20.5L140.2 23.2L141.5 26.7L138.7 24.5L135.8 25.1L137.7 22.7Z" fill="#2e3210" opacity="0.7"/><path d="M174.7 154.3L176.2 150.7L173.3 147.6L177.1 148.9L179.8 147L178.8 150.2L181 152.9L177.6 151.6Z" fill="#3a3d14" opacity="0.8"/><path d="M88.5 220.7L85.9 224.3L87.9 229.3L83.8 225.6L79.3 227.5L82.1 223.8L80.2 219L84.3 222.2Z" fill="#3a3d14" opacity="0.9"/><path d="M86.2 129.2L88.8 132L92.9 131.4L89.8 134.1L90.8 139L87.6 135.1L82.6 136.1L86.2 132.8Z" fill="#3a3d14" opacity="0.5"/><path d="M104.4 67.5L106.8 65.7L106.3 62.8L108.1 65.1L111.6 64.3L108.9 66.5L109 68.9L107.3 67Z" fill="#1c1f08" opacity="0.7"/><path d="M31.3 58.7L27.9 60.8L28.1 64.8L26 61.4L23 61.3L25.5 59.5L25.3 55.8L27.4 58.7Z" fill="#2a2c10" opacity="0.8"/><path d="M79.4 138.1L75.1 137.5L72 141.3L72.6 136.6L68.6 133.1L74.1 134.5L76.7 131.3L76.5 135.2Z" fill="#1c1f08" opacity="0.8"/><path d="M62.6 52.9L63.9 49.6L62.1 47.2L65 48.2L67.5 46.1L66.6 49.1L68 51.5L65.3 50.5Z" fill="#2e3210" opacity="0.9"/><path d="M191.8 57L194.7 60L198.9 58.5L196 61.6L197.4 66.1L194.1 62.7L189.6 64.2L193.1 61Z" fill="#3a3d14" opacity="0.5"/><path d="M94.6 128.2L97.8 127.6L99.3 124.1L99.6 128L103.5 129.4L99.6 129.9L98.1 132.8L97.5 129.6Z" fill="#2e3210" opacity="0.8"/><path d="M76.2 55L75.9 57.4L77.9 59L75.4 58.8L73.9 60.4L74.2 58.1L71.7 56.4L74.6 56.6Z" fill="#23260a" opacity="0.7"/><path d="M212.6 234.9L216 230.9L214.8 226.7L218.2 229.8L222.6 228.1L219.9 231.6L220.7 235.4L217.6 233Z" fill="#23260a" opacity="0.8"/><path d="M131.9 170.1L135.3 168.4L136.1 163.9L137.6 168.5L142.7 168.9L138 170.6L137.3 174.2L135.8 170.7Z" fill="#3a3d14" opacity="0.7"/><path d="M78.3 171.1L75.9 174.8L77.2 178.3L74 176.1L70.1 178L72.6 174.5L70.7 170.5L74.3 173.2Z" fill="#3a3d14" opacity="0.7"/><path d="M154.8 36.8L156 39.4L160.1 39.9L156.4 41.4L155.6 44.5L154.4 41.4L151.3 40.9L154 39.5Z" fill="#23260a" opacity="0.5"/><path d="M66.2 227.9L68.9 227.9L71.1 225.3L70.6 228.8L73.8 231L69.9 230.4L67.8 233.5L68.1 229.9Z" fill="#1c1f08" opacity="0.7"/><path d="M170.5 150.5L169.6 145.9L165.9 144.3L169.8 143.3L171.5 138.6L172 143.8L176.6 145.1L172.1 146Z" fill="#1c1f08" opacity="0.7"/><path d="M104.3 242.4L104.2 245.8L107.3 247.6L103.7 247.4L101.8 251.1L102.2 246.9L99.8 245.4L102.6 245.3Z" fill="#2e3210" opacity="0.8"/><path d="M100.2 83.8L99.6 87.5L102 90.6L98 89.5L94.9 92.4L95.7 88.4L92.7 84.9L97.2 86.1Z" fill="#2a2c10" opacity="0.9"/><path d="M165.6 24.9L163.4 23.4L160.7 24.8L162.3 22.4L161.1 19.8L163.5 21.2L165.7 20.5L164.5 22.5Z" fill="#1c1f08" opacity="0.6"/><path d="M42.2 142.9L39.4 144.2L39.1 147.3L37.7 144.6L34.5 144.2L37.6 142.9L37.9 139.9L39.2 142.5Z" fill="#1c1f08" opacity="0.8"/><path d="M140.1 114.8L136.9 110.6L132.2 111.6L135.8 108.5L134.8 103.4L138.2 107.1L142.7 106.7L139.3 109.8Z" fill="#2a2c10" opacity="0.7"/><path d="M80.9 56.7L82.3 60.7L85 61.5L82.6 62.8L81.8 66L80.5 63L76.8 62.3L80.5 61.1Z" fill="#1c1f08" opacity="0.7"/><path d="M197 161.8L196.4 158L192.5 155.8L197.1 155.7L199.3 150.6L199.4 156.1L203.6 158.2L199.2 158.8Z" fill="#1c1f08" opacity="0.7"/><path d="M140.7 183.1L140.6 180.2L137.2 178.5L141 178.6L142.8 175.1L142.6 179.1L144.9 180.5L142.3 180.8Z" fill="#23260a" opacity="0.8"/><path d="M155.8 59.7L154 58.3L151.2 58.7L153.2 56.6L152.9 54.2L154.7 55.9L157.4 55.3L155.7 57.4Z" fill="#2e3210" opacity="0.8"/></g>
<g><path d="M240.6 195.2L241.1 199.5L245.4 197.3L241.9 200.7L246.5 202.8L241.7 202.3L242.8 207.1L240.2 202.8L237.6 205.8L238.5 202.2L234 202L238.5 200.4L235.7 196.9L239.5 199.2Z" fill="#bcc032" opacity="0.7"/><path d="M175.3 161.8L175.9 156.7L171.4 156L175.4 154L173.9 149.7L177.7 152.2L181.2 147.2L180.1 153.5L185 154.1L180.1 155.9L183.1 161.5L178.4 157.6Z" fill="#a0a25a" opacity="0.5"/><path d="M-1.7 153.4L1.3 151.1L-2.2 148.4L2.1 149.7L2 144.7L3.8 149.2L7.8 145.7L5.1 150.4L8.9 151.3L5.2 152.2L7 156.1L3.7 153.3L1.8 156.8L2.2 152.5Z" fill="#d4d63c" opacity="0.7"/><path d="M161.6 166.9L158.5 168.4L159.4 172.2L156.7 169.7L153.5 171.3L155.4 168L151.4 165L156.3 166.3L157.9 161.1L158.2 166.4Z" fill="#b2b82e" opacity="0.8"/><path d="M76.9 175.6L80.9 178.2L83.8 172L83.5 178.3L90 178.1L84.1 181L87 186L82.2 183L79.2 188.3L79.6 182.1L74.1 182.2L79.4 179.7Z" fill="#b2b82e" opacity="0.6"/><path d="M236.7 171.2L232.3 169.6L230.6 175L229.8 169.4L226.2 169.7L229.2 167.2L225.1 163L230.3 165.4L231.9 159.8L232.3 165.8L236.4 165L233.4 167.6Z" fill="#a0a42c" opacity="0.6"/><path d="M257 119.4L252.7 115L248.7 120.4L250.6 114L244.4 113.2L250.2 111.6L247.9 105.9L252.4 110.5L255.7 106.2L254.8 111.2L259.6 112.2L254.9 113.9Z" fill="#b2b82e" opacity="0.6"/><path d="M168.7 258.7L166.1 254.7L162.4 257.5L164.4 253.4L159.2 251.3L164.7 251.2L164 245.9L166.8 250.9L170.9 247.4L168.5 251.9L173.8 254L167.8 253.7Z" fill="#a0a42c" opacity="0.7"/><path d="M211.7 197.3L217.1 197.6L215.6 192.6L218.6 196.6L221.5 192.4L220.4 197.2L223.9 197.4L221 199.2L223.9 202.8L219.5 200.4L218.7 205L217.9 200.3L214.2 202.4L216.4 199.3Z" fill="#a0a25a" opacity="0.5"/><path d="M98.8 228.2L101.8 230.3L104.7 225.8L103.9 230.9L109.1 231.3L104.1 233.1L105.7 236.9L102.3 233.9L99.9 237.8L100.8 233.3L95.3 233.3L100.4 231.7Z" fill="#bcc032" opacity="0.8"/><path d="M3.6 64.1L8.3 65.1L9.6 60.7L11.2 64.8L16.3 63.5L12.8 67.4L18 72L10.9 69.4L9.9 75.4L8.6 69.4L2 72.1L7.5 67.5Z" fill="#b2b82e" opacity="0.8"/><path d="M82.4 215L83.3 211.7L80.8 210.1L84 210.1L84.5 206L85.5 210L89.7 209.2L86.4 211.6L87.6 214.5L84.9 212.5Z" fill="#b2b82e" opacity="0.9"/><path d="M89.3 19.3L94.4 22.5L97.1 17.5L96.8 23.4L103.9 22.7L98 25.8L101 30.9L95.7 27.3L92.7 34.1L93.5 26.7L88.2 26.9L92.5 24.3Z" fill="#b2b82e" opacity="0.8"/><path d="M233.4 194.1L232.2 190.8L228.9 193.2L230.9 189.8L227 188.7L231.3 188.3L230.2 185.5L232.4 187.5L234 184.8L233.9 187.8L236.7 187.5L234.1 189.2L237.3 191.8L233.4 190.2Z" fill="#d4d63c" opacity="0.6"/><path d="M44.4 115.9L47.8 117.2L48.9 113.1L49.4 117.4L53.2 116.4L50.2 118.8L52.2 121.2L49.3 120.3L48.2 122.9L47.6 120L43.7 121L46.8 118.6Z" fill="#c4ca38" opacity="0.7"/><path d="M115 202.2L109.4 199.9L109.2 206.1L107.3 200.7L102.8 203.5L106 198.8L100 197.1L105.9 196.6L104.6 192.4L107.9 195.7L110.7 190.9L110 196.2L115.1 195.6L110.9 198.3Z" fill="#9a9c30" opacity="0.5"/><path d="M39.5 213.7L44.5 210.2L42.3 205.1L46.8 208.9L50.4 205.6L48.9 210.1L52.9 212.5L48.2 212.5L47.2 217L45.8 212.5Z" fill="#a0a25a" opacity="0.7"/><path d="M176.4 209L173 205.1L168.9 210.1L171.1 204.1L165.6 203.1L171.1 202L169.2 196.5L173 201.1L176.7 196.7L174.7 202.1L181.4 203.1L174.7 204.1Z" fill="#a0a25a" opacity="0.8"/><path d="M124.8 173.7L122.8 171.5L119.9 172.8L121.8 170L119.5 167.7L122.5 168.5L124.1 165.5L124.2 168.9L127.4 169.4L124.3 170.5Z" fill="#c4ca38" opacity="0.7"/><path d="M40.9 182.8L37.5 186.1L41.6 189.3L36.6 187.8L35.9 192.3L34.7 188L30.1 189.8L33.5 186.4L30.8 183.8L34.7 184.9L35.2 180.4L36.4 184.6Z" fill="#bcc032" opacity="0.7"/><path d="M233.8 62L232.3 56.6L228.5 59.2L230.8 55.5L226.1 53.9L231.2 53.6L229.2 48.7L232.7 52.3L235.2 48.4L234.7 53L238.6 52.7L235.5 55L237.8 57.7L234.2 56.6Z" fill="#a0a25a" opacity="0.6"/><path d="M182.3 184.2L182.6 188.2L185 187.3L183.2 189.2L185.5 190.6L182.8 190.4L183.6 193.9L181.7 190.8L179.7 193L180.8 190.1L177.5 190.1L180.4 189L178.4 186.2L181.2 187.9Z" fill="#b2b82e" opacity="0.7"/><path d="M99.9 148.8L100.1 144.7L96.3 143.2L100.4 142.2L100.6 138.4L102.6 141.8L107.3 140.1L104.2 143.6L106.7 147.4L102.4 145.1Z" fill="#bcc032" opacity="0.8"/><path d="M164.6 219.8L166.4 225.2L171.2 223.4L167.3 227.3L172.8 230.8L166.7 229.3L166.1 233.7L164.6 229.4L159.9 231.6L163 227.8L159.4 224.9L164.2 225.8Z" fill="#c4ca38" opacity="0.8"/><path d="M129.4 67.4L127.7 70.9L132 71.6L127.6 72.5L129.2 75.6L126.6 73.8L124.8 77.8L124.9 73.2L121 74.3L124.2 71.8L121.3 69.5L125.1 70.6L124.7 66.2L126.5 69.7Z" fill="#b2b82e" opacity="0.5"/><path d="M74.2 237L78 235L76.8 230.3L80.1 233.9L84.8 230.7L82.3 235.5L86.7 239.2L80.8 237.6L79 242.1L78.2 237.7Z" fill="#b2b82e" opacity="0.8"/><path d="M168.1 244.3L165.1 247L167.6 249.3L164.3 248.4L163.7 251.6L162.8 248.5L159.8 249.4L162.1 247.1L158.3 244.2L162.5 245.5L163.4 241.3L164.3 245.7Z" fill="#a0a25a" opacity="0.6"/><path d="M118.2 185.1L120.5 188.1L124.7 186.1L121.8 189.8L125.4 193.3L120.7 191.4L118.6 195.3L118.6 191L114.3 190.2L118.7 189Z" fill="#b2b82e" opacity="0.7"/><path d="M110.4 149L112.5 146.4L108.7 144.5L113.1 145L112.1 140.6L114.5 144.6L117.3 140.6L116.1 144.9L120.9 144.9L115.9 146.5L119 150L115.2 147.9L114.2 151L113.6 147.7Z" fill="#d4d63c" opacity="0.8"/><path d="M179.8 81L175.8 83.4L177.5 89.7L173.1 84.7L168.6 87.3L171.3 82.6L166.8 79.1L172.3 80.2L174.3 75.4L175.1 80.3Z" fill="#a0a42c" opacity="0.6"/><path d="M192.1 154.5L189.9 149.1L183.4 153.1L187.9 147.4L181.6 143.6L188.8 144.7L189.3 139.2L191.7 144.2L196.7 141.9L193.2 146.5L198.3 149.7L192.5 149.1Z" fill="#bcc032" opacity="0.8"/><path d="M111.3 194.6L107 194.2L107.3 198.3L105.5 194.5L102 197L104.1 193.6L100.1 191.5L104.7 191.9L104.7 188.6L106.4 191.2L109.6 189.4L107.3 192.8Z" fill="#9a9c30" opacity="0.6"/><path d="M57 72.2L59.2 67.6L54.2 66L59.3 65.5L58.9 61.8L61.3 64.7L64.5 62.2L62.8 66.1L67.8 67.6L62.5 67.9L63.2 71.8L60.8 68.6Z" fill="#b2b82e" opacity="0.5"/><path d="M78.7 36.2L81.9 37L82.9 34L83.9 37L87.5 36.1L84.8 38.7L87.7 41.5L83.6 40L82.8 43.5L82 40L78.1 41.3L80.9 38.6Z" fill="#9a9c30" opacity="0.6"/><path d="M188.7 176L186.8 173.3L183.8 174.8L185.4 172.1L183.2 169.6L186.5 170.7L188.2 167.1L188.2 171L192.4 171.6L188.5 172.8Z" fill="#c4ca38" opacity="0.6"/><path d="M251.1 147.9L255.2 150.1L256.9 145.6L257.2 150.1L261.3 149.7L257.7 152.1L260.7 155.8L256.5 153.6L255 156.9L254.8 153.1L250.2 153.9L253.7 151.4Z" fill="#e0e048" opacity="0.5"/><path d="M37.3 204.6L35.1 210.3L39 213.4L33.6 212.8L32.3 219.9L30.7 213.3L25.1 213.4L30 210.3L28.5 205.6L32.5 208.5Z" fill="#bcc032" opacity="0.7"/><path d="M255.9 186.2L256.4 190.1L260.2 187.9L257.4 190.9L260.8 192.5L256.9 192.2L258.2 196.3L255.8 192.8L253.6 195.8L254.4 192.4L250.6 192.4L254.5 191L252.6 188.7L255.2 190.1Z" fill="#b2b82e" opacity="0.7"/><path d="M22.7 43.9L20.6 47L23.8 47.8L20.8 48.3L21.9 51L19.7 49L18.3 51.4L18.3 48.7L15.5 49.1L18 47.4L15 45L18.7 46.5L18.8 43.8L19.8 46.2Z" fill="#a0a25a" opacity="0.7"/><path d="M107.3 77.3L102 77.5L102.2 81.5L99.7 78.3L95.9 81L97.9 76.7L94.2 74.9L98.2 74.3L98 69.7L100.6 73.6L105 70.3L102.3 75.2Z" fill="#b2b82e" opacity="0.8"/><path d="M78.5 125.4L74.3 121.7L70.9 126.5L71.9 120.8L67 120.1L71.7 118.3L69.5 113.2L73.7 117.2L77.3 111.5L76.3 117.6L81.8 118.4L76.2 120.2Z" fill="#bcc032" opacity="0.9"/><path d="M95.4 156.2L97.7 158.3L100.3 155.1L99.4 158.8L102.7 159.6L99.1 160.5L101.1 165.1L97.9 161.3L95.4 164.5L96.4 160.8L91.6 160.2L96.4 159.1Z" fill="#d4d63c" opacity="0.6"/><path d="M45.2 147.4L41.2 145L39.2 149.2L39.2 144.6L35.6 144.6L39.1 142.8L36.3 139.1L40.1 141.5L41.7 138.1L41.8 141.8L45.3 141.7L42.2 143.5Z" fill="#e0e048" opacity="0.8"/><path d="M228 157.5L226.7 162.4L230.3 162.9L226.5 164.5L230.3 169.1L225.3 165.9L224.1 171.9L223.4 166L219.6 167.5L222.2 164.3L218.3 162.2L222.9 162.5L222.2 158.4L224.6 162Z" fill="#b2b82e" opacity="0.8"/><path d="M210.9 178.5L214.6 182.3L220.7 178.7L216.9 184.6L220.5 188.4L215.1 187L212.5 194.4L212.1 186.9L206.8 186L211.6 183.7Z" fill="#a0a42c" opacity="0.7"/><path d="M235.1 220.2L228.8 221.5L231.8 227.1L226.7 222.4L224.9 226.7L225 222L218.8 224L223.9 220.4L220 217.4L224.9 218.7L224.4 212.5L226.8 217.6L231.7 213.4L228.5 219.2Z" fill="#e0e048" opacity="0.7"/><path d="M123.8 77.7L122.6 80.3L125.9 81.4L122.4 81.7L123.3 85.6L121.2 82.4L118.8 84.2L120.1 81.4L116.5 80.2L120.2 80L119.5 76.5L121.5 79.5Z" fill="#c4ca38" opacity="0.6"/><path d="M19.3 76.4L17.2 79.4L20.2 82.6L16.2 81.4L14.2 84.4L14.1 80.7L9.5 79.9L14.2 78.7L13.5 74.4L15.9 78Z" fill="#d4d63c" opacity="0.5"/><path d="M29 224.9L33.1 220.4L29.8 216.5L34.5 218.2L37.1 214.7L36.9 219.2L43.5 220.4L36.9 221.6L37.7 227.8L34.7 222.2Z" fill="#9a9c30" opacity="0.8"/><path d="M184.3 140.2L183.8 143.9L186.6 143.4L184.6 145L187.5 147.4L183.8 146.2L183.7 149.4L182.5 146.3L179.8 148.4L181.5 145.5L177.9 144.6L181.6 144.2L180.3 141.2L182.7 143.5Z" fill="#e0e048" opacity="0.5"/><path d="M115.5 244.6L115 241.5L110.7 242.8L114 240.2L111.3 237.2L115.2 239L116.1 235.9L116.6 239.1L121.1 237.8L117.2 240.5L120 243.3L116.5 241.8Z" fill="#b2b82e" opacity="0.9"/><path d="M100.4 123.9L104.8 125.2L106.2 121L106.9 125.8L110.9 124.8L108.1 127.5L111.1 130.8L106.7 129.1L105.6 133.1L104.6 129.4L100.3 130.2L103.4 127.3Z" fill="#bcc032" opacity="0.8"/><path d="M80.3 107.1L84.2 100.8L77.9 96.8L85 98.4L86.9 92.7L87.8 98.6L93.5 98.7L88.6 101.4L89.9 106.5L86 103.1Z" fill="#e0e048" opacity="0.9"/><path d="M161.6 100.1L163.8 104.8L168.3 101.7L165.1 106.2L169.7 108.4L164.5 107.9L165.1 113.7L162.7 108.7L159 110.9L161.5 107.1L157.7 105.1L162 105.3Z" fill="#c4ca38" opacity="0.6"/><path d="M28.4 65.8L32.3 60.4L28.1 56.1L33.9 58L36.3 54.2L36.7 58.6L42.4 59.5L36.6 61.2L37.6 66.6L34.4 62.3Z" fill="#c4ca38" opacity="0.6"/><path d="M18.8 127.8L19.2 123.3L14.2 122.7L19.2 120.8L17 116.2L20.9 119.1L24.3 114.1L23 120.4L27.9 120.8L23.5 122.6L26.4 128.2L21.6 124.2Z" fill="#e0e048" opacity="0.6"/><path d="M36.1 188.7L37.5 185.5L34.1 184.6L37.7 183.8L36.1 180.6L38.9 182.6L40.5 178.9L40.6 182.9L44.3 182.1L41.5 184.5L44.4 186.9L40.6 186.1L40.9 191.2L38.9 186.7Z" fill="#e0e048" opacity="0.7"/><path d="M56.5 177L57.9 174.2L55.1 171.7L58.7 172.3L60.2 168.6L60.8 172.6L63.4 173.2L61.1 174.6L61.6 177.7L59.3 175.4Z" fill="#a0a42c" opacity="0.5"/><path d="M162.5 90.6L167.7 91.2L169.6 85.9L170.8 91.1L178.2 91.1L171.5 94.4L173.9 101.4L168.7 95.8L164.2 98.8L166.1 93.9Z" fill="#bcc032" opacity="0.5"/><path d="M90.3 124.8L88.9 128.6L94.5 130L88.7 130.5L89.8 135.1L86.9 131.4L83.7 134.3L84.9 130.4L79.5 128.8L85.4 128.2L84.1 123L87.3 127.6Z" fill="#c4ca38" opacity="0.9"/><path d="M157.1 235.4L155 239.9L160.8 240.7L155.3 242L157.6 246.5L153.6 243.4L151.5 248.2L151.7 242.7L147.8 243.6L150.6 241L147.2 238.4L151.7 239.5L151.1 234.1L153.3 238.9Z" fill="#a0a25a" opacity="0.5"/><path d="M39.4 54.7L42.4 59.2L46.3 55.6L44.4 60.2L49.5 62L43.8 62.3L44.7 66.7L42 63.2L38.9 65.7L40.1 62.1L34.7 60.3L40.7 60Z" fill="#a0a25a" opacity="0.6"/><path d="M150 194.9L147.8 198.7L152.2 200.7L147.4 200.6L148 205.8L145.5 201.4L142 203.6L144.1 199.9L141.1 198.2L144.4 197.8L144.2 193.4L146.3 197.8Z" fill="#c4ca38" opacity="0.8"/><path d="M60.2 219.2L57 218.8L58.2 223.1L55.9 219.7L53.3 222.9L54.8 218.8L51.5 218.7L54.7 217.6L52.7 215L55.4 216.6L56.3 213.2L56.7 216.7L60.3 214.9L57.8 217.7Z" fill="#e0e048" opacity="0.8"/><path d="M176.8 240.1L170.7 237.6L170.2 242.8L168.4 238.1L163.2 241.5L166.7 236.3L161.9 234.6L167.5 234.2L165.4 229.1L169.1 232.7L172.3 227L171.1 233.7L177.5 232.6L171.7 235.7Z" fill="#d4d63c" opacity="0.8"/><path d="M210.2 183.8L212.3 187.4L216.6 185.1L213.5 189.4L219.3 192L213 191.3L213.2 196.4L211.1 191.6L206.5 194.7L209.4 190.3L204.1 187.6L209.8 187.9Z" fill="#9a9c30" opacity="0.8"/><path d="M82.5 156.6L83.7 152L79.6 149.8L84.3 149.6L85.1 145.9L86.6 149.4L90.1 149.1L87.8 151.5L88.9 154.7L85.8 152.7Z" fill="#9a9c30" opacity="0.5"/><path d="M255.5 130.5L254.8 134L259 134.3L255.1 135.5L256.9 139.3L253.8 136.4L251.8 139L252.3 135.9L248.9 135.4L252.5 134.4L251.2 131.5L253.4 133.1Z" fill="#c4ca38" opacity="0.6"/><path d="M176.3 186.5L172.8 191.9L176.4 195.5L171.2 194.1L168.8 200.1L168.4 193.9L163.9 193L168.2 191L167.5 186.2L170.7 190.3Z" fill="#a0a25a" opacity="0.6"/><path d="M135.1 20.1L137.2 14.2L130.5 13L137.5 12L135 5.5L139.3 10.2L143.3 6.1L141.5 11.7L148.4 13.1L141.1 14.1L142.6 18.9L139.2 15.5Z" fill="#a0a25a" opacity="0.8"/><path d="M199 56.4L198.7 60.1L202.7 59.5L199.5 61.7L202.3 64.4L198.4 63.1L198.2 67.2L196.9 63.1L192.8 66.4L195.8 62.2L192.4 61.1L195.9 60.7L193.9 56.4L197.1 59.5Z" fill="#a0a42c" opacity="0.9"/><path d="M67.1 139.1L71.9 140.7L73.1 136.6L74 141L78.2 139.8L75.3 142.7L78.2 145.8L74.1 144.7L72.8 149L71.9 144.5L68.3 145.2L70.9 142.6Z" fill="#b2b82e" opacity="0.5"/><path d="M211.6 53.8L210 48.8L204.5 49.2L209.3 46.2L207.2 41.3L211.4 44.5L215.5 40.9L213.4 46.1L218.4 48.9L213.2 49.1Z" fill="#c4ca38" opacity="0.7"/><path d="M122.1 90.2L119.1 92.7L122.5 95.2L118.3 94.3L118.3 98L116.7 94.4L113 98L115.5 93.5L110.1 92.9L115 91.8L113.4 88.4L116.5 90.8L118.3 86.7L118 91.4Z" fill="#e0e048" opacity="0.5"/><path d="M34.6 211.1L30.3 216.7L35.3 221.8L28.4 218.9L25.9 223.3L25.9 218.3L20.7 217.2L25.2 215.3L25.1 210.3L28.3 214.1Z" fill="#e0e048" opacity="0.5"/><path d="M143.1 137.5L146.2 137.4L145.2 133.3L147.7 136.7L150.4 133.2L148.9 137.7L152.9 137.5L149.1 138.9L152.2 142.3L148.4 140.3L147.6 143.5L147 140L143.6 141.8L145.8 139Z" fill="#bcc032" opacity="0.7"/><path d="M169.4 98.6L165.2 103.4L170.9 105.3L165.1 105.3L167.4 111.5L163.4 106.6L159.8 112.3L161.3 105.8L154.9 106.4L161 103.6L157.4 99.8L162.2 102L162.9 96.7L164.2 101.9Z" fill="#b2b82e" opacity="0.6"/><path d="M213.9 112.8L216.7 112.5L215.6 109.8L217.6 111.9L219.2 109.1L219 112L222.5 111.5L219.5 113.4L221.3 115.4L218.6 114.4L218.4 117.5L217.4 114.6L215.2 116L216.4 113.7Z" fill="#9a9c30" opacity="0.8"/><path d="M187 76.5L188.1 70L183.2 69.7L188 67.8L185.5 63.3L189.4 66L191.9 62.5L191.9 66.7L197 67.1L192.1 69.2L195.4 74.9L190.2 70.4Z" fill="#b2b82e" opacity="0.8"/><path d="M76.2 117.6L80 114.2L76.6 110.6L81.5 112.5L82.7 106.9L83.9 112L88.3 111.1L84.6 114.3L89.6 118.7L83.4 116.1L82.2 122.8L81.3 116.1Z" fill="#d4d63c" opacity="0.8"/><path d="M35 165.7L35.9 160.7L30.3 161.1L35.4 158.6L31.1 154.1L36.8 157.2L37.4 150.6L38.8 156.8L42.9 154.6L40.2 158.4L44.5 160.3L39.6 160.4L41.6 166.2L37.9 161.6Z" fill="#9a9c30" opacity="0.8"/><path d="M98.6 15.8L104.1 18L104.8 13.2L106.3 18L111.4 14.4L108.2 19.3L113.6 21.2L108 21.8L109.2 26.3L105.7 22.4L102.9 27.3L103.5 22.1L97.9 22.8L103.2 19.9Z" fill="#b2b82e" opacity="0.6"/><path d="M34.9 131.1L31.7 133.5L34.7 135.6L31.2 134.9L31.7 139.7L29.8 135.2L26.4 138.5L28.8 134.3L23.7 133.7L28.4 132.8L26.3 129L29.7 131.9L31.2 128.3L31.1 132.3Z" fill="#b2b82e" opacity="0.8"/><path d="M176 224.7L173.8 223.2L172.7 226.1L172.5 223L169.7 223.8L171.8 221.9L168.5 219.7L172.6 220.9L172.1 217.3L173.6 220.5L176.4 217.7L174.7 221.1L177.3 221.6L174.8 222.4Z" fill="#9a9c30" opacity="0.6"/><path d="M161.5 13.3L158.7 13.2L159.1 16.2L157.4 13.4L154.9 16.4L156.1 13L152.6 12.7L156.3 11.6L154.4 9.2L156.9 10.5L157.8 7.8L158.1 10.9L160.8 9.8L158.7 11.8Z" fill="#a0a42c" opacity="0.7"/><path d="M266.9 113L268 116.4L271.4 115L269.2 117.7L271.7 119.9L268.1 119L267.8 123.1L266.6 119.4L263 121L265.7 118L263 115.9L266.3 116.4Z" fill="#d4d63c" opacity="0.8"/><path d="M98.1 104.9L94.1 99.7L89.3 101.9L92.1 97.4L87.7 93L93.6 94.6L96.2 90.6L96.4 95.6L101.4 96.5L96.7 98.3Z" fill="#e0e048" opacity="0.6"/><path d="M78 115.7L76.2 118.7L80.1 120.2L75.9 120L76.1 123L74.6 120.5L71.6 122.7L73.6 119.5L70.8 118.2L74 118.2L73.5 114.6L75.2 117.7Z" fill="#a0a42c" opacity="0.8"/><path d="M156.1 10.7L154.2 13.9L157.3 15.3L154 15.5L154.2 18.5L152.5 15.7L149.1 18.5L151.1 14.9L147.9 13.4L151.5 13.3L151.5 10.6L153.1 12.8Z" fill="#9a9c30" opacity="0.7"/><path d="M127 131L122.7 134.6L124.4 139.1L120.2 136.3L116.3 139.9L118.1 134.7L113.6 132.4L118.6 132.3L119.4 127.2L121.4 131.6Z" fill="#b2b82e" opacity="0.8"/><path d="M245.7 98.5L243 95.4L238.8 96.6L241.4 92.9L238.1 89L242.9 90.5L245.9 85.8L245.7 91.4L251.6 92.8L245.5 94.2Z" fill="#d4d63c" opacity="0.5"/><path d="M55.4 170.6L50.2 171.2L49.3 175.7L47.4 171.5L41.7 172.6L46.3 168.9L43.3 163.8L48.1 166.6L52.7 161.7L50.6 168.3Z" fill="#bcc032" opacity="0.6"/><path d="M108.9 93.8L104.5 95.3L105.9 98.8L102.9 96.3L100.1 100.3L101 95.7L97.2 95L101 93.7L99.7 90.3L102.5 92.5L104.7 89.8L104.3 93.3Z" fill="#a0a42c" opacity="0.5"/><path d="M199.4 86.4L196.6 83.2L192.1 85.4L195.1 81.2L191.7 77.9L196.2 79L198.8 73.1L198.9 79.4L204 80.3L198.9 82.1Z" fill="#9a9c30" opacity="0.8"/><path d="M195.3 33.5L190 34.1L191.3 39L188.2 34.9L184.8 38.3L186.6 33.8L181.2 32.4L186.7 31.8L185.5 26.9L188.5 31.3L191.5 28.4L190 32.2Z" fill="#a0a25a" opacity="0.8"/><path d="M222.4 146.1L226.8 144L224.1 141.1L227.8 142.9L228.3 138.4L229.3 142.8L232.6 140.7L230.3 143.9L234.3 145.3L230.4 145.6L231.6 149.6L228.7 146.1L226.4 149.8L227.2 145.6Z" fill="#c4ca38" opacity="0.7"/><path d="M263.7 110L260.5 107.4L257.6 112.3L258.9 106.7L254.1 106.5L258.7 105L256.7 101L260 103.9L262.5 100.1L261.8 104.5L267.1 104.7L262.5 106.5Z" fill="#d4d63c" opacity="0.5"/><path d="M180.6 142.9L184.2 146.8L186.3 143.4L185.6 147.7L189.5 147L186.4 149L189.2 151.7L185.6 150.6L185.2 154.1L183.9 150.7L179.6 153.9L182.4 149.6L178.1 148.2L182.7 147.8Z" fill="#e0e048" opacity="0.6"/><path d="M68.5 50.8L64.9 52.4L65.2 55.3L63.1 53.2L59.8 55.1L61.8 51.8L58.6 49L62.8 50.3L64.1 47.5L64.5 50.5Z" fill="#d4d63c" opacity="0.9"/><path d="M30.4 92.2L34.8 87.9L29.1 85.3L34.9 85.6L34.3 80.9L37.2 85.3L40.4 81.4L39.1 86.1L45.5 86.1L39.8 88.4L43.2 93.1L38.1 90.1L36.5 96.6L35.7 90Z" fill="#9a9c30" opacity="0.5"/><path d="M105.3 141.5L107 143.8L109.1 141.6L108.1 144.7L112.2 144.7L108.1 145.9L111 149.3L107.4 146.9L106.6 149.6L106.2 146.8L103.5 147.9L105.5 145.8L102.3 144.2L105.7 144.5Z" fill="#d4d63c" opacity="0.8"/><path d="M36 176L32.2 173.6L30.5 176.9L30.3 173.4L26.5 173.5L29.9 171.5L27.3 167.9L31 169.8L33 165.9L33 170.5L37 170.3L33.5 172.4Z" fill="#9a9c30" opacity="0.6"/><path d="M18.3 139.7L15.5 137L12.4 141.1L13.4 135.9L7.5 136.3L12.8 133.7L10.3 130.5L14.4 132.3L15.1 127.3L16.4 131.8L21.4 129.1L17.4 133.7L21.6 135.4L17.4 135.7Z" fill="#d4d63c" opacity="0.5"/><path d="M1.7 106.7L2.8 104.1L-0.2 102.6L3.2 102.4L2.9 98.5L4.9 102.2L7.9 99.8L6.1 103L10.4 104.8L5.7 104.5L6.1 108.3L4.2 105.1Z" fill="#a0a42c" opacity="0.7"/><path d="M205.8 157.4L201.3 156.8L200.8 161L199.2 156.8L194.7 159L197.8 155.3L194.6 152.8L198.7 153.4L199.1 148.2L200.8 153.1L204.4 151.6L202.3 154.7Z" fill="#bcc032" opacity="0.7"/><path d="M179.5 167.7L183.2 164.6L179.5 160.4L184.6 162.5L186.4 157.7L187 163L193.7 161.2L188.4 165.1L192.4 169.6L186.7 167.2L184.9 172.6L184.3 166.9Z" fill="#bcc032" opacity="0.8"/><path d="M138 184.6L141.5 183.6L139.8 180.2L142.5 182.7L144.6 179.6L143.7 183.3L147.9 183.5L144 184.7L145.7 188.3L142.8 185.6L140.9 188L141.4 185Z" fill="#9a9c30" opacity="0.6"/><path d="M7.1 67.2L13 68.5L13.7 63.5L15.4 68.3L20.9 65.6L16.4 70.2L20.9 73.2L15.7 72L15.4 77.8L13.7 72.2L8.8 74.6L12.5 70.7Z" fill="#bcc032" opacity="0.7"/><path d="M140.5 236.5L138 231.6L133.5 234.8L136.2 230.2L130.6 227.6L136.9 227.9L136.4 221.9L139.2 226.8L143.6 224.3L141.2 228.8L146.9 231.7L140.6 231.6Z" fill="#d4d63c" opacity="0.7"/><path d="M226.6 44.6L227 48.4L232.3 47.6L227.5 50.3L230.7 54.2L226.4 52.1L224.7 55.6L224.3 51.6L220.6 51.8L223.9 49.7L221.5 46.5L224.9 47.9Z" fill="#a0a25a" opacity="0.6"/><path d="M41.1 95.3L37.6 97.4L41.2 101.9L36.3 98.9L34.4 103.2L34.2 98.7L28.4 99.3L33.7 96.6L30.4 92.2L35.1 95.1L37.1 90.6L37.2 95.4Z" fill="#a0a25a" opacity="0.6"/><path d="M8.2 181.1L12.9 180.9L13.8 176.7L15.3 180.8L19.2 180.5L15.9 182.9L18 186.9L14.4 184L11.2 187.6L12.4 183.3Z" fill="#a0a25a" opacity="0.9"/><path d="M116 206.8L120.9 207.4L122.2 201.8L123.1 207.5L127.2 207.4L123.7 209.6L126 214.8L121.9 211L118.4 213.5L120.3 209.4Z" fill="#b2b82e" opacity="0.5"/><path d="M126.7 91L122.4 89.1L120.7 93.1L120.4 88.6L114.6 89.9L119.5 86.8L116.8 83.3L120.7 84.8L122.7 79.2L123 85.2L128.4 84.3L123.6 87.4Z" fill="#c4ca38" opacity="0.8"/><path d="M149.6 65.8L146.2 63.5L143.1 66L144.4 62.1L139.9 59.9L144.8 60L145.6 54.5L147.3 59.5L152 59.2L148.1 62Z" fill="#e0e048" opacity="0.7"/><path d="M171.1 32.3L172 26.8L167.2 25.7L172.2 24.9L171.8 20.5L174 24.3L177.8 22.8L175.2 25.9L178 29.4L174 27.8Z" fill="#a0a42c" opacity="0.5"/><path d="M18.3 216.7L17.8 210.7L11.3 212.7L16.2 208.8L11.9 204.3L17.8 206.7L19.4 202.6L20.3 207L25.7 205.7L21.5 209.2L24.9 213.1L20 211.4Z" fill="#9a9c30" opacity="0.7"/><path d="M72.3 228.5L66.8 228.5L68.7 233.3L65.5 229.5L62.9 233.9L63.7 229.1L58.9 229.6L63.3 227.2L59.9 223.9L64.4 226L64.8 220.4L66 225.8L69.6 223.5L67.2 227Z" fill="#9a9c30" opacity="0.7"/><path d="M95.1 225.1L94.7 219.6L91 219.6L93.7 217.7L92.6 213.4L95.8 216.6L99.8 213.7L97.3 218.1L101.6 221L96.5 219.9Z" fill="#a0a25a" opacity="0.6"/><path d="M-0.9 169.6L2 168.3L-0.1 164.9L3.1 167.4L4.8 164.1L4.5 167.7L8.8 167.5L4.8 169.2L6.7 172.4L3.7 170.4L2 173L2.2 169.8Z" fill="#d4d63c" opacity="0.6"/><path d="M243 79.8L245.9 77.1L243.2 74.2L246.8 75L248.3 69.7L248.9 75.7L254.3 73.9L250.4 77.3L253.9 81L249 79.2L247.6 83.9L246.8 79Z" fill="#bcc032" opacity="0.6"/><path d="M163.1 103.5L160.3 105.8L163.4 108.4L159.8 107.1L158.9 109.8L158.4 106.7L155.5 107.6L157.5 105.7L155.5 103.5L158.4 104.5L159.1 102L159.9 104.3Z" fill="#a0a42c" opacity="0.8"/><path d="M6.4 154.5L3.5 151.6L1.3 154.9L2.1 150.7L-3.2 151.7L1.2 149.2L-1.7 146.2L2.3 147.8L2.8 144.3L4 147.6L8.1 144.8L4.9 149L9.4 150.3L5.1 150.7Z" fill="#a0a25a" opacity="0.6"/><path d="M162 148.8L159 145.5L156.1 148.2L157.7 144.1L152.9 143.1L157.6 142.4L156.9 139.2L159.2 141.3L161.8 139.2L160.9 142.5L164.1 143.6L160.6 144.3Z" fill="#c4ca38" opacity="0.6"/><path d="M196.9 80.7L201.2 81L201 77L202.8 80.9L205.7 78.9L204 81.8L208.1 83.8L203.5 83.3L203.7 87.3L202 83.7L199.2 85.4L200.9 82.6Z" fill="#a0a42c" opacity="0.6"/><path d="M216.2 229.7L214.6 234L218 236L214.1 236L213.2 239.2L212 236.2L207.3 236.8L211.3 234.2L209.5 230.3L212.9 232.8Z" fill="#b2b82e" opacity="0.5"/><path d="M221.5 62.7L216.6 64.5L218.7 69.2L214.7 65.7L212 69.4L212.8 64.9L207 64.6L212.3 62.8L209.7 57.6L214.1 61.4L217.3 56.5L216.1 62.3Z" fill="#c4ca38" opacity="0.8"/><path d="M53.9 173.4L52.8 170.2L50 171.9L52.1 169L48.3 167.8L52.1 167.7L50.8 164.1L53.3 167L55 164.2L54.4 167.6L57.9 167.1L55 168.7L57.8 171.4L54.2 169.8Z" fill="#9a9c30" opacity="0.5"/><path d="M128.9 192.1L127 190L124.4 191.9L126 188.7L123 187.6L126 187.2L125.5 183.8L127.5 186.7L130.4 184.2L128.5 187.7L131.8 188.8L128.6 189.3Z" fill="#bcc032" opacity="0.6"/><path d="M214 120.2L216.9 122.9L218.5 119.2L218 123.3L222.6 122L218.7 124.4L221.5 126.7L218.1 125.7L218.3 130.1L216.7 126.2L213.9 128.2L215.7 125L211.8 124.2L215.7 123.6Z" fill="#a0a25a" opacity="0.5"/><path d="M262.5 166.6L257.4 166.6L259.1 171.8L255.7 167.5L251.9 173.9L253.7 166.9L247.6 167.4L253.1 164.8L248.7 160.2L254.5 163.2L255.3 157L256.8 162.6L261.5 160.2L257.7 164.7Z" fill="#b2b82e" opacity="0.7"/><path d="M75.6 193.8L78.4 190.4L76.5 187L80.2 188.3L83.6 183.7L82.8 189.4L87.6 191.2L82.3 192L82.3 196.9L80 192.4Z" fill="#9a9c30" opacity="0.8"/><path d="M70.3 50.2L73.9 47.9L69.7 43.3L75.7 46.5L76.4 39.4L77.9 45.8L82.4 43.6L79.3 47.8L83.2 49.7L78.7 49.9L80.1 54.8L76.9 51.4L73.3 56.4L75 50Z" fill="#b2b82e" opacity="0.5"/><path d="M188.6 166.4L191.9 163.9L189.3 160.5L193.4 162.6L194.9 158.7L195.2 162.7L198.8 162.4L195.7 164.5L198.2 167.6L194.6 165.9L193.2 169.3L192.8 165.8Z" fill="#bcc032" opacity="0.6"/><path d="M79.2 143.3L81.9 144.7L83.5 142L83.5 145.2L86.6 145.2L83.7 146.7L85.7 149.7L82.7 147.9L80.9 151.8L81.4 147.3L78.5 147.4L81.1 146.1Z" fill="#b2b82e" opacity="0.8"/><path d="M108.4 50L111.4 48.3L110 44.3L113 47.1L115.7 45.6L114.4 48.6L116.7 50.6L113.6 50.2L112.5 53.9L111.9 50Z" fill="#a0a42c" opacity="0.8"/><path d="M186.6 127.8L185.9 132.7L192.3 132.9L186.4 135L189.7 141.3L184.4 136.5L181.6 140.3L181.9 135.8L176.4 135.2L181.7 133.1L179.7 128.5L183.7 131.2Z" fill="#a0a25a" opacity="0.6"/><path d="M36.1 113.6L35.3 109.8L32.1 110.5L34.3 108.2L32 105.6L35.5 106.8L36.5 102.2L37.1 107L40 106.3L37.8 108.3L40 110.7L36.9 109.5Z" fill="#a0a42c" opacity="0.7"/><path d="M110.7 114.6L106.6 117.2L110.2 120.1L106 118.9L105.7 122.7L104.3 118.9L100.2 122.4L102.7 118L98.1 116.9L102.8 116.1L100.5 111.3L104.4 115.2L106.2 111.9L106.1 115.6Z" fill="#e0e048" opacity="0.7"/><path d="M116.4 144.2L113.3 140.4L110.3 144L112 139.5L108.9 138.7L112.1 138L110.6 133.9L113.4 136.8L116.2 133.9L114.7 138L119.2 138.8L114.8 139.6Z" fill="#a0a25a" opacity="0.5"/><path d="M104 145.6L103.1 149.3L105.4 149.9L102.9 150.7L104.7 154.3L101.9 151.4L100.2 153.6L100.8 150.9L98 150.5L100.3 149.5L99.4 146.7L101.7 148.9Z" fill="#a0a25a" opacity="0.8"/><path d="M230.1 167.9L233.5 172.8L236.1 169.2L235 173.6L240 173.1L235.9 175.2L240 179.7L234.6 176.8L233.7 182.4L232.5 177.1L228.6 178.9L231.3 175.3L225.7 173.1L231.9 173.5Z" fill="#a0a42c" opacity="0.6"/><path d="M212.1 89.5L216 85L212.1 80.3L217.8 83L221 77.9L220.7 83.5L225.6 85.2L220.4 86.5L221 93.2L217.6 87.6Z" fill="#b2b82e" opacity="0.5"/><path d="M32.7 94L28.7 95.8L30.9 100.9L26.6 97L23.3 101.5L24.5 96L17.9 95.6L24.4 93.8L21.8 88.5L26.1 92.7L29.2 88.3L28.3 93.2Z" fill="#c4ca38" opacity="0.8"/><path d="M8.3 102.6L10.5 105.7L14 103.2L11.8 107.2L15.2 108.7L11.4 108.8L12.1 113.4L9.7 109.6L5.6 112.9L8.4 108.3L4.1 106.6L8.5 106.3Z" fill="#b2b82e" opacity="0.8"/><path d="M229.3 184.2L225.6 181.7L224.7 184.7L224.1 181.9L220.9 183.2L223.2 180.6L219.5 178.7L223.9 179.3L223 175.3L225.1 178.4L227.4 176L226.2 179.4L229.9 179.5L226.9 180.8Z" fill="#b2b82e" opacity="0.8"/><path d="M20.3 53.5L16.9 54.2L18.2 57.2L15.7 55.3L14.2 58.1L14.3 54.7L11 55.5L13.7 53.4L10.9 51.3L14.2 52L14.1 47.8L15.6 52L18.4 49.6L17.1 52.6Z" fill="#bcc032" opacity="0.6"/><path d="M124.3 271.2L123.1 267L119.4 268.4L122.5 265.5L119.6 263.3L123 264L123.5 259.9L124.7 263.7L128 262.6L125.7 265.2L129 267.8L124.8 266.7Z" fill="#a0a25a" opacity="0.6"/><path d="M67.8 209.4L64.2 205.9L62.1 210.5L62.6 205.3L57.2 206.9L61.6 203.9L58.8 201.3L62.7 202.5L62.8 198.6L64.4 201.9L68.2 198.8L65.5 203.2L70.2 204.2L65.5 204.9Z" fill="#e0e048" opacity="0.7"/><path d="M161.9 200L158.4 199.3L156.6 203L156.7 198.6L153.3 198.2L156.3 196.9L155.9 194L157.9 196.2L161.3 194.3L159.1 197.5Z" fill="#bcc032" opacity="0.9"/><path d="M241.7 161L241.5 164.1L245 163.4L241.7 165.3L245.1 167.9L241.2 166.3L241.3 170.3L240 166.8L237.7 168.4L238.9 165.9L235.3 165L239.2 164.6L237.4 160.9L240.2 163.9Z" fill="#a0a42c" opacity="0.8"/><path d="M22.4 59.3L20.9 56.6L18.2 58.1L19.8 55.5L16.4 53.7L20.3 54.1L20.2 50.8L21.7 53.7L24.3 52.2L22.8 54.7L25.7 56.3L22.2 56Z" fill="#a0a42c" opacity="0.6"/><path d="M89.7 171.1L91.9 167L86.9 164.2L92.7 164.4L92.2 157L95.3 163.9L100.8 160.2L96.9 165.7L103.8 168.8L96.8 168.5L96.6 173.9L93.8 169.2Z" fill="#a0a42c" opacity="0.7"/><path d="M172.2 169.5L170.4 164.9L166 166.8L169.5 162.9L165.6 160.3L170.1 161.2L170.4 156.5L172.1 160.5L176.9 158.3L173.4 162.4L176.5 164.8L172.6 164.4Z" fill="#a0a25a" opacity="0.5"/><path d="M4.4 117.1L7.7 117.9L7.5 114.5L9 117.1L12.6 113.9L10.4 118.1L14.1 118.9L10.4 119.8L12.4 123.4L9 120.5L7.7 123.7L7.5 120.6L3.6 121.6L6.8 119.1Z" fill="#e0e048" opacity="0.5"/><path d="M205.5 87.8L206.6 90.5L209.7 89.6L207.4 92.1L210.1 94.4L206.6 93.4L206.1 96.6L205.2 93.5L201.5 95.2L204.3 92.3L200.9 89.8L204.8 90.8Z" fill="#e0e048" opacity="0.6"/><path d="M141 173.7L138.4 178.1L145 180.9L138.1 180.5L138.5 186.6L135.5 181.6L130.3 184.9L134.1 179.3L127.5 176.6L134.5 177.1L133.7 170.1L136.8 176.1Z" fill="#a0a25a" opacity="0.9"/><path d="M147.1 166.2L145.7 162.4L142.8 163.5L144.8 161L141.1 158.6L145.6 159.7L145.7 155L147 159.2L150 158L148.3 160.6L150.8 162.7L147.4 162.2Z" fill="#a0a25a" opacity="0.8"/><path d="M91.1 200.5L96.2 201.5L97 194.8L98.6 201.7L103.1 199.9L100.1 203.4L104.8 207.1L99.2 205.8L98.2 211.1L96.5 206.1L90.4 208.6L94.9 203.8Z" fill="#bcc032" opacity="0.8"/><path d="M178.4 105.3L180.9 112.3L185.7 109.4L183 113.7L188.9 117.1L181.8 115.9L182.1 122.7L179.6 116.3L173.7 120.2L177.9 114.8L173.6 112.1L178.8 112.7Z" fill="#d4d63c" opacity="0.9"/><path d="M92.2 245.1L94.1 241.5L90.9 239.1L94.6 239.4L96.1 236.1L96.9 239.7L100.6 240L97 241.7L98.5 245.8L95.5 243.1Z" fill="#bcc032" opacity="0.5"/><path d="M42.2 121.2L43.9 125.9L48.5 122.4L45.7 127.1L49.2 128.5L45.1 129.2L47.1 133.7L43.6 130.1L41.2 134.9L41.8 129.7L36 131L41.1 128L36.3 124.1L41.8 126Z" fill="#bcc032" opacity="0.6"/><path d="M76.9 232.7L75.5 238L79.6 238.2L75.8 240.1L79.1 244L74.5 241.6L73.5 245.6L72.6 241.4L68.2 243.7L71.4 240L66 237.7L71.5 237.9L70.6 233.2L73.6 237.5Z" fill="#a0a25a" opacity="0.7"/><path d="M49.1 142.9L48.2 146.6L53.6 146.2L48.7 148.2L51.4 151.5L47.6 149.5L46.8 153.8L46 149.3L42.3 151.4L44.6 148.3L40.1 146.4L45.4 146.8L43.9 142L46.7 145.6Z" fill="#d4d63c" opacity="0.8"/><path d="M267 164.4L262.6 166.5L265.6 170.3L261.3 168.3L260.2 172.8L259 168.4L253.5 171.5L258.1 166.5L252.4 164.3L258.6 164.8L257.4 160.5L260.2 164L263.3 159.3L262.3 164.3Z" fill="#b2b82e" opacity="0.8"/><path d="M200.7 57.4L205 58.4L207.3 53L207.2 59L212.2 59.6L207.5 61.2L208.9 66.9L205.5 62.1L200.3 65.4L203.7 60.5Z" fill="#b2b82e" opacity="0.6"/><path d="M236.7 219.7L230 218L229.1 223.3L227.5 218L222.1 220.3L226.2 216L222.2 212.9L227.1 213.8L227.9 208.6L229.7 213.3L235 211.4L231 215.6Z" fill="#a0a42c" opacity="0.7"/><path d="M244.7 203.6L247.6 207.3L252.8 204.9L249.1 209.5L252.3 213.1L247.9 212L245 217L245.4 210.9L240 210L245.2 208.4Z" fill="#bcc032" opacity="0.7"/><path d="M152.6 143L154.3 148.5L160.2 147.3L155.3 150.8L156.9 154.4L153.5 152.5L149.6 156.6L151.3 151.2L146.4 148.8L151.8 148.6Z" fill="#bcc032" opacity="0.7"/><path d="M207.2 218.8L205.6 222L208.5 224.7L204.5 223.8L202.9 227.3L202.4 223.6L199.1 223L202.3 221.5L200.9 216.7L204 220.4Z" fill="#b2b82e" opacity="0.6"/><path d="M267.1 102.6L263.1 98.7L260.9 104.1L261.3 98.4L255.3 100.1L260.8 96.7L256.3 93.5L261.6 95.2L261.3 89.6L263.2 95L266.9 91.8L264.8 95.8L269.3 96.9L264.5 97.6Z" fill="#d4d63c" opacity="0.9"/><path d="M113.7 141.8L109.9 144.6L112.8 147.8L108.9 146.3L107.4 150.7L106.9 145.9L102.2 147L106.1 144.2L102.3 140.3L107.3 142.8L108.7 137.8L109 143Z" fill="#bcc032" opacity="0.8"/><path d="M42.7 193.9L46.5 190.1L43.1 187.8L47.1 188.7L47.3 183.6L48.7 188.3L52.7 186.5L49.8 189.8L52.8 192.1L48.9 191.2L48.6 195.4L47.3 191.5Z" fill="#a0a25a" opacity="0.7"/><path d="M267 99.9L267 94.5L263.2 94.7L266.2 92.5L262.7 87.9L267.7 91L269.6 86.7L269.8 91.3L275.7 90.5L270.5 93.4L273.9 97.8L269.1 95.1Z" fill="#c4ca38" opacity="0.7"/><path d="M98.1 214.8L92.9 217.4L96.5 220.9L91.7 218.7L91.3 223.1L89.9 219.4L85.1 222.4L88.5 217.8L82.6 215.9L89 215.9L86.6 210L90.6 214.7L92.9 211.6L92.4 215.5Z" fill="#b2b82e" opacity="0.6"/><path d="M116 97.5L120.2 94.3L117.4 90.7L121.8 92.7L123.3 87L123.8 92.9L129 91.6L124.9 94.7L127 97.7L123.5 96.6L122.1 99.9L121.5 96Z" fill="#b2b82e" opacity="0.7"/><path d="M270.5 107L266 111.3L270.1 116.7L264.3 113.6L261.1 117L261.7 112.3L255.9 110.3L261.9 109.5L262 103.2L264.5 109.3Z" fill="#a0a42c" opacity="0.9"/><path d="M247.9 187.1L250.7 183.5L245.2 181.4L251.3 181.8L250.2 177.5L252.9 180.5L255.8 176.8L255 181.3L259.8 181.3L254.9 183.4L259.3 187.9L253.8 184.6L253.1 190.1L251.9 185.2Z" fill="#b2b82e" opacity="0.6"/><path d="M202.9 101.5L202.7 98.2L198.6 98.5L202.6 96.5L200.1 93.4L203.4 95.3L204.9 92.4L204.9 95.8L208.1 95.5L205.6 97.2L208.2 100.7L204.4 98.3Z" fill="#bcc032" opacity="0.8"/><path d="M221.7 131.7L221.8 134.9L226.9 134.3L222.3 136.6L224.2 139.7L221 137.8L219.1 142.3L219.3 137.5L215.1 137.8L218.9 135.8L215.9 131.7L220 134.4Z" fill="#b2b82e" opacity="0.6"/><path d="M2.1 149L4.5 152.3L8.4 149.2L6.4 153.5L11.3 155.6L5.8 155.7L6.2 159.8L3.8 156.4L-0.1 159.5L2.5 155L-1.7 153.4L2.5 153Z" fill="#bcc032" opacity="0.8"/><path d="M145.3 131.2L146.7 128.5L143.7 125.8L147.8 127L149.3 123.1L149.7 126.9L153.1 127.5L149.8 129L150.8 133.1L148.1 129.9Z" fill="#bcc032" opacity="0.6"/><path d="M101.7 219L100.1 215.9L96.3 217.3L99.3 213.9L95.9 211.4L99.7 211.9L100.2 206.7L101.9 211.8L106.2 209.8L103 213.4L108 216.6L102.1 215.1Z" fill="#b2b82e" opacity="0.8"/><path d="M44.4 124.4L42.8 130.9L49 130.1L43.8 132.8L48.4 137.4L42.5 134.7L41.6 139.5L40.1 135L35.6 137.4L38.6 133.1L35 131.3L39.2 131L37.3 125.4L41 129.6Z" fill="#bcc032" opacity="0.8"/><path d="M62.3 74.2L59.1 73.3L58.3 76.6L57.4 73.4L53.6 74.7L56.6 71.9L54.3 69.7L57.2 70.3L58.1 66.2L59.1 70.3L62.8 69.1L59.8 71.9Z" fill="#a0a42c" opacity="0.7"/><path d="M240.1 160.7L237.3 163.7L241.4 167.4L235.9 165.4L234.9 170.6L233.8 165.6L229 167.2L233 163.7L230 160.9L234 162.3L234.9 158.2L236 161.7Z" fill="#a0a25a" opacity="0.6"/><path d="M226.2 109L222.6 113.6L227.3 117.2L221.1 115.9L220.8 123L218.8 116L213.3 118.9L217 114.3L212.7 111.1L218.2 112.1L218.7 106.4L220.5 111.9Z" fill="#e0e048" opacity="0.7"/><path d="M143.7 202.5L147.7 208.3L152.2 206.8L149.2 210.9L154.4 216L147.8 213.3L144.4 220L144.9 212.7L138.7 211.4L144.9 209.7Z" fill="#c4ca38" opacity="0.8"/><path d="M234.7 92.1L234.8 96.2L238.3 96.4L234.8 98.2L238 102.4L233.8 99.9L231.9 103L231.9 99.1L227.2 99.4L231.3 97.3L228.8 93.3L232.7 95.6Z" fill="#c4ca38" opacity="0.8"/><path d="M4.1 122.3L7.6 120.8L6.9 115.3L10 120.2L14.8 117.7L11.8 121.9L14.4 125.2L10.2 123.8L7.6 129.1L7.6 123.5Z" fill="#a0a42c" opacity="0.9"/><path d="M74 171.9L74 176.3L79.8 175.5L74.9 178.3L77.8 182.4L73.3 179.7L71.3 184.2L71.2 179.4L65.1 180.2L70.2 177.3L67.1 172.7L72 175.6Z" fill="#c4ca38" opacity="0.7"/><path d="M112.1 16.9L110.7 14.6L107.6 16.6L109.5 13.5L106.2 11.8L110.1 12.2L110 9.2L111.4 11.8L114.5 9.6L112.6 12.6L115.2 14.2L112.3 14.3Z" fill="#a0a42c" opacity="0.6"/><path d="M105 241.6L101.3 239.2L99.8 243.1L99.2 239.4L94.7 240.8L98.6 237.4L93.7 234.7L99.2 235.7L98.3 230.5L100.9 234.7L104.8 230.5L102.7 235.8L108.4 236.3L102.6 237.9Z" fill="#9a9c30" opacity="0.7"/><path d="M52.7 213.9L52.8 218.8L58.4 217.7L53.3 220.5L56.2 224L52.4 222.4L50.6 226.2L50.3 221.8L44.5 222.8L49.3 219.8L46.4 215.9L50.8 218.1Z" fill="#bcc032" opacity="0.7"/><path d="M253.7 89.8L250.2 87.7L248.2 91.9L248.6 87L244 87.6L248.2 85.6L246.2 82.6L249.2 84.4L250.8 81.3L250.7 84.8L254.2 84.6L251.3 86.3Z" fill="#bcc032" opacity="0.6"/><path d="M93 203.5L94.9 208L99.1 206.2L96.1 210L100.6 212.8L95.5 212.1L95 216.2L93.3 212.2L88 215.1L92.1 210.6L88.2 208L92.6 208.5Z" fill="#c4ca38" opacity="0.5"/><path d="M209.3 235.7L208.6 230L204.1 230.9L207.5 228L204.6 224.5L208.9 226.1L210.4 221.6L211.1 226.4L215.4 225.6L212 228.3L215.7 232.2L210.9 230.4Z" fill="#a0a25a" opacity="0.8"/><path d="M193.5 43.5L196.8 43.2L196.9 40.1L198.7 42.9L201.4 41.2L199.7 44.1L204.2 45.8L199.7 45.8L199.9 49.5L197.9 46.5L195.3 47.9L196.8 45.1Z" fill="#e0e048" opacity="0.8"/><path d="M100.5 18.3L104 22.2L106.8 16.8L106 22.5L111.1 21.8L106.9 24.5L110.5 28.1L105.7 26.5L105 30.6L103.6 26.1L99.2 29.4L102.2 24.9L95.6 23.3L102.1 22.9Z" fill="#bcc032" opacity="0.6"/><path d="M87.3 211.2L89 205.9L84.5 204.7L89.2 203.6L87.8 199.2L91 202.7L93.8 199.9L93.2 203.5L97 204.7L92.7 205.7L94.2 210.3L91 206.6Z" fill="#d4d63c" opacity="0.7"/><path d="M172.5 160.9L176.8 164.3L179.7 161.9L178.5 165.7L183.3 168L177.9 167.5L177.2 172L175.9 167.8L171.7 168.2L174.8 165.7Z" fill="#b2b82e" opacity="0.7"/><path d="M110.1 270.2L112.5 267.4L109.8 264.2L113.6 266.1L115.7 262.9L115.2 266.7L118.7 267.6L115.3 268.5L115.2 271.6L113.5 269Z" fill="#9a9c30" opacity="0.7"/><path d="M157.9 25.9L163 27.6L164.4 23.8L165.4 27.9L169.4 27.1L166.4 29.9L169.4 33.1L165.2 31.9L163.8 37.6L163.1 31.5L157.4 33.3L161.6 29.7Z" fill="#d4d63c" opacity="0.8"/><path d="M57.6 179L53.5 175.9L51.6 180.5L51.2 175.8L45.6 177.5L50 173.7L46.4 170.9L50.8 171.3L50.9 166.8L53.3 170.5L57.8 166.5L54.9 172.3L60.8 173.1L55.5 174.7Z" fill="#bcc032" opacity="0.6"/><path d="M132.7 65.2L135.6 61.7L132.9 59.4L136.7 60.1L137 55.8L138.4 59.6L141.5 58.5L139.8 61.1L142.1 63.2L138.7 62.6L138.6 67.6L137 63.1Z" fill="#a0a42c" opacity="0.6"/><path d="M120.1 207.4L116.9 206.2L116.7 210.4L115.5 206.5L113.1 207.9L114.6 205.4L110.9 204.4L114.7 204.1L113.5 200.9L115.8 203.3L117.9 199.3L117.2 203.7L121.4 203L117.5 205Z" fill="#a0a25a" opacity="0.8"/><path d="M71.4 119.5L69.9 115.6L65.7 117.3L68.8 113.7L65.7 111.3L69.7 112L70.2 108.6L71.6 111.5L74.8 110.5L72.8 113.3L75.5 115.6L71.9 115.1Z" fill="#a0a25a" opacity="0.7"/><path d="M121.7 208L124.2 211.5L128.4 210L125.7 213.6L128.3 217.1L124.2 215.6L121.7 219.3L121.4 215.1L116.2 213.6L121.5 212.2Z" fill="#d4d63c" opacity="0.9"/><path d="M178.9 156.9L184.4 161.2L186.4 154.3L186.3 161.7L191.9 159.4L188.1 163.2L192.6 166.2L186.9 165.2L187.4 170.1L184.8 166.2L180.7 170.3L183.2 164.7L176.2 164.3L183.1 162.7Z" fill="#bcc032" opacity="0.8"/><path d="M183.6 203.7L186.2 206.6L189.4 204.3L187.6 207.7L191.3 210.5L186.8 209.4L185.3 213.6L185 209L181.4 208.9L184.5 207.3Z" fill="#bcc032" opacity="0.8"/><path d="M27.7 130.5L30.5 131.8L31.5 128.8L31.9 131.8L35 131.4L32.4 133.2L34.7 135.9L31.5 134.4L30.4 136.9L30.2 134.1L26.7 134.8L29.3 132.8Z" fill="#9a9c30" opacity="0.8"/><path d="M256.6 129.7L251.9 127.5L251.5 132.5L250.1 128.1L246.4 130.1L249 126.5L244.7 124.9L249.2 124.6L247.4 119.6L250.8 123.9L253.4 119.8L252.7 124.3L257.3 123.9L253 126.2Z" fill="#d4d63c" opacity="0.8"/><path d="M111.5 57.4L108.2 62L113.4 64.3L107.9 63.9L108 68L105.9 64.9L102 67.1L104.7 63L100.2 60.9L104.9 61L104.3 55.1L106.9 60.8Z" fill="#a0a42c" opacity="0.8"/><path d="M7.9 104.4L12.4 99.2L7.2 96.5L12.8 97.2L13 92.8L15 96.7L19.9 93.9L16.2 98.4L21.9 101.5L15.8 100.6L15.5 105.3L13.5 100.9Z" fill="#c4ca38" opacity="0.9"/><path d="M5.7 108.2L2.9 105.6L0.2 107.6L1.6 104.5L-2.2 102.2L2.2 102.9L3.2 99.4L3.8 103.1L8.2 102.7L4.3 104.6Z" fill="#9a9c30" opacity="0.5"/><path d="M151.2 105.6L157.8 105.7L157.2 101.2L159.8 104.4L163.5 102L161.8 106.1L165.7 108.1L161.4 108.7L162.2 114.7L159 109L154 113.4L157.1 107.8Z" fill="#d4d63c" opacity="0.5"/><path d="M195.9 192.5L197.2 187.7L192.8 186.8L197.3 185.7L195.3 180.9L198.9 184.7L201.6 181.3L200.9 185.2L204.9 186.2L200.8 187.4L203 192.7L199.1 188.3Z" fill="#c4ca38" opacity="0.6"/><path d="M110.9 130.5L109.6 127.8L105.7 129.8L108.6 126.4L106.3 124.7L109.4 125.1L109.6 121.9L110.7 124.8L113.7 123.4L112 125.9L114.8 128L111.1 127.3Z" fill="#bcc032" opacity="0.6"/><path d="M44.5 224.6L40.8 228.2L44.7 230.4L40.4 230.2L40.8 234.2L38.5 230.6L35.1 234.3L36.9 229.6L31.3 229.4L36.6 227.8L34.2 224.2L37.9 226.4L39.2 222.4L39.8 226.5Z" fill="#b2b82e" opacity="0.8"/><path d="M16 197.6L18.6 199.2L20.8 197.4L20.3 200.1L22.7 201.8L19.5 201.8L19.1 206.2L17.9 202L15 202.2L17.4 200.4Z" fill="#a0a42c" opacity="0.5"/><path d="M11.3 185.8L15.3 191.6L21.9 188.3L17.6 194.1L21.7 198.9L15.5 196.6L12.3 203L12.4 196.1L7 194.7L12.3 192.8Z" fill="#c4ca38" opacity="0.7"/><path d="M41.7 126.1L46.8 123.5L44.1 118.8L48.8 122.1L51.2 117.6L51.1 122.4L56.1 122.5L51.7 124.9L53.7 128.7L49.9 126.5L47.3 131.3L47.6 125.9Z" fill="#b2b82e" opacity="0.6"/><path d="M53.3 66.3L51.2 69.1L53.9 71.3L50.5 71L49.9 74.1L48.6 71L44 73.4L47.3 69.6L43 66.7L48.1 67.8L48.6 63.6L50 67.7Z" fill="#c4ca38" opacity="0.7"/><path d="M33 37.4L28.7 39.8L30.8 42.3L27.9 41.1L26.4 45.4L26.1 41L21.8 41.6L25.5 39.2L23.3 36.2L26.6 37.7L28.2 34.1L28.4 38.2Z" fill="#d4d63c" opacity="0.6"/><path d="M72.5 132.5L69.8 130.4L67.9 133.8L68.6 129.9L65 130L68.1 128.6L66.8 125.8L69.3 127.5L71.3 124.2L70.5 128.3L74.4 128.2L71.1 129.6Z" fill="#bcc032" opacity="0.8"/><path d="M58.9 221.1L57.9 216.2L53.1 217.9L57.3 214.5L52.8 211.1L57.8 212.7L58.8 209.5L59.8 212.8L63.7 211.6L60.6 214.5L63.4 217L60 216.4Z" fill="#b2b82e" opacity="0.5"/><path d="M119.7 201.2L122.7 199.6L120.9 197.1L123.7 198.3L124.6 195.6L125.4 198.3L129 196.5L126 199.7L129.7 201.2L125.9 201.1L126.8 204.8L124.6 201.5L122.1 205.2L123.5 200.9Z" fill="#bcc032" opacity="0.9"/><path d="M160.7 112L157.5 114.1L161.8 117.3L157 115.6L156.9 120.1L155.3 115.9L151.3 119L153.8 114.8L149 113.6L154.3 113.2L152.7 109.6L155.5 112.3L157.7 107.5L157.2 112.4Z" fill="#d4d63c" opacity="0.7"/><path d="M204.9 178.2L209.2 173.8L203.9 169.9L210.4 171.9L211 165.7L212.5 171.6L218.5 168.9L213.6 173.4L218.2 176.8L213.1 175.7L212.2 181.4L210.7 175.6Z" fill="#bcc032" opacity="0.9"/><path d="M250.9 104.3L250.5 99L244.5 99.7L249.5 96.4L245.9 91.6L251.3 94.3L253.6 89.7L253.9 95L260.7 93.9L254.4 97.3L258.1 101.9L253.2 99.6Z" fill="#bcc032" opacity="0.7"/><path d="M42.2 236.6L40.8 233.1L36.1 235.1L40 231.3L35 228.1L40.3 229.2L41.1 225.6L42.4 229.4L46.3 227.7L43.8 230.9L48.3 234L42.8 232.7Z" fill="#c4ca38" opacity="0.5"/><path d="M81.1 246.9L73.6 247.1L74.7 253.2L71.3 247.9L66.4 252.3L68.8 246.7L63.4 244.5L69.7 244.1L68.1 236.9L71.9 243.4L76.6 239.2L74.4 244.5Z" fill="#e0e048" opacity="0.6"/><path d="M116.6 86.2L113.8 83.7L111.7 86.3L112.6 82.8L109.6 82.5L112.2 81.4L111.1 78.6L113.5 80.6L115.5 78L114.9 81.2L118.3 81.6L115.2 82.8Z" fill="#a0a42c" opacity="0.9"/><path d="M66.2 250.1L70.7 249.4L69.9 245.8L72.4 248.5L75.8 245L74 249.6L78.5 250.7L74.2 251.6L74.8 255.2L72.2 252.5L68.4 256.5L70.3 251.4Z" fill="#e0e048" opacity="0.5"/><path d="M189.2 70.1L192.7 69L191.9 65.8L194.4 68.3L197.3 64.6L195.8 69.1L200 69.7L196.2 70.9L197.3 74.5L194.5 71.5L192 74.6L192.7 71Z" fill="#e0e048" opacity="0.8"/><path d="M11.9 158.8L15.2 160.3L16.7 155.6L17.1 160.2L20.3 160L18 162.2L20.6 165.5L16.5 163.4L14.9 168.6L14.6 163.4L10.1 164.2L13.9 161.6Z" fill="#9a9c30" opacity="0.7"/><path d="M133.3 177.9L136.2 180L138.8 176.8L137.7 181.2L142.8 181.5L138.2 183L139.3 186.1L136.6 183.9L133.7 188.2L134.6 183.4L130.1 182.8L134.4 181.3Z" fill="#d4d63c" opacity="0.9"/><path d="M226.9 143L225.2 137.1L221.3 138.1L224.5 134.9L220.4 131.7L225.2 132.8L226.1 127L227.6 132.7L232.8 130.7L229 134.7L233.6 138.5L227.5 136.4Z" fill="#a0a25a" opacity="0.8"/><path d="M108.5 200.2L104.8 197.6L102.1 202.1L102.9 196.8L97.3 196.9L102.4 194.8L100.1 190.6L104 193.7L106.7 188.6L106 194L110 194.3L106.4 196.1Z" fill="#a0a25a" opacity="0.5"/><path d="M81.3 67.9L83.9 68.9L86.1 65.4L85.4 69.5L89.1 70.4L85.6 71.2L85.6 74.6L83.9 71.5L80.4 73L83.2 70.2Z" fill="#d4d63c" opacity="0.7"/><path d="M160.1 237.7L162.6 242.7L167.9 241.6L164.4 245.5L168.2 251.5L162 247.8L158 252.5L159.2 246.4L154.3 244.2L159.8 243.5Z" fill="#a0a25a" opacity="0.7"/><path d="M191.4 208L193.6 204.5L188.9 203.1L193.9 202.7L192.5 199L195.4 201.7L197.6 198L196.8 202.6L200.8 201.9L197.3 203.9L200.4 206.7L196.8 205.6L196.3 209.6L194.9 206Z" fill="#a0a25a" opacity="0.9"/><path d="M263.3 192.8L264.6 188.2L260.4 187.8L264.2 186.5L263.1 183.3L265.7 185.5L268.4 181.8L267.1 186.4L271.3 186.8L267.4 188L268.9 191.6L266 188.9Z" fill="#d4d63c" opacity="0.8"/><path d="M234 99.8L230.3 102.9L235.8 106.3L229.7 104.8L230.1 110.5L227.6 105.3L223.4 109.4L225.9 104.1L220.3 103.4L225.9 102.1L223.5 97.8L227.3 100.1L229.2 96.4L229.4 101.1Z" fill="#9a9c30" opacity="0.8"/><path d="M36.2 228.5L32.5 227.3L30.9 232.6L30.1 227.3L24.4 228.6L29.1 225L25.2 220.8L30.6 223.2L32.2 217.6L32.8 223.3L37.6 222.4L33.4 225.4Z" fill="#a0a25a" opacity="0.6"/><path d="M261.9 106.5L265 105.1L262.2 102.3L265.7 104.1L266.2 100.9L266.9 104L270 102.2L267.8 105L270.6 106.2L267.6 106.2L268.8 109.9L266.4 107L264.6 109.4L265.2 106.3Z" fill="#a0a25a" opacity="0.8"/><path d="M113 55.3L115.5 57.1L117.3 54.4L116.7 57.9L119.4 58L117.3 59.3L119 62.7L116 60.1L114.4 62.2L114.5 59.6L110.8 59.5L114.5 58.2Z" fill="#d4d63c" opacity="0.6"/></g>
</g>
<path d="M240.3 200.9l9.2 -1.2M205.6 74.4l-8.7 -4.2M3.3 151.2l0.4 -8.9M157 167.7l1.4 -6.3M81.4 180.3l0.6 6.4M166.5 252.6l-0.5 -6.5M218.6 198.7l-5.1 4.8M192.6 79.8l8.5 0.8M102.1 232.3l-2.3 -9.6M9.7 67.4l8.1 0.9M84.8 211.1l7.8 4.6M53.3 169.9l1.2 -6.5M48.5 118.7l-2.3 4.7M173 203.1l4.9 2.9M14.3 114.9l-4.5 -3.4M123.1 169.9l-4.9 -3.1M116.3 117.6l7.3 -4.2M102 143.5l2 -4M165.4 227.6l5.6 4.5M105.4 213.9l-2.1 9.4M91.2 126.1l-0.8 5.3M100 34.4l3.1 -7.1M79.9 235.9l2.6 9M168.1 100.7l4.6 -0.3M120.1 189.9l-1.7 4.6M203.9 58.9l-9.2 -1.9M173.4 82.2l-8.3 0.1M180.3 171.4l7.4 -4M159.9 79.2l-3.7 -2.5M105.9 193.1l-4.5 -6.7M61 66.8l2.4 4.9M82.9 38.7l8.7 1.3M187.1 172l-9.5 2.9M255.8 151.7l4.1 6.7M255.8 191.3l-4.2 1.6M39.2 95.5l1.4 3.8M114.3 61l5.9 5.5M97.8 159.9l-0.4 -9M40.6 143.1l-3.2 -2.8M224.5 163.9l7.3 -1.3M128.1 162.8l-3.6 6M214.1 185l-3.1 -5.5M226.2 220.3l-1.7 3.9M58 77.7l4.2 -4.2M15.5 79.5l-4.1 -3.5M105.9 127.4l7.2 -2.7M163.3 106.7l-5.1 8.3M34.9 60.2l3.4 2.4M39.3 184.6l-9.7 -0.6M82.5 224.6l-2.2 3.4M59.5 173.9l-7.7 0.8M168.9 93.3l-1.4 -4.9M120 108.3l-2.1 5.3M152.9 241l4 4.5M218 56.7l-7.3 -6.4M146 199.3l-2.3 -3.7M56 218l-1.6 5.6M167.6 207.9l8.4 -3.5M211.6 189.8l5 -2M150.4 146.1l-0.4 7.2M253.6 134.9l4.8 2.2M170.3 192.2l-5.7 -2.4M139.2 13l5.7 -6.6M197.4 61.5l6.5 -5.7M114.7 112l1.3 5.2M73 142.6l-2.9 9M27.6 216.9l-4.9 5.8M198.2 38.9l-5.3 5.1M147.7 138.6l4 -3.3M163.3 104l-1.2 -6M117.3 100.9l-4.7 0.2M141.2 151.2l1.9 -4.9M105.5 20.2l-8.6 -2M30.2 133.6l-6.1 0.1M173.4 221.8l6.4 -2.2M157.5 12l-4 3.2M142.1 23.6l-3.8 8.4M101.2 62.4l-6.1 -2.9M162.3 29l1 -4.6M74.9 119.1l-8.9 -0.9M152.8 14.4l7.2 0M120 133.9l-8.1 2.2M243.7 92.9l4.2 -6.5M95.7 49.4l1.5 -4.6M227.2 82.1l8.2 4.2M48.5 169.3l-3.6 -8.5M67 88.7l4.7 -4.2M188.4 32.9l-3.6 5.3M260.3 105.6l-4.5 8.7M63.4 51.6l-1.7 5.4M72.5 51.5l0.6 -6.2M37 87.6l9.3 -2.2M106.9 145.6l2.7 3.4M31.7 172l8.1 -2.8M15.4 134.2l5 4.2M53.4 206.6l8.2 -3.4M185.7 164.8l-9.6 0.2M138.6 229.6l4 -3.2M97.9 33.7l-3.2 7.1M160.9 96.6l-4.3 -4.3M246.1 83.2l-8.6 -2.5M14.3 182.5l4.6 -4.2M173.4 25.9l0 -8M18.9 209l0.5 -9.2M65.4 227.5l-3.2 -3.7M95.7 218.5l7.5 -0.2M28.2 200.4l-7.7 -0.6M207 66.9l6.3 -3.1M268.1 85.1l2.7 -5.9M140.5 120.5l-4.2 -5.1M202.4 82.2l-7.5 -1.2M214.4 63.6l-8 0.3M53.4 168.5l2 4.3M229.4 159.5l-1.6 -6.1M80.8 190.6l-4.9 -7.2M82.3 146.4l-2.4 4M184.1 134.1l7 6.9M36.3 108.3l4.7 3M104.7 117.2l-3.1 -7.7M113.3 138.7l4.3 0.4M101.8 150.2l4 -3.4M233.6 174.8l6.7 1.8M56.9 99.1l-7.8 -1.9M15.3 53.4l7.5 2.4M63.8 204l3.1 -2.9M157.7 197.7l-8.3 -0.7M44.5 139.5l7.1 5.6M268.6 178.3l2.5 -5.9M94.6 166.3l-8 -1M171.3 162.6l1.3 -6.1M26.3 71.3l-2.4 -3.4M205.8 92.2l-2.5 -8.4M136.2 178.7l9.6 1.8M146.4 160.8l4.4 8.6M29 84l5.4 6.7M87.6 82.1l0.4 4.1M43.3 128.1l5.2 0.3M152.2 227.4l4.7 7.5M205.9 60.3l0.3 8.5M228.5 215.8l3.3 -4.2M193.4 39.8l2.3 5.2M169.6 207.2l-2.3 -3.8M247 209.6l-1.5 9.3M153.3 150.3l2.9 -5.2M203.7 222.3l6.7 7M208.5 154.2l5.9 -6.5M122.6 94.5l0.8 6.9M4.2 154.4l3.6 6.4M148.4 128.2l4.6 8.8M101.1 213.7l4.2 4.2M216.3 127.5l5.7 3.3M41.2 132.4l-8 4M233.3 97.8l-5.6 4.3M9.5 122l-3.9 3.2M72.7 177.8l-9 3M131.1 247.3l-6.4 -0.8M64.6 129.1l-6.5 3.9M51.6 220.2l5.8 -8M249.6 85.9l-4.1 -6.4M94.1 210.3l-3.7 -4.1M198.3 44.6l-0.2 -9.6M91.3 63.8l3.9 -6.1M234.5 122.9l-2.3 4.5M91 204.7l3.2 3.5M217.2 138.4l-7.1 -4.1M140.5 220.5l-1.9 5.2M177.4 150.4l-7.1 6.8M164.2 29.8l5.5 -2.2M116 204.9l8.1 2M88.2 133.5l7.8 -1M26.7 60.1l0.8 4.9M186 208l-5.8 2M74.6 135.9l7.8 1.7M194.4 61.3l-2.6 -6.2M98.7 128.7l-1.8 -4.2M3 104.1l6.7 -0.6M159.3 107l-7.2 -2M199 186.5l-6.1 5.5M38.7 228.4l8.3 -1.7M14.6 194.3l5.8 5.7M75 57.8l-3 -6.2M217.9 231.3l5 1.3M74.2 174.6l0.5 5.5M49.3 69.3l-0.2 -9.2M27.3 39.5l7.7 -1.3M58.9 214.5l-0.4 -9M155.8 114l-7.5 0.7M211.6 173.6l-5.7 -2.2M71.6 245.6l-6.9 -0.2M69.5 229.3l-6.1 -0.3M171 144.7l3.9 -2.7M113.7 82.1l-4.4 1.7M194.5 69.9l0.1 -4.1M15.8 161.9l-0.5 -7M136.4 182.1l2.6 -5.9M226.5 134.8l2.2 -8.5M104.4 195.5l-0.6 7M103.2 246.4l-6 4.5M84.3 70.2l-5.5 -0.4M163.4 22.5l0.5 6M38.5 143.5l-5.8 -5.6M195.6 203.7l3.2 -8.1M265.9 187.3l8.9 4.3M31.5 225.2l-7.6 -1.5M198 157l-3.8 1.4M266.4 105.3l-1.5 4.5M141.6 179.6l-3.2 -8.4M154.4 57l6.5 2.4" stroke="#eceee0" stroke-width="0.9" fill="none" opacity="0.6"/>
<path d="M108.4 268.5l4 -18l10 3l-2 16z" fill="#8a6d22"/>
</g>
<text x="237.2" y="252.2" font-size="20.6" fill="#505356" stroke="#505356" stroke-width="0.3" text-anchor="middle" letter-spacing="-0.5">1mm</text>
<rect x="233.4" y="258.2" width="9.6" height="2" fill="#55585b"/>
</svg>
</div>
<svg class="layer" width="1500" height="320" viewBox="0 0 1500 320">
<defs><linearGradient id="ag1" x1="450" y1="0" x2="613" y2="0" gradientUnits="userSpaceOnUse"><stop offset="0" stop-color="#7dd82c"/><stop offset="0.5" stop-color="#b3c432"/><stop offset="1" stop-color="#d1b23a"/></linearGradient>
<linearGradient id="ag2" x1="958" y1="0" x2="1121" y2="0" gradientUnits="userSpaceOnUse"><stop offset="0" stop-color="#dbb83c"/><stop offset="0.5" stop-color="#b3c432"/><stop offset="1" stop-color="#78d82a"/></linearGradient></defs>
<path d="M450 161.4H578V152.4L613.6 172L578 191.6V182H450Z" fill="url(#ag1)"/>
<path d="M958.4 161.4H1087V152.4L1121.6 172L1087 191.6V182H958.4Z" fill="url(#ag2)"/>
<g transform="translate(-508.6 0)">
<defs><linearGradient id="i1g" x1="0" y1="0" x2="1" y2="0"><stop offset="0" stop-color="#66c6ee"/><stop offset="0.3" stop-color="#58b8e8"/><stop offset="1" stop-color="#4aa6e0"/></linearGradient></defs>
<g fill="none" stroke="#2ba6cb" stroke-width="1.6" stroke-linecap="round">
<path d="M1002.5 122.5 C996 128 998 136 1012 140 C1022 143 1034 144.2 1043 144.2"/>
<path d="M1047.5 144.2 C1058 144 1068 142.5 1074 139.5 C1083 135 1084 128 1077.5 122"/>
<path d="M1017.5 119 C1008 122 1004 128 1012.5 132"/>
<path d="M1015.8 134 C1030 138.6 1052 138.6 1066 133.5 C1075 130 1075 124 1063 119.5"/>
</g>
<g fill="#4fbcea" stroke="#2ba6cb" stroke-width="1.5" stroke-linejoin="round">
<path d="M1012.2 68.5 C1012 64 1016 62.5 1019.5 64 C1025 66.5 1029.5 76 1029.3 84 C1027 81 1023 77.5 1018 75 C1014 73.2 1012.3 71.5 1012.2 68.5Z"/>
<path d="M999 98 C999 94.5 1003 93.5 1006.5 95 C1011 97 1014 102 1014.6 106 C1012 104 1008.5 103 1005 102.3 C1001.5 101.6 999 100.5 999 98Z"/>
<path d="M1081.5 98.5 C1081.5 94.5 1077 93 1073.5 95 C1068 98.5 1064.5 107 1064.8 114 C1067 110 1070.5 106.5 1075.5 104.5 C1079.5 103 1081.5 101.5 1081.5 98.5Z"/>
</g>
<path d="M1041 81 C1036 88 1022 103 1022 114 A18.8 17.3 0 0 0 1059.6 114 C1059.6 103 1046 88 1041 81Z" fill="url(#i1g)" stroke="#2da3d0" stroke-width="1.6" stroke-linejoin="round"/>
<path d="M1033 96 C1027 103 1024.5 109 1024.5 114.5 C1024.5 120 1027 125 1031 128 C1028 122 1027.5 117 1028 112 C1028.5 106 1030.5 101 1033 96Z" fill="#7fd2f4" opacity="0.75"/>
<g fill="none" stroke="#e3575f" stroke-width="1.3"><circle cx="1041" cy="102.4" r="38.3"/><path d="M1013.9 75.3L1068.1 129.5"/></g>
</g>
<g transform="translate(0 0)">
<defs><linearGradient id="i2g" x1="0" y1="0" x2="1" y2="0"><stop offset="0" stop-color="#66c6ee"/><stop offset="0.3" stop-color="#58b8e8"/><stop offset="1" stop-color="#4aa6e0"/></linearGradient></defs>
<g fill="none" stroke="#2ba6cb" stroke-width="1.6" stroke-linecap="round">
<path d="M1002.5 122.5 C996 128 998 136 1012 140 C1022 143 1034 144.2 1043 144.2"/>
<path d="M1047.5 144.2 C1058 144 1068 142.5 1074 139.5 C1083 135 1084 128 1077.5 122"/>
<path d="M1017.5 119 C1008 122 1004 128 1012.5 132"/>
<path d="M1015.8 134 C1030 138.6 1052 138.6 1066 133.5 C1075 130 1075 124 1063 119.5"/>
</g>
<g fill="#4fbcea" stroke="#2ba6cb" stroke-width="1.5" stroke-linejoin="round">
<path d="M1012.2 68.5 C1012 64 1016 62.5 1019.5 64 C1025 66.5 1029.5 76 1029.3 84 C1027 81 1023 77.5 1018 75 C1014 73.2 1012.3 71.5 1012.2 68.5Z"/>
<path d="M999 98 C999 94.5 1003 93.5 1006.5 95 C1011 97 1014 102 1014.6 106 C1012 104 1008.5 103 1005 102.3 C1001.5 101.6 999 100.5 999 98Z"/>
<path d="M1081.5 98.5 C1081.5 94.5 1077 93 1073.5 95 C1068 98.5 1064.5 107 1064.8 114 C1067 110 1070.5 106.5 1075.5 104.5 C1079.5 103 1081.5 101.5 1081.5 98.5Z"/>
</g>
<path d="M1041 81 C1036 88 1022 103 1022 114 A18.8 17.3 0 0 0 1059.6 114 C1059.6 103 1046 88 1041 81Z" fill="url(#i2g)" stroke="#2da3d0" stroke-width="1.6" stroke-linejoin="round"/>
<path d="M1033 96 C1027 103 1024.5 109 1024.5 114.5 C1024.5 120 1027 125 1031 128 C1028 122 1027.5 117 1028 112 C1028.5 106 1030.5 101 1033 96Z" fill="#7fd2f4" opacity="0.75"/>
</g>
</svg>
<div class="cap" style="left:435.7px;top:193.8px;width:200px"><span style="transform:scaleX(1.018)">Dehydration</span></div>
<div class="cap" style="left:942.3px;top:193.8px;width:200px"><span style="transform:scaleX(1.018)">Rehydration</span></div>
</section>
<section class="panel" id="panel-b">
<div class="badge" style="left:69.8px;top:323px">B</div>
<svg class="layer" width="1500" height="380" viewBox="0 0 1500 380">
<defs><linearGradient id="tl" x1="145" y1="0" x2="1430" y2="0" gradientUnits="userSpaceOnUse"><stop offset="0" stop-color="#d9f0f7"/><stop offset="0.12" stop-color="#9ad8ea"/><stop offset="0.3" stop-color="#55bfdf"/><stop offset="0.5" stop-color="#33add2"/><stop offset="1" stop-color="#1fa0c8"/></linearGradient></defs>
<path d="M145 357.2L1415 354.4V350.6L1430.4 357.8L1415 365V361.2L145 358.2Z" fill="url(#tl)"/>
<g><path d="M209.2 318.8 a5 4.2 0 0 1 10 0 z" fill="#2ea9cd" transform="rotate(-45 214.2 331.7)"/><path d="M209.2 318.8 a5 4.2 0 0 1 10 0 z" fill="#2ea9cd" transform="rotate(45 214.2 331.7)"/><path d="M206.2 342.3l-2.6 3.6M222.2 342.3l2.6 3.6" stroke="#2ea9cd" stroke-width="2.6" stroke-linecap="round" fill="none"/><circle cx="214.2" cy="331.7" r="12.9" fill="#fff" stroke="#2ea9cd" stroke-width="2.5"/><path d="M214.2 320.7v2.2M214.2 342.7v-2.2M203.2 331.7h2.2M225.2 331.7h-2.2" stroke="#2ea9cd" stroke-width="1.1" fill="none"/><path d="M214.2 332.7L214.2 322.1" stroke="#6cc3de" stroke-width="1.2" stroke-linecap="round" fill="none"/></g>
<g><path d="M352.6 318.8 a5 4.2 0 0 1 10 0 z" fill="#2ea9cd" transform="rotate(-45 357.6 331.7)"/><path d="M352.6 318.8 a5 4.2 0 0 1 10 0 z" fill="#2ea9cd" transform="rotate(45 357.6 331.7)"/><path d="M349.6 342.3l-2.6 3.6M365.6 342.3l2.6 3.6" stroke="#2ea9cd" stroke-width="2.6" stroke-linecap="round" fill="none"/><circle cx="357.6" cy="331.7" r="12.9" fill="#fff" stroke="#2ea9cd" stroke-width="2.5"/><path d="M357.6 320.7v2.2M357.6 342.7v-2.2M346.6 331.7h2.2M368.6 331.7h-2.2" stroke="#2ea9cd" stroke-width="1.1" fill="none"/><path d="M357.1 332.6L362.4 323.4" stroke="#6cc3de" stroke-width="1.2" stroke-linecap="round" fill="none"/></g>
<g><path d="M495.6 318.8 a5 4.2 0 0 1 10 0 z" fill="#2ea9cd" transform="rotate(-45 500.6 331.7)"/><path d="M495.6 318.8 a5 4.2 0 0 1 10 0 z" fill="#2ea9cd" transform="rotate(45 500.6 331.7)"/><path d="M492.6 342.3l-2.6 3.6M508.6 342.3l2.6 3.6" stroke="#2ea9cd" stroke-width="2.6" stroke-linecap="round" fill="none"/><circle cx="500.6" cy="331.7" r="12.9" fill="#fff" stroke="#2ea9cd" stroke-width="2.5"/><path d="M500.6 320.7v2.2M500.6 342.7v-2.2M489.6 331.7h2.2M511.6 331.7h-2.2" stroke="#2ea9cd" stroke-width="1.1" fill="none"/><path d="M499.7 332.2L509.1 327.2" stroke="#6cc3de" stroke-width="1.2" stroke-linecap="round" fill="none"/></g>
<g><path d="M638.8 318.8 a5 4.2 0 0 1 10 0 z" fill="#2ea9cd" transform="rotate(-45 643.8 331.7)"/><path d="M638.8 318.8 a5 4.2 0 0 1 10 0 z" fill="#2ea9cd" transform="rotate(45 643.8 331.7)"/><path d="M635.8 342.3l-2.6 3.6M651.8 342.3l2.6 3.6" stroke="#2ea9cd" stroke-width="2.6" stroke-linecap="round" fill="none"/><circle cx="643.8" cy="331.7" r="12.9" fill="#fff" stroke="#2ea9cd" stroke-width="2.5"/><path d="M643.8 320.7v2.2M643.8 342.7v-2.2M632.8 331.7h2.2M654.8 331.7h-2.2" stroke="#2ea9cd" stroke-width="1.1" fill="none"/><path d="M642.9 331.2L652.1 336.5" stroke="#6cc3de" stroke-width="1.2" stroke-linecap="round" fill="none"/></g>
<g><path d="M781.8 318.8 a5 4.2 0 0 1 10 0 z" fill="#2ea9cd" transform="rotate(-45 786.8 331.7)"/><path d="M781.8 318.8 a5 4.2 0 0 1 10 0 z" fill="#2ea9cd" transform="rotate(45 786.8 331.7)"/><path d="M778.8 342.3l-2.6 3.6M794.8 342.3l2.6 3.6" stroke="#2ea9cd" stroke-width="2.6" stroke-linecap="round" fill="none"/><circle cx="786.8" cy="331.7" r="12.9" fill="#fff" stroke="#2ea9cd" stroke-width="2.5"/><path d="M786.8 320.7v2.2M786.8 342.7v-2.2M775.8 331.7h2.2M797.8 331.7h-2.2" stroke="#2ea9cd" stroke-width="1.1" fill="none"/><path d="M787.2 330.8L782.7 340.4" stroke="#6cc3de" stroke-width="1.2" stroke-linecap="round" fill="none"/></g>
<g><path d="M925 318.8 a5 4.2 0 0 1 10 0 z" fill="#2ea9cd" transform="rotate(-45 930 331.7)"/><path d="M925 318.8 a5 4.2 0 0 1 10 0 z" fill="#2ea9cd" transform="rotate(45 930 331.7)"/><path d="M922 342.3l-2.6 3.6M938 342.3l2.6 3.6" stroke="#2ea9cd" stroke-width="2.6" stroke-linecap="round" fill="none"/><circle cx="930" cy="331.7" r="12.9" fill="#fff" stroke="#2ea9cd" stroke-width="2.5"/><path d="M930 320.7v2.2M930 342.7v-2.2M919 331.7h2.2M941 331.7h-2.2" stroke="#2ea9cd" stroke-width="1.1" fill="none"/><path d="M930 332.7L930 322.1" stroke="#6cc3de" stroke-width="1.2" stroke-linecap="round" fill="none"/></g>
<g><path d="M1068 318.8 a5 4.2 0 0 1 10 0 z" fill="#2ea9cd" transform="rotate(-45 1073 331.7)"/><path d="M1068 318.8 a5 4.2 0 0 1 10 0 z" fill="#2ea9cd" transform="rotate(45 1073 331.7)"/><path d="M1065 342.3l-2.6 3.6M1081 342.3l2.6 3.6" stroke="#2ea9cd" stroke-width="2.6" stroke-linecap="round" fill="none"/><circle cx="1073" cy="331.7" r="12.9" fill="#fff" stroke="#2ea9cd" stroke-width="2.5"/><path d="M1073 320.7v2.2M1073 342.7v-2.2M1062 331.7h2.2M1084 331.7h-2.2" stroke="#2ea9cd" stroke-width="1.1" fill="none"/><path d="M1072.5 332.6L1077.8 323.4" stroke="#6cc3de" stroke-width="1.2" stroke-linecap="round" fill="none"/></g>
<g><path d="M1210.8 318.8 a5 4.2 0 0 1 10 0 z" fill="#2ea9cd" transform="rotate(-45 1215.8 331.7)"/><path d="M1210.8 318.8 a5 4.2 0 0 1 10 0 z" fill="#2ea9cd" transform="rotate(45 1215.8 331.7)"/><path d="M1207.8 342.3l-2.6 3.6M1223.8 342.3l2.6 3.6" stroke="#2ea9cd" stroke-width="2.6" stroke-linecap="round" fill="none"/><circle cx="1215.8" cy="331.7" r="12.9" fill="#fff" stroke="#2ea9cd" stroke-width="2.5"/><path d="M1215.8 320.7v2.2M1215.8 342.7v-2.2M1204.8 331.7h2.2M1226.8 331.7h-2.2" stroke="#2ea9cd" stroke-width="1.1" fill="none"/><path d="M1214.9 331.2L1224.3 336.2" stroke="#6cc3de" stroke-width="1.2" stroke-linecap="round" fill="none"/></g>
<g><path d="M1354.2 318.8 a5 4.2 0 0 1 10 0 z" fill="#2ea9cd" transform="rotate(-45 1359.2 331.7)"/><path d="M1354.2 318.8 a5 4.2 0 0 1 10 0 z" fill="#2ea9cd" transform="rotate(45 1359.2 331.7)"/><path d="M1351.2 342.3l-2.6 3.6M1367.2 342.3l2.6 3.6" stroke="#2ea9cd" stroke-width="2.6" stroke-linecap="round" fill="none"/><circle cx="1359.2" cy="331.7" r="12.9" fill="#fff" stroke="#2ea9cd" stroke-width="2.5"/><path d="M1359.2 320.7v2.2M1359.2 342.7v-2.2M1348.2 331.7h2.2M1370.2 331.7h-2.2" stroke="#2ea9cd" stroke-width="1.1" fill="none"/><path d="M1358.7 332.6L1364 323.4" stroke="#6cc3de" stroke-width="1.2" stroke-linecap="round" fill="none"/></g>
</svg>
<div class="pill" style="left:161px">Hydrated</div>
<div class="pill" style="left:304.3px">D5min</div>
<div class="pill" style="left:447.7px">D10min</div>
<div class="pill" style="left:591px">D20min</div>
<div class="pill" style="left:734.3px">D40min</div>
<div class="pill" style="left:877.6px">R2s</div>
<div class="pill" style="left:1021px">R5s</div>
<div class="pill" style="left:1164.3px">R20s</div>
<div class="pill" style="left:1307.8px">R5min</div>
<div class="photo" style="left:145.2px;top:379.2px;width:138.7px;height:216.4px">
<svg width="138.7" height="216.4" viewBox="0 0 138.7 216.4" role="img" aria-label="moss shoot photograph">
<defs>
<linearGradient id="p0sky" x1="0" y1="0" x2="0" y2="1"><stop offset="0" stop-color="#515459"/><stop offset="0.5" stop-color="#42454a"/><stop offset="1" stop-color="#383b40"/></linearGradient>
<radialGradient id="p0gl" cx="1" cy="0" r="0.9"><stop offset="0" stop-color="#8a8d8e" stop-opacity="0.55"/><stop offset="1" stop-color="#8a8d8e" stop-opacity="0"/></radialGradient>
<linearGradient id="p0gnd" x1="0" y1="0" x2="0" y2="1"><stop offset="0" stop-color="#6d7276"/><stop offset="0.025" stop-color="#abb0b3"/><stop offset="0.09" stop-color="#c4c7c7"/><stop offset="0.15" stop-color="#d0ccc0"/><stop offset="0.21" stop-color="#d8c8a2"/><stop offset="0.30" stop-color="#dcc28c"/><stop offset="0.5" stop-color="#d9bc82"/><stop offset="0.75" stop-color="#ceac72"/><stop offset="1" stop-color="#c6a66a"/></linearGradient>
<filter id="p0sn" x="0" y="0" width="100%" height="100%" color-interpolation-filters="sRGB"><feTurbulence type="fractalNoise" baseFrequency="0.075 0.1" numOctaves="3" seed="20"/><feColorMatrix type="matrix" values="1.8 0 0 0 -0.36  1.8 0 0 0 -0.36  1.8 0 0 0 -0.36  0 0 0 0 1"/><feComponentTransfer><feFuncR type="table" tableValues="0.56 0.70 0.80 0.87 0.93 0.98"/><feFuncG type="table" tableValues="0.43 0.57 0.68 0.77 0.86 0.94"/><feFuncB type="table" tableValues="0.20 0.32 0.43 0.55 0.68 0.84"/></feComponentTransfer></filter>
<linearGradient id="p0fade" x1="0" y1="0" x2="0" y2="1"><stop offset="0" stop-color="#fff" stop-opacity="0"/><stop offset="0.35" stop-color="#fff" stop-opacity="0.1"/><stop offset="0.6" stop-color="#fff" stop-opacity="0.6"/><stop offset="1" stop-color="#fff" stop-opacity="1"/></linearGradient>
<mask id="p0m" maskUnits="userSpaceOnUse" x="0" y="0" width="138.7" height="216.4"><rect x="0" y="113.6" width="138.7" height="102.8" fill="url(#p0fade)"/></mask>
<filter id="p0bl" x="-10%" y="-10%" width="120%" height="120%" color-interpolation-filters="sRGB"><feTurbulence type="fractalNoise" baseFrequency="0.055" numOctaves="2" seed="60" result="n1"/><feDisplacementMap in="SourceGraphic" in2="n1" scale="7" xChannelSelector="R" yChannelSelector="G" result="d"/><feTurbulence type="fractalNoise" baseFrequency="0.1" numOctaves="2" seed="61" result="n2"/><feColorMatrix in="n2" type="matrix" values="0 0 0 0 0.07  0 0 0 0 0.05  0 0 0 0 0  -2.0 0 0 0 1.15" result="dk"/><feComposite in="dk" in2="d" operator="in" result="dk2"/><feColorMatrix in="n2" type="matrix" values="0 0 0 0 0.85  0 0 0 0 0.8  0 0 0 0 0.35  0 2.0 0 0 -1.2" result="lt"/><feComposite in="lt" in2="d" operator="in" result="lt2"/><feMerge result="m"><feMergeNode in="d"/><feMergeNode in="dk2"/><feMergeNode in="lt2"/></feMerge><feGaussianBlur in="m" stdDeviation="0.65"/></filter>
<filter id="p0hb" x="-10%" y="-10%" width="120%" height="120%"><feTurbulence type="fractalNoise" baseFrequency="0.06" numOctaves="2" seed="62" result="n1"/><feDisplacementMap in="SourceGraphic" in2="n1" scale="5" xChannelSelector="R" yChannelSelector="G" result="d"/><feGaussianBlur in="d" stdDeviation="0.5"/></filter>
<linearGradient id="p0hz" x1="0" y1="0" x2="0" y2="1"><stop offset="0" stop-color="#34373d" stop-opacity="1"/><stop offset="1" stop-color="#9aa0a4" stop-opacity="0"/></linearGradient>
</defs>
<rect width="138.7" height="91.6" fill="url(#p0sky)"/>
<rect width="138.7" height="91.6" fill="url(#p0gl)"/>
<rect y="88.6" width="138.7" height="127.8" fill="url(#p0gnd)"/>
<rect y="88.1" width="138.7" height="5" fill="url(#p0hz)"/>
<rect width="138.7" height="216.4" filter="url(#p0sn)" mask="url(#p0m)" opacity="0.8"/>
<g filter="url(#p0bl)">
<path d="M50.9 218.4 C48.9 142.4 53.5 88.2 64 54 C74.5 88.2 69.1 142.4 67.1 218.4Z" fill="#3d3710"/>
<g><path d="M57.4 206.1C61.7 199.3 57.3 188.1 48.1 180.4C46.1 192.2 49.8 203.6 57.4 206.1Z" fill="#564c1b"/><path d="M61.6 202C71.6 198.2 79 181 79.4 163.3C66.2 175.1 57.9 191.9 61.6 202Z" fill="#524b19"/><path d="M58.2 179.6C61.8 170.3 54.5 154.4 42.6 143.2C42.6 159.6 49.1 175.7 58.2 179.6Z" fill="#4e4718"/><path d="M62.2 179.6C71.4 174.7 77.5 156.8 77 139.2C65.3 152.3 58.4 169.9 62.2 179.6Z" fill="#554d1a"/><path d="M59 156.1C61.8 148.9 56.6 136 47.9 126.4C47.5 139.4 52.1 152.5 59 156.1Z" fill="#55511b"/><path d="M63.4 142.8C72.5 138.8 80.7 121.7 82.8 104.4C70.1 116.3 61.2 133 63.4 142.8Z" fill="#4e4c18"/><path d="M59.8 128.5C62 122.4 57 112.4 48.9 105.4C49.2 116 53.7 126.3 59.8 128.5Z" fill="#4f4c19"/><path d="M63.8 128.5C71.1 126.5 75.7 115.7 75.1 104.1C65.9 111.1 60.6 121.7 63.8 128.5Z" fill="#474616"/><path d="M60.5 106C64 99.1 58.5 89.6 48.8 83.9C48 95.1 52.8 105 60.5 106Z" fill="#4f4b17"/><path d="M64.4 108.1C72.1 104.5 75.7 91.1 73.3 77.9C64.2 87.7 59.9 100.8 64.4 108.1Z" fill="#625f1e"/><path d="M61.1 85.6C64 78.3 58.1 66.7 48.4 58.8C48.3 71.3 53.6 83.3 61.1 85.6Z" fill="#545119"/><path d="M64.9 92.8C72.7 90.6 77.2 79.2 75.9 67.1C66.2 74.5 61 85.6 64.9 92.8Z" fill="#555219"/><path d="M61.4 76.4C66.1 71.6 63.5 63.4 56.4 57.6C53.1 66.1 54.9 74.5 61.4 76.4Z" fill="#524e18"/><path d="M65.4 76.4C72.2 73.5 74.9 62.4 72.4 51.4C64.5 59.4 61.1 70.4 65.4 76.4Z" fill="#5b561b"/></g>
<g><path d="M55 202.1C58.3 191.7 49 183.1 35 181.4C36.2 195.5 44.6 205 55 202.1Z" fill="#504619"/><path d="M65.3 198C78.4 202.6 94.2 190.7 102.1 172.3C82 173.4 65.5 184.1 65.3 198Z" fill="#4b4417"/><path d="M54.5 175.6C55 162.7 40.2 151.9 21.7 149.7C28.1 167.2 42.1 179.1 54.5 175.6Z" fill="#484216"/><path d="M67.4 175.6C80.5 177.1 94 162.5 99.2 143.4C80.2 148.8 65.7 162.4 67.4 175.6Z" fill="#464016"/><path d="M56.5 152.1C57.7 142.3 46.9 132.4 32.7 128.7C36.7 142.8 46.8 153.4 56.5 152.1Z" fill="#444215"/><path d="M69.9 138.8C81.7 143 98.6 132.4 109 116C89.6 116.9 72.1 126.4 69.9 138.8Z" fill="#403f13"/><path d="M57.4 124.5C57.3 116 47.2 109.8 35.2 109.5C40 120.6 49.5 127.6 57.4 124.5Z" fill="#3c3a12"/><path d="M68.9 124.5C78.1 128.7 87.9 121.1 92.1 108.3C78.6 107.8 68.1 114.5 68.9 124.5Z" fill="#3c3b12"/><path d="M56.7 102C57 91.4 46.5 86.5 33.4 89.7C38.1 102.3 48.1 108.3 56.7 102Z" fill="#444214"/><path d="M76.3 104.1C87.6 105 95.8 93 96.1 77.6C81.4 82.3 72.2 93.6 76.3 104.1Z" fill="#4c4a16"/><path d="M56 81.6C56.1 71.3 44.4 64.1 30 64.2C35.3 77.6 46.5 85.7 56 81.6Z" fill="#494715"/><path d="M71.4 88.8C81.5 92.9 91.2 84.4 94.3 70.5C80 70.4 69.6 78 71.4 88.8Z" fill="#4a4815"/><path d="M60.3 72.4C65.6 64.6 60.3 57.4 49.3 55.2C46.6 66.2 51 74 60.3 72.4Z" fill="#4c4916"/><path d="M70.5 72.4C80.5 73.3 86.9 63.1 86.1 49.9C73.5 53.8 66.2 63.4 70.5 72.4Z" fill="#4f4a18"/><path d="M64.1 93.9C74.6 89.1 74.1 77 64.5 66.3C54.6 76.6 53.7 88.7 64.1 93.9Z" fill="#383610"/></g>
<g><path d="M55 201.3C56.6 192.5 47.8 183.7 35 181.4C38.2 193.4 46.2 202.9 55 201.3Z" fill="#9d8735"/><path d="M51 195.5C50.4 191.1 44.1 185.8 37 183.2C40.5 189.9 46.6 195.5 51 195.5Z" fill="#bead53" opacity="0.55"/><path d="M65.3 197.2C76.8 199.9 92.3 188 102.1 172.3C83.2 174.5 67.1 185.6 65.3 197.2Z" fill="#918330"/><path d="M72.7 189.9C79.1 190.1 90.3 183.1 98.4 174.5C87 177.6 75.5 184.2 72.7 189.9Z" fill="#b7ab50" opacity="0.55"/><path d="M54.5 174.8C53.4 163.9 39.1 152.8 21.7 149.7C30 164.7 43.7 176.6 54.5 174.8Z" fill="#897d2e"/><path d="M47.9 167.7C45.6 162.3 35.4 155.5 25 152C32 160.4 42 167.5 47.9 167.7Z" fill="#b3a84f" opacity="0.55"/><path d="M67.4 174.8C78.7 174.8 91.9 160.2 99.2 143.4C81.4 149.6 67.5 163.4 67.4 174.8Z" fill="#85792d"/><path d="M73.7 166.4C79.9 165.2 89.5 156.2 96 146.3C85.6 151.8 75.6 160.5 73.7 166.4Z" fill="#b1a64f" opacity="0.55"/><path d="M56.5 151.3C56.4 142.8 46.1 132.8 32.7 128.7C38.3 140.9 48.1 151.6 56.5 151.3Z" fill="#807e2c"/><path d="M51.8 145.4C50.4 140.9 42.9 134.6 35.1 130.7C40 138 47.2 144.5 51.8 145.4Z" fill="#aea84e" opacity="0.55"/><path d="M69.9 138C80.5 140.4 97.2 129.8 109 116C90.5 117.9 73.3 127.6 69.9 138Z" fill="#767726"/><path d="M77.7 131.8C83.9 131.9 95.9 125.7 105.1 118C93.4 120.8 81.3 126.7 77.7 131.8Z" fill="#a8a44b" opacity="0.55"/><path d="M57.4 123.7C56.3 116.6 46.6 110.2 35.2 109.5C41.2 118.6 50.5 125.6 57.4 123.7Z" fill="#6c6a23"/><path d="M52.9 119.7C51.2 116.2 44.3 112.4 37.4 110.7C42.3 115.8 49.1 119.9 52.9 119.7Z" fill="#a39d49" opacity="0.55"/><path d="M68.9 123.7C76.8 126.5 86.4 118.9 92.1 108.3C79.5 108.5 69.4 115.4 68.9 123.7Z" fill="#6c6d23"/><path d="M73.6 119C77.8 119.6 84.9 115.3 89.8 109.6C82.4 111.1 75.2 115 73.6 119Z" fill="#a39f49" opacity="0.55"/><path d="M56.7 101.2C55.8 92.6 45.6 87.4 33.4 89.7C39.5 99.7 49.3 105.7 56.7 101.2Z" fill="#807e28"/><path d="M52.1 97.1C50.2 93.2 43 90.6 35.8 90.7C41 95.6 48.1 98.6 52.1 97.1Z" fill="#aea84c" opacity="0.55"/><path d="M76.3 103.3C85.7 103.1 93.6 91.1 96.1 77.6C82.7 82.8 74.1 94.2 76.3 103.3Z" fill="#94912e"/><path d="M80.3 96.3C85 95.2 90.9 87.9 94.1 79.9C86.8 84.4 80.6 91.5 80.3 96.3Z" fill="#b9b34f" opacity="0.55"/><path d="M56 80.8C54.9 72.2 43.5 64.8 30 64.2C36.8 75.3 47.7 83.5 56 80.8Z" fill="#8c8a2c"/><path d="M50.8 75.9C48.8 71.8 40.7 67.4 32.6 65.7C38.3 71.7 46.2 76.4 50.8 75.9Z" fill="#b4af4e" opacity="0.55"/><path d="M71.4 88C80 90.7 89.4 82.1 94.3 70.5C81.1 71.2 71.1 79 71.4 88Z" fill="#8f8c2c"/><path d="M76 82.6C80.5 83.1 87.4 78.3 92 72C84.4 73.8 77.3 78.3 76 82.6Z" fill="#b6b04e" opacity="0.55"/><path d="M60.3 71.6C63.9 64.9 59.1 57.6 49.3 55.2C48.8 64.6 52.8 72.4 60.3 71.6Z" fill="#948f2d"/><path d="M58.1 66.7C58.8 63.3 55.3 59 50.4 56.6C51.4 62 54.6 66.5 58.1 66.7Z" fill="#b9b24f" opacity="0.55"/><path d="M70.5 71.6C78.7 71.6 84.8 61.5 86.1 49.9C74.6 54.2 67.9 63.8 70.5 71.6Z" fill="#9c9332"/><path d="M73.6 65.7C77.7 64.8 82.3 58.6 84.5 51.9C78.5 55.6 73.5 61.6 73.6 65.7Z" fill="#bdb452" opacity="0.55"/><path d="M64.1 93.1C72.2 88.4 71.9 76.6 64.5 66.3C56.9 76.4 56.2 88.1 64.1 93.1Z" fill="#635f1f"/><path d="M64.2 85.7C67.4 82.7 67.3 75.3 64.5 68.8C61.4 75.1 61.1 82.6 64.2 85.7Z" fill="#9e9747" opacity="0.55"/></g>
<path d="M54 217.4C55 167.1 58.2 142.4 62 114.5C64.2 142.4 64 167.1 65 217.4Z" fill="#2a1b08" opacity="0.8"/>
</g>
<g filter="url(#p0hb)">
<path d="M59.2 58Q59.2 52.8 56.8 46Q54.1 40.7 53.3 33.6M60.5 58Q60.6 53.1 59.5 46Q58.9 41.1 58.1 34.8M63.1 58Q63.1 51.6 63.4 46Q62.6 42 63.8 36.8M65.7 58Q66.5 51.5 66.5 46Q66 40.4 67.7 37.1M68.4 58Q68.5 52.4 70.8 46Q72.7 41.1 74.5 37.9" fill="none" stroke="#efe9d2" stroke-width="2.2" stroke-linecap="round" opacity="0.85"/>
<path d="M62 56Q60.5 47.1 60 40Q56.5 31.7 54 24M58 58Q54.3 50.3 52 44Q49.3 38.5 48 34M50 62Q46.1 57.9 42 52Q37.4 44.9 32 38M76 60Q77.8 51.3 82 44Q85.3 36.8 88 30M40 72Q34.8 68 28 62Q21.5 55.7 16 50M100 72Q109.8 69.9 118 68Q126 64.2 136 60" fill="none" stroke="#f8f6ee" stroke-width="2.6" stroke-linecap="round" stroke-linejoin="round"/>
<path d="M34 84Q27.5 78.4 22 72Q14 67.5 8 64M30 70Q31.9 75.7 32 82Q32.1 86.8 30 92M86 104Q92.3 102 100 98Q106.5 93.1 112 88M56 112Q61 121.1 64 130Q68.1 138.5 70 146" fill="none" stroke="#f4f1e6" stroke-width="1.6" stroke-linecap="round" stroke-linejoin="round" opacity="0.9"/>
</g>
</svg>
</div>
<div class="photo" style="left:286.6px;top:379.2px;width:141px;height:216.4px">
<svg width="141" height="216.4" viewBox="0 0 141 216.4" role="img" aria-label="moss shoot photograph">
<defs>
<linearGradient id="p1sky" x1="0" y1="0" x2="0" y2="1"><stop offset="0" stop-color="#515459"/><stop offset="0.5" stop-color="#42454a"/><stop offset="1" stop-color="#383b40"/></linearGradient>
<radialGradient id="p1gl" cx="1" cy="0" r="0.9"><stop offset="0" stop-color="#8a8d8e" stop-opacity="0.55"/><stop offset="1" stop-color="#8a8d8e" stop-opacity="0"/></radialGradient>
<linearGradient id="p1gnd" x1="0" y1="0" x2="0" y2="1"><stop offset="0" stop-color="#6d7276"/><stop offset="0.025" stop-color="#abb0b3"/><stop offset="0.09" stop-color="#c4c7c7"/><stop offset="0.15" stop-color="#d0ccc0"/><stop offset="0.21" stop-color="#d8c8a2"/><stop offset="0.30" stop-color="#dcc28c"/><stop offset="0.5" stop-color="#d9bc82"/><stop offset="0.75" stop-color="#ceac72"/><stop offset="1" stop-color="#c6a66a"/></linearGradient>
<filter id="p1sn" x="0" y="0" width="100%" height="100%" color-interpolation-filters="sRGB"><feTurbulence type="fractalNoise" baseFrequency="0.075 0.1" numOctaves="3" seed="21"/><feColorMatrix type="matrix" values="1.8 0 0 0 -0.36  1.8 0 0 0 -0.36  1.8 0 0 0 -0.36  0 0 0 0 1"/><feComponentTransfer><feFuncR type="table" tableValues="0.56 0.70 0.80 0.87 0.93 0.98"/><feFuncG type="table" tableValues="0.43 0.57 0.68 0.77 0.86 0.94"/><feFuncB type="table" tableValues="0.20 0.32 0.43 0.55 0.68 0.84"/></feComponentTransfer></filter>
<linearGradient id="p1fade" x1="0" y1="0" x2="0" y2="1"><stop offset="0" stop-color="#fff" stop-opacity="0"/><stop offset="0.35" stop-color="#fff" stop-opacity="0.1"/><stop offset="0.6" stop-color="#fff" stop-opacity="0.6"/><stop offset="1" stop-color="#fff" stop-opacity="1"/></linearGradient>
<mask id="p1m" maskUnits="userSpaceOnUse" x="0" y="0" width="141" height="216.4"><rect x="0" y="113.6" width="141" height="102.8" fill="url(#p1fade)"/></mask>
<filter id="p1bl" x="-10%" y="-10%" width="120%" height="120%" color-interpolation-filters="sRGB"><feTurbulence type="fractalNoise" baseFrequency="0.055" numOctaves="2" seed="61" result="n1"/><feDisplacementMap in="SourceGraphic" in2="n1" scale="7" xChannelSelector="R" yChannelSelector="G" result="d"/><feTurbulence type="fractalNoise" baseFrequency="0.1" numOctaves="2" seed="62" result="n2"/><feColorMatrix in="n2" type="matrix" values="0 0 0 0 0.07  0 0 0 0 0.05  0 0 0 0 0  -2.0 0 0 0 1.15" result="dk"/><feComposite in="dk" in2="d" operator="in" result="dk2"/><feColorMatrix in="n2" type="matrix" values="0 0 0 0 0.85  0 0 0 0 0.8  0 0 0 0 0.35  0 2.0 0 0 -1.2" result="lt"/><feComposite in="lt" in2="d" operator="in" result="lt2"/><feMerge result="m"><feMergeNode in="d"/><feMergeNode in="dk2"/><feMergeNode in="lt2"/></feMerge><feGaussianBlur in="m" stdDeviation="0.65"/></filter>
<filter id="p1hb" x="-10%" y="-10%" width="120%" height="120%"><feTurbulence type="fractalNoise" baseFrequency="0.06" numOctaves="2" seed="63" result="n1"/><feDisplacementMap in="SourceGraphic" in2="n1" scale="5" xChannelSelector="R" yChannelSelector="G" result="d"/><feGaussianBlur in="d" stdDeviation="0.5"/></filter>
<linearGradient id="p1hz" x1="0" y1="0" x2="0" y2="1"><stop offset="0" stop-color="#34373d" stop-opacity="1"/><stop offset="1" stop-color="#9aa0a4" stop-opacity="0"/></linearGradient>
</defs>
<rect width="141" height="91.6" fill="url(#p1sky)"/>
<rect width="141" height="91.6" fill="url(#p1gl)"/>
<rect y="88.6" width="141" height="127.8" fill="url(#p1gnd)"/>
<rect y="88.1" width="141" height="5" fill="url(#p1hz)"/>
<rect width="141" height="216.4" filter="url(#p1sn)" mask="url(#p1m)" opacity="0.8"/>
<g filter="url(#p1bl)">
<path d="M61.4 218.4 C59.2 141.5 62.8 86.6 74 52 C85.2 86.6 80.8 141.5 78.6 218.4Z" fill="#38320e"/>
<g><path d="M68.3 205.9C73.3 199.5 69.6 188.5 60.9 180.6C57.8 192 60.7 203.2 68.3 205.9Z" fill="#544a1a"/><path d="M72.4 201.8C82.5 197.9 89.1 180.9 88.5 163.6C75.7 175.3 68.2 191.9 72.4 201.8Z" fill="#4f4818"/><path d="M69 179.1C73.5 170.6 67.7 156.1 56.8 145.8C55.1 160.7 60.1 175.5 69 179.1Z" fill="#4e4818"/><path d="M73 179.1C81.9 173.8 86.4 156.3 84.2 139.4C73.5 152.6 68.1 170 73 179.1Z" fill="#4f4818"/><path d="M69.6 155.3C72.6 148 67.4 134.8 58.5 125.1C58 138.3 62.5 151.7 69.6 155.3Z" fill="#464315"/><path d="M73.9 141.9C82.5 138.7 88.4 124.4 88.2 109.6C77.2 119.4 70.5 133.4 73.9 141.9Z" fill="#484616"/><path d="M70.2 127.4C72.1 120.2 65.7 107.8 56.5 99C57.7 111.7 63.5 124.3 70.2 127.4Z" fill="#444015"/><path d="M74.2 127.4C81.5 125.4 85.5 114.9 84.1 103.8C75.2 110.6 70.5 120.8 74.2 127.4Z" fill="#3e3b12"/><path d="M70.8 104.6C75.1 97.7 70.4 86.8 61 79.5C59 91.3 62.9 102.5 70.8 104.6Z" fill="#4a4616"/><path d="M74.7 106.7C82.5 101.7 85.5 86 82.4 71.2C73.5 83.4 69.7 98.9 74.7 106.7Z" fill="#54521a"/><path d="M71.3 84C74.2 75.7 67.6 61.3 57.1 51C57.3 65.7 63.2 80.4 71.3 84Z" fill="#484515"/><path d="M75.1 91.2C83.3 88.7 88.2 76 87.1 62.9C76.9 71.2 71.2 83.5 75.1 91.2Z" fill="#4b4816"/><path d="M71.5 74.7C76.5 69.4 73.9 59.7 66.7 52.5C63.1 62.1 64.8 71.9 71.5 74.7Z" fill="#555118"/><path d="M75.5 74.7C82.4 72.4 84.7 62.7 81.7 52.9C74 59.6 70.9 69.1 75.5 74.7Z" fill="#55511a"/></g>
<g><path d="M65.2 201.9C69.8 192.3 62 182.9 48.7 179.6C47.9 193.3 54.7 203.5 65.2 201.9Z" fill="#463d16"/><path d="M76.7 197.8C89.8 201.4 104.2 188.6 110.4 170.1C91 172.6 75.7 184.3 76.7 197.8Z" fill="#423c14"/><path d="M64.7 175.1C67.3 163.1 55.2 151.9 38.4 148.6C41.6 165.4 52.7 177.5 64.7 175.1Z" fill="#3e3a13"/><path d="M78.4 175.1C91.3 174.5 101.7 158.5 103.3 139.5C86 147.5 74.5 162.8 78.4 175.1Z" fill="#3d3812"/><path d="M66.5 151.3C67.6 141.6 56.7 131.4 42.6 127.3C46.6 141.5 56.7 152.4 66.5 151.3Z" fill="#3c3912"/><path d="M80.5 137.9C91.4 141.4 104.2 131.1 110.2 115.6C93.7 117.1 80.2 126.3 80.5 137.9Z" fill="#383710"/><path d="M67.1 123.4C65.8 114.4 53.3 106.9 39.2 105.5C46.4 117.6 58.4 125.9 67.1 123.4Z" fill="#34320f"/><path d="M79.7 123.4C88.8 126.8 97.6 118.8 100.3 106.1C87.4 106.6 77.9 113.7 79.7 123.4Z" fill="#34330f"/><path d="M66.5 100.6C69.1 90.3 59.5 82.3 45.6 81.5C47.6 95.2 56.4 104.1 66.5 100.6Z" fill="#3c3911"/><path d="M85.9 102.7C97.4 100.8 104.5 85.6 103.2 68.6C88.8 77.6 80.7 92.3 85.9 102.7Z" fill="#424014"/><path d="M65.9 80C65.8 69.1 52.4 59.2 36.2 56.6C42.5 71.7 55.2 82.5 65.9 80Z" fill="#403e12"/><path d="M81.7 87.2C92.1 90.8 102.8 81.4 106.9 66.8C91.8 67.8 80.3 76.3 81.7 87.2Z" fill="#413e12"/><path d="M69.5 70.7C75.1 62.9 69.8 53.8 58.6 49.4C55.7 61.1 60 70.8 69.5 70.7Z" fill="#424012"/><path d="M80.9 70.7C90.3 72.1 96 63.2 94.8 51.2C83 54 76.5 62.2 80.9 70.7Z" fill="#464114"/><path d="M74.1 92.4C84.6 87.6 84.6 74.6 75.6 62.9C65.5 73.6 64.2 86.6 74.1 92.4Z" fill="#302e0e"/></g>
<g><path d="M65.2 201.1C67.9 192.9 60.8 183.3 48.7 179.6C50.1 191.6 56.6 201.7 65.2 201.1Z" fill="#85712d"/><path d="M61.9 195C62 190.8 56.7 185 50.3 181.6C52.7 188.4 57.7 194.5 61.9 195Z" fill="#b1a14f" opacity="0.55"/><path d="M76.7 197C88.1 198.8 102.2 186.1 110.4 170.1C92.2 173.6 77.5 185.5 76.7 197Z" fill="#7b6e29"/><path d="M83.4 189.4C89.6 189.1 99.9 181.5 107 172.6C96.2 176.4 85.7 183.6 83.4 189.4Z" fill="#aba04d" opacity="0.55"/><path d="M64.7 174.3C65.5 164 54 152.7 38.4 148.6C43.7 163.2 54.5 175.2 64.7 174.3Z" fill="#726927"/><path d="M59.5 167.1C58.2 161.9 50 154.9 41.1 150.9C46.2 159.2 54.1 166.5 59.5 167.1Z" fill="#a69d4b" opacity="0.55"/><path d="M78.4 174.3C89.3 172.6 99.3 156.6 103.3 139.5C87.4 148.1 76.5 163.4 78.4 174.3Z" fill="#6f6525"/><path d="M83.4 165.3C89 163.1 96.5 153.1 100.8 142.7C91.9 149.5 84.1 159.3 83.4 165.3Z" fill="#a59b4a" opacity="0.55"/><path d="M66.5 150.5C66.3 142.1 55.9 131.7 42.6 127.3C48.2 139.6 58.1 150.5 66.5 150.5Z" fill="#6b6824"/><path d="M61.7 144.5C60.2 140.1 52.8 133.5 45 129.4C49.9 136.8 57.1 143.5 61.7 144.5Z" fill="#a29c4a" opacity="0.55"/><path d="M80.5 137.1C90 139 102.5 128.8 110.2 115.6C94.6 117.8 81.6 127.4 80.5 137.1Z" fill="#61621f"/><path d="M86.4 131C91.7 131 100.8 124.9 107.2 117.6C97.9 120.4 88.6 126.2 86.4 131Z" fill="#9d9947" opacity="0.55"/><path d="M67.1 122.6C64.8 115 52.7 107.3 39.2 105.5C47.6 115.6 59.4 124 67.1 122.6Z" fill="#58551d"/><path d="M61.5 118C59 114.2 50.4 109.5 42 106.9C48.5 112.8 57 117.8 61.5 118Z" fill="#989246" opacity="0.55"/><path d="M79.7 122.6C87.4 124.7 95.9 116.7 100.3 106.1C88.3 107.1 79.3 114.5 79.7 122.6Z" fill="#58581d"/><path d="M83.8 117.7C87.9 118 94.2 113.4 98.3 107.6C91.4 109.4 84.9 113.8 83.8 117.7Z" fill="#989346" opacity="0.55"/><path d="M66.5 99.8C67.5 91.1 58.4 82.9 45.6 81.5C49.5 93.1 58 101.9 66.5 99.8Z" fill="#6b6821"/><path d="M62.3 94.4C61.4 90.1 54.9 85.3 47.7 83.1C51.6 89.5 58 94.6 62.3 94.4Z" fill="#a29c48" opacity="0.55"/><path d="M85.9 101.9C95.4 99.2 102.1 84.1 103.2 68.6C90.2 77.9 82.6 92.6 85.9 101.9Z" fill="#7c7a28"/><path d="M89.4 93.5C94 90.9 99.2 81.3 101.5 71.8C94.6 78.7 89.1 88.2 89.4 93.5Z" fill="#aca64c" opacity="0.55"/><path d="M65.9 79.2C64.5 69.9 51.5 59.8 36.2 56.6C44.1 69.6 56.6 80.3 65.9 79.2Z" fill="#767324"/><path d="M59.9 73.1C57.7 68.4 48.4 62.1 39.1 58.6C45.6 66.1 54.7 72.6 59.9 73.1Z" fill="#a8a24a" opacity="0.55"/><path d="M81.7 86.4C90.6 88.6 101.1 79.1 106.9 66.8C92.8 68.5 81.8 77.2 81.7 86.4Z" fill="#787524"/><path d="M86.7 80.7C91.5 80.9 99.2 75.4 104.4 68.6C96.1 71 88.3 76.2 86.7 80.7Z" fill="#aaa34a" opacity="0.55"/><path d="M69.5 69.9C73.3 63.1 68.6 54 58.6 49.4C57.9 59.8 61.8 69.3 69.5 69.9Z" fill="#7c7825"/><path d="M67.3 64.2C68.2 60.6 64.7 54.9 59.7 51.2C60.5 57.4 63.7 63.2 67.3 64.2Z" fill="#aca54a" opacity="0.55"/><path d="M80.9 69.9C88.7 70.4 93.9 61.6 94.8 51.2C84.1 54.3 78.2 62.6 80.9 69.9Z" fill="#847c2a"/><path d="M83.7 64.6C87.4 64.1 91.6 58.9 93.4 52.9C87.9 55.8 83.5 60.8 83.7 64.6Z" fill="#b0a74d" opacity="0.55"/><path d="M74.1 91.6C82.2 86.8 82.4 74.1 75.6 62.9C67.7 73.4 66.6 86 74.1 91.6Z" fill="#4f4c19"/><path d="M74.4 83.8C77.7 80.7 78 72.6 75.4 65.5C72.2 72.3 71.5 80.4 74.4 83.8Z" fill="#938d44" opacity="0.55"/></g>
<path d="M65 217.4C66 166.5 68.8 141.5 72.4 113.2C74.8 141.5 75 166.5 76 217.4Z" fill="#2a1b08" opacity="0.8"/>
</g>
<g filter="url(#p1hb)">
<path d="M70 56Q67.7 50.5 67.4 44Q66.7 39.9 63.5 35.7M71.5 56Q70.3 50.3 70.4 44Q69.7 36.6 68.7 28.5M73.4 56Q74.1 49.6 72.8 44Q72.7 37.8 72 32.5M75.7 56Q76.6 49.7 76.2 44Q77 36.4 77 27.9M79.8 56Q82.5 51.1 82.9 44Q85.5 38.9 87.6 31.9" fill="none" stroke="#efe9d2" stroke-width="2.2" stroke-linecap="round" opacity="0.85"/>
<path d="M70 52Q66 43.7 62 36Q58.4 28.9 56 20M66 54Q60.2 45 56 38Q53.7 32.7 50 26M74 52Q73 45.8 72 38Q72.9 32.4 76 28M88 54Q88.5 44.8 90 36Q85.2 25 82 16M90 50Q90.6 44 92 36Q95.2 30.6 96 24M50 70Q44.9 62.4 40 56Q35.1 48.1 28 40" fill="none" stroke="#f8f6ee" stroke-width="2.6" stroke-linecap="round" stroke-linejoin="round"/>
<path d="M44 84Q39.5 75.9 34 70Q24.3 63.8 16 56M40 60Q39.7 68.9 38 76Q40.2 85.8 42 96M84 88Q90.2 85.8 96 82Q100.5 78.1 106 74M70 104Q72.5 113.6 76 122Q77.8 131.4 82 140" fill="none" stroke="#f4f1e6" stroke-width="1.6" stroke-linecap="round" stroke-linejoin="round" opacity="0.9"/>
</g>
</svg>
</div>
<div class="photo" style="left:431.8px;top:379.2px;width:142.2px;height:216.4px">
<svg width="142.2" height="216.4" viewBox="0 0 142.2 216.4" role="img" aria-label="moss shoot photograph">
<defs>
<linearGradient id="p2sky" x1="0" y1="0" x2="0" y2="1"><stop offset="0" stop-color="#515459"/><stop offset="0.5" stop-color="#42454a"/><stop offset="1" stop-color="#383b40"/></linearGradient>
<radialGradient id="p2gl" cx="1" cy="0" r="0.9"><stop offset="0" stop-color="#8a8d8e" stop-opacity="0.55"/><stop offset="1" stop-color="#8a8d8e" stop-opacity="0"/></radialGradient>
<linearGradient id="p2gnd" x1="0" y1="0" x2="0" y2="1"><stop offset="0" stop-color="#6d7276"/><stop offset="0.025" stop-color="#abb0b3"/><stop offset="0.09" stop-color="#c4c7c7"/><stop offset="0.15" stop-color="#d0ccc0"/><stop offset="0.21" stop-color="#d8c8a2"/><stop offset="0.30" stop-color="#dcc28c"/><stop offset="0.5" stop-color="#d9bc82"/><stop offset="0.75" stop-color="#ceac72"/><stop offset="1" stop-color="#c6a66a"/></linearGradient>
<filter id="p2sn" x="0" y="0" width="100%" height="100%" color-interpolation-filters="sRGB"><feTurbulence type="fractalNoise" baseFrequency="0.075 0.1" numOctaves="3" seed="22"/><feColorMatrix type="matrix" values="1.8 0 0 0 -0.36  1.8 0 0 0 -0.36  1.8 0 0 0 -0.36  0 0 0 0 1"/><feComponentTransfer><feFuncR type="table" tableValues="0.56 0.70 0.80 0.87 0.93 0.98"/><feFuncG type="table" tableValues="0.43 0.57 0.68 0.77 0.86 0.94"/><feFuncB type="table" tableValues="0.20 0.32 0.43 0.55 0.68 0.84"/></feComponentTransfer></filter>
<linearGradient id="p2fade" x1="0" y1="0" x2="0" y2="1"><stop offset="0" stop-color="#fff" stop-opacity="0"/><stop offset="0.35" stop-color="#fff" stop-opacity="0.1"/><stop offset="0.6" stop-color="#fff" stop-opacity="0.6"/><stop offset="1" stop-color="#fff" stop-opacity="1"/></linearGradient>
<mask id="p2m" maskUnits="userSpaceOnUse" x="0" y="0" width="142.2" height="216.4"><rect x="0" y="113.6" width="142.2" height="102.8" fill="url(#p2fade)"/></mask>
<filter id="p2bl" x="-10%" y="-10%" width="120%" height="120%" color-interpolation-filters="sRGB"><feTurbulence type="fractalNoise" baseFrequency="0.055" numOctaves="2" seed="62" result="n1"/><feDisplacementMap in="SourceGraphic" in2="n1" scale="7" xChannelSelector="R" yChannelSelector="G" result="d"/><feTurbulence type="fractalNoise" baseFrequency="0.1" numOctaves="2" seed="63" result="n2"/><feColorMatrix in="n2" type="matrix" values="0 0 0 0 0.07  0 0 0 0 0.05  0 0 0 0 0  -2.0 0 0 0 1.15" result="dk"/><feComposite in="dk" in2="d" operator="in" result="dk2"/><feColorMatrix in="n2" type="matrix" values="0 0 0 0 0.85  0 0 0 0 0.8  0 0 0 0 0.35  0 2.0 0 0 -1.2" result="lt"/><feComposite in="lt" in2="d" operator="in" result="lt2"/><feMerge result="m"><feMergeNode in="d"/><feMergeNode in="dk2"/><feMergeNode in="lt2"/></feMerge><feGaussianBlur in="m" stdDeviation="0.65"/></filter>
<filter id="p2hb" x="-10%" y="-10%" width="120%" height="120%"><feTurbulence type="fractalNoise" baseFrequency="0.06" numOctaves="2" seed="64" result="n1"/><feDisplacementMap in="SourceGraphic" in2="n1" scale="5" xChannelSelector="R" yChannelSelector="G" result="d"/><feGaussianBlur in="d" stdDeviation="0.5"/></filter>
<linearGradient id="p2hz" x1="0" y1="0" x2="0" y2="1"><stop offset="0" stop-color="#34373d" stop-opacity="1"/><stop offset="1" stop-color="#9aa0a4" stop-opacity="0"/></linearGradient>
</defs>
<rect width="142.2" height="91.6" fill="url(#p2sky)"/>
<rect width="142.2" height="91.6" fill="url(#p2gl)"/>
<rect y="88.6" width="142.2" height="127.8" fill="url(#p2gnd)"/>
<rect y="88.1" width="142.2" height="5" fill="url(#p2hz)"/>
<rect width="142.2" height="216.4" filter="url(#p2sn)" mask="url(#p2m)" opacity="0.8"/>
<g filter="url(#p2bl)">
<path d="M59.7 218.4 C57.4 141.5 59.9 86.6 72 52 C84.1 86.6 80.6 141.5 78.3 218.4Z" fill="#342f0d"/>
<g><path d="M67.3 205.9C72.4 199.9 68.8 190.8 60 184.8C56.7 194.9 59.5 204.3 67.3 205.9Z" fill="#453d15"/><path d="M71.3 201.8C80.8 196.7 84.2 179.7 80.3 163.4C69.6 176.3 65.1 193.1 71.3 201.8Z" fill="#4b4417"/><path d="M67.7 179.1C72.4 169.2 66 150.9 54.3 137.1C52.8 155.2 58.3 173.8 67.7 179.1Z" fill="#484217"/><path d="M71.7 179.1C81.1 174.8 86.4 158.1 84.9 141.6C73.4 153.5 67.1 169.9 71.7 179.1Z" fill="#403b13"/><path d="M68.2 155.3C71.7 148.3 67.2 135.5 58.6 125.9C57.3 138.7 61.2 151.7 68.2 155.3Z" fill="#424014"/><path d="M72.4 141.9C81 136.3 85.5 118.2 83.7 100.9C73.3 114.8 67.9 132.7 72.4 141.9Z" fill="#403d13"/><path d="M68.7 127.4C71.8 120.6 67.4 107.6 59.5 97.6C58.6 110.3 62.3 123.5 68.7 127.4Z" fill="#3d3912"/><path d="M72.7 127.4C80 124.8 83.2 113.8 80.7 102.5C72.2 110.2 68.3 121 72.7 127.4Z" fill="#393611"/><path d="M69.1 104.6C74.2 97.5 70.3 84.7 61.1 75.1C58 88 61.1 101.1 69.1 104.6Z" fill="#423f13"/><path d="M73 106.7C81.2 102.6 84.8 87.9 82.1 73.7C72.6 84.6 68.1 99 73 106.7Z" fill="#4e4a17"/><path d="M69.5 84C74 77.4 70.3 65.5 61.9 56.8C59.2 68.7 62.1 80.7 69.5 84Z" fill="#423f13"/><path d="M73.3 91.2C81.4 88.2 84.7 75.8 81.8 63.3C72.5 72.1 68.3 84.2 73.3 91.2Z" fill="#464314"/><path d="M69.6 74.7C74.8 69.7 72.4 61.2 65.1 55C61.2 63.8 62.8 72.5 69.6 74.7Z" fill="#484515"/><path d="M73.6 74.7C80.5 71.7 82 61.7 78 52C70.6 59.5 68.3 69.4 73.6 74.7Z" fill="#4d4717"/></g>
<g><path d="M63.2 201.9C67.1 192.7 59.8 185.4 47.4 184.5C47.1 196.9 53.6 204.9 63.2 201.9Z" fill="#3e3613"/><path d="M76.2 197.8C89.3 196.6 97.6 180.3 96.6 161.6C80.1 170.4 70.5 186 76.2 197.8Z" fill="#3b3512"/><path d="M62.8 175.1C65.2 162.3 51.7 147 33.3 139.3C37.4 158.8 49.9 174.9 62.8 175.1Z" fill="#383311"/><path d="M77.5 175.1C89.9 176.3 102 162.5 106 144.5C88.4 149.8 75.4 162.8 77.5 175.1Z" fill="#373210"/><path d="M64.1 151.3C66.1 142 56.5 131.3 43.2 126.4C45.8 140.3 54.7 151.6 64.1 151.3Z" fill="#353310"/><path d="M79.1 137.9C91.1 136.3 101.7 119.7 104.2 100.9C87.6 110.1 76.1 126.1 79.1 137.9Z" fill="#32310e"/><path d="M64.6 123.4C66.3 114.7 57.1 103.5 44.5 97.5C47.3 111.2 55.8 122.8 64.6 123.4Z" fill="#2f2c0e"/><path d="M78.5 123.4C88 124.9 95.4 115.3 96.1 102.3C83.5 105.3 75.3 114.3 78.5 123.4Z" fill="#2f2e0e"/><path d="M64.2 100.6C68.6 90.8 60.2 79.3 46.4 73.8C46 88.7 53.4 100.8 64.2 100.6Z" fill="#35330f"/><path d="M83.2 102.7C94.4 102.5 102.9 89 103.5 72.9C88.8 79.4 79.4 92.2 83.2 102.7Z" fill="#3c3911"/><path d="M63.7 80C67.4 70.9 59.5 60.4 46.7 55.5C46.8 69.2 53.8 80.3 63.7 80Z" fill="#393710"/><path d="M80 87.2C90.6 88.4 98.3 77.3 98.7 62.9C84.8 66.9 76.1 77.3 80 87.2Z" fill="#3a3810"/><path d="M66.5 70.7C71.9 63.3 66.9 55.4 56.2 52.1C53.3 62.9 57.4 71.4 66.5 70.7Z" fill="#3c3810"/><path d="M79.4 70.7C88.8 70.1 92.6 60.1 89.3 48.5C78.5 53.7 73.6 63.3 79.4 70.7Z" fill="#3e3a12"/><path d="M72.1 92.4C82.6 88.2 83.6 74.9 75.7 62.4C65.1 72.7 62.9 85.8 72.1 92.4Z" fill="#2c2a0c"/></g>
<g><path d="M63.2 201.1C65.5 193.3 58.6 185.9 47.4 184.5C49.1 194.9 55.3 203 63.2 201.1Z" fill="#726127"/><path d="M60.1 196.1C60 192.2 55 187.9 49 186C51.5 191.7 56.2 196.3 60.1 196.1Z" fill="#a6984b" opacity="0.55"/><path d="M76.2 197C87.1 194.8 95 178.6 96.6 161.6C81.6 170.9 72.7 186.5 76.2 197Z" fill="#695e23"/><path d="M80.3 187.8C85.6 185.4 91.7 175.2 94.5 165C86.5 172 80.1 181.9 80.3 187.8Z" fill="#a19749" opacity="0.55"/><path d="M62.8 174.3C63.4 163 50.5 147.6 33.3 139.3C39.5 156.8 51.7 172.9 62.8 174.3Z" fill="#625921"/><path d="M56.9 165.3C55.5 159.2 46.2 149.3 36.3 142.5C42 153.1 51 163.3 56.9 165.3Z" fill="#9d9448" opacity="0.55"/><path d="M77.5 174.3C88.2 174.2 99.9 160.3 106 144.5C89.6 150.5 77.1 163.6 77.5 174.3Z" fill="#5f5720"/><path d="M83.2 166.4C88.9 165.1 97.6 156.6 103.2 147.3C93.6 152.5 84.7 160.8 83.2 166.4Z" fill="#9c9348" opacity="0.55"/><path d="M64.1 150.5C64.7 142.4 55.7 131.6 43.2 126.4C47.6 138.6 56.1 149.9 64.1 150.5Z" fill="#5b591f"/><path d="M60 144.4C59 140 52.4 133.1 45.3 128.6C49.3 136 55.7 143.1 60 144.4Z" fill="#9a9447" opacity="0.55"/><path d="M79.1 137.1C89.4 134.5 99.6 118 104.2 100.9C88.8 110.6 77.9 126.5 79.1 137.1Z" fill="#54531b"/><path d="M84.1 128.1C89.5 125.5 97.1 114.9 101.7 104.3C92.9 111.8 85.1 122.2 84.1 128.1Z" fill="#969145" opacity="0.55"/><path d="M64.6 122.6C65 114.9 56.3 103.7 44.5 97.5C48.9 109.6 57.1 121.3 64.6 122.6Z" fill="#4b4819"/><path d="M60.6 116.5C59.6 112.2 53.3 104.9 46.5 99.8C50.4 107.4 56.5 114.8 60.6 116.5Z" fill="#918b44" opacity="0.55"/><path d="M78.5 122.6C86.4 123.1 93.5 113.5 96.1 102.3C84.5 105.7 76.8 114.8 78.5 122.6Z" fill="#4b4b19"/><path d="M82 117C86 116.4 91.4 110.7 94.4 104.1C88 107.4 82.4 113 82 117Z" fill="#918c44" opacity="0.55"/><path d="M64.2 99.8C66.7 91.2 59 79.6 46.4 73.8C48.2 87 55.2 99.1 64.2 99.8Z" fill="#5b591d"/><path d="M60.6 92.9C60.6 88.2 55 81 48.1 76.2C50.8 84.1 56.1 91.5 60.6 92.9Z" fill="#9a9446" opacity="0.55"/><path d="M83.2 101.9C92.6 100.7 100.7 87.3 103.5 72.9C89.9 79.8 81.2 92.7 83.2 101.9Z" fill="#6b6822"/><path d="M87.3 94.4C92.1 92.7 98.2 84.3 101.5 75.6C94 81.2 87.6 89.3 87.3 94.4Z" fill="#a29c49" opacity="0.55"/><path d="M63.7 79.2C65.8 71.2 58.5 60.7 46.7 55.5C48.8 67.6 55.4 78.6 63.7 79.2Z" fill="#65621f"/><path d="M60.3 72.9C60.1 68.6 54.8 62 48.4 57.7C51.1 64.9 56.2 71.7 60.3 72.9Z" fill="#9f9947" opacity="0.55"/><path d="M80 86.4C88.8 86.5 96.2 75.5 98.7 62.9C86 67.4 77.9 77.8 80 86.4Z" fill="#67641f"/><path d="M83.7 80C88.2 79.1 93.8 72.4 96.8 65C89.9 69 84 75.5 83.7 80Z" fill="#a09a47" opacity="0.55"/><path d="M66.5 69.9C70.1 63.5 65.8 55.6 56.2 52.1C55.5 61.6 59.1 69.9 66.5 69.9Z" fill="#6b6620"/><path d="M64.4 64.8C65.2 61.4 61.9 56.6 57.2 53.7C58 59.2 61 64.2 64.4 64.8Z" fill="#a29b48" opacity="0.55"/><path d="M79.4 69.9C87 68.7 90.4 58.9 89.3 48.5C79.6 53.8 75.4 63.3 79.4 69.9Z" fill="#716924"/><path d="M81.4 64.1C84.9 62.8 87.8 56.7 88.3 50.4C83.6 54.5 80.4 60.5 81.4 64.1Z" fill="#a69d4a" opacity="0.55"/><path d="M72.1 91.6C80.3 87.3 81.4 74.4 75.7 62.4C67.2 72.6 65.2 85.4 72.1 91.6Z" fill="#444116"/><path d="M72.8 83.8C76.3 80.8 77.2 72.6 75.3 65.1C71.6 71.9 70.3 80 72.8 83.8Z" fill="#8d8742" opacity="0.55"/></g>
<path d="M64 217.4C65 166.5 67.3 141.5 70.8 113.2C73.3 141.5 74 166.5 75 217.4Z" fill="#2a1b08" opacity="0.8"/>
</g>
<g filter="url(#p2hb)">
<path d="M66.2 56Q65.2 49.8 64.6 44Q64.4 39.3 62.2 32.4M69.5 56Q69.8 49.2 68.2 44Q67.3 39.2 66.1 35M71.7 56Q70.4 50.1 71.4 44Q72 39.4 71.1 34.1M73.9 56Q74.4 50.8 75.4 44Q77.6 39.6 77.7 35.5M77.7 56Q79.1 51.2 80.1 44Q82.5 37.3 83.7 30.8" fill="none" stroke="#efe9d2" stroke-width="2.2" stroke-linecap="round" opacity="0.85"/>
<path d="M62 52Q59.5 44.3 56 36Q51.6 27.7 48 18M66 50Q64.8 42.3 62 34Q61.1 26.8 58 22M72 50Q72 42.3 72 34Q68.6 26.2 66 20M80 52Q82.5 43.8 84 36Q86.4 27.9 90 22M40 78Q38.1 68.6 34 60Q29.1 49.3 26 40M80 84Q84.6 78 88 70Q92.8 62.9 96 58" fill="none" stroke="#f8f6ee" stroke-width="2.6" stroke-linecap="round" stroke-linejoin="round"/>
<path d="M38 92Q35.4 83.9 34 74Q34.2 65.5 36 58M30 50Q32 55.9 36 62Q37.3 67.6 40 74M66 104Q69.7 114.8 74 124Q75.9 136.3 80 150M112 112Q120 108.7 128 106Q134.1 103.5 139 100" fill="none" stroke="#f4f1e6" stroke-width="1.6" stroke-linecap="round" stroke-linejoin="round" opacity="0.9"/>
</g>
</svg>
</div>
<div class="photo" style="left:578px;top:379.2px;width:139.6px;height:216.4px">
<svg width="139.6" height="216.4" viewBox="0 0 139.6 216.4" role="img" aria-label="moss shoot photograph">
<defs>
<linearGradient id="p3sky" x1="0" y1="0" x2="0" y2="1"><stop offset="0" stop-color="#515459"/><stop offset="0.5" stop-color="#42454a"/><stop offset="1" stop-color="#383b40"/></linearGradient>
<radialGradient id="p3gl" cx="1" cy="0" r="0.9"><stop offset="0" stop-color="#8a8d8e" stop-opacity="0.55"/><stop offset="1" stop-color="#8a8d8e" stop-opacity="0"/></radialGradient>
<linearGradient id="p3gnd" x1="0" y1="0" x2="0" y2="1"><stop offset="0" stop-color="#6d7276"/><stop offset="0.025" stop-color="#abb0b3"/><stop offset="0.09" stop-color="#c4c7c7"/><stop offset="0.15" stop-color="#d0ccc0"/><stop offset="0.21" stop-color="#d8c8a2"/><stop offset="0.30" stop-color="#dcc28c"/><stop offset="0.5" stop-color="#d9bc82"/><stop offset="0.75" stop-color="#ceac72"/><stop offset="1" stop-color="#c6a66a"/></linearGradient>
<filter id="p3sn" x="0" y="0" width="100%" height="100%" color-interpolation-filters="sRGB"><feTurbulence type="fractalNoise" baseFrequency="0.075 0.1" numOctaves="3" seed="23"/><feColorMatrix type="matrix" values="1.8 0 0 0 -0.36  1.8 0 0 0 -0.36  1.8 0 0 0 -0.36  0 0 0 0 1"/><feComponentTransfer><feFuncR type="table" tableValues="0.56 0.70 0.80 0.87 0.93 0.98"/><feFuncG type="table" tableValues="0.43 0.57 0.68 0.77 0.86 0.94"/><feFuncB type="table" tableValues="0.20 0.32 0.43 0.55 0.68 0.84"/></feComponentTransfer></filter>
<linearGradient id="p3fade" x1="0" y1="0" x2="0" y2="1"><stop offset="0" stop-color="#fff" stop-opacity="0"/><stop offset="0.35" stop-color="#fff" stop-opacity="0.1"/><stop offset="0.6" stop-color="#fff" stop-opacity="0.6"/><stop offset="1" stop-color="#fff" stop-opacity="1"/></linearGradient>
<mask id="p3m" maskUnits="userSpaceOnUse" x="0" y="0" width="139.6" height="216.4"><rect x="0" y="113.6" width="139.6" height="102.8" fill="url(#p3fade)"/></mask>
<filter id="p3bl" x="-10%" y="-10%" width="120%" height="120%" color-interpolation-filters="sRGB"><feTurbulence type="fractalNoise" baseFrequency="0.055" numOctaves="2" seed="63" result="n1"/><feDisplacementMap in="SourceGraphic" in2="n1" scale="7" xChannelSelector="R" yChannelSelector="G" result="d"/><feTurbulence type="fractalNoise" baseFrequency="0.1" numOctaves="2" seed="64" result="n2"/><feColorMatrix in="n2" type="matrix" values="0 0 0 0 0.07  0 0 0 0 0.05  0 0 0 0 0  -2.0 0 0 0 1.15" result="dk"/><feComposite in="dk" in2="d" operator="in" result="dk2"/><feColorMatrix in="n2" type="matrix" values="0 0 0 0 0.85  0 0 0 0 0.8  0 0 0 0 0.35  0 2.0 0 0 -1.2" result="lt"/><feComposite in="lt" in2="d" operator="in" result="lt2"/><feMerge result="m"><feMergeNode in="d"/><feMergeNode in="dk2"/><feMergeNode in="lt2"/></feMerge><feGaussianBlur in="m" stdDeviation="0.65"/></filter>
<filter id="p3hb" x="-10%" y="-10%" width="120%" height="120%"><feTurbulence type="fractalNoise" baseFrequency="0.06" numOctaves="2" seed="65" result="n1"/><feDisplacementMap in="SourceGraphic" in2="n1" scale="5" xChannelSelector="R" yChannelSelector="G" result="d"/><feGaussianBlur in="d" stdDeviation="0.5"/></filter>
<linearGradient id="p3hz" x1="0" y1="0" x2="0" y2="1"><stop offset="0" stop-color="#34373d" stop-opacity="1"/><stop offset="1" stop-color="#9aa0a4" stop-opacity="0"/></linearGradient>
</defs>
<rect width="139.6" height="91.6" fill="url(#p3sky)"/>
<rect width="139.6" height="91.6" fill="url(#p3gl)"/>
<rect y="88.6" width="139.6" height="127.8" fill="url(#p3gnd)"/>
<rect y="88.1" width="139.6" height="5" fill="url(#p3hz)"/>
<rect width="139.6" height="216.4" filter="url(#p3sn)" mask="url(#p3m)" opacity="0.8"/>
<g filter="url(#p3bl)">
<path d="M52.9 218.4 C50.4 141.5 48.9 86.6 62 52 C75.1 86.6 75.6 141.5 73.1 218.4Z" fill="#2e290c"/>
<g><path d="M60.9 205.9C67.1 200 64.8 188.3 56.6 179.1C51.8 190.3 53.2 202.2 60.9 205.9Z" fill="#463e16"/><path d="M64.9 201.8C74.5 196.9 77.5 180.6 72.9 165C62.2 177.3 58.2 193.4 64.9 201.8Z" fill="#443d15"/><path d="M60.8 179.1C67.1 171.2 63.6 155.5 53.9 143.3C49.5 158.2 52 174.1 60.8 179.1Z" fill="#3f3912"/><path d="M64.8 179.1C73.2 173 74.9 155.8 69.6 140.1C60.6 154 58 171.1 64.8 179.1Z" fill="#3e3813"/><path d="M60.6 155.3C65.6 149.6 63.4 138 56.5 128.7C52.7 139.6 54.2 151.4 60.6 155.3Z" fill="#3f3c14"/><path d="M64.5 141.9C73.2 136.7 77.3 119.6 74.9 103.2C64.6 116.2 59.6 133.1 64.5 141.9Z" fill="#393611"/><path d="M60.4 127.4C63.9 120.9 60 108.6 52.3 99.2C50.8 111.2 54.1 123.7 60.4 127.4Z" fill="#393511"/><path d="M64.4 127.4C71.8 124.4 74.2 113.1 70.7 102.1C62.5 110.3 59.4 121.3 64.4 127.4Z" fill="#3b3812"/><path d="M60.3 104.6C66.2 98.4 63.4 86.5 54.8 77.4C50.5 89.1 52.4 101.1 60.3 104.6Z" fill="#3c3812"/><path d="M64.3 106.7C72.1 102.4 73.5 89.3 68.6 77.1C60.4 87.4 58.1 100.4 64.3 106.7Z" fill="#423e13"/><path d="M60.2 84C64.9 77.3 61.1 65.4 52.4 56.6C49.6 68.7 52.6 80.8 60.2 84Z" fill="#423e14"/><path d="M64.2 91.2C72 87.1 73.7 74 69.1 61.8C60.7 71.9 58.2 84.8 64.2 91.2Z" fill="#3c3811"/><path d="M60.1 74.7C65.9 70.2 64.1 61.8 57 55.5C52.3 63.7 53.3 72.2 60.1 74.7Z" fill="#423d13"/><path d="M64.1 74.7C71.1 72 72.2 62.7 67.7 53.8C60.4 60.7 58.5 69.8 64.1 74.7Z" fill="#464015"/></g>
<g><path d="M55.9 201.9C62.4 194.1 57.5 182.5 46 175.1C42 188.1 45.8 200.1 55.9 201.9Z" fill="#342d10"/><path d="M70.5 197.8C83.1 196.2 90.5 180.4 88.7 162.5C73.1 171.5 64.5 186.7 70.5 197.8Z" fill="#322c0e"/><path d="M55.1 175.1C61.1 164.8 53.7 149.7 39.5 140C37.2 157 43.5 172.7 55.1 175.1Z" fill="#302b0e"/><path d="M71 175.1C82.3 170.5 86.6 152.8 82.2 135.3C69.2 147.9 63.7 165.3 71 175.1Z" fill="#2f2a0e"/><path d="M55.6 151.3C60.7 144.1 56 132.5 46.1 124.6C43.3 137 47 148.9 55.6 151.3Z" fill="#2e2b0e"/><path d="M71.3 137.9C82.9 136.4 92.6 120.6 94.6 102.7C78.8 111.5 68.1 126.7 71.3 137.9Z" fill="#2c2a0c"/><path d="M55.4 123.4C57.4 115.1 49.1 104.3 37.4 98.3C39.3 111.3 46.9 122.6 55.4 123.4Z" fill="#2a270c"/><path d="M70.6 123.4C80.1 123.3 85.9 112.7 84.8 99.9C73 104.9 66.3 115 70.6 123.4Z" fill="#2a280c"/><path d="M54.7 100.6C60.4 92.1 54.4 80.7 42.2 74.2C39.5 87.8 44.4 99.6 54.7 100.6Z" fill="#2e2b0d"/><path d="M73.4 102.7C83.6 100.1 87.4 86.8 83.3 72.8C71.7 81.6 66.8 94.6 73.4 102.7Z" fill="#322f0e"/><path d="M54 80C57.4 70.9 49.4 60.5 36.6 55.6C37.1 69.2 44.3 80.2 54 80Z" fill="#302e0e"/><path d="M71 87.2C81.3 85.1 85.7 71.9 82.2 57.9C70.2 66.1 64.8 78.8 71 87.2Z" fill="#312e0e"/><path d="M55.6 70.7C61.9 64.4 58.3 56.2 48.6 51.5C44.2 61.4 46.8 70 55.6 70.7Z" fill="#322e0e"/><path d="M70.3 70.7C79.3 69.9 82.4 60.5 78.5 49.9C68.4 55 64.3 64 70.3 70.7Z" fill="#342f0f"/><path d="M62.8 92.4C73.2 88.3 74.7 74.8 67.6 61.8C56.9 72 54.2 85.4 62.8 92.4Z" fill="#28250b"/></g>
<g><path d="M55.9 201.1C60.4 194 56.3 182.5 46 175.1C44.4 187 47.7 198.8 55.9 201.1Z" fill="#574a1e"/><path d="M53.9 194.3C55.1 190.2 51.9 182.9 47 177.5C47.3 184.8 50.2 192.3 53.9 194.3Z" fill="#978c46" opacity="0.55"/><path d="M70.5 197C80.9 194.5 87.9 178.8 88.7 162.5C74.6 171.8 66.7 187.1 70.5 197Z" fill="#52481b"/><path d="M74.2 188C79.2 185.6 84.6 175.7 86.9 165.8C79.5 172.8 73.7 182.5 74.2 188Z" fill="#958b45" opacity="0.55"/><path d="M55.1 174.3C59 165 52.3 149.9 39.5 140C39.7 155.7 45.6 171.2 55.1 174.3Z" fill="#4d451a"/><path d="M52 165.6C52.7 160.2 47.7 150.5 41.1 143.2C42.8 152.9 47.4 162.8 52 165.6Z" fill="#928944" opacity="0.55"/><path d="M71 174.3C80.1 169.3 84 151.8 82.2 135.3C70.7 148 65.9 165.2 71 174.3Z" fill="#4b4319"/><path d="M73.2 164.6C77.4 160.8 80.7 149.5 81 138.9C75.4 147.9 71.8 159.1 73.2 164.6Z" fill="#918844" opacity="0.55"/><path d="M55.6 150.5C59.1 143.9 55.1 132.4 46.1 124.6C45.4 136 48.6 147.7 55.6 150.5Z" fill="#484419"/><path d="M53.7 144.1C54.5 140.2 51.4 132.7 47 126.9C47.6 134.2 50.4 141.8 53.7 144.1Z" fill="#8f8844" opacity="0.55"/><path d="M71.3 137.1C81.1 134.7 90.5 119 94.6 102.7C80 111.9 69.9 127.1 71.3 137.1Z" fill="#434116"/><path d="M76 128.5C81.1 126 88.1 116 92.2 105.9C84 113.1 76.7 122.9 76 128.5Z" fill="#8c8742" opacity="0.55"/><path d="M55.4 122.6C56.1 115.3 48.4 104.4 37.4 98.3C41 109.9 48.2 121.2 55.4 122.6Z" fill="#3e3a14"/><path d="M51.8 116.7C51.1 112.6 45.4 105.5 39.2 100.5C42.5 107.8 48 115 51.8 116.7Z" fill="#8a8341" opacity="0.55"/><path d="M70.6 122.6C78.4 121.8 83.8 111.2 84.8 99.9C74 105.1 68 115.2 70.6 122.6Z" fill="#3e3c14"/><path d="M73.5 116.6C77.3 115.3 81.5 108.8 83.4 101.9C77.7 106.2 73.2 112.6 73.5 116.6Z" fill="#8a8441" opacity="0.55"/><path d="M54.7 99.8C58.5 92.3 53.2 80.9 42.2 74.2C41.8 86.4 46.3 98.2 54.7 99.8Z" fill="#484417"/><path d="M52.2 93.1C53 88.8 49 81.6 43.5 76.5C44.6 84 48.2 91.3 52.2 93.1Z" fill="#8f8843" opacity="0.55"/><path d="M73.4 101.9C81.6 98.9 85 85.7 83.3 72.8C72.9 81.6 68.8 94.5 73.4 101.9Z" fill="#524f1a"/><path d="M75.4 94.4C79.1 92 82 83.6 82.3 75.5C77.3 81.9 74.1 90.1 75.4 94.4Z" fill="#958e44" opacity="0.55"/><path d="M54 79.2C55.8 71.3 48.4 60.8 36.6 55.6C39.1 67.6 45.9 78.6 54 79.2Z" fill="#4f4b19"/><path d="M50.5 73C50.2 68.7 44.8 62.1 38.4 57.7C41.2 64.9 46.4 71.8 50.5 73Z" fill="#938c44" opacity="0.55"/><path d="M71 86.4C79.3 83.7 83.3 70.8 82.2 57.9C71.4 66.2 66.7 78.8 71 86.4Z" fill="#504c19"/><path d="M73.2 79C77.1 76.7 80.4 68.5 81 60.5C75.8 66.6 72.2 74.7 73.2 79Z" fill="#948d44" opacity="0.55"/><path d="M55.6 69.9C60.1 64.3 57.2 56.2 48.6 51.5C46.4 60.3 48.6 68.8 55.6 69.9Z" fill="#524d19"/><path d="M54.2 64.8C55.6 61.7 53.3 56.6 49.3 53.1C49.1 58.4 51.1 63.6 54.2 64.8Z" fill="#958d44" opacity="0.55"/><path d="M70.3 69.9C77.5 68.6 80.2 59.4 78.5 49.9C69.5 55.1 66.1 64 70.3 69.9Z" fill="#574f1c"/><path d="M72 64.4C75.2 63.1 77.6 57.4 77.6 51.7C73.4 55.6 70.8 61.1 72 64.4Z" fill="#978e45" opacity="0.55"/><path d="M62.8 91.6C71 87.4 72.6 74.2 67.6 61.8C58.9 72 56.4 85.1 62.8 91.6Z" fill="#393512"/><path d="M63.8 83.8C67.3 80.8 68.5 72.3 67.1 64.6C63.1 71.4 61.5 79.8 63.8 83.8Z" fill="#878040" opacity="0.55"/></g>
<path d="M58 217.4C59 166.5 59.5 141.5 62.4 113.2C65.5 141.5 68 166.5 69 217.4Z" fill="#2a1b08" opacity="0.8"/>
</g>
<g filter="url(#p3hb)">
<path d="M57.7 56Q57.3 50.2 54.8 44Q53.8 36.5 50.6 30.5M60.5 56Q58.4 50.7 58.5 44Q57.6 39.1 55.7 31.8M62.6 56Q64.1 50.6 63.3 44Q63.5 38.4 64.4 30.6M64.3 56Q64.5 49.3 65 44Q66.5 40.7 66 35.2M66.4 56Q66.5 50.1 68.2 44Q70.3 36.8 70.8 30.7" fill="none" stroke="#efe9d2" stroke-width="2.2" stroke-linecap="round" opacity="0.85"/>
<path d="M54 52Q51.8 45 50 36Q47.9 26.6 46 18M58 50Q57.9 42.8 56 34Q53.9 28.5 50 22M62 50Q63.8 43.5 66 36Q65.8 30.3 64 24M72 54Q73.4 45.5 76 38Q77.8 30.7 80 22M40 72Q39.1 63.1 38 54Q39.8 42.1 40 32M74 84Q75.4 77.1 78 68Q79 58.1 82 48M96 86Q98.1 80.4 100 76Q102.1 70.9 104 66" fill="none" stroke="#f8f6ee" stroke-width="2.6" stroke-linecap="round" stroke-linejoin="round"/>
<path d="M38 80Q37.3 71.6 36 64Q35.1 57.8 34 50M58 96Q61.9 108.5 66 120Q67.8 134.7 72 150M50 130Q53.7 139.1 56 150Q58.9 157.3 60 166" fill="none" stroke="#f4f1e6" stroke-width="1.6" stroke-linecap="round" stroke-linejoin="round" opacity="0.9"/>
</g>
</svg>
</div>
<div class="photo" style="left:721.6px;top:379.2px;width:140px;height:216.4px">
<svg width="140" height="216.4" viewBox="0 0 140 216.4" role="img" aria-label="moss shoot photograph">
<defs>
<linearGradient id="p4sky" x1="0" y1="0" x2="0" y2="1"><stop offset="0" stop-color="#515459"/><stop offset="0.5" stop-color="#42454a"/><stop offset="1" stop-color="#383b40"/></linearGradient>
<radialGradient id="p4gl" cx="1" cy="0" r="0.9"><stop offset="0" stop-color="#8a8d8e" stop-opacity="0.55"/><stop offset="1" stop-color="#8a8d8e" stop-opacity="0"/></radialGradient>
<linearGradient id="p4gnd" x1="0" y1="0" x2="0" y2="1"><stop offset="0" stop-color="#6d7276"/><stop offset="0.025" stop-color="#abb0b3"/><stop offset="0.09" stop-color="#c4c7c7"/><stop offset="0.15" stop-color="#d0ccc0"/><stop offset="0.21" stop-color="#d8c8a2"/><stop offset="0.30" stop-color="#dcc28c"/><stop offset="0.5" stop-color="#d9bc82"/><stop offset="0.75" stop-color="#ceac72"/><stop offset="1" stop-color="#c6a66a"/></linearGradient>
<filter id="p4sn" x="0" y="0" width="100%" height="100%" color-interpolation-filters="sRGB"><feTurbulence type="fractalNoise" baseFrequency="0.075 0.1" numOctaves="3" seed="24"/><feColorMatrix type="matrix" values="1.8 0 0 0 -0.36  1.8 0 0 0 -0.36  1.8 0 0 0 -0.36  0 0 0 0 1"/><feComponentTransfer><feFuncR type="table" tableValues="0.56 0.70 0.80 0.87 0.93 0.98"/><feFuncG type="table" tableValues="0.43 0.57 0.68 0.77 0.86 0.94"/><feFuncB type="table" tableValues="0.20 0.32 0.43 0.55 0.68 0.84"/></feComponentTransfer></filter>
<linearGradient id="p4fade" x1="0" y1="0" x2="0" y2="1"><stop offset="0" stop-color="#fff" stop-opacity="0"/><stop offset="0.35" stop-color="#fff" stop-opacity="0.1"/><stop offset="0.6" stop-color="#fff" stop-opacity="0.6"/><stop offset="1" stop-color="#fff" stop-opacity="1"/></linearGradient>
<mask id="p4m" maskUnits="userSpaceOnUse" x="0" y="0" width="140" height="216.4"><rect x="0" y="113.6" width="140" height="102.8" fill="url(#p4fade)"/></mask>
<filter id="p4bl" x="-10%" y="-10%" width="120%" height="120%" color-interpolation-filters="sRGB"><feTurbulence type="fractalNoise" baseFrequency="0.055" numOctaves="2" seed="64" result="n1"/><feDisplacementMap in="SourceGraphic" in2="n1" scale="7" xChannelSelector="R" yChannelSelector="G" result="d"/><feTurbulence type="fractalNoise" baseFrequency="0.1" numOctaves="2" seed="65" result="n2"/><feColorMatrix in="n2" type="matrix" values="0 0 0 0 0.07  0 0 0 0 0.05  0 0 0 0 0  -2.0 0 0 0 1.15" result="dk"/><feComposite in="dk" in2="d" operator="in" result="dk2"/><feColorMatrix in="n2" type="matrix" values="0 0 0 0 0.85  0 0 0 0 0.8  0 0 0 0 0.35  0 2.0 0 0 -1.2" result="lt"/><feComposite in="lt" in2="d" operator="in" result="lt2"/><feMerge result="m"><feMergeNode in="d"/><feMergeNode in="dk2"/><feMergeNode in="lt2"/></feMerge><feGaussianBlur in="m" stdDeviation="0.65"/></filter>
<filter id="p4hb" x="-10%" y="-10%" width="120%" height="120%"><feTurbulence type="fractalNoise" baseFrequency="0.06" numOctaves="2" seed="66" result="n1"/><feDisplacementMap in="SourceGraphic" in2="n1" scale="5" xChannelSelector="R" yChannelSelector="G" result="d"/><feGaussianBlur in="d" stdDeviation="0.5"/></filter>
<linearGradient id="p4hz" x1="0" y1="0" x2="0" y2="1"><stop offset="0" stop-color="#34373d" stop-opacity="1"/><stop offset="1" stop-color="#9aa0a4" stop-opacity="0"/></linearGradient>
</defs>
<rect width="140" height="91.6" fill="url(#p4sky)"/>
<rect width="140" height="91.6" fill="url(#p4gl)"/>
<rect y="88.6" width="140" height="127.8" fill="url(#p4gnd)"/>
<rect y="88.1" width="140" height="5" fill="url(#p4hz)"/>
<rect width="140" height="216.4" filter="url(#p4sn)" mask="url(#p4m)" opacity="0.8"/>
<g filter="url(#p4bl)">
<path d="M54.2 218.4 C51.2 143.3 50.6 89.7 66 56 C81.4 89.7 80.8 143.3 77.8 218.4Z" fill="#28240b"/>
<g><path d="M64 206.3C71.4 201.8 70.3 192.1 62.5 184.2C55.9 193.1 56 202.8 64 206.3Z" fill="#352f10"/><path d="M68 202.2C77.7 197.3 78.6 183 71.4 169.7C61.6 181.2 59.5 195.4 68 202.2Z" fill="#353110"/><path d="M64 180.1C72.1 172.5 70.8 155.1 62.3 140.3C55 155.8 55.3 173.3 64 180.1Z" fill="#343010"/><path d="M68 180.1C77.4 174.1 79.5 156.4 73.9 140.1C63.9 154.1 60.7 171.6 68 180.1Z" fill="#393411"/><path d="M64 156.9C70.2 151.5 69.3 139 63.1 128.4C57.5 139.4 57.5 151.9 64 156.9Z" fill="#363210"/><path d="M68 143.7C76.6 138.9 78.4 124.2 73.2 110.4C64.1 122 61.3 136.6 68 143.7Z" fill="#332f0e"/><path d="M64 129.6C68.7 124.1 66.3 113 59.4 104.3C56 114.9 57.6 126.1 64 129.6Z" fill="#34300f"/><path d="M68 129.6C75.5 125 76.1 112.3 70.5 100.8C63 111.2 61.4 123.8 68 129.6Z" fill="#302c0e"/><path d="M64 107.4C71.6 102.9 70.7 92.5 63.2 83.8C56.3 93 56.1 103.4 64 107.4Z" fill="#383411"/><path d="M68 109.4C76.6 104.6 78.3 89.9 73 76.2C64 87.8 61.3 102.3 68 109.4Z" fill="#34300f"/><path d="M64 87.3C70 80.4 67.3 66.5 58.8 55.5C54.3 68.7 56.1 82.7 64 87.3Z" fill="#34300e"/><path d="M68 94.3C76 90.2 76.4 78.7 69.9 68.3C61.9 77.7 60.6 89.1 68 94.3Z" fill="#3a3611"/><path d="M64 78.2C70.8 73.8 69.7 64.2 62.6 56.4C56.6 65.1 56.7 74.7 64 78.2Z" fill="#3b3611"/><path d="M68 78.2C75.6 75.2 76.8 65.2 71.7 55.5C63.8 63.1 61.7 73 68 78.2Z" fill="#393310"/></g>
<g><path d="M57.3 202.3C65.4 196.8 63.3 186.8 53.9 179.2C47 189.2 48 199.4 57.3 202.3Z" fill="#2b250c"/><path d="M74.8 198.2C86.3 194.6 89.2 179.7 82.7 164.7C70.2 175.2 66 189.8 74.8 198.2Z" fill="#29250c"/><path d="M57.2 176.1C66.1 167.6 63.7 149.4 53.2 134.4C45.8 151.1 46.9 169.5 57.2 176.1Z" fill="#28240c"/><path d="M74.9 176.1C86.4 171.9 91.9 154 88.6 135.8C74.8 148.2 68.2 165.7 74.9 176.1Z" fill="#28240b"/><path d="M57.3 152.9C64.1 146.9 62.7 133.9 55.1 123C49.2 134.9 49.7 148 57.3 152.9Z" fill="#27240b"/><path d="M75 139.7C85.4 136.7 90.1 121.8 86.9 106.3C74.6 116.3 68.8 130.8 75 139.7Z" fill="#26240a"/><path d="M57.3 125.6C61.4 118.6 56.4 107.8 46.9 100.7C45.3 112.5 49.5 123.6 57.3 125.6Z" fill="#25220a"/><path d="M74.9 125.6C83.8 121.8 85.8 108.5 80.7 95.7C71.1 105.7 68 118.7 74.9 125.6Z" fill="#25220a"/><path d="M57.2 103.4C65.7 98.3 64.3 87.4 55.3 78.6C47.8 88.7 48.1 99.6 57.2 103.4Z" fill="#27240b"/><path d="M75.3 105.4C85.8 102.3 90.3 87.4 87 72C74.8 82 69.1 96.5 75.3 105.4Z" fill="#2a260c"/><path d="M57.1 83.3C62.5 74.7 56.8 61 45.2 51.6C42.7 66.3 47.5 80.4 57.1 83.3Z" fill="#29260b"/><path d="M75 90.3C84.5 86.8 85.8 74.8 79.3 63.2C69.5 72.2 67 84 75 90.3Z" fill="#29260b"/><path d="M57.4 74.2C64.8 68.9 62.8 59 54.1 51.4C47.9 61.1 48.9 71.2 57.4 74.2Z" fill="#2a260b"/><path d="M74.9 74.2C83.9 72.9 87.1 62.8 83.3 51.5C73.1 57.5 68.9 67.3 74.9 74.2Z" fill="#2a260c"/><path d="M66.1 95.4C75.6 90 74.8 77.3 65.7 66.4C56.8 77.6 56.4 90.3 66.1 95.4Z" fill="#24210a"/></g>
<g><path d="M57.3 201.5C63.4 196.4 62 186.6 53.9 179.2C49.5 188.6 50 198.5 57.3 201.5Z" fill="#413616"/><path d="M56.6 195.4C58.8 192.4 57.6 186.2 54.2 181.2C52.7 187 53.6 193.3 56.6 195.4Z" fill="#8b8142" opacity="0.55"/><path d="M74.8 197.4C84 193.4 86.4 178.8 82.7 164.7C71.8 175.3 68.4 189.7 74.8 197.4Z" fill="#3d3614"/><path d="M76.3 188.8C80.4 185.9 82.6 176.5 81.9 167.8C76.9 175 74.3 184.2 76.3 188.8Z" fill="#898141" opacity="0.55"/><path d="M57.2 175.3C63.9 167.2 62.2 149.2 53.2 134.4C48.4 150.5 49.1 168.6 57.2 175.3Z" fill="#3b3414"/><path d="M56.4 165.2C58.8 160.1 57.4 148.2 53.6 138.3C51.9 148.8 53 160.7 56.4 165.2Z" fill="#888041" opacity="0.55"/><path d="M74.9 175.3C84.3 170.6 89.3 152.9 88.6 135.8C76.3 148.3 70.4 165.7 74.9 175.3Z" fill="#3a3313"/><path d="M77.6 165.5C82.1 161.8 86.1 150.3 87.2 139.5C81 148.4 76.6 159.8 77.6 165.5Z" fill="#877f40" opacity="0.55"/><path d="M57.3 152.1C62.5 146.4 61.7 133.6 55.1 123C51.4 134.4 51.4 147.2 57.3 152.1Z" fill="#383313"/><path d="M56.9 145C58.8 141.4 58 132.9 55.3 125.7C53.9 133.2 54.4 141.7 56.9 145Z" fill="#867f40" opacity="0.55"/><path d="M75 138.9C83.5 135.4 87.8 120.7 86.9 106.3C75.9 116.3 70.8 130.7 75 138.9Z" fill="#353211"/><path d="M77.4 130.8C81.4 127.9 84.9 118.4 85.7 109.4C80.2 116.6 76.4 125.9 77.4 130.8Z" fill="#857e3f" opacity="0.55"/><path d="M57.3 124.8C60 118.5 55.6 107.8 46.9 100.7C47.2 111.5 50.9 122.4 57.3 124.8Z" fill="#322e11"/><path d="M55.2 119C55.7 115.3 52.3 108.2 47.9 102.9C49 109.8 52.1 116.9 55.2 119Z" fill="#837c3f" opacity="0.55"/><path d="M74.9 124.8C81.9 120.8 83.5 107.8 80.7 95.7C72.2 105.5 69.9 118.4 74.9 124.8Z" fill="#322e11"/><path d="M76 117.6C79.1 114.6 80.8 106.2 80.1 98.4C76.3 105.2 74.4 113.6 76 117.6Z" fill="#837c3f" opacity="0.55"/><path d="M57.2 102.6C63.6 97.8 63 87.2 55.3 78.6C50.3 88.2 50.1 98.8 57.2 102.6Z" fill="#383312"/><path d="M56.8 96.2C59.3 93.2 58.5 86.4 55.5 80.8C53.5 86.9 53.9 93.6 56.8 96.2Z" fill="#867f40" opacity="0.55"/><path d="M75.3 104.6C83.8 101 87.9 86.3 87 72C76 82.1 71.1 96.5 75.3 104.6Z" fill="#3e3914"/><path d="M77.7 96.5C81.6 93.6 85 84.1 85.8 75.1C80.4 82.3 76.6 91.7 77.7 96.5Z" fill="#8a8241" opacity="0.55"/><path d="M57.1 82.5C60.7 74.7 55.7 61 45.2 51.6C44.9 65.2 49.2 79.1 57.1 82.5Z" fill="#3c3713"/><path d="M54.8 74.8C55.5 70.3 51.7 61.3 46.4 54.5C47.5 63.1 51 72.1 54.8 74.8Z" fill="#888140" opacity="0.55"/><path d="M75 89.5C82.4 85.9 83.3 74.2 79.3 63.2C70.8 72.1 69.1 83.7 75 89.5Z" fill="#3c3813"/><path d="M75.8 82.6C79 80 80.2 72.5 78.9 65.7C75.2 71.7 73.7 79.1 75.8 82.6Z" fill="#888240" opacity="0.55"/><path d="M57.4 73.4C62.9 68.5 61.7 58.8 54.1 51.4C50.3 60.5 50.7 70.3 57.4 73.4Z" fill="#3e3813"/><path d="M56.8 67.5C58.7 64.6 57.6 58.4 54.4 53.4C53.1 59.1 53.9 65.4 56.8 67.5Z" fill="#8a8240" opacity="0.55"/><path d="M74.9 73.4C82.1 71.7 84.9 61.7 83.3 51.5C74.2 57.5 70.6 67.2 74.9 73.4Z" fill="#403915"/><path d="M76.6 67.6C79.9 66 82.3 59.7 82.5 53.5C78.1 58 75.4 64.1 76.6 67.6Z" fill="#8b8242" opacity="0.55"/><path d="M66.1 94.6C73.4 89.4 72.7 77 65.7 66.4C58.9 77.2 58.6 89.6 66.1 94.6Z" fill="#302b10"/><path d="M66 87.1C68.9 83.8 68.6 75.8 65.7 69C63.1 75.9 63 83.9 66 87.1Z" fill="#827b3f" opacity="0.55"/></g>
<path d="M61 217.4C62 167.7 63 143.3 66 115.7C69 143.3 71 167.7 72 217.4Z" fill="#2a1b08" opacity="0.8"/>
</g>
<g filter="url(#p4hb)">
<path d="M60.5 60Q59.2 54.7 58.4 48Q56.5 40.7 55.1 33.5M64.2 60Q63.5 53.8 62.6 48Q62.3 42.5 60.2 38.1M65.7 60Q64.9 53.9 65 48Q65.1 40.6 64 35.5M69.5 60Q70.3 54.2 71 48Q72 39.7 73.3 31.9M70.4 60Q71.1 55 72.5 48Q74.8 42.9 75.7 37.1" fill="none" stroke="#efe9d2" stroke-width="2.2" stroke-linecap="round" opacity="0.85"/>
<path d="M60 56Q57.8 47.4 58 40Q56.1 30.5 54 20M64 54Q62.8 46.3 62 38Q62 30.4 60 24M68 54Q69.7 46.6 72 38Q69.6 32.5 68 26M76 58Q78.8 47.8 82 40Q83.9 31 86 24" fill="none" stroke="#f8f6ee" stroke-width="2.6" stroke-linecap="round" stroke-linejoin="round"/>
<path d="M56 80Q54.7 72.8 52 64Q54.1 57 56 48M80 84Q82.3 77.9 86 72Q87.2 65.9 90 62M84 72Q86.8 62.9 88 56Q91 60.1 92 64M66 84Q69.5 93.9 72 106Q71 117.7 68 128M74 128Q76 138.2 80 150Q76.1 161 74 172M60 136Q56 146.7 54 156Q57 167.5 60 178" fill="none" stroke="#f4f1e6" stroke-width="1.6" stroke-linecap="round" stroke-linejoin="round" opacity="0.9"/>
</g>
</svg>
</div>
<div class="photo" style="left:866px;top:379.2px;width:140px;height:216.4px">
<svg width="140" height="216.4" viewBox="0 0 140 216.4" role="img" aria-label="moss shoot photograph">
<defs>
<linearGradient id="p5sky" x1="0" y1="0" x2="0" y2="1"><stop offset="0" stop-color="#515459"/><stop offset="0.5" stop-color="#42454a"/><stop offset="1" stop-color="#383b40"/></linearGradient>
<radialGradient id="p5gl" cx="1" cy="0" r="0.9"><stop offset="0" stop-color="#8a8d8e" stop-opacity="0.55"/><stop offset="1" stop-color="#8a8d8e" stop-opacity="0"/></radialGradient>
<linearGradient id="p5gnd" x1="0" y1="0" x2="0" y2="1"><stop offset="0" stop-color="#6d7276"/><stop offset="0.025" stop-color="#abb0b3"/><stop offset="0.09" stop-color="#c4c7c7"/><stop offset="0.15" stop-color="#d0ccc0"/><stop offset="0.21" stop-color="#d8c8a2"/><stop offset="0.30" stop-color="#dcc28c"/><stop offset="0.5" stop-color="#d9bc82"/><stop offset="0.75" stop-color="#ceac72"/><stop offset="1" stop-color="#c6a66a"/></linearGradient>
<filter id="p5sn" x="0" y="0" width="100%" height="100%" color-interpolation-filters="sRGB"><feTurbulence type="fractalNoise" baseFrequency="0.075 0.1" numOctaves="3" seed="25"/><feColorMatrix type="matrix" values="1.8 0 0 0 -0.36  1.8 0 0 0 -0.36  1.8 0 0 0 -0.36  0 0 0 0 1"/><feComponentTransfer><feFuncR type="table" tableValues="0.56 0.70 0.80 0.87 0.93 0.98"/><feFuncG type="table" tableValues="0.43 0.57 0.68 0.77 0.86 0.94"/><feFuncB type="table" tableValues="0.20 0.32 0.43 0.55 0.68 0.84"/></feComponentTransfer></filter>
<linearGradient id="p5fade" x1="0" y1="0" x2="0" y2="1"><stop offset="0" stop-color="#fff" stop-opacity="0"/><stop offset="0.35" stop-color="#fff" stop-opacity="0.1"/><stop offset="0.6" stop-color="#fff" stop-opacity="0.6"/><stop offset="1" stop-color="#fff" stop-opacity="1"/></linearGradient>
<mask id="p5m" maskUnits="userSpaceOnUse" x="0" y="0" width="140" height="216.4"><rect x="0" y="113.6" width="140" height="102.8" fill="url(#p5fade)"/></mask>
<filter id="p5bl" x="-10%" y="-10%" width="120%" height="120%" color-interpolation-filters="sRGB"><feTurbulence type="fractalNoise" baseFrequency="0.055" numOctaves="2" seed="65" result="n1"/><feDisplacementMap in="SourceGraphic" in2="n1" scale="7" xChannelSelector="R" yChannelSelector="G" result="d"/><feTurbulence type="fractalNoise" baseFrequency="0.1" numOctaves="2" seed="66" result="n2"/><feColorMatrix in="n2" type="matrix" values="0 0 0 0 0.07  0 0 0 0 0.05  0 0 0 0 0  -2.0 0 0 0 1.15" result="dk"/><feComposite in="dk" in2="d" operator="in" result="dk2"/><feColorMatrix in="n2" type="matrix" values="0 0 0 0 0.85  0 0 0 0 0.8  0 0 0 0 0.35  0 2.0 0 0 -1.2" result="lt"/><feComposite in="lt" in2="d" operator="in" result="lt2"/><feMerge result="m"><feMergeNode in="d"/><feMergeNode in="dk2"/><feMergeNode in="lt2"/></feMerge><feGaussianBlur in="m" stdDeviation="0.65"/></filter>
<filter id="p5hb" x="-10%" y="-10%" width="120%" height="120%"><feTurbulence type="fractalNoise" baseFrequency="0.06" numOctaves="2" seed="67" result="n1"/><feDisplacementMap in="SourceGraphic" in2="n1" scale="5" xChannelSelector="R" yChannelSelector="G" result="d"/><feGaussianBlur in="d" stdDeviation="0.5"/></filter>
<linearGradient id="p5hz" x1="0" y1="0" x2="0" y2="1"><stop offset="0" stop-color="#34373d" stop-opacity="1"/><stop offset="1" stop-color="#9aa0a4" stop-opacity="0"/></linearGradient>
</defs>
<rect width="140" height="91.6" fill="url(#p5sky)"/>
<rect width="140" height="91.6" fill="url(#p5gl)"/>
<rect y="88.6" width="140" height="127.8" fill="url(#p5gnd)"/>
<rect y="88.1" width="140" height="5" fill="url(#p5hz)"/>
<rect width="140" height="216.4" filter="url(#p5sn)" mask="url(#p5m)" opacity="0.8"/>
<g filter="url(#p5bl)">
<path d="M55.7 218.4 C53.1 142.4 54.6 88.2 68 54 C81.4 88.2 78.9 142.4 76.3 218.4Z" fill="#2f2a0c"/>
<g><path d="M64.2 206.1C70.7 200.5 68.9 189 61.2 179.7C55.7 190.5 56.6 202.2 64.2 206.1Z" fill="#484016"/><path d="M68.2 202C77.8 198.2 80.7 184 76 169.9C65.4 180.3 61.5 194.3 68.2 202Z" fill="#3e3812"/><path d="M64.5 179.6C70.8 171.4 67.1 155.1 57.3 142.3C52.9 157.8 55.6 174.3 64.5 179.6Z" fill="#3f3a13"/><path d="M68.5 179.6C77.5 174 80.3 156.6 76.1 140.3C66.1 153.8 62.3 171 68.5 179.6Z" fill="#3f3913"/><path d="M64.8 156.1C69.6 149.8 67.1 137 59.8 126.8C56.3 138.8 58.2 151.8 64.8 156.1Z" fill="#413d13"/><path d="M68.9 142.8C77.1 138.1 79.7 123 75.8 108.8C66.7 120.4 63.2 135.3 68.9 142.8Z" fill="#373410"/><path d="M65.1 128.5C68.7 122.3 65.1 110.5 57.5 101.6C55.7 113.1 58.8 125.1 65.1 128.5Z" fill="#3a3712"/><path d="M69.1 128.5C76.2 124.6 77.3 112.8 72.6 101.9C65.3 111.2 63.3 122.9 69.1 128.5Z" fill="#3d3913"/><path d="M65.4 106C71.4 100.2 68.8 89.8 60.3 82C55.8 92.5 57.5 103.2 65.4 106Z" fill="#3a3711"/><path d="M69.4 108.1C77 102.6 78 87.4 72.6 73.7C64.7 86.2 62.9 101.2 69.4 108.1Z" fill="#464214"/><path d="M65.6 85.6C71 79 68.1 65.9 60.1 55.5C56.2 68.1 58.3 81.4 65.6 85.6Z" fill="#413d12"/><path d="M69.6 92.8C77.4 89.5 79.2 78.2 74.6 67.3C66.1 75.7 63.5 86.8 69.6 92.8Z" fill="#3e3b11"/><path d="M65.8 76.4C71.4 71.7 69.4 63.3 62 57C57.5 65.5 58.7 74.2 65.8 76.4Z" fill="#3f3b12"/><path d="M69.8 76.4C76.7 73.4 77.6 63.7 72.8 54.5C65.6 62 63.9 71.6 69.8 76.4Z" fill="#474215"/></g>
<g><path d="M58.8 202.1C66 195 62.4 183.2 51.8 175C46.5 187.3 49.1 199.4 58.8 202.1Z" fill="#363010"/><path d="M74.1 198C86.2 197.8 93.3 184.2 91.6 168C76.6 174.5 68.3 187.4 74.1 198Z" fill="#342f0f"/><path d="M58.6 175.6C64.4 165.1 56.5 149.3 42.1 139.1C40.3 156.7 47 172.9 58.6 175.6Z" fill="#322d0f"/><path d="M74.8 175.6C86.7 172.6 93.7 155.4 92.2 137.2C77.5 148.1 69.3 164.7 74.8 175.6Z" fill="#312c0e"/><path d="M59.4 152.1C64 144.2 58.6 131.6 48 122.9C46.1 136.4 50.7 149.4 59.4 152.1Z" fill="#302d0e"/><path d="M75.8 138.8C86.5 136.6 92.8 121.8 91.3 105.8C78 114.9 70.7 129.1 75.8 138.8Z" fill="#2e2c0d"/><path d="M59.7 124.5C61.9 116.5 54.1 106.1 42.8 100.4C44.4 113 51.5 123.8 59.7 124.5Z" fill="#2b280c"/><path d="M75.5 124.5C84.5 121.9 87.6 109.9 83.5 97.5C73.3 105.6 69.3 117.4 75.5 124.5Z" fill="#2b290c"/><path d="M59.5 102C65.3 94 59.8 84 48.1 78.9C45.1 91.3 49.6 101.7 59.5 102Z" fill="#302d0e"/><path d="M78.1 104.1C88 99.5 90.8 83.7 85.6 68.6C74.7 80.4 70.9 95.9 78.1 104.1Z" fill="#34320f"/><path d="M59.3 81.6C64.3 73.1 58.2 60.3 46.5 52C44.5 66.2 49.7 79.4 59.3 81.6Z" fill="#32300e"/><path d="M76.4 88.8C86.4 87.9 90.9 76.8 87.8 63.9C76 69.9 70.5 80.6 76.4 88.8Z" fill="#33300e"/><path d="M60.9 72.4C66.6 65.7 62.4 57.6 52.3 53.5C48.8 63.7 52.1 72.3 60.9 72.4Z" fill="#34310e"/><path d="M76.1 72.4C84.9 70.8 87.5 60.9 83.1 50.2C73.3 56.4 69.8 66 76.1 72.4Z" fill="#363210"/><path d="M68 93.9C78 89.8 78.6 77.5 70.8 66.1C60.9 75.7 59 87.9 68 93.9Z" fill="#29260c"/></g>
<g><path d="M58.8 201.3C64 194.8 61.1 183.2 51.8 175C49 186.5 51 198.3 58.8 201.3Z" fill="#5e5020"/><path d="M57.4 194.4C59.1 190.6 56.7 183.2 52.5 177.4C52 184.6 54 192.1 57.4 194.4Z" fill="#9b8f48" opacity="0.55"/><path d="M74.1 197.2C84 196 90.8 182.6 91.6 168C78 175 70.4 187.9 74.1 197.2Z" fill="#584e1d"/><path d="M77.6 189.3C82.4 187.7 87.6 179.4 89.8 170.7C82.7 176.1 77.2 184.2 77.6 189.3Z" fill="#988e46" opacity="0.55"/><path d="M58.6 174.8C62.3 165.3 55.2 149.5 42.1 139.1C42.7 155.3 49 171.4 58.6 174.8Z" fill="#524a1c"/><path d="M55.3 165.8C55.9 160.3 50.6 150.1 43.8 142.5C45.7 152.5 50.7 162.9 55.3 165.8Z" fill="#958c45" opacity="0.55"/><path d="M74.8 174.8C84.6 171.1 91.3 154.1 92.2 137.2C78.8 148.3 71.3 164.9 74.8 174.8Z" fill="#50481b"/><path d="M78.3 165.4C83.1 162.2 88.3 151.3 90.5 140.7C83.4 148.9 77.9 159.7 78.3 165.4Z" fill="#948b45" opacity="0.55"/><path d="M59.4 151.3C62.5 144.1 57.7 131.5 48 122.9C48.1 135.4 52.3 148.2 59.4 151.3Z" fill="#4e4a1a"/><path d="M57.1 144.4C57.7 140.1 54.1 131.9 49.2 125.5C50.3 133.5 53.7 141.8 57.1 144.4Z" fill="#928c44" opacity="0.55"/><path d="M75.8 138C84.6 135.1 90.5 120.5 91.3 105.8C79.2 115 72.5 129.3 75.8 138Z" fill="#484617"/><path d="M78.9 129.9C83.2 127.3 87.8 118 89.8 108.8C83.4 115.7 78.5 124.9 78.9 129.9Z" fill="#8f8a43" opacity="0.55"/><path d="M59.7 123.7C60.6 116.6 53.4 106.2 42.8 100.4C46 111.6 52.7 122.4 59.7 123.7Z" fill="#423e16"/><path d="M56.4 118C55.8 114.1 50.4 107.3 44.5 102.5C47.6 109.5 52.7 116.4 56.4 118Z" fill="#8c8542" opacity="0.55"/><path d="M75.5 123.7C82.7 120.8 85.3 108.9 83.5 97.5C74.4 105.6 71.1 117.2 75.5 123.7Z" fill="#424016"/><path d="M77.1 117C80.4 114.7 82.7 107.1 82.7 99.9C78.4 105.7 75.8 113.2 77.1 117Z" fill="#8c8642" opacity="0.55"/><path d="M59.5 101.2C63.4 94.1 58.6 84.2 48.1 78.9C47.4 90 51.5 100.3 59.5 101.2Z" fill="#4e4a19"/><path d="M57.2 95.1C58.1 91.3 54.4 85.1 49.2 80.9C50.1 87.5 53.5 93.9 57.2 95.1Z" fill="#928c44" opacity="0.55"/><path d="M78.1 103.3C86 98.4 88.3 82.9 85.6 68.6C76 80.3 72.9 95.6 78.1 103.3Z" fill="#59551c"/><path d="M79.6 94.7C83.1 91.2 85.3 81.1 84.8 71.8C80.4 80 78 90 79.6 94.7Z" fill="#989245" opacity="0.55"/><path d="M59.3 80.8C62.6 73.2 57.1 60.4 46.5 52C46.7 65.1 51.4 78.1 59.3 80.8Z" fill="#54511a"/><path d="M56.7 73.6C57.3 69.2 53.2 60.9 47.8 54.7C49.2 62.9 52.9 71.3 56.7 73.6Z" fill="#969044" opacity="0.55"/><path d="M76.4 88C84.5 86.5 88.6 75.5 87.8 63.9C77.2 70.1 72.4 80.8 76.4 88Z" fill="#56521a"/><path d="M78.7 81.5C82.5 80 85.8 73.1 86.6 66.1C81.4 70.8 77.7 77.5 78.7 81.5Z" fill="#979044" opacity="0.55"/><path d="M60.9 71.6C64.8 65.8 61.3 57.7 52.3 53.5C50.9 62.5 53.8 70.9 60.9 71.6Z" fill="#59531b"/><path d="M59.1 66.6C60.2 63.4 57.5 58.4 53.2 55.1C53.4 60.5 55.9 65.6 59.1 66.6Z" fill="#989145" opacity="0.55"/><path d="M76.1 71.6C83.2 69.7 85.3 60 83.1 50.2C74.4 56.4 71.5 65.9 76.1 71.6Z" fill="#5d561e"/><path d="M77.5 65.9C80.6 64.3 82.6 58.1 82.4 52.2C78.4 56.6 76.1 62.6 77.5 65.9Z" fill="#9b9246" opacity="0.55"/><path d="M68 93.1C75.8 89 76.6 77.1 70.8 66.1C62.9 75.6 61.2 87.4 68 93.1Z" fill="#3d3814"/><path d="M68.5 85.8C71.8 83.1 72.5 75.4 70.5 68.6C67.1 74.8 66 82.4 68.5 85.8Z" fill="#898241" opacity="0.55"/></g>
<path d="M61 217.4C62 167.1 63.9 142.4 67.2 114.5C69.9 142.4 71 167.1 72 217.4Z" fill="#2a1b08" opacity="0.8"/>
</g>
<g filter="url(#p5hb)">
<path d="M62.1 58Q61.1 52.9 59.1 46Q57.5 40.9 54.6 37.1M64.8 58Q63.8 52.2 64.3 46Q64.2 40.2 63.6 34.3M67.9 58Q67.6 52.4 67.6 46Q67.2 39.2 67.1 33.1M71.5 58Q71.6 52.7 72 46Q73 38.4 72.9 30.4M73.2 58Q74.8 51.4 75.2 46Q75.7 42.7 78.1 37.8" fill="none" stroke="#efe9d2" stroke-width="2.2" stroke-linecap="round" opacity="0.85"/>
<path d="M58 54Q57.2 44.9 56 38Q54 27.2 52 18M62 52Q61.9 43.5 60 36Q60.1 30.3 58 24M68 52Q69 43.8 72 36Q75.1 30.5 76 24M80 56Q81.2 47.7 84 40Q85.5 30 88 22M40 74Q40.2 65.5 40 56Q37.3 45.1 36 34M76 84Q81 73.6 84 64Q85.2 55.7 88 46M102 90Q105.4 84.5 110 78Q114.5 71.5 118 66" fill="none" stroke="#f8f6ee" stroke-width="2.6" stroke-linecap="round" stroke-linejoin="round"/>
<path d="M42 60Q40.9 58.9 38 56Q35.2 54 34 54M64 100Q67.9 111.5 72 124Q75.7 134.5 78 146M70 130Q72.5 140.9 76 150Q73.5 159.8 72 170" fill="none" stroke="#f4f1e6" stroke-width="1.6" stroke-linecap="round" stroke-linejoin="round" opacity="0.9"/>
</g>
</svg>
</div>
<div class="photo" style="left:1010px;top:379.2px;width:136px;height:216.4px">
<svg width="136" height="216.4" viewBox="0 0 136 216.4" role="img" aria-label="moss shoot photograph">
<defs>
<linearGradient id="p6sky" x1="0" y1="0" x2="0" y2="1"><stop offset="0" stop-color="#515459"/><stop offset="0.5" stop-color="#42454a"/><stop offset="1" stop-color="#383b40"/></linearGradient>
<radialGradient id="p6gl" cx="1" cy="0" r="0.9"><stop offset="0" stop-color="#8a8d8e" stop-opacity="0.55"/><stop offset="1" stop-color="#8a8d8e" stop-opacity="0"/></radialGradient>
<linearGradient id="p6gnd" x1="0" y1="0" x2="0" y2="1"><stop offset="0" stop-color="#6d7276"/><stop offset="0.025" stop-color="#abb0b3"/><stop offset="0.09" stop-color="#c4c7c7"/><stop offset="0.15" stop-color="#d0ccc0"/><stop offset="0.21" stop-color="#d8c8a2"/><stop offset="0.30" stop-color="#dcc28c"/><stop offset="0.5" stop-color="#d9bc82"/><stop offset="0.75" stop-color="#ceac72"/><stop offset="1" stop-color="#c6a66a"/></linearGradient>
<filter id="p6sn" x="0" y="0" width="100%" height="100%" color-interpolation-filters="sRGB"><feTurbulence type="fractalNoise" baseFrequency="0.075 0.1" numOctaves="3" seed="26"/><feColorMatrix type="matrix" values="1.8 0 0 0 -0.36  1.8 0 0 0 -0.36  1.8 0 0 0 -0.36  0 0 0 0 1"/><feComponentTransfer><feFuncR type="table" tableValues="0.56 0.70 0.80 0.87 0.93 0.98"/><feFuncG type="table" tableValues="0.43 0.57 0.68 0.77 0.86 0.94"/><feFuncB type="table" tableValues="0.20 0.32 0.43 0.55 0.68 0.84"/></feComponentTransfer></filter>
<linearGradient id="p6fade" x1="0" y1="0" x2="0" y2="1"><stop offset="0" stop-color="#fff" stop-opacity="0"/><stop offset="0.35" stop-color="#fff" stop-opacity="0.1"/><stop offset="0.6" stop-color="#fff" stop-opacity="0.6"/><stop offset="1" stop-color="#fff" stop-opacity="1"/></linearGradient>
<mask id="p6m" maskUnits="userSpaceOnUse" x="0" y="0" width="136" height="216.4"><rect x="0" y="113.6" width="136" height="102.8" fill="url(#p6fade)"/></mask>
<filter id="p6bl" x="-10%" y="-10%" width="120%" height="120%" color-interpolation-filters="sRGB"><feTurbulence type="fractalNoise" baseFrequency="0.055" numOctaves="2" seed="66" result="n1"/><feDisplacementMap in="SourceGraphic" in2="n1" scale="7" xChannelSelector="R" yChannelSelector="G" result="d"/><feTurbulence type="fractalNoise" baseFrequency="0.1" numOctaves="2" seed="67" result="n2"/><feColorMatrix in="n2" type="matrix" values="0 0 0 0 0.07  0 0 0 0 0.05  0 0 0 0 0  -2.0 0 0 0 1.15" result="dk"/><feComposite in="dk" in2="d" operator="in" result="dk2"/><feColorMatrix in="n2" type="matrix" values="0 0 0 0 0.85  0 0 0 0 0.8  0 0 0 0 0.35  0 2.0 0 0 -1.2" result="lt"/><feComposite in="lt" in2="d" operator="in" result="lt2"/><feMerge result="m"><feMergeNode in="d"/><feMergeNode in="dk2"/><feMergeNode in="lt2"/></feMerge><feGaussianBlur in="m" stdDeviation="0.65"/></filter>
<filter id="p6hb" x="-10%" y="-10%" width="120%" height="120%"><feTurbulence type="fractalNoise" baseFrequency="0.06" numOctaves="2" seed="68" result="n1"/><feDisplacementMap in="SourceGraphic" in2="n1" scale="5" xChannelSelector="R" yChannelSelector="G" result="d"/><feGaussianBlur in="d" stdDeviation="0.5"/></filter>
<linearGradient id="p6hz" x1="0" y1="0" x2="0" y2="1"><stop offset="0" stop-color="#34373d" stop-opacity="1"/><stop offset="1" stop-color="#9aa0a4" stop-opacity="0"/></linearGradient>
</defs>
<rect width="136" height="91.6" fill="url(#p6sky)"/>
<rect width="136" height="91.6" fill="url(#p6gl)"/>
<rect y="88.6" width="136" height="127.8" fill="url(#p6gnd)"/>
<rect y="88.1" width="136" height="5" fill="url(#p6hz)"/>
<rect width="136" height="216.4" filter="url(#p6sn)" mask="url(#p6m)" opacity="0.8"/>
<g filter="url(#p6bl)">
<path d="M53.3 218.4 C51.1 144.2 56.7 91.3 68 58 C79.3 91.3 72.9 144.2 70.7 218.4Z" fill="#38320e"/>
<g><path d="M60.5 206.5C65.1 200.1 61 190.7 52.1 184.6C49.5 195.1 52.9 204.9 60.5 206.5Z" fill="#52491a"/><path d="M64.7 202.5C74.6 198.6 80.9 181.9 80 164.9C67.4 176.4 60.2 192.8 64.7 202.5Z" fill="#564f1b"/><path d="M61.5 180.5C66 171.3 60 154.3 48.7 141.7C47.2 158.5 52.4 175.8 61.5 180.5Z" fill="#474115"/><path d="M65.5 180.5C74.7 175.9 80.1 158.6 78.8 141.6C67.4 154.2 61.1 171.2 65.5 180.5Z" fill="#474215"/><path d="M62.3 157.6C65.3 150.4 60 137.8 51 128.6C50.6 141.4 55.3 154.4 62.3 157.6Z" fill="#4d4a18"/><path d="M66.8 144.7C75.9 140.1 82.7 122.6 83.2 105.3C71.3 117.9 63.7 135.1 66.8 144.7Z" fill="#413f13"/><path d="M63.4 130.7C66.4 124.9 62.4 114.6 55 107.1C53.9 117.6 57.3 128.1 63.4 130.7Z" fill="#3d3a12"/><path d="M67.4 130.7C74.6 128.5 78.1 118 76.2 107C67.6 114.1 63.3 124.4 67.4 130.7Z" fill="#484616"/><path d="M64.2 108.8C68.6 101.8 63.9 90.3 54.5 82.4C52.4 94.5 56.2 106.3 64.2 108.8Z" fill="#454314"/><path d="M68.1 110.8C76.2 106.5 80.1 91.4 78 76.7C68.3 88 63.5 102.8 68.1 110.8Z" fill="#55521a"/><path d="M64.9 88.9C68 80.7 61.5 66.5 51.1 56.4C51.2 70.9 56.9 85.4 64.9 88.9Z" fill="#504d17"/><path d="M68.7 95.9C76.5 93.7 80.2 82.5 78 70.8C68.7 78.2 64.2 89.1 68.7 95.9Z" fill="#555119"/><path d="M65.3 79.9C70.5 75.6 68.6 67.7 61.8 62C57.6 69.9 58.7 77.8 65.3 79.9Z" fill="#524e17"/><path d="M69.3 79.9C76.2 77 78.6 66.2 75.6 55.5C67.8 63.4 64.6 74 69.3 79.9Z" fill="#5a551c"/></g>
<g><path d="M57.3 202.5C60.4 192.6 52.1 185.6 39.3 185.6C40.2 198.4 47.7 206.2 57.3 202.5Z" fill="#463d16"/><path d="M69 198.5C82 201.8 95.8 189.1 101.4 170.7C82.4 173.4 67.7 185.1 69 198.5Z" fill="#423c14"/><path d="M57.2 176.5C59.9 164 47.1 150 29.2 143.7C32.6 162.4 44.4 177.2 57.2 176.5Z" fill="#3f3a13"/><path d="M71 176.5C83.7 177.6 96 163 100 144.4C81.9 150.2 68.6 163.9 71 176.5Z" fill="#3e3812"/><path d="M59.1 153.6C60 144 49 134.6 35 131.4C39.3 145.1 49.6 155.2 59.1 153.6Z" fill="#3c3a12"/><path d="M73.4 140.7C85.6 142.7 100.4 129.6 107.9 112C89.2 116.2 73.6 128.3 73.4 140.7Z" fill="#383710"/><path d="M60.1 126.7C61.8 118.6 53.5 110.5 42 107.6C44.3 119.3 51.9 128 60.1 126.7Z" fill="#34320f"/><path d="M72.8 126.7C82.2 129.4 90.1 120.7 91.7 108C78.9 109.5 70.2 117.3 72.8 126.7Z" fill="#34330f"/><path d="M59.8 104.8C62.7 94.5 53.1 85.6 38.9 83.8C40.7 97.9 49.4 107.6 59.8 104.8Z" fill="#3c3a11"/><path d="M79.2 106.8C90.7 106.8 99.8 93.2 101 76.5C85.6 82.9 75.5 95.9 79.2 106.8Z" fill="#434014"/><path d="M59.5 84.9C59.6 74.1 46.5 64.2 30.6 61.5C36.5 76.6 48.9 87.3 59.5 84.9Z" fill="#403e12"/><path d="M75.2 91.9C85.4 95 93.8 85.8 95.2 72.1C81.5 73.4 72.3 81.7 75.2 91.9Z" fill="#413e12"/><path d="M63.2 75.9C69.4 69.3 65.4 61.8 55.2 58.4C51 68.3 54 76.3 63.2 75.9Z" fill="#434012"/><path d="M74.7 75.9C84.4 76.4 90.2 66.2 88.9 53.5C76.8 57.8 70.1 67.4 74.7 75.9Z" fill="#464115"/><path d="M67.6 96.8C78.1 92.9 78.4 81.3 69.7 70.5C59.4 79.7 57.8 91.3 67.6 96.8Z" fill="#312e0e"/></g>
<g><path d="M57.3 201.7C58.8 193.4 51 186.3 39.3 185.6C42.1 196.3 49.3 204.1 57.3 201.7Z" fill="#86712d"/><path d="M53.7 196.7C53.2 192.7 47.5 188.6 41.1 187C44.3 192.8 49.7 197.2 53.7 196.7Z" fill="#b1a14f" opacity="0.55"/><path d="M69 197.7C80.3 199.3 93.8 186.5 101.4 170.7C83.6 174.4 69.4 186.3 69 197.7Z" fill="#7b6f29"/><path d="M75.5 190C81.6 189.7 91.4 182.1 98.2 173.1C87.7 177 77.6 184.3 75.5 190Z" fill="#aba04d" opacity="0.55"/><path d="M57.2 175.7C58 164.8 45.8 150.7 29.2 143.7C34.8 160.3 46.2 175.1 57.2 175.7Z" fill="#736927"/><path d="M51.6 167.3C50.3 161.5 41.6 152.6 32 146.7C37.4 156.5 45.8 165.8 51.6 167.3Z" fill="#a79d4b" opacity="0.55"/><path d="M71 175.7C81.9 175.4 93.9 160.9 100 144.4C83.1 150.9 70.4 164.8 71 175.7Z" fill="#706625"/><path d="M76.8 167.5C82.6 166 91.4 157 97.1 147.3C87.3 152.9 78.2 161.6 76.8 167.5Z" fill="#a59b4a" opacity="0.55"/><path d="M59.1 152.8C58.7 144.6 48.2 135 35 131.4C40.9 143.2 50.9 153.3 59.1 152.8Z" fill="#6b6924"/><path d="M54.3 147.2C52.7 142.9 45.2 136.9 37.4 133.3C42.5 140.2 49.8 146.5 54.3 147.2Z" fill="#a29d4a" opacity="0.55"/><path d="M73.4 139.9C84.1 140.4 98.6 127.3 107.9 112C90.2 116.9 75.1 129.3 73.4 139.9Z" fill="#62631f"/><path d="M80.3 132.5C86.3 131.6 96.9 123.5 104.4 114.5C93.7 119.2 83 127 80.3 132.5Z" fill="#9d9947" opacity="0.55"/><path d="M60.1 125.9C60.6 119 52.8 110.7 42 107.6C45.8 117.6 53.2 126.3 60.1 125.9Z" fill="#59561d"/><path d="M56.5 121.2C55.6 117.5 49.9 112.3 43.8 109.2C47.3 115.2 52.8 120.5 56.5 121.2Z" fill="#989246" opacity="0.55"/><path d="M72.8 125.9C80.7 127.4 88.3 118.8 91.7 108C79.9 109.9 71.7 118 72.8 125.9Z" fill="#59591d"/><path d="M76.6 120.8C80.6 120.7 86.4 115.7 89.8 109.6C83.2 112 77.3 116.8 76.6 120.8Z" fill="#989446" opacity="0.55"/><path d="M59.8 104C61.1 95.2 52 86.2 38.9 83.8C42.6 95.8 51.1 105.5 59.8 104Z" fill="#6b6921"/><path d="M55.7 98.2C54.9 93.8 48.3 88.4 41 85.6C44.9 92.4 51.2 98.1 55.7 98.2Z" fill="#a29d48" opacity="0.55"/><path d="M79.2 106C88.9 105 97.6 91.4 101 76.5C86.9 83.4 77.3 96.4 79.2 106Z" fill="#7d7a28"/><path d="M83.5 98.3C88.5 96.7 95.1 88.2 98.8 79.3C91 84.9 84.1 93.1 83.5 98.3Z" fill="#aca64c" opacity="0.55"/><path d="M59.5 84.1C58.3 74.9 45.7 64.8 30.6 61.5C38.2 74.4 50.2 85.2 59.5 84.1Z" fill="#767424"/><path d="M53.7 78C51.5 73.3 42.5 67.1 33.5 63.5C39.7 71 48.5 77.5 53.7 78Z" fill="#a8a34a" opacity="0.55"/><path d="M75.2 91.1C83.8 92.9 91.8 83.7 95.2 72.1C82.6 74 73.9 82.4 75.2 91.1Z" fill="#787524"/><path d="M79.2 85.5C83.6 85.6 89.6 80.3 93.2 73.8C86.2 76.2 79.9 81.2 79.2 85.5Z" fill="#aaa34a" opacity="0.55"/><path d="M63.2 75.1C67.6 69.3 64.3 61.9 55.2 58.4C53.3 67.1 55.8 74.9 63.2 75.1Z" fill="#7d7825"/><path d="M61.6 70.2C62.8 67.1 60.2 62.6 56 59.8C56 64.9 58.3 69.6 61.6 70.2Z" fill="#aca54a" opacity="0.55"/><path d="M74.7 75.1C82.7 74.8 88.1 64.7 88.9 53.5C77.9 58 71.8 67.7 74.7 75.1Z" fill="#847c2b"/><path d="M77.5 69.2C81.4 68.2 85.7 62.1 87.5 55.4C81.7 59.3 77.2 65.2 77.5 69.2Z" fill="#b0a74e" opacity="0.55"/><path d="M67.6 96C75.8 92.1 76.2 80.8 69.7 70.5C61.6 79.6 60.2 90.8 67.6 96Z" fill="#504d19"/><path d="M68 88.9C71.4 86.3 71.8 79.2 69.5 72.8C66.1 78.7 65.2 85.7 68 88.9Z" fill="#948d44" opacity="0.55"/></g>
<path d="M57 217.4C58 168.3 61.7 144.2 65.6 117C67.7 144.2 67 168.3 68 217.4Z" fill="#2a1b08" opacity="0.8"/>
</g>
<g filter="url(#p6hb)">
<path d="M63.6 62Q62.9 54.9 61.9 50Q59.6 41.8 59.3 34.9M64.7 62Q63.4 57 62.9 50Q62.2 41.9 60.2 32.4M68.8 62Q68.9 55.7 69.1 50Q68.3 43.2 69.6 38.5M70.6 62Q71.5 56.8 71.9 50Q72.7 41.3 73.7 32.3M73.6 62Q74.3 55.5 75.3 50Q76.4 44.9 77.8 41.8" fill="none" stroke="#efe9d2" stroke-width="2.2" stroke-linecap="round" opacity="0.85"/>
<path d="M60 58Q56.2 49 54 42Q50.3 33.9 46 28M64 56Q60.8 49.4 60 42Q58.8 34.9 58 30M78 56Q81.1 48 82 40Q81 33.4 78 26M84 58Q85.1 50.7 86 44Q88 38.1 92 30M36 80Q31.9 70.5 28 62Q23.1 55.2 20 48" fill="none" stroke="#f8f6ee" stroke-width="2.6" stroke-linecap="round" stroke-linejoin="round"/>
<path d="M34 90Q29.2 81.8 22 74Q17.7 68.5 12 62M26 58Q28 64.4 30 70Q32.6 78 34 84M84 92Q88.9 88.1 96 86Q99.4 81 104 78M60 106Q64.5 116.8 70 128Q72.3 139 76 150M96 138Q98.8 145 104 150Q106.5 156 108 164" fill="none" stroke="#f4f1e6" stroke-width="1.6" stroke-linecap="round" stroke-linejoin="round" opacity="0.9"/>
</g>
</svg>
</div>
<div class="photo" style="left:1150px;top:379.2px;width:137.6px;height:216.4px">
<svg width="137.6" height="216.4" viewBox="0 0 137.6 216.4" role="img" aria-label="moss shoot photograph">
<defs>
<linearGradient id="p7sky" x1="0" y1="0" x2="0" y2="1"><stop offset="0" stop-color="#515459"/><stop offset="0.5" stop-color="#42454a"/><stop offset="1" stop-color="#383b40"/></linearGradient>
<radialGradient id="p7gl" cx="1" cy="0" r="0.9"><stop offset="0" stop-color="#8a8d8e" stop-opacity="0.55"/><stop offset="1" stop-color="#8a8d8e" stop-opacity="0"/></radialGradient>
<linearGradient id="p7gnd" x1="0" y1="0" x2="0" y2="1"><stop offset="0" stop-color="#6d7276"/><stop offset="0.025" stop-color="#abb0b3"/><stop offset="0.09" stop-color="#c4c7c7"/><stop offset="0.15" stop-color="#d0ccc0"/><stop offset="0.21" stop-color="#d8c8a2"/><stop offset="0.30" stop-color="#dcc28c"/><stop offset="0.5" stop-color="#d9bc82"/><stop offset="0.75" stop-color="#ceac72"/><stop offset="1" stop-color="#c6a66a"/></linearGradient>
<filter id="p7sn" x="0" y="0" width="100%" height="100%" color-interpolation-filters="sRGB"><feTurbulence type="fractalNoise" baseFrequency="0.075 0.1" numOctaves="3" seed="27"/><feColorMatrix type="matrix" values="1.8 0 0 0 -0.36  1.8 0 0 0 -0.36  1.8 0 0 0 -0.36  0 0 0 0 1"/><feComponentTransfer><feFuncR type="table" tableValues="0.56 0.70 0.80 0.87 0.93 0.98"/><feFuncG type="table" tableValues="0.43 0.57 0.68 0.77 0.86 0.94"/><feFuncB type="table" tableValues="0.20 0.32 0.43 0.55 0.68 0.84"/></feComponentTransfer></filter>
<linearGradient id="p7fade" x1="0" y1="0" x2="0" y2="1"><stop offset="0" stop-color="#fff" stop-opacity="0"/><stop offset="0.35" stop-color="#fff" stop-opacity="0.1"/><stop offset="0.6" stop-color="#fff" stop-opacity="0.6"/><stop offset="1" stop-color="#fff" stop-opacity="1"/></linearGradient>
<mask id="p7m" maskUnits="userSpaceOnUse" x="0" y="0" width="137.6" height="216.4"><rect x="0" y="113.6" width="137.6" height="102.8" fill="url(#p7fade)"/></mask>
<filter id="p7bl" x="-10%" y="-10%" width="120%" height="120%" color-interpolation-filters="sRGB"><feTurbulence type="fractalNoise" baseFrequency="0.055" numOctaves="2" seed="67" result="n1"/><feDisplacementMap in="SourceGraphic" in2="n1" scale="7" xChannelSelector="R" yChannelSelector="G" result="d"/><feTurbulence type="fractalNoise" baseFrequency="0.1" numOctaves="2" seed="68" result="n2"/><feColorMatrix in="n2" type="matrix" values="0 0 0 0 0.07  0 0 0 0 0.05  0 0 0 0 0  -2.0 0 0 0 1.15" result="dk"/><feComposite in="dk" in2="d" operator="in" result="dk2"/><feColorMatrix in="n2" type="matrix" values="0 0 0 0 0.85  0 0 0 0 0.8  0 0 0 0 0.35  0 2.0 0 0 -1.2" result="lt"/><feComposite in="lt" in2="d" operator="in" result="lt2"/><feMerge result="m"><feMergeNode in="d"/><feMergeNode in="dk2"/><feMergeNode in="lt2"/></feMerge><feGaussianBlur in="m" stdDeviation="0.65"/></filter>
<filter id="p7hb" x="-10%" y="-10%" width="120%" height="120%"><feTurbulence type="fractalNoise" baseFrequency="0.06" numOctaves="2" seed="69" result="n1"/><feDisplacementMap in="SourceGraphic" in2="n1" scale="5" xChannelSelector="R" yChannelSelector="G" result="d"/><feGaussianBlur in="d" stdDeviation="0.5"/></filter>
<linearGradient id="p7hz" x1="0" y1="0" x2="0" y2="1"><stop offset="0" stop-color="#34373d" stop-opacity="1"/><stop offset="1" stop-color="#9aa0a4" stop-opacity="0"/></linearGradient>
</defs>
<rect width="137.6" height="91.6" fill="url(#p7sky)"/>
<rect width="137.6" height="91.6" fill="url(#p7gl)"/>
<rect y="88.6" width="137.6" height="127.8" fill="url(#p7gnd)"/>
<rect y="88.1" width="137.6" height="5" fill="url(#p7hz)"/>
<rect width="137.6" height="216.4" filter="url(#p7sn)" mask="url(#p7m)" opacity="0.8"/>
<g filter="url(#p7bl)">
<path d="M52.1 218.4 C50.1 144.2 53.7 91.3 64 58 C74.3 91.3 69.9 144.2 67.9 218.4Z" fill="#3d3710"/>
<g><path d="M58.3 206.5C62.4 199.4 57.6 187.9 48.3 179.9C46.6 192.1 50.7 203.9 58.3 206.5Z" fill="#635720"/><path d="M62.4 202.5C72.1 200 79.3 185.2 79.7 169.5C67 178.8 59 193.1 62.4 202.5Z" fill="#5b531c"/><path d="M59 180.5C61.9 170.5 53.4 152.9 40.6 140.3C41.8 158.2 49.5 176.1 59 180.5Z" fill="#564f1b"/><path d="M63 180.5C72.3 177.2 79.5 161.5 80.4 145.3C68.1 155.9 60 171.2 63 180.5Z" fill="#5b541d"/><path d="M59.6 157.6C62.7 150.8 58.2 138.3 50.1 128.8C49.1 141.3 53 154.1 59.6 157.6Z" fill="#504d19"/><path d="M63.9 144.7C72.9 139.8 80.4 121.7 81.8 103.8C69.6 117 61.4 134.8 63.9 144.7Z" fill="#4d4b17"/><path d="M60.2 130.7C62.1 124.3 56.4 113.5 47.9 106.1C48.8 117.3 53.9 128.3 60.2 130.7Z" fill="#494616"/><path d="M64.2 130.7C71.4 129 75.8 118.7 75.1 107.6C66.1 114.1 61 124.2 64.2 130.7Z" fill="#4d4a17"/><path d="M60.8 108.8C64.2 101.1 58.1 88.8 47.9 80.5C47.5 93.7 52.8 106.3 60.8 108.8Z" fill="#4e4b17"/><path d="M64.7 110.8C72.6 106.6 76.7 91.8 74.9 77.4C65.4 88.4 60.6 103 64.7 110.8Z" fill="#5e5a1c"/><path d="M61.3 88.9C63.3 80.5 55.5 66.6 44.4 57C46.1 71.6 53.2 85.8 61.3 88.9Z" fill="#605c1d"/><path d="M65.1 95.9C73.1 93.3 78.2 80.7 77.6 67.6C67.5 76 61.6 88.2 65.1 95.9Z" fill="#5a561b"/><path d="M61.5 79.9C65.9 74.5 62.9 65.1 55.5 58.3C52.7 67.9 54.9 77.5 61.5 79.9Z" fill="#5d581b"/><path d="M65.5 79.9C72.1 77.9 74.4 68.9 71.7 59.7C64.2 65.8 61.1 74.6 65.5 79.9Z" fill="#605a1d"/></g>
<g><path d="M56.2 202.5C59 191.8 49.1 183.1 34.6 181.7C36.6 196.1 45.7 205.7 56.2 202.5Z" fill="#504619"/><path d="M66 198.5C77.7 205.1 92.4 196.2 100.4 179.7C82.2 177.5 66.8 185.1 66 198.5Z" fill="#4b4417"/><path d="M55.4 176.5C54.7 163.1 37.6 151.8 17.5 149.5C26.2 167.8 42.5 180.2 55.4 176.5Z" fill="#484216"/><path d="M68 176.5C79.9 181.6 95 171.5 103.3 154.9C84.8 154.8 68.9 163.7 68 176.5Z" fill="#464116"/><path d="M57.4 153.6C59.7 144.1 50.1 133.8 36.7 129.4C39 143.4 47.7 154.4 57.4 153.6Z" fill="#454215"/><path d="M70.3 140.7C82.9 143.2 99 130.1 107.7 112.1C88 115.8 71.2 127.9 70.3 140.7Z" fill="#414013"/><path d="M58.1 126.7C57.2 118 46.1 111.8 33.2 111.8C39.3 123.1 50 130 58.1 126.7Z" fill="#3d3b12"/><path d="M69.3 126.7C78.2 131.2 87.6 124.1 91.5 111.6C78.4 110.6 68.3 116.8 69.3 126.7Z" fill="#3d3c12"/><path d="M57.2 104.8C58 93.6 46 85.6 30.6 85.7C35.4 100.3 46.8 109.2 57.2 104.8Z" fill="#454214"/><path d="M77 106.8C88.6 107.5 98 94.3 99.5 77.7C83.8 83.3 73.4 95.7 77 106.8Z" fill="#4c4a16"/><path d="M56.3 84.9C54.4 73.9 39.3 66.6 22.7 67C31.6 81 46.1 89.4 56.3 84.9Z" fill="#4a4715"/><path d="M71.6 91.9C82.1 96 93.1 86.9 97.5 72.2C82.2 72.5 70.4 80.7 71.6 91.9Z" fill="#4a4815"/><path d="M60.8 75.9C65.6 67.5 59.3 59.2 47.5 56.4C45.8 68.4 51.2 77.3 60.8 75.9Z" fill="#4c4916"/><path d="M70.5 75.9C79.9 78.1 85.4 70 84.1 58.2C72.4 60 66 67.4 70.5 75.9Z" fill="#504b18"/><path d="M64.4 96.8C75.3 92.2 75.6 79.1 66.6 67.1C55.9 77.7 54.3 90.7 64.4 96.8Z" fill="#3a3710"/></g>
<g><path d="M56.2 201.7C57.3 192.6 47.9 183.8 34.6 181.7C38.5 194 47.3 203.5 56.2 201.7Z" fill="#9e8735"/><path d="M51.9 195.8C51 191.3 44.3 186.1 36.8 183.5C40.8 190.3 47.3 195.9 51.9 195.8Z" fill="#bead53" opacity="0.55"/><path d="M66 197.7C76.3 202.2 90.9 193.2 100.4 179.7C83.3 178.7 68.2 186.7 66 197.7Z" fill="#928430"/><path d="M72.9 191.8C78.6 193 89.1 188.2 97 181.3C86.5 182.3 75.9 186.7 72.9 191.8Z" fill="#b8ac50" opacity="0.55"/><path d="M55.4 175.7C53.2 164.4 36.6 152.8 17.5 149.5C28 165.2 44 177.6 55.4 175.7Z" fill="#897e2e"/><path d="M47.8 168.4C44.8 162.7 33 155.6 21.3 151.9C29.8 160.7 41.4 168.1 47.8 168.4Z" fill="#b3a84f" opacity="0.55"/><path d="M68 175.7C78.5 179 93.4 168.8 103.3 154.9C85.8 155.8 70.3 165.1 68 175.7Z" fill="#867b2d"/><path d="M75.1 169.5C81 170.1 91.8 164.3 99.8 156.8C89 159 78.1 164.4 75.1 169.5Z" fill="#b1a74f" opacity="0.55"/><path d="M57.4 152.8C58.2 144.6 49.2 134.1 36.7 129.4C40.8 141.7 49.2 152.6 57.4 152.8Z" fill="#827f2c"/><path d="M53.3 146.7C52.4 142.3 45.9 135.8 38.7 131.5C42.6 138.8 48.9 145.7 53.3 146.7Z" fill="#afa94e" opacity="0.55"/><path d="M70.3 139.9C81.5 140.8 97.3 127.8 107.7 112.1C89 116.6 72.7 129 70.3 139.9Z" fill="#787926"/><path d="M77.8 132.5C84.2 131.7 95.5 123.7 103.9 114.7C92.5 119.2 80.9 126.9 77.8 132.5Z" fill="#aaa64b" opacity="0.55"/><path d="M58.1 125.9C56.3 118.7 45.5 112.3 33.2 111.8C40.5 121 51 128.1 58.1 125.9Z" fill="#6f6c24"/><path d="M53.1 121.9C51 118.4 43.2 114.6 35.7 112.9C41.4 118.1 49 122.2 53.1 121.9Z" fill="#a59e4a" opacity="0.55"/><path d="M69.3 125.9C76.9 129 86.1 121.8 91.5 111.6C79.3 111.3 69.6 117.7 69.3 125.9Z" fill="#6f6e24"/><path d="M73.7 121.4C77.8 122.2 84.5 118.3 89.3 112.8C82.1 113.9 75.2 117.6 73.7 121.4Z" fill="#a5a04a" opacity="0.55"/><path d="M57.2 104C56.6 94.6 45 86.5 30.6 85.7C37.1 97.8 48.2 106.8 57.2 104Z" fill="#827f29"/><path d="M51.9 98.5C50 94 41.7 89.2 33.3 87.3C38.9 93.9 47 99 51.9 98.5Z" fill="#afa94d" opacity="0.55"/><path d="M77 106C86.8 105.5 95.9 92.4 99.5 77.7C85 83.8 75.2 96.3 77 106Z" fill="#95922e"/><path d="M81.5 98.5C86.5 97.1 93.3 89 97.2 80.3C89.2 85.4 82.1 93.3 81.5 98.5Z" fill="#b9b34f" opacity="0.55"/><path d="M56.3 84.1C53.3 75 38.6 67.3 22.7 67C32.9 78.5 47.2 87 56.3 84.1Z" fill="#8e8b2c"/><path d="M49.6 79C46.4 74.7 36 70.2 26.1 68.5C34 74.8 44.2 79.6 49.6 79Z" fill="#b6af4e" opacity="0.55"/><path d="M71.6 91.1C80.6 93.7 91.4 84.5 97.5 72.2C83.2 73.3 71.9 81.7 71.6 91.1Z" fill="#908d2c"/><path d="M76.7 85.4C81.6 85.8 89.5 80.6 94.9 73.9C86.5 76 78.4 80.9 76.7 85.4Z" fill="#b7b14e" opacity="0.55"/><path d="M60.8 75.1C63.9 67.9 58.2 59.5 47.5 56.4C47.9 66.8 52.9 75.6 60.8 75.1Z" fill="#95902d"/><path d="M58.1 69.7C58.5 66 54.3 60.9 48.8 58C50.4 64 54.4 69.3 58.1 69.7Z" fill="#b9b24f" opacity="0.55"/><path d="M70.5 75.1C78.2 76.3 83.4 68.2 84.1 58.2C73.6 60.3 67.7 67.9 70.5 75.1Z" fill="#9d9432"/><path d="M73.2 70.1C76.9 70 81 65.3 82.7 59.7C77.3 62 73 66.5 73.2 70.1Z" fill="#beb452" opacity="0.55"/><path d="M64.4 96C72.9 91.4 73.3 78.6 66.6 67.1C58.2 77.5 56.8 90.2 64.4 96Z" fill="#666220"/><path d="M64.9 88.2C68.3 85.1 68.8 77 66.4 69.8C62.8 76.5 61.9 84.6 64.9 88.2Z" fill="#a09948" opacity="0.55"/></g>
<path d="M55 217.4C56 168.3 58.8 144.2 62.4 117C64.8 144.2 65 168.3 66 217.4Z" fill="#2a1b08" opacity="0.8"/>
</g>
<g filter="url(#p7hb)">
<path d="M58.3 62Q56.4 55.6 56.4 50Q53.8 43.2 53.4 37.1M60.7 62Q60.4 55.5 59.1 50Q57.9 43.3 56.7 36.4M64.2 62Q65.2 56.1 64.8 50Q66.3 45.4 65.8 39.8M65.5 62Q65.3 56.3 66 50Q65.4 42.2 66.7 34M68.8 62Q70.9 56.8 71.2 50Q73.5 46.3 74.7 42" fill="none" stroke="#efe9d2" stroke-width="2.2" stroke-linecap="round" opacity="0.85"/>
<path d="M58 58Q55.3 49.3 54 42Q51.8 33.6 48 26M54 60Q50.7 54.9 48 48Q45.6 44.2 44 38M46 64Q41.2 58.8 38 52Q33.5 46.1 30 42M76 60Q77.9 53.8 80 46Q82 39.2 86 32M34 74Q29.9 66.9 24 62Q20 56.5 16 52M98 70Q107.2 64.5 114 58Q123 50.1 130 44M72 102Q83.3 100.3 94 98Q101 92.8 110 88" fill="none" stroke="#f8f6ee" stroke-width="2.6" stroke-linecap="round" stroke-linejoin="round"/>
<path d="M30 86Q24.9 79.8 20 72Q12.8 66.5 6 62M26 70Q26.3 76.8 28 82Q26.2 87.5 26 92M56 112Q60.5 120.1 66 130Q68.8 137 72 146" fill="none" stroke="#f4f1e6" stroke-width="1.6" stroke-linecap="round" stroke-linejoin="round" opacity="0.9"/>
</g>
</svg>
</div>
<div class="photo" style="left:1292.4px;top:379.2px;width:138.2px;height:216.4px">
<svg width="138.2" height="216.4" viewBox="0 0 138.2 216.4" role="img" aria-label="moss shoot photograph">
<defs>
<linearGradient id="p8sky" x1="0" y1="0" x2="0" y2="1"><stop offset="0" stop-color="#515459"/><stop offset="0.5" stop-color="#42454a"/><stop offset="1" stop-color="#383b40"/></linearGradient>
<radialGradient id="p8gl" cx="1" cy="0" r="0.9"><stop offset="0" stop-color="#8a8d8e" stop-opacity="0.55"/><stop offset="1" stop-color="#8a8d8e" stop-opacity="0"/></radialGradient>
<linearGradient id="p8gnd" x1="0" y1="0" x2="0" y2="1"><stop offset="0" stop-color="#6d7276"/><stop offset="0.025" stop-color="#abb0b3"/><stop offset="0.09" stop-color="#c4c7c7"/><stop offset="0.15" stop-color="#d0ccc0"/><stop offset="0.21" stop-color="#d8c8a2"/><stop offset="0.30" stop-color="#dcc28c"/><stop offset="0.5" stop-color="#d9bc82"/><stop offset="0.75" stop-color="#ceac72"/><stop offset="1" stop-color="#c6a66a"/></linearGradient>
<filter id="p8sn" x="0" y="0" width="100%" height="100%" color-interpolation-filters="sRGB"><feTurbulence type="fractalNoise" baseFrequency="0.075 0.1" numOctaves="3" seed="28"/><feColorMatrix type="matrix" values="1.8 0 0 0 -0.36  1.8 0 0 0 -0.36  1.8 0 0 0 -0.36  0 0 0 0 1"/><feComponentTransfer><feFuncR type="table" tableValues="0.56 0.70 0.80 0.87 0.93 0.98"/><feFuncG type="table" tableValues="0.43 0.57 0.68 0.77 0.86 0.94"/><feFuncB type="table" tableValues="0.20 0.32 0.43 0.55 0.68 0.84"/></feComponentTransfer></filter>
<linearGradient id="p8fade" x1="0" y1="0" x2="0" y2="1"><stop offset="0" stop-color="#fff" stop-opacity="0"/><stop offset="0.35" stop-color="#fff" stop-opacity="0.1"/><stop offset="0.6" stop-color="#fff" stop-opacity="0.6"/><stop offset="1" stop-color="#fff" stop-opacity="1"/></linearGradient>
<mask id="p8m" maskUnits="userSpaceOnUse" x="0" y="0" width="138.2" height="216.4"><rect x="0" y="113.6" width="138.2" height="102.8" fill="url(#p8fade)"/></mask>
<filter id="p8bl" x="-10%" y="-10%" width="120%" height="120%" color-interpolation-filters="sRGB"><feTurbulence type="fractalNoise" baseFrequency="0.055" numOctaves="2" seed="68" result="n1"/><feDisplacementMap in="SourceGraphic" in2="n1" scale="7" xChannelSelector="R" yChannelSelector="G" result="d"/><feTurbulence type="fractalNoise" baseFrequency="0.1" numOctaves="2" seed="69" result="n2"/><feColorMatrix in="n2" type="matrix" values="0 0 0 0 0.07  0 0 0 0 0.05  0 0 0 0 0  -2.0 0 0 0 1.15" result="dk"/><feComposite in="dk" in2="d" operator="in" result="dk2"/><feColorMatrix in="n2" type="matrix" values="0 0 0 0 0.85  0 0 0 0 0.8  0 0 0 0 0.35  0 2.0 0 0 -1.2" result="lt"/><feComposite in="lt" in2="d" operator="in" result="lt2"/><feMerge result="m"><feMergeNode in="d"/><feMergeNode in="dk2"/><feMergeNode in="lt2"/></feMerge><feGaussianBlur in="m" stdDeviation="0.65"/></filter>
<filter id="p8hb" x="-10%" y="-10%" width="120%" height="120%"><feTurbulence type="fractalNoise" baseFrequency="0.06" numOctaves="2" seed="70" result="n1"/><feDisplacementMap in="SourceGraphic" in2="n1" scale="5" xChannelSelector="R" yChannelSelector="G" result="d"/><feGaussianBlur in="d" stdDeviation="0.5"/></filter>
<linearGradient id="p8hz" x1="0" y1="0" x2="0" y2="1"><stop offset="0" stop-color="#34373d" stop-opacity="1"/><stop offset="1" stop-color="#9aa0a4" stop-opacity="0"/></linearGradient>
</defs>
<rect width="138.2" height="91.6" fill="url(#p8sky)"/>
<rect width="138.2" height="91.6" fill="url(#p8gl)"/>
<rect y="88.6" width="138.2" height="127.8" fill="url(#p8gnd)"/>
<rect y="88.1" width="138.2" height="5" fill="url(#p8hz)"/>
<rect width="138.2" height="216.4" filter="url(#p8sn)" mask="url(#p8m)" opacity="0.8"/>
<g filter="url(#p8bl)">
<path d="M60.7 218.4 C58.9 144.2 60.5 91.3 70 58 C79.5 91.3 77.1 144.2 75.3 218.4Z" fill="#3e3810"/>
<g><path d="M66.2 206.5C69.3 199.3 63.4 189.3 53.6 183.1C53.3 194.7 58.5 205.2 66.2 206.5Z" fill="#685d21"/><path d="M70.2 202.5C79.9 199.8 87.6 184.7 88.5 168.6C75.6 178.3 67.1 192.9 70.2 202.5Z" fill="#635a1f"/><path d="M66.5 180.5C70.2 171.8 63.7 156.8 52.6 146.1C52.1 161.5 57.8 176.9 66.5 180.5Z" fill="#61591e"/><path d="M70.5 180.5C79.2 177.5 85.2 163.2 85 148.4C73.8 158 67 172 70.5 180.5Z" fill="#524b19"/><path d="M66.8 157.6C70 151.5 65.9 140.6 58.1 132.6C57 143.7 60.5 154.8 66.8 157.6Z" fill="#524f19"/><path d="M70.9 144.7C80.2 141.6 89.9 125.8 93.7 109.2C80.2 119.6 69.9 135 70.9 144.7Z" fill="#5a571b"/><path d="M67.1 130.7C68.6 124.4 62.5 114.4 53.9 107.8C55.3 118.6 60.9 128.8 67.1 130.7Z" fill="#5a561c"/><path d="M71.1 130.7C78.4 129.2 83.8 118.7 84.3 107.2C74.7 113.6 68.6 123.8 71.1 130.7Z" fill="#524f19"/><path d="M67.4 108.8C70.1 101.6 63.8 92.1 53.7 86.8C54 98.2 59.7 108.1 67.4 108.8Z" fill="#5b571b"/><path d="M71.4 110.8C79.1 108 83.4 95.6 82.2 82.9C72.7 91.4 67.6 103.6 71.4 110.8Z" fill="#5a561b"/><path d="M67.6 88.9C69.7 81.1 62.5 69.1 52 61.1C53.4 74.2 59.9 86.6 67.6 88.9Z" fill="#615d1c"/><path d="M71.6 95.9C79.8 94.1 86.7 81.9 88.1 68.6C76.9 76 69.3 87.8 71.6 95.9Z" fill="#64601d"/><path d="M67.8 79.9C72.3 75.1 69.7 66.9 62.8 61C59.6 69.5 61.4 77.9 67.8 79.9Z" fill="#5c561b"/><path d="M71.8 79.9C78.1 77.4 79.8 68 76.4 58.9C69.5 65.8 67.1 74.9 71.8 79.9Z" fill="#5a541b"/></g>
<g><path d="M64.5 202.5C64.5 191.4 53.2 186.4 39.6 189.8C44.9 202.8 55.6 209 64.5 202.5Z" fill="#544a1a"/><path d="M73.6 198.5C85.3 205.6 100.9 196.8 109.7 180.2C91.1 177.4 74.8 184.8 73.6 198.5Z" fill="#504918"/><path d="M63.1 176.5C64.9 163.8 51.5 153 33.7 150.7C38.3 168.1 50.8 180 63.1 176.5Z" fill="#4e4718"/><path d="M75.5 176.5C87.3 181.3 100.1 171.1 105.6 154.6C88.2 154.8 74.6 163.9 75.5 176.5Z" fill="#4c4617"/><path d="M65.1 153.6C67.7 144.5 59.1 135.8 46.4 133.1C47.9 146 55.8 155.4 65.1 153.6Z" fill="#4b4817"/><path d="M77.7 140.7C88.2 147.7 106.7 141.3 120 127.6C101.2 123.7 82.4 128.9 77.7 140.7Z" fill="#484615"/><path d="M65.4 126.7C63.7 118.2 52.2 113.7 39.9 115.7C46.9 126 58 131.3 65.4 126.7Z" fill="#454214"/><path d="M76.2 126.7C84.6 132.7 95.6 126.9 101.8 114.7C88.5 111.7 77 116.5 76.2 126.7Z" fill="#454314"/><path d="M64 104.8C62.6 93.9 51 90.6 38.2 95.9C45 108 56.2 112.5 64 104.8Z" fill="#4b4816"/><path d="M84.8 106.8C95.7 110.2 105.4 100.3 107.9 85.4C92.8 86.8 82.2 95.7 84.8 106.8Z" fill="#524e18"/><path d="M62.6 84.9C60.9 74.2 47.2 68.6 32.1 70.8C40.2 83.8 53.4 90.5 62.6 84.9Z" fill="#4f4c17"/><path d="M78.3 91.9C87.4 99 101 93.2 109.7 80.1C94.5 75.9 80.5 80.5 78.3 91.9Z" fill="#504d17"/><path d="M67.8 75.9C73.3 68 67.9 60.7 56.7 58.6C53.8 69.7 58.2 77.6 67.8 75.9Z" fill="#524e17"/><path d="M76.8 75.9C86.6 76.5 90.8 67.4 87.4 55.9C76 59.6 70.8 68.1 76.8 75.9Z" fill="#544f19"/><path d="M71.2 96.8C82 91.3 81.4 77.5 71.5 65.5C61.3 77.3 60.5 91.1 71.2 96.8Z" fill="#423f13"/></g>
<g><path d="M64.5 201.7C63.3 192.7 52.4 187.4 39.6 189.8C46.3 200.2 56.8 206.4 64.5 201.7Z" fill="#a89338"/><path d="M59.5 197.4C57.4 193.4 49.7 190.7 42.1 190.8C47.7 195.9 55.3 199 59.5 197.4Z" fill="#c4b455" opacity="0.55"/><path d="M73.6 197.7C84 202.6 99.4 193.8 109.7 180.2C92.1 178.7 76.2 186.5 73.6 197.7Z" fill="#9f9034"/><path d="M80.8 191.8C86.7 193.3 97.7 188.6 106.1 181.7C95.3 182.5 84 186.7 80.8 191.8Z" fill="#bfb253" opacity="0.55"/><path d="M63.1 175.7C63.2 165 50.3 153.9 33.7 150.7C40.3 165.7 52.5 177.5 63.1 175.7Z" fill="#988b32"/><path d="M57.3 168.6C55.5 163.2 46.3 156.5 36.7 153C42.7 161.4 51.6 168.4 57.3 168.6Z" fill="#bbaf52" opacity="0.55"/><path d="M75.5 175.7C85.7 178.7 98.2 168.5 105.6 154.6C89.4 155.9 76.2 165.2 75.5 175.7Z" fill="#958831"/><path d="M81.5 169.4C87 169.9 96.2 164 102.6 156.5C93 158.8 83.6 164.3 81.5 169.4Z" fill="#b9ae51" opacity="0.55"/><path d="M65.1 152.8C66.2 145 58.1 136.2 46.4 133.1C49.7 144.1 57.2 153.5 65.1 152.8Z" fill="#928e30"/><path d="M61.4 147.4C60.7 143.4 54.8 138 48.2 134.8C51.6 141.3 57.3 146.9 61.4 147.4Z" fill="#b8b150" opacity="0.55"/><path d="M77.7 139.9C87.4 144.9 105.7 138.5 120 127.6C101.8 124.9 83.2 130.4 77.7 139.9Z" fill="#8b882c"/><path d="M86.1 135.5C92.2 137.2 105.2 133.9 115.8 128.6C103.9 128.5 90.8 131.3 86.1 135.5Z" fill="#b4ae4e" opacity="0.55"/><path d="M65.4 125.9C62.9 119 51.7 114.2 39.9 115.7C47.9 123.8 58.8 129.2 65.4 125.9Z" fill="#827d2a"/><path d="M60.3 122.7C57.8 119.5 49.9 116.9 42.4 116.5C48.6 120.8 56.4 123.6 60.3 122.7Z" fill="#afa84d" opacity="0.55"/><path d="M76.2 125.9C83.5 130.2 94.4 124.3 101.8 114.7C89.3 112.5 78 117.6 76.2 125.9Z" fill="#82802a"/><path d="M81.3 122C85.4 123.4 93.3 120.4 99.3 115.6C91.6 115.6 83.6 118.3 81.3 122Z" fill="#afa94d" opacity="0.55"/><path d="M64 104C61.7 95.3 50.3 91.6 38.2 95.9C46.1 105.1 57.1 109.8 64 104Z" fill="#928e2e"/><path d="M58.9 100.5C56.3 96.8 48.3 95.2 40.8 96.4C47 100.7 55 102.7 58.9 100.5Z" fill="#b8b14f" opacity="0.55"/><path d="M84.8 106C94 107.9 103.4 98 107.9 85.4C94 87.5 83.9 96.7 84.8 106Z" fill="#a29d33"/><path d="M89.4 100C94.2 100 101.2 94.2 105.6 87.2C97.7 89.9 90.5 95.3 89.4 100Z" fill="#c1b952" opacity="0.55"/><path d="M62.6 84.1C59.9 75.4 46.5 69.4 32.1 70.8C41.4 81.2 54.4 88 62.6 84.1Z" fill="#9c9730"/><path d="M56.5 79.8C53.6 75.8 44.2 72.5 35.2 71.9C42.4 77.3 51.7 80.9 56.5 79.8Z" fill="#bdb650" opacity="0.55"/><path d="M78.3 91.1C86.4 96.2 99.9 90.4 109.7 80.1C95.2 77 81.4 81.9 78.3 91.1Z" fill="#9e9930"/><path d="M84.6 87C89.3 88.8 99 85.9 106.6 80.9C97.5 80.5 87.7 83 84.6 87Z" fill="#beb750" opacity="0.55"/><path d="M67.8 75.1C71.5 68.3 66.7 61 56.7 58.6C56 68.1 60 76 67.8 75.1Z" fill="#a29b31"/><path d="M65.5 70.1C66.3 66.7 62.7 62.3 57.8 60C58.7 65.4 62 70 65.5 70.1Z" fill="#c1b851" opacity="0.55"/><path d="M76.8 75.1C84.7 75 88.5 66 87.4 55.9C77.2 59.8 72.7 68.3 76.8 75.1Z" fill="#a99f36"/><path d="M78.9 69.6C82.6 68.9 85.7 63.5 86.4 57.6C81.4 60.8 77.9 66 78.9 69.6Z" fill="#c4ba54" opacity="0.55"/><path d="M71.2 96C79.5 90.6 79.1 77.2 71.5 65.5C63.7 77 63 90.5 71.2 96Z" fill="#7b7627"/><path d="M71.2 87.8C74.5 84.3 74.4 75.8 71.5 68.3C68.3 75.7 68 84.3 71.2 87.8Z" fill="#aba44b" opacity="0.55"/></g>
<path d="M63 217.4C64 168.3 65.9 144.2 69.2 117C71.9 144.2 73 168.3 74 217.4Z" fill="#2a1b08" opacity="0.8"/>
</g>
<g filter="url(#p8hb)">
<path d="M65.5 62Q65.1 56.5 63 50Q61.1 43.6 59.1 37M67.4 62Q66.1 56.9 66.1 50Q64.6 42 64.1 35.3M70.9 62Q70.7 55.9 70.2 50Q70.4 44.4 69 37.9M72.5 62Q72.4 55.7 72.9 50Q72.5 40.3 73.5 32.2M74.2 62Q74.6 56 76 50Q77.7 41.6 78.7 35.3" fill="none" stroke="#efe9d2" stroke-width="2.2" stroke-linecap="round" opacity="0.85"/>
<path d="M66 60Q64.6 51.3 62 44Q59.7 35.9 56 26M64 60Q60.9 52.6 58 46Q56 43 54 38M50 58Q47.1 55.5 42 52Q36.8 49.8 32 48M86 58Q89.5 51.6 92 46Q95.7 41.6 98 38M36 70Q28.2 67 20 64Q13.1 63.8 6 62M104 74Q111 74.4 120 76Q126.9 73.5 136 72" fill="none" stroke="#f8f6ee" stroke-width="2.6" stroke-linecap="round" stroke-linejoin="round"/>
<path d="M32 78Q30.9 74.7 28 70Q20.3 71.8 12 74M26 66Q26.7 72.9 28 80Q31.8 85.6 34 90M100 106Q107.8 105.3 114 104Q119.9 100.6 128 96M60 110Q65.3 117.9 70 126Q70.9 131.8 74 140" fill="none" stroke="#f4f1e6" stroke-width="1.6" stroke-linecap="round" stroke-linejoin="round" opacity="0.9"/>
</g>
<text x="106" y="204.4" font-size="20.6" fill="#f6f4ee" stroke="#f6f4ee" stroke-width="0.3" text-anchor="middle" letter-spacing="-0.3">1mm</text>
<rect x="91.6" y="209.2" width="27.2" height="1.7" fill="#f6f4ee"/>
</svg>
</div>
</section>
<section class="panel" id="panel-c"><div class="badge" style="left:69.8px;top:616px">C</div>
<svg class="layer" width="1500" height="1000" viewBox="0 0 1500 1000" style="overflow:visible">
<g fill="none" stroke="#5a5a5a" stroke-width="1.6">
<path d="M141.6 665.4 V911.1"/>
</g>
<path d="M140.8 910.3 H509" fill="none" stroke="#5a5a5a" stroke-width="1.7"/>
<g fill="none" stroke="#5a5a5a" stroke-width="1.2">
<path d="M141.6 910.3h4M141.6 861.5h4M141.6 812.8h4M141.6 764h4M141.6 715.2h4M141.6 666.4h4M151.4 910.3v-4.5M171.77 910.3v-4.5M192.13 910.3v-4.5M212.5 910.3v-4.5M232.86 910.3v-4.5M253.22 910.3v-4.5M273.59 910.3v-4.5M293.95 910.3v-4.5M314.32 910.3v-4.5M334.69 910.3v-4.5M355.05 910.3v-4.5M375.41 910.3v-4.5M395.78 910.3v-4.5M416.14 910.3v-4.5M436.51 910.3v-4.5M456.88 910.3v-4.5M477.24 910.3v-4.5M497.61 910.3v-4.5"/>
</g>
<g font-size="21.3" fill="#575757" text-anchor="end" stroke="#575757" stroke-width="0.2">
<text x="135.4" y="917.6">0.0</text>
<text x="135.4" y="868.8">0.2</text>
<text x="135.4" y="820.1">0.4</text>
<text x="135.4" y="771.3">0.6</text>
<text x="135.4" y="722.5">0.8</text>
<text x="135.4" y="673.7">1.0</text>
</g>
<text transform="translate(84.6 788) rotate(-90)" text-anchor="middle" font-size="21" fill="#4f4f4f" stroke="#4f4f4f" stroke-width="0.25" textLength="80" lengthAdjust="spacingAndGlyphs">RWC (%)</text>
<text transform="translate(156.1 915.7) rotate(-90)" text-anchor="end" font-size="20.6" fill="#4a4a4a" stroke="#4a4a4a" stroke-width="0.3">Hydrated</text>
<text transform="translate(176.53 915.7) rotate(-90)" text-anchor="end" font-size="20.6" fill="#f3a765" stroke="#f3a765" stroke-width="0.3">D5min</text>
<text transform="translate(196.96 915.7) rotate(-90)" text-anchor="end" font-size="20.6" fill="#f3a765" stroke="#f3a765" stroke-width="0.3">D10min</text>
<text transform="translate(217.39 915.7) rotate(-90)" text-anchor="end" font-size="20.6" fill="#f3a765" stroke="#f3a765" stroke-width="0.3">D15min</text>
<text transform="translate(237.82 915.7) rotate(-90)" text-anchor="end" font-size="20.6" fill="#f3a765" stroke="#f3a765" stroke-width="0.3">D20min</text>
<text transform="translate(258.25 915.7) rotate(-90)" text-anchor="end" font-size="20.6" fill="#f3a765" stroke="#f3a765" stroke-width="0.3">D25min</text>
<text transform="translate(278.68 915.7) rotate(-90)" text-anchor="end" font-size="20.6" fill="#f3a765" stroke="#f3a765" stroke-width="0.3">D30min</text>
<text transform="translate(299.11 915.7) rotate(-90)" text-anchor="end" font-size="20.6" fill="#f3a765" stroke="#f3a765" stroke-width="0.3">D35min</text>
<text transform="translate(319.54 915.7) rotate(-90)" text-anchor="end" font-size="20.6" fill="#f3a765" stroke="#f3a765" stroke-width="0.3">D40min</text>
<text transform="translate(339.97 915.7) rotate(-90)" text-anchor="end" font-size="20.6" fill="#3fb98d" stroke="#3fb98d" stroke-width="0.3">R20s</text>
<text transform="translate(360.4 915.7) rotate(-90)" text-anchor="end" font-size="20.6" fill="#3fb98d" stroke="#3fb98d" stroke-width="0.3">R30s</text>
<text transform="translate(380.83 915.7) rotate(-90)" text-anchor="end" font-size="20.6" fill="#3fb98d" stroke="#3fb98d" stroke-width="0.3">R40s</text>
<text transform="translate(401.26 915.7) rotate(-90)" text-anchor="end" font-size="20.6" fill="#3fb98d" stroke="#3fb98d" stroke-width="0.3">R50s</text>
<text transform="translate(421.69 915.7) rotate(-90)" text-anchor="end" font-size="20.6" fill="#3fb98d" stroke="#3fb98d" stroke-width="0.3">R1min</text>
<text transform="translate(442.12 915.7) rotate(-90)" text-anchor="end" font-size="20.6" fill="#3fb98d" stroke="#3fb98d" stroke-width="0.3">R2min</text>
<text transform="translate(462.55 915.7) rotate(-90)" text-anchor="end" font-size="20.6" fill="#3fb98d" stroke="#3fb98d" stroke-width="0.3">R3min</text>
<text transform="translate(482.98 915.7) rotate(-90)" text-anchor="end" font-size="20.6" fill="#3fb98d" stroke="#3fb98d" stroke-width="0.3">R4min</text>
<text transform="translate(503.41 915.7) rotate(-90)" text-anchor="end" font-size="20.6" fill="#3fb98d" stroke="#3fb98d" stroke-width="0.3">R5min</text>
<g fill="none" stroke="#27b0d8" stroke-width="1">
<path d="M171.77 707.9V722.9M166.77 707.9h10M166.77 722.9h10M192.13 756.6V782.6M187.13 756.6h10M187.13 782.6h10M212.5 810.6V820.6M207.5 810.6h10M207.5 820.6h10M232.86 847.6V855.6M227.86 847.6h10M227.86 855.6h10M253.22 888.6V898.6M248.22 888.6h10M248.22 898.6h10M273.59 902V906M268.59 902h10M268.59 906h10M293.95 904V908M288.95 904h10M288.95 908h10M314.32 908V910M309.32 908h10M309.32 910h10M334.69 706V711M329.69 706h10M329.69 711h10M355.05 693V699M350.05 693h10M350.05 699h10M375.41 685.5V695.5M370.41 685.5h10M370.41 695.5h10M395.78 685V695M390.78 685h10M390.78 695h10M416.14 679.3V685.3M411.14 679.3h10M411.14 685.3h10M436.51 675.5V679.5M431.51 675.5h10M431.51 679.5h10M456.88 674.5V680.5M451.88 674.5h10M451.88 680.5h10M477.24 671.5V675.5M472.24 671.5h10M472.24 675.5h10M497.61 668V676M492.61 668h10M492.61 676h10"/>
<polyline stroke-width="1.3" points="151.4,666.4 171.77,715.4 192.13,769.6 212.5,815.6 232.86,851.6 253.22,893.6 273.59,904 293.95,906 314.32,909 334.69,708.5 355.05,696 375.41,690.5 395.78,690 416.14,682.3 436.51,677.5 456.88,677.5 477.24,673.5 497.61,672"/>
</g>
<g fill="#27b0d8">
<circle cx="151.4" cy="666.4" r="4.6"/>
<circle cx="171.77" cy="715.4" r="4.6"/>
<circle cx="192.13" cy="769.6" r="4.6"/>
<circle cx="212.5" cy="815.6" r="4.6"/>
<circle cx="232.86" cy="851.6" r="4.6"/>
<circle cx="253.22" cy="893.6" r="4.6"/>
<circle cx="273.59" cy="904" r="4.6"/>
<circle cx="293.95" cy="906" r="4.6"/>
<circle cx="314.32" cy="909" r="4.6"/>
<circle cx="334.69" cy="708.5" r="4.6"/>
<circle cx="355.05" cy="696" r="4.6"/>
<circle cx="375.41" cy="690.5" r="4.6"/>
<circle cx="395.78" cy="690" r="4.6"/>
<circle cx="416.14" cy="682.3" r="4.6"/>
<circle cx="436.51" cy="677.5" r="4.6"/>
<circle cx="456.88" cy="677.5" r="4.6"/>
<circle cx="477.24" cy="673.5" r="4.6"/>
<circle cx="497.61" cy="672" r="4.6"/>
</g>
<text class="star" x="172.05" y="706.46" text-anchor="middle" font-size="9.6" letter-spacing="-0.7" fill="#2b8ea9">★★★</text>
<text class="star" x="192.15" y="755.96" text-anchor="middle" font-size="9.6" letter-spacing="-0.7" fill="#2b8ea9">★★★</text>
<text class="star" x="212.25" y="809.46" text-anchor="middle" font-size="9.6" letter-spacing="-0.7" fill="#2b8ea9">★★★</text>
<text class="star" x="233.05" y="844.46" text-anchor="middle" font-size="9.6" letter-spacing="-0.7" fill="#2b8ea9">★★★</text>
<text class="star" x="253.25" y="887.46" text-anchor="middle" font-size="9.6" letter-spacing="-0.7" fill="#2b8ea9">★★★</text>
<text class="star" x="272.65" y="900.06" text-anchor="middle" font-size="9.6" letter-spacing="-0.7" fill="#2b8ea9">★★★</text>
<text class="star" x="294.65" y="903.46" text-anchor="middle" font-size="9.6" letter-spacing="-0.7" fill="#2b8ea9">★★★</text>
<text class="star" x="316.65" y="906.46" text-anchor="middle" font-size="9.6" letter-spacing="-0.7" fill="#2b8ea9">★★★</text>
<text class="star" x="333.65" y="703.46" text-anchor="middle" font-size="9.6" letter-spacing="-0.7" fill="#2b8ea9">★★★</text>
<text class="star" x="353.25" y="689.76" text-anchor="middle" font-size="9.6" letter-spacing="-0.7" fill="#2b8ea9">★★★</text>
<text class="star" x="375.65" y="685.46" text-anchor="middle" font-size="9.6" letter-spacing="-0.7" fill="#2b8ea9">★★★</text>
<text class="star" x="397.25" y="681.16" text-anchor="middle" font-size="9.6" letter-spacing="-0.7" fill="#2b8ea9">★★★</text>
<text class="star" x="415.15" y="676.46" text-anchor="middle" font-size="9.6" letter-spacing="-0.7" fill="#2b8ea9">★★</text>
</svg></section>
<section class="panel" id="panel-d"><div class="badge" style="left:509.3px;top:616px">D</div>
<svg class="layer" width="1500" height="1000" viewBox="0 0 1500 1000" style="overflow:visible">
<g fill="none" stroke="#858585" stroke-width="2.4">
<path d="M582.4 665.4 V911.1"/>
</g>
<path d="M581.2 910.3 H950" fill="none" stroke="#5a5a5a" stroke-width="1.7"/>
<g fill="none" stroke="#5a5a5a" stroke-width="1.2">
<path d="M582.4 910.3h2.6M582.4 849.3h2.6M582.4 788.3h2.6M582.4 727.3h2.6M582.4 666.4h2.6M592.4 910.3v-3.1M612.77 910.3v-3.1M633.14 910.3v-3.1M653.51 910.3v-3.1M673.88 910.3v-3.1M694.25 910.3v-3.1M714.62 910.3v-3.1M734.99 910.3v-3.1M755.36 910.3v-3.1M775.73 910.3v-3.1M796.1 910.3v-3.1M816.47 910.3v-3.1M836.84 910.3v-3.1M857.21 910.3v-3.1M877.58 910.3v-3.1M897.95 910.3v-3.1M918.32 910.3v-3.1M938.69 910.3v-3.1"/>
</g>
<g font-size="21.3" fill="#575757" text-anchor="end" stroke="#575757" stroke-width="0.2">
<text x="574.1" y="917.6">0.0</text>
<text x="574.1" y="856.6">0.2</text>
<text x="574.1" y="795.6">0.4</text>
<text x="574.1" y="734.6">0.6</text>
<text x="574.1" y="673.7">0.8</text>
</g>
<text transform="translate(536 788) rotate(-90)" text-anchor="middle" font-size="21" fill="#4f4f4f" stroke="#4f4f4f" stroke-width="0.25"><tspan font-style="italic">Fv/Fm</tspan> value</text>
<text transform="translate(599.5 915.7) rotate(-90)" text-anchor="end" font-size="20.6" fill="#4a4a4a" stroke="#4a4a4a" stroke-width="0.3">Hydrated</text>
<text transform="translate(619.89 915.7) rotate(-90)" text-anchor="end" font-size="20.6" fill="#f3a765" stroke="#f3a765" stroke-width="0.3">D5min</text>
<text transform="translate(640.28 915.7) rotate(-90)" text-anchor="end" font-size="20.6" fill="#f3a765" stroke="#f3a765" stroke-width="0.3">D10min</text>
<text transform="translate(660.67 915.7) rotate(-90)" text-anchor="end" font-size="20.6" fill="#f3a765" stroke="#f3a765" stroke-width="0.3">D15min</text>
<text transform="translate(681.06 915.7) rotate(-90)" text-anchor="end" font-size="20.6" fill="#f3a765" stroke="#f3a765" stroke-width="0.3">D20min</text>
<text transform="translate(701.45 915.7) rotate(-90)" text-anchor="end" font-size="20.6" fill="#f3a765" stroke="#f3a765" stroke-width="0.3">D25min</text>
<text transform="translate(721.84 915.7) rotate(-90)" text-anchor="end" font-size="20.6" fill="#f3a765" stroke="#f3a765" stroke-width="0.3">D30min</text>
<text transform="translate(742.23 915.7) rotate(-90)" text-anchor="end" font-size="20.6" fill="#f3a765" stroke="#f3a765" stroke-width="0.3">D35min</text>
<text transform="translate(762.62 915.7) rotate(-90)" text-anchor="end" font-size="20.6" fill="#f3a765" stroke="#f3a765" stroke-width="0.3">D40min</text>
<text transform="translate(783.01 915.7) rotate(-90)" text-anchor="end" font-size="20.6" fill="#3fb98d" stroke="#3fb98d" stroke-width="0.3">R20s</text>
<text transform="translate(803.4 915.7) rotate(-90)" text-anchor="end" font-size="20.6" fill="#3fb98d" stroke="#3fb98d" stroke-width="0.3">R30s</text>
<text transform="translate(823.79 915.7) rotate(-90)" text-anchor="end" font-size="20.6" fill="#3fb98d" stroke="#3fb98d" stroke-width="0.3">R40s</text>
<text transform="translate(844.18 915.7) rotate(-90)" text-anchor="end" font-size="20.6" fill="#3fb98d" stroke="#3fb98d" stroke-width="0.3">R50s</text>
<text transform="translate(864.57 915.7) rotate(-90)" text-anchor="end" font-size="20.6" fill="#3fb98d" stroke="#3fb98d" stroke-width="0.3">R1min</text>
<text transform="translate(884.96 915.7) rotate(-90)" text-anchor="end" font-size="20.6" fill="#3fb98d" stroke="#3fb98d" stroke-width="0.3">R2min</text>
<text transform="translate(905.35 915.7) rotate(-90)" text-anchor="end" font-size="20.6" fill="#3fb98d" stroke="#3fb98d" stroke-width="0.3">R3min</text>
<text transform="translate(925.74 915.7) rotate(-90)" text-anchor="end" font-size="20.6" fill="#3fb98d" stroke="#3fb98d" stroke-width="0.3">R4min</text>
<text transform="translate(946.13 915.7) rotate(-90)" text-anchor="end" font-size="20.6" fill="#3fb98d" stroke="#3fb98d" stroke-width="0.3">R5min</text>
<g fill="none" stroke="#d5a219" stroke-width="1">
<path d="M592.4 700.6V717.4M587.4 700.6h10M587.4 717.4h10M612.77 723.4V744.6M607.77 723.4h10M607.77 744.6h10M633.14 742.4V759.6M628.14 742.4h10M628.14 759.6h10M653.51 766.9V782.3M648.51 766.9h10M648.51 782.3h10M673.88 789V815M668.88 789h10M668.88 815h10M694.25 825.8V852.2M689.25 825.8h10M689.25 852.2h10M714.62 836.8V873.2M709.62 836.8h10M709.62 873.2h10M734.99 866.4V892.8M729.99 866.4h10M729.99 892.8h10M775.73 769V789M770.73 769h10M770.73 789h10M796.1 748.9V768.1M791.1 748.9h10M791.1 768.1h10M816.47 737.5V758.5M811.47 737.5h10M811.47 758.5h10M836.84 726.8V742.8M831.84 726.8h10M831.84 742.8h10M857.21 720V742M852.21 720h10M852.21 742h10M877.58 720.5V732.5M872.58 720.5h10M872.58 732.5h10M897.95 710V728M892.95 710h10M892.95 728h10M918.32 710V726M913.32 710h10M913.32 726h10M938.69 703.7V721.7M933.69 703.7h10M933.69 721.7h10"/>
<polyline stroke-width="1.1" points="592.4,709 612.77,734 633.14,751 653.51,774.6 673.88,802 694.25,839 714.62,855 734.99,879.6 755.36,910 775.73,779 796.1,758.5 816.47,748 836.84,734.8 857.21,731 877.58,726.5 897.95,719 918.32,718 938.69,712.7"/>
</g>
<g fill="#d5a219">
<circle cx="592.4" cy="709" r="4.6"/>
<circle cx="612.77" cy="734" r="4.6"/>
<circle cx="633.14" cy="751" r="4.6"/>
<circle cx="653.51" cy="774.6" r="4.6"/>
<circle cx="673.88" cy="802" r="4.6"/>
<circle cx="694.25" cy="839" r="4.6"/>
<circle cx="714.62" cy="855" r="4.6"/>
<circle cx="734.99" cy="879.6" r="4.6"/>
<circle cx="755.36" cy="910" r="4.6"/>
<circle cx="775.73" cy="779" r="4.6"/>
<circle cx="796.1" cy="758.5" r="4.6"/>
<circle cx="816.47" cy="748" r="4.6"/>
<circle cx="836.84" cy="734.8" r="4.6"/>
<circle cx="857.21" cy="731" r="4.6"/>
<circle cx="877.58" cy="726.5" r="4.6"/>
<circle cx="897.95" cy="719" r="4.6"/>
<circle cx="918.32" cy="718" r="4.6"/>
<circle cx="938.69" cy="712.7" r="4.6"/>
</g>
<text class="star" x="612.65" y="719.46" text-anchor="middle" font-size="9.6" letter-spacing="-0.7" fill="#a8852a">★★★</text>
<text class="star" x="633.05" y="740.46" text-anchor="middle" font-size="9.6" letter-spacing="-0.7" fill="#a8852a">★★★</text>
<text class="star" x="653.65" y="764.86" text-anchor="middle" font-size="9.6" letter-spacing="-0.7" fill="#a8852a">★★★</text>
<text class="star" x="673.65" y="786.86" text-anchor="middle" font-size="9.6" letter-spacing="-0.7" fill="#a8852a">★★★</text>
<text class="star" x="695.05" y="823.06" text-anchor="middle" font-size="9.6" letter-spacing="-0.7" fill="#a8852a">★★★</text>
<text class="star" x="715.25" y="835.46" text-anchor="middle" font-size="9.6" letter-spacing="-0.7" fill="#a8852a">★★★</text>
<text class="star" x="735.65" y="866.06" text-anchor="middle" font-size="9.6" letter-spacing="-0.7" fill="#a8852a">★★★</text>
<text class="star" x="754.65" y="908.06" text-anchor="middle" font-size="9.6" letter-spacing="-0.7" fill="#a8852a">★★★</text>
<text class="star" x="775.05" y="767.26" text-anchor="middle" font-size="9.6" letter-spacing="-0.7" fill="#a8852a">★★★</text>
<text class="star" x="795.65" y="746.26" text-anchor="middle" font-size="9.6" letter-spacing="-0.7" fill="#a8852a">★★★</text>
<text class="star" x="817.65" y="734.46" text-anchor="middle" font-size="9.6" letter-spacing="-0.7" fill="#a8852a">★★★</text>
<text class="star" x="836.15" y="724.46" text-anchor="middle" font-size="9.6" letter-spacing="-0.7" fill="#a8852a">★★★</text>
<text class="star" x="858.05" y="717.96" text-anchor="middle" font-size="9.6" letter-spacing="-0.7" fill="#a8852a">★★★</text>
</svg></section>
<section class="panel" id="panel-e"><div class="badge" style="left:949.3px;top:616px">E</div>
<svg class="layer" width="1500" height="1000" viewBox="0 0 1500 1000" style="overflow:visible">
<g fill="#b6d898">
<rect x="1036.6" y="812.4" width="16.5" height="97.9"/>
<rect x="1059.59" y="762" width="16.5" height="148.3"/>
<rect x="1082.58" y="751.6" width="16.5" height="158.7"/>
<rect x="1105.57" y="732" width="16.5" height="178.3"/>
<rect x="1128.56" y="689.4" width="16.5" height="220.9"/>
<rect x="1151.55" y="685.6" width="16.5" height="224.7"/>
<rect x="1174.54" y="678.4" width="16.5" height="231.9"/>
<rect x="1197.53" y="672.6" width="16.5" height="237.7"/>
<rect x="1220.52" y="671" width="16.5" height="239.3"/>
<rect x="1243.51" y="699.4" width="16.5" height="210.9"/>
<rect x="1266.5" y="726" width="16.5" height="184.3"/>
<rect x="1289.49" y="785" width="16.5" height="125.3"/>
<rect x="1312.48" y="786.6" width="16.5" height="123.7"/>
<rect x="1335.47" y="801.6" width="16.5" height="108.7"/>
<rect x="1358.46" y="800" width="16.5" height="110.3"/>
<rect x="1381.45" y="807" width="16.5" height="103.3"/>
<rect x="1404.44" y="813" width="16.5" height="97.3"/>
</g>
<g fill="none" stroke="#5f5f66" stroke-width="1.2">
<path d="M1044.85 812.4V808.4M1041.35 808.4h7M1067.84 762V757M1064.34 757h7M1090.83 751.6V744.4M1087.33 744.4h7M1113.82 732V725M1110.32 725h7M1136.81 689.4V686M1133.31 686h7M1159.8 685.6V681.4M1156.3 681.4h7M1182.79 678.4V673.6M1179.29 673.6h7M1205.78 672.6V668.4M1202.28 668.4h7M1228.77 671V667M1225.27 667h7M1251.76 699.4V696M1248.26 696h7M1274.75 726V720M1271.25 720h7M1297.74 785V781.4M1294.24 781.4h7M1320.73 786.6V776.4M1317.23 776.4h7M1343.72 801.6V794.4M1340.22 794.4h7M1366.71 800V796M1363.21 796h7M1389.7 807V800.4M1386.2 800.4h7M1412.69 813V808.6M1409.19 808.6h7"/>
</g>
<g fill="none" stroke="#5a5a5a" stroke-width="1.6">
<path d="M1030 665.4 V910.3 H1429.6"/>
</g>
<path d="M1030 910.3h4M1030 861.5h4M1030 812.8h4M1030 764h4M1030 715.2h4M1030 666.4h4" fill="none" stroke="#5a5a5a" stroke-width="1.2"/>
<g font-size="21.3" fill="#575757" text-anchor="end" stroke="#575757" stroke-width="0.2">
<text x="1020.8" y="917.6">0</text>
<text x="1020.8" y="868.8">20</text>
<text x="1020.8" y="820.1">40</text>
<text x="1020.8" y="771.3">60</text>
<text x="1020.8" y="722.5">80</text>
<text x="1020.8" y="673.7">100</text>
</g>
<text transform="translate(981.6 788.5) rotate(-90)" text-anchor="middle" font-size="21" fill="#4f4f4f" stroke="#4f4f4f" stroke-width="0.25">Leaf angle (°)</text>
<text transform="translate(1051.6 914.6) rotate(-90)" text-anchor="end" font-size="20.6" fill="#4a4a4a" stroke="#4a4a4a" stroke-width="0.3">Hydrated</text>
<text transform="translate(1073 914.6) rotate(-90)" text-anchor="end" font-size="20.6" fill="#f3a765" stroke="#f3a765" stroke-width="0.3">D5min</text>
<text transform="translate(1095.6 914.6) rotate(-90)" text-anchor="end" font-size="20.6" fill="#f3a765" stroke="#f3a765" stroke-width="0.3">D10min</text>
<text transform="translate(1118.4 914.6) rotate(-90)" text-anchor="end" font-size="20.6" fill="#f3a765" stroke="#f3a765" stroke-width="0.3">D15min</text>
<text transform="translate(1144 914.6) rotate(-90)" text-anchor="end" font-size="20.6" fill="#f3a765" stroke="#f3a765" stroke-width="0.3">D20min</text>
<text transform="translate(1165 914.6) rotate(-90)" text-anchor="end" font-size="20.6" fill="#f3a765" stroke="#f3a765" stroke-width="0.3">D25min</text>
<text transform="translate(1188 914.6) rotate(-90)" text-anchor="end" font-size="20.6" fill="#f3a765" stroke="#f3a765" stroke-width="0.3">D30min</text>
<text transform="translate(1211 914.6) rotate(-90)" text-anchor="end" font-size="20.6" fill="#f3a765" stroke="#f3a765" stroke-width="0.3">D35min</text>
<text transform="translate(1234.2 914.6) rotate(-90)" text-anchor="end" font-size="20.6" fill="#f3a765" stroke="#f3a765" stroke-width="0.3">D40min</text>
<text transform="translate(1258.4 914.6) rotate(-90)" text-anchor="end" font-size="20.6" fill="#3fb98d" stroke="#3fb98d" stroke-width="0.3">R2s</text>
<text transform="translate(1281 914.6) rotate(-90)" text-anchor="end" font-size="20.6" fill="#3fb98d" stroke="#3fb98d" stroke-width="0.3">R5s</text>
<text transform="translate(1304 914.6) rotate(-90)" text-anchor="end" font-size="20.6" fill="#3fb98d" stroke="#3fb98d" stroke-width="0.3">R20s</text>
<text transform="translate(1326.4 914.6) rotate(-90)" text-anchor="end" font-size="20.6" fill="#3fb98d" stroke="#3fb98d" stroke-width="0.3">R1min</text>
<text transform="translate(1349 914.6) rotate(-90)" text-anchor="end" font-size="20.6" fill="#3fb98d" stroke="#3fb98d" stroke-width="0.3">R2min</text>
<text transform="translate(1373 914.6) rotate(-90)" text-anchor="end" font-size="20.6" fill="#3fb98d" stroke="#3fb98d" stroke-width="0.3">R3min</text>
<text transform="translate(1397 914.6) rotate(-90)" text-anchor="end" font-size="20.6" fill="#3fb98d" stroke="#3fb98d" stroke-width="0.3">R4min</text>
<text transform="translate(1420 914.6) rotate(-90)" text-anchor="end" font-size="20.6" fill="#3fb98d" stroke="#3fb98d" stroke-width="0.3">R5min</text>
<text class="star" x="1067.25" y="755.06" text-anchor="middle" font-size="9.6" letter-spacing="-0.7" fill="#6fae3f">★</text>
<text class="star" x="1090.25" y="742.46" text-anchor="middle" font-size="9.6" letter-spacing="-0.7" fill="#6fae3f">★★</text>
<text class="star" x="1113.25" y="723.46" text-anchor="middle" font-size="9.6" letter-spacing="-0.7" fill="#6fae3f">★★</text>
<text class="star" x="1136.65" y="684.46" text-anchor="middle" font-size="9.6" letter-spacing="-0.7" fill="#6fae3f">★★</text>
<text class="star" x="1159.05" y="679.06" text-anchor="middle" font-size="9.6" letter-spacing="-0.7" fill="#6fae3f">★★</text>
<text class="star" x="1182.25" y="672.06" text-anchor="middle" font-size="9.6" letter-spacing="-0.7" fill="#6fae3f">★★</text>
<text class="star" x="1205.05" y="665.46" text-anchor="middle" font-size="9.6" letter-spacing="-0.7" fill="#6fae3f">★★</text>
<text class="star" x="1228.65" y="665.46" text-anchor="middle" font-size="9.6" letter-spacing="-0.7" fill="#6fae3f">★★★</text>
<text class="star" x="1251.25" y="694.86" text-anchor="middle" font-size="9.6" letter-spacing="-0.7" fill="#6fae3f">★★</text>
<text class="star" x="1274.25" y="719.46" text-anchor="middle" font-size="9.6" letter-spacing="-0.7" fill="#6fae3f">★★</text>
</svg></section>
</div>
</body>
</html>
